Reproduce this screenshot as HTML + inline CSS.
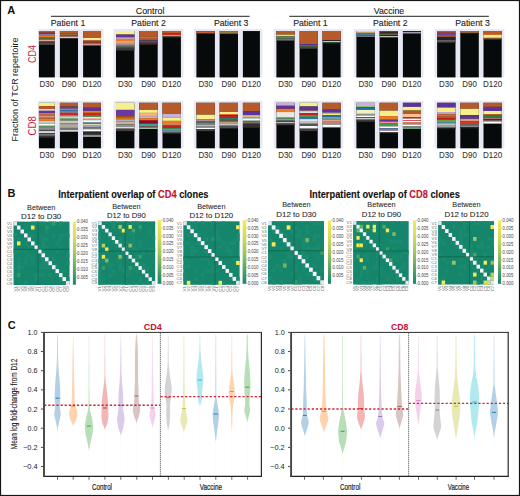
<!DOCTYPE html><html><head><meta charset="utf-8"><style>html,body{margin:0;padding:0;background:#fff;}svg{display:block;}</style></head><body><svg width="520" height="496" viewBox="0 0 520 496" font-family='"Liberation Sans", sans-serif'><text x="7.30" y="14.30" font-size="11" text-anchor="start" fill="#111" font-weight="bold" >A</text>
<text x="150.10" y="13.70" font-size="9" text-anchor="middle" fill="#1a1a1a" stroke="#1a1a1a" stroke-width="0.1" textLength="28.80" lengthAdjust="spacingAndGlyphs" >Control</text>
<line x1="51" y1="16.3" x2="249.5" y2="16.3" stroke="#222" stroke-width="1"/>
<text x="389.00" y="13.70" font-size="9" text-anchor="middle" fill="#1a1a1a" stroke="#1a1a1a" stroke-width="0.1" textLength="30.50" lengthAdjust="spacingAndGlyphs" >Vaccine</text>
<line x1="289.3" y1="16.3" x2="488.8" y2="16.3" stroke="#222" stroke-width="1"/>
<text x="68.00" y="26.00" font-size="8.8" text-anchor="middle" fill="#1a1a1a" stroke="#1a1a1a" stroke-width="0.1" textLength="34.50" lengthAdjust="spacingAndGlyphs" >Patient 1</text>
<text x="148.50" y="26.00" font-size="8.8" text-anchor="middle" fill="#1a1a1a" stroke="#1a1a1a" stroke-width="0.1" textLength="34.50" lengthAdjust="spacingAndGlyphs" >Patient 2</text>
<text x="231.20" y="26.00" font-size="8.8" text-anchor="middle" fill="#1a1a1a" stroke="#1a1a1a" stroke-width="0.1" textLength="34.50" lengthAdjust="spacingAndGlyphs" >Patient 3</text>
<text x="310.40" y="26.00" font-size="8.8" text-anchor="middle" fill="#1a1a1a" stroke="#1a1a1a" stroke-width="0.1" textLength="34.50" lengthAdjust="spacingAndGlyphs" >Patient 1</text>
<text x="390.30" y="26.00" font-size="8.8" text-anchor="middle" fill="#1a1a1a" stroke="#1a1a1a" stroke-width="0.1" textLength="34.50" lengthAdjust="spacingAndGlyphs" >Patient 2</text>
<text x="472.50" y="26.00" font-size="8.8" text-anchor="middle" fill="#1a1a1a" stroke="#1a1a1a" stroke-width="0.1" textLength="34.50" lengthAdjust="spacingAndGlyphs" >Patient 3</text>
<defs><linearGradient id="bgfade" x1="0" x2="1" y1="0" y2="0"><stop offset="0" stop-color="#e3e3f1"/><stop offset="1" stop-color="#e3e3f1"/></linearGradient></defs>
<rect x="38.60" y="29.00" width="64.90" height="48.40" fill="#e8e8f4"/>
<rect x="38.90" y="31.00" width="15.90" height="46.40" fill="#070a0b"/>
<rect x="38.90" y="31.00" width="15.90" height="1.80" fill="#b65a2a"/>
<rect x="38.90" y="32.80" width="15.90" height="1.60" fill="#5f329c"/>
<rect x="38.90" y="34.40" width="15.90" height="1.10" fill="#cbb6dc"/>
<rect x="38.90" y="35.50" width="15.90" height="2.10" fill="#ee7a22"/>
<rect x="38.90" y="37.60" width="15.90" height="1.00" fill="#a8703e"/>
<rect x="38.90" y="38.60" width="15.90" height="1.30" fill="#3f9a46"/>
<rect x="38.90" y="39.90" width="15.90" height="1.60" fill="#e3a394"/>
<rect x="38.90" y="41.50" width="15.90" height="1.70" fill="#4a3b33"/>
<rect x="38.90" y="43.20" width="15.90" height="1.60" fill="#555"/>
<text x="46.85" y="86.90" font-size="8.3" text-anchor="middle" fill="#333" stroke="#333" stroke-width="0.08" textLength="14.50" lengthAdjust="spacingAndGlyphs" >D30</text>
<rect x="59.90" y="31.00" width="18.10" height="46.40" fill="#070a0b"/>
<rect x="59.90" y="31.00" width="18.10" height="2.80" fill="#b65a2a"/>
<rect x="59.90" y="33.80" width="18.10" height="1.70" fill="#8d6a3f"/>
<rect x="59.90" y="35.50" width="18.10" height="1.10" fill="#b65a2a"/>
<rect x="59.90" y="36.60" width="18.10" height="1.70" fill="#e6c2b6"/>
<rect x="59.90" y="38.30" width="18.10" height="0.70" fill="#2a2a3a"/>
<text x="68.95" y="86.90" font-size="8.3" text-anchor="middle" fill="#333" stroke="#333" stroke-width="0.08" textLength="14.50" lengthAdjust="spacingAndGlyphs" >D90</text>
<rect x="83.10" y="31.00" width="17.80" height="46.40" fill="#070a0b"/>
<rect x="83.10" y="31.00" width="17.80" height="7.00" fill="#b65a2a"/>
<rect x="83.10" y="38.00" width="17.80" height="2.60" fill="#f7f08a"/>
<rect x="83.10" y="40.60" width="17.80" height="2.20" fill="#cf2424"/>
<rect x="83.10" y="42.80" width="17.80" height="1.30" fill="#4a80a0"/>
<rect x="83.10" y="44.10" width="17.80" height="1.30" fill="#e0a494"/>
<text x="92.00" y="86.90" font-size="8.3" text-anchor="middle" fill="#333" stroke="#333" stroke-width="0.08" textLength="19.20" lengthAdjust="spacingAndGlyphs" >D120</text>
<rect x="113.40" y="29.00" width="70.10" height="48.40" fill="#e8e8f4"/>
<rect x="116.00" y="31.00" width="18.40" height="46.40" fill="#070a0b"/>
<rect x="116.00" y="31.00" width="18.40" height="3.60" fill="#f7f08a"/>
<rect x="116.00" y="34.60" width="18.40" height="2.70" fill="#5f329c"/>
<rect x="116.00" y="37.30" width="18.40" height="1.60" fill="#cbb6dc"/>
<rect x="116.00" y="38.90" width="18.40" height="2.10" fill="#ee7a22"/>
<rect x="116.00" y="41.00" width="18.40" height="2.00" fill="#e8a070"/>
<rect x="116.00" y="43.00" width="18.40" height="1.00" fill="#90a890"/>
<rect x="116.00" y="44.00" width="18.40" height="1.80" fill="#939393"/>
<rect x="116.00" y="45.80" width="18.40" height="2.00" fill="#6a6060"/>
<rect x="116.00" y="47.80" width="18.40" height="2.70" fill="#3a3a3a"/>
<text x="125.20" y="86.90" font-size="8.3" text-anchor="middle" fill="#333" stroke="#333" stroke-width="0.08" textLength="14.50" lengthAdjust="spacingAndGlyphs" >D30</text>
<rect x="139.20" y="31.00" width="18.50" height="46.40" fill="#070a0b"/>
<rect x="139.20" y="31.00" width="18.50" height="5.90" fill="#b65a2a"/>
<rect x="139.20" y="36.90" width="18.50" height="1.10" fill="#a08050"/>
<rect x="139.20" y="38.00" width="18.50" height="1.00" fill="#b65a2a"/>
<rect x="139.20" y="39.00" width="18.50" height="0.60" fill="#e0b080"/>
<rect x="139.20" y="39.60" width="18.50" height="1.00" fill="#6a5060"/>
<rect x="139.20" y="40.60" width="18.50" height="2.20" fill="#5a4a7a"/>
<rect x="139.20" y="42.80" width="18.50" height="1.90" fill="#4a3020"/>
<text x="148.45" y="86.90" font-size="8.3" text-anchor="middle" fill="#333" stroke="#333" stroke-width="0.08" textLength="14.50" lengthAdjust="spacingAndGlyphs" >D90</text>
<rect x="162.50" y="31.00" width="18.40" height="46.40" fill="#070a0b"/>
<rect x="162.50" y="31.00" width="18.40" height="2.70" fill="#b65a2a"/>
<rect x="162.50" y="33.70" width="18.40" height="1.40" fill="#cf2424"/>
<rect x="162.50" y="35.10" width="18.40" height="1.40" fill="#a0d070"/>
<rect x="162.50" y="36.50" width="18.40" height="1.00" fill="#4a3020"/>
<text x="171.70" y="86.90" font-size="8.3" text-anchor="middle" fill="#333" stroke="#333" stroke-width="0.08" textLength="19.20" lengthAdjust="spacingAndGlyphs" >D120</text>
<rect x="193.80" y="29.00" width="68.70" height="48.40" fill="#e8e8f4"/>
<rect x="196.40" y="31.00" width="18.50" height="46.40" fill="#070a0b"/>
<rect x="196.40" y="31.00" width="18.50" height="0.80" fill="#7070a0"/>
<rect x="196.40" y="31.80" width="18.50" height="1.40" fill="#c06030"/>
<rect x="196.40" y="33.20" width="18.50" height="0.80" fill="#404040"/>
<text x="205.65" y="86.90" font-size="8.3" text-anchor="middle" fill="#333" stroke="#333" stroke-width="0.08" textLength="14.50" lengthAdjust="spacingAndGlyphs" >D30</text>
<rect x="219.60" y="31.00" width="18.40" height="46.40" fill="#070a0b"/>
<rect x="219.60" y="31.00" width="18.40" height="1.40" fill="#b65a2a"/>
<rect x="219.60" y="32.40" width="18.40" height="1.10" fill="#d0b060"/>
<text x="228.80" y="86.90" font-size="8.3" text-anchor="middle" fill="#333" stroke="#333" stroke-width="0.08" textLength="14.50" lengthAdjust="spacingAndGlyphs" >D90</text>
<rect x="242.90" y="31.00" width="17.00" height="46.40" fill="#070a0b"/>
<rect x="242.90" y="31.00" width="17.00" height="0.50" fill="#2a1a1a"/>
<text x="251.40" y="86.90" font-size="8.3" text-anchor="middle" fill="#333" stroke="#333" stroke-width="0.08" textLength="19.20" lengthAdjust="spacingAndGlyphs" >D120</text>
<rect x="273.80" y="29.00" width="69.40" height="48.40" fill="#e8e8f4"/>
<rect x="276.40" y="31.00" width="18.20" height="46.40" fill="#070a0b"/>
<rect x="276.40" y="31.00" width="18.20" height="3.60" fill="#b65a2a"/>
<rect x="276.40" y="34.60" width="18.20" height="1.90" fill="#e8e070"/>
<rect x="276.40" y="36.50" width="18.20" height="1.70" fill="#4a8a4a"/>
<rect x="276.40" y="38.20" width="18.20" height="2.40" fill="#707070"/>
<text x="285.50" y="86.90" font-size="8.3" text-anchor="middle" fill="#333" stroke="#333" stroke-width="0.08" textLength="14.50" lengthAdjust="spacingAndGlyphs" >D30</text>
<rect x="299.60" y="31.00" width="18.10" height="46.40" fill="#070a0b"/>
<rect x="299.60" y="31.00" width="18.10" height="13.10" fill="#b65a2a"/>
<rect x="299.60" y="44.10" width="18.10" height="1.20" fill="#5f329c"/>
<rect x="299.60" y="45.30" width="18.10" height="1.10" fill="#a08040"/>
<rect x="299.60" y="46.40" width="18.10" height="1.10" fill="#3a6a3a"/>
<rect x="299.60" y="47.50" width="18.10" height="1.00" fill="#606060"/>
<text x="308.65" y="86.90" font-size="8.3" text-anchor="middle" fill="#333" stroke="#333" stroke-width="0.08" textLength="14.50" lengthAdjust="spacingAndGlyphs" >D90</text>
<rect x="322.50" y="31.00" width="18.10" height="46.40" fill="#070a0b"/>
<rect x="322.50" y="31.00" width="18.10" height="9.00" fill="#b65a2a"/>
<rect x="322.50" y="40.00" width="18.10" height="1.00" fill="#3a2030"/>
<rect x="322.50" y="41.00" width="18.10" height="1.10" fill="#c0c0d0"/>
<rect x="322.50" y="42.10" width="18.10" height="1.20" fill="#2a5a3a"/>
<text x="331.55" y="86.90" font-size="8.3" text-anchor="middle" fill="#333" stroke="#333" stroke-width="0.08" textLength="19.20" lengthAdjust="spacingAndGlyphs" >D120</text>
<rect x="353.80" y="29.00" width="69.70" height="48.40" fill="#e8e8f4"/>
<rect x="356.40" y="31.00" width="18.50" height="46.40" fill="#070a0b"/>
<rect x="356.40" y="31.00" width="18.50" height="1.80" fill="#e0d890"/>
<rect x="356.40" y="32.80" width="18.50" height="1.00" fill="#e06030"/>
<rect x="356.40" y="33.80" width="18.50" height="1.70" fill="#4a7aa0"/>
<rect x="356.40" y="35.50" width="18.50" height="1.40" fill="#808080"/>
<text x="365.65" y="86.90" font-size="8.3" text-anchor="middle" fill="#333" stroke="#333" stroke-width="0.08" textLength="14.50" lengthAdjust="spacingAndGlyphs" >D30</text>
<rect x="379.60" y="31.00" width="18.40" height="46.40" fill="#070a0b"/>
<rect x="379.60" y="31.00" width="18.40" height="1.50" fill="#7a3a20"/>
<rect x="379.60" y="32.50" width="18.40" height="1.00" fill="#3a2a3a"/>
<rect x="379.60" y="33.50" width="18.40" height="1.50" fill="#5a6a3a"/>
<rect x="379.60" y="35.00" width="18.40" height="0.90" fill="#111"/>
<rect x="379.60" y="35.90" width="18.40" height="1.40" fill="#c0c0c0"/>
<text x="388.80" y="86.90" font-size="8.3" text-anchor="middle" fill="#333" stroke="#333" stroke-width="0.08" textLength="14.50" lengthAdjust="spacingAndGlyphs" >D90</text>
<rect x="402.90" y="31.00" width="18.00" height="46.40" fill="#070a0b"/>
<rect x="402.90" y="31.00" width="18.00" height="1.00" fill="#2a1a2a"/>
<rect x="402.90" y="32.00" width="18.00" height="1.50" fill="#a898b8"/>
<text x="411.90" y="86.90" font-size="8.3" text-anchor="middle" fill="#333" stroke="#333" stroke-width="0.08" textLength="19.20" lengthAdjust="spacingAndGlyphs" >D120</text>
<rect x="434.50" y="29.00" width="69.80" height="48.40" fill="#e8e8f4"/>
<rect x="437.10" y="31.00" width="18.40" height="46.40" fill="#070a0b"/>
<rect x="437.10" y="31.00" width="18.40" height="1.80" fill="#b65a2a"/>
<rect x="437.10" y="32.80" width="18.40" height="2.30" fill="#7040a0"/>
<rect x="437.10" y="35.10" width="18.40" height="1.80" fill="#c05a28"/>
<rect x="437.10" y="36.90" width="18.40" height="3.10" fill="#1a2a2a"/>
<rect x="437.10" y="40.00" width="18.40" height="1.90" fill="#606060"/>
<rect x="437.10" y="41.90" width="18.40" height="1.10" fill="#303030"/>
<text x="446.30" y="86.90" font-size="8.3" text-anchor="middle" fill="#333" stroke="#333" stroke-width="0.08" textLength="14.50" lengthAdjust="spacingAndGlyphs" >D30</text>
<rect x="460.30" y="31.00" width="18.50" height="46.40" fill="#070a0b"/>
<rect x="460.30" y="31.00" width="18.50" height="1.50" fill="#b65a2a"/>
<rect x="460.30" y="32.50" width="18.50" height="0.70" fill="#c09050"/>
<rect x="460.30" y="33.20" width="18.50" height="0.80" fill="#201830"/>
<text x="469.55" y="86.90" font-size="8.3" text-anchor="middle" fill="#333" stroke="#333" stroke-width="0.08" textLength="14.50" lengthAdjust="spacingAndGlyphs" >D90</text>
<rect x="483.50" y="31.00" width="18.20" height="46.40" fill="#070a0b"/>
<rect x="483.50" y="31.00" width="18.20" height="3.10" fill="#b65a2a"/>
<rect x="483.50" y="34.10" width="18.20" height="0.90" fill="#ee7a22"/>
<rect x="483.50" y="35.00" width="18.20" height="2.80" fill="#f7f08a"/>
<rect x="483.50" y="37.80" width="18.20" height="0.70" fill="#f0b080"/>
<rect x="483.50" y="38.50" width="18.20" height="1.00" fill="#6a5040"/>
<text x="492.60" y="86.90" font-size="8.3" text-anchor="middle" fill="#333" stroke="#333" stroke-width="0.08" textLength="19.20" lengthAdjust="spacingAndGlyphs" >D120</text>
<rect x="38.60" y="100.80" width="64.90" height="47.50" fill="#e8e8f4"/>
<rect x="38.90" y="102.80" width="15.90" height="45.50" fill="#070a0b"/>
<rect x="38.90" y="102.80" width="15.90" height="3.30" fill="#f7f08a"/>
<rect x="38.90" y="106.10" width="15.90" height="2.90" fill="#b65a2a"/>
<rect x="38.90" y="109.00" width="15.90" height="1.90" fill="#d8c8e8"/>
<rect x="38.90" y="110.90" width="15.90" height="2.50" fill="#5f329c"/>
<rect x="38.90" y="113.40" width="15.90" height="0.90" fill="#f0d0b0"/>
<rect x="38.90" y="114.30" width="15.90" height="1.20" fill="#ee7a22"/>
<rect x="38.90" y="115.50" width="15.90" height="1.50" fill="#e09090"/>
<rect x="38.90" y="117.00" width="15.90" height="1.30" fill="#60a060"/>
<rect x="38.90" y="118.30" width="15.90" height="2.60" fill="#ee7a22"/>
<rect x="38.90" y="120.90" width="15.90" height="2.80" fill="#c0c8d0"/>
<rect x="38.90" y="123.70" width="15.90" height="2.10" fill="#ffffff"/>
<rect x="38.90" y="125.80" width="15.90" height="1.00" fill="#50a050"/>
<rect x="38.90" y="126.80" width="15.90" height="0.70" fill="#d0d0d0"/>
<rect x="38.90" y="127.50" width="15.90" height="2.40" fill="#909090"/>
<rect x="38.90" y="129.90" width="15.90" height="1.10" fill="#505050"/>
<rect x="38.90" y="131.00" width="15.90" height="1.20" fill="#c8c8c8"/>
<rect x="38.90" y="132.20" width="15.90" height="1.00" fill="#ffffff"/>
<rect x="38.90" y="133.20" width="15.90" height="1.20" fill="#404040"/>
<rect x="38.90" y="134.40" width="15.90" height="1.10" fill="#b0b0b0"/>
<rect x="38.90" y="135.50" width="15.90" height="1.00" fill="#666"/>
<rect x="38.90" y="136.50" width="15.90" height="1.20" fill="#333"/>
<text x="46.85" y="157.50" font-size="8.3" text-anchor="middle" fill="#333" stroke="#333" stroke-width="0.08" textLength="14.50" lengthAdjust="spacingAndGlyphs" >D30</text>
<rect x="59.90" y="102.80" width="18.10" height="45.50" fill="#070a0b"/>
<rect x="59.90" y="102.80" width="18.10" height="3.90" fill="#b65a2a"/>
<rect x="59.90" y="106.70" width="18.10" height="2.00" fill="#6040a0"/>
<rect x="59.90" y="108.70" width="18.10" height="1.10" fill="#f0a0b0"/>
<rect x="59.90" y="109.80" width="18.10" height="1.70" fill="#3070a0"/>
<rect x="59.90" y="111.50" width="18.10" height="1.20" fill="#a0d0f0"/>
<rect x="59.90" y="112.70" width="18.10" height="2.40" fill="#d82020"/>
<rect x="59.90" y="115.10" width="18.10" height="1.10" fill="#ee7a22"/>
<rect x="59.90" y="116.20" width="18.10" height="2.10" fill="#c8d8c0"/>
<rect x="59.90" y="118.30" width="18.10" height="1.20" fill="#a0c8a0"/>
<rect x="59.90" y="119.50" width="18.10" height="1.00" fill="#70a870"/>
<rect x="59.90" y="120.50" width="18.10" height="3.00" fill="#d0c8b0"/>
<rect x="59.90" y="123.50" width="18.10" height="1.50" fill="#a0a0a0"/>
<rect x="59.90" y="125.00" width="18.10" height="2.00" fill="#b0a898"/>
<rect x="59.90" y="127.00" width="18.10" height="1.00" fill="#999"/>
<rect x="59.90" y="128.00" width="18.10" height="1.70" fill="#707070"/>
<rect x="59.90" y="129.70" width="18.10" height="1.30" fill="#d0d0d0"/>
<rect x="59.90" y="131.00" width="18.10" height="0.60" fill="#ffffff"/>
<text x="68.95" y="157.50" font-size="8.3" text-anchor="middle" fill="#333" stroke="#333" stroke-width="0.08" textLength="14.50" lengthAdjust="spacingAndGlyphs" >D90</text>
<rect x="83.10" y="102.80" width="17.80" height="45.50" fill="#070a0b"/>
<rect x="83.10" y="102.80" width="17.80" height="5.00" fill="#b65a2a"/>
<rect x="83.10" y="107.80" width="17.80" height="3.10" fill="#5f329c"/>
<rect x="83.10" y="110.90" width="17.80" height="2.00" fill="#ee7a22"/>
<rect x="83.10" y="112.90" width="17.80" height="2.20" fill="#cf2424"/>
<rect x="83.10" y="115.10" width="17.80" height="1.70" fill="#30a040"/>
<rect x="83.10" y="116.80" width="17.80" height="1.20" fill="#f0f0a0"/>
<rect x="83.10" y="118.00" width="17.80" height="1.60" fill="#f0b0b0"/>
<rect x="83.10" y="119.60" width="17.80" height="1.40" fill="#e0e0e0"/>
<rect x="83.10" y="121.00" width="17.80" height="1.60" fill="#ffffff"/>
<rect x="83.10" y="122.60" width="17.80" height="1.50" fill="#3a80b0"/>
<rect x="83.10" y="124.10" width="17.80" height="0.90" fill="#f0f0b0"/>
<rect x="83.10" y="125.00" width="17.80" height="2.60" fill="#a0a0c0"/>
<rect x="83.10" y="127.60" width="17.80" height="1.40" fill="#808080"/>
<rect x="83.10" y="129.00" width="17.80" height="1.00" fill="#d0d0d0"/>
<rect x="83.10" y="130.00" width="17.80" height="1.20" fill="#ffffff"/>
<rect x="83.10" y="131.20" width="17.80" height="1.00" fill="#777"/>
<rect x="83.10" y="132.20" width="17.80" height="2.60" fill="#303030"/>
<rect x="83.10" y="134.80" width="17.80" height="2.20" fill="#909090"/>
<text x="92.00" y="157.50" font-size="8.3" text-anchor="middle" fill="#333" stroke="#333" stroke-width="0.08" textLength="19.20" lengthAdjust="spacingAndGlyphs" >D120</text>
<rect x="113.40" y="100.80" width="70.10" height="47.50" fill="#e8e8f4"/>
<rect x="116.00" y="102.80" width="18.40" height="45.50" fill="#070a0b"/>
<rect x="116.00" y="102.80" width="18.40" height="7.10" fill="#f7f08a"/>
<rect x="116.00" y="109.90" width="18.40" height="6.20" fill="#6a38a0"/>
<rect x="116.00" y="116.10" width="18.40" height="2.00" fill="#b05a28"/>
<rect x="116.00" y="118.10" width="18.40" height="2.10" fill="#ee7a22"/>
<rect x="116.00" y="120.20" width="18.40" height="1.30" fill="#c0d8f0"/>
<rect x="116.00" y="121.50" width="18.40" height="2.80" fill="#d0b090"/>
<rect x="116.00" y="124.30" width="18.40" height="2.70" fill="#909090"/>
<rect x="116.00" y="127.00" width="18.40" height="1.50" fill="#f0d8d0"/>
<rect x="116.00" y="128.50" width="18.40" height="0.50" fill="#888"/>
<rect x="116.00" y="129.00" width="18.40" height="2.10" fill="#404040"/>
<text x="125.20" y="157.50" font-size="8.3" text-anchor="middle" fill="#333" stroke="#333" stroke-width="0.08" textLength="14.50" lengthAdjust="spacingAndGlyphs" >D30</text>
<rect x="139.20" y="102.80" width="18.50" height="45.50" fill="#070a0b"/>
<rect x="139.20" y="102.80" width="18.50" height="7.10" fill="#b65a2a"/>
<rect x="139.20" y="109.90" width="18.50" height="3.00" fill="#f7f08a"/>
<rect x="139.20" y="112.90" width="18.50" height="3.20" fill="#f8b070"/>
<rect x="139.20" y="116.10" width="18.50" height="2.00" fill="#c8b0d8"/>
<rect x="139.20" y="118.10" width="18.50" height="2.10" fill="#ee7a22"/>
<rect x="139.20" y="120.20" width="18.50" height="1.30" fill="#cf2424"/>
<rect x="139.20" y="121.50" width="18.50" height="2.10" fill="#801830"/>
<rect x="139.20" y="123.60" width="18.50" height="1.60" fill="#40a0a0"/>
<rect x="139.20" y="125.20" width="18.50" height="1.30" fill="#b09080"/>
<rect x="139.20" y="126.50" width="18.50" height="1.20" fill="#806060"/>
<rect x="139.20" y="127.70" width="18.50" height="1.10" fill="#c8e8c8"/>
<text x="148.45" y="157.50" font-size="8.3" text-anchor="middle" fill="#333" stroke="#333" stroke-width="0.08" textLength="14.50" lengthAdjust="spacingAndGlyphs" >D90</text>
<rect x="162.50" y="102.80" width="18.40" height="45.50" fill="#070a0b"/>
<rect x="162.50" y="102.80" width="18.40" height="11.00" fill="#b65a2a"/>
<rect x="162.50" y="113.80" width="18.40" height="3.60" fill="#c8b0d8"/>
<rect x="162.50" y="117.40" width="18.40" height="3.50" fill="#f7f08a"/>
<rect x="162.50" y="120.90" width="18.40" height="3.40" fill="#ee7a22"/>
<rect x="162.50" y="124.30" width="18.40" height="1.20" fill="#f8b080"/>
<rect x="162.50" y="125.50" width="18.40" height="1.90" fill="#c82020"/>
<rect x="162.50" y="127.40" width="18.40" height="1.60" fill="#3a8a4a"/>
<rect x="162.50" y="129.00" width="18.40" height="1.00" fill="#909070"/>
<rect x="162.50" y="130.00" width="18.40" height="1.50" fill="#6080a0"/>
<rect x="162.50" y="131.50" width="18.40" height="1.00" fill="#c0c0c0"/>
<rect x="162.50" y="132.50" width="18.40" height="1.00" fill="#444"/>
<text x="171.70" y="157.50" font-size="8.3" text-anchor="middle" fill="#333" stroke="#333" stroke-width="0.08" textLength="19.20" lengthAdjust="spacingAndGlyphs" >D120</text>
<rect x="193.80" y="100.80" width="68.70" height="47.50" fill="#e8e8f4"/>
<rect x="196.40" y="102.80" width="18.50" height="45.50" fill="#070a0b"/>
<rect x="196.40" y="102.80" width="18.50" height="11.90" fill="#b65a2a"/>
<rect x="196.40" y="114.70" width="18.50" height="4.80" fill="#f7f08a"/>
<rect x="196.40" y="119.50" width="18.50" height="2.00" fill="#b08aa0"/>
<rect x="196.40" y="121.50" width="18.50" height="1.00" fill="#4a8a4a"/>
<rect x="196.40" y="122.50" width="18.50" height="2.50" fill="#808080"/>
<rect x="196.40" y="125.00" width="18.50" height="1.00" fill="#b0c0b0"/>
<rect x="196.40" y="126.00" width="18.50" height="1.70" fill="#888"/>
<rect x="196.40" y="127.70" width="18.50" height="1.30" fill="#ffffff"/>
<rect x="196.40" y="129.00" width="18.50" height="2.10" fill="#404040"/>
<text x="205.65" y="157.50" font-size="8.3" text-anchor="middle" fill="#333" stroke="#333" stroke-width="0.08" textLength="14.50" lengthAdjust="spacingAndGlyphs" >D30</text>
<rect x="219.60" y="102.80" width="18.40" height="45.50" fill="#070a0b"/>
<rect x="219.60" y="102.80" width="18.40" height="9.20" fill="#b65a2a"/>
<rect x="219.60" y="112.00" width="18.40" height="2.00" fill="#f7f08a"/>
<rect x="219.60" y="114.00" width="18.40" height="1.50" fill="#e07030"/>
<rect x="219.60" y="115.50" width="18.40" height="0.50" fill="#333"/>
<rect x="219.60" y="116.00" width="18.40" height="1.50" fill="#d02030"/>
<rect x="219.60" y="117.50" width="18.40" height="1.70" fill="#308060"/>
<rect x="219.60" y="119.20" width="18.40" height="1.30" fill="#607060"/>
<rect x="219.60" y="120.50" width="18.40" height="1.30" fill="#807060"/>
<rect x="219.60" y="121.80" width="18.40" height="1.70" fill="#c0a080"/>
<rect x="219.60" y="123.50" width="18.40" height="0.80" fill="#ddd"/>
<rect x="219.60" y="124.30" width="18.40" height="1.30" fill="#ffffff"/>
<rect x="219.60" y="125.60" width="18.40" height="2.80" fill="#505050"/>
<text x="228.80" y="157.50" font-size="8.3" text-anchor="middle" fill="#333" stroke="#333" stroke-width="0.08" textLength="14.50" lengthAdjust="spacingAndGlyphs" >D90</text>
<rect x="242.90" y="102.80" width="17.00" height="45.50" fill="#070a0b"/>
<rect x="242.90" y="102.80" width="17.00" height="8.80" fill="#b65a2a"/>
<rect x="242.90" y="111.60" width="17.00" height="3.50" fill="#5f329c"/>
<rect x="242.90" y="115.10" width="17.00" height="2.30" fill="#e0c070"/>
<rect x="242.90" y="117.40" width="17.00" height="1.60" fill="#a0d0e0"/>
<rect x="242.90" y="119.00" width="17.00" height="1.50" fill="#ffffff"/>
<rect x="242.90" y="120.50" width="17.00" height="1.00" fill="#ddd"/>
<rect x="242.90" y="121.50" width="17.00" height="1.00" fill="#c02020"/>
<rect x="242.90" y="122.50" width="17.00" height="1.00" fill="#a0d0a0"/>
<rect x="242.90" y="123.50" width="17.00" height="4.20" fill="#303030"/>
<text x="251.40" y="157.50" font-size="8.3" text-anchor="middle" fill="#333" stroke="#333" stroke-width="0.08" textLength="19.20" lengthAdjust="spacingAndGlyphs" >D120</text>
<rect x="273.80" y="100.80" width="69.40" height="47.50" fill="#e8e8f4"/>
<rect x="276.40" y="102.80" width="18.20" height="45.50" fill="#070a0b"/>
<rect x="276.40" y="102.80" width="18.20" height="3.00" fill="#c8b0d8"/>
<rect x="276.40" y="105.80" width="18.20" height="3.00" fill="#5f329c"/>
<rect x="276.40" y="108.80" width="18.20" height="3.20" fill="#ee7a22"/>
<rect x="276.40" y="112.00" width="18.20" height="1.00" fill="#f0d8c8"/>
<rect x="276.40" y="113.00" width="18.20" height="4.40" fill="#e8e8e8"/>
<rect x="276.40" y="117.40" width="18.20" height="1.10" fill="#a0c8a0"/>
<rect x="276.40" y="118.50" width="18.20" height="1.10" fill="#50a050"/>
<rect x="276.40" y="119.60" width="18.20" height="0.90" fill="#ffffff"/>
<rect x="276.40" y="120.50" width="18.20" height="1.50" fill="#444"/>
<rect x="276.40" y="122.00" width="18.20" height="1.50" fill="#c0c0c0"/>
<rect x="276.40" y="123.50" width="18.20" height="1.70" fill="#404040"/>
<text x="285.50" y="157.50" font-size="8.3" text-anchor="middle" fill="#333" stroke="#333" stroke-width="0.08" textLength="14.50" lengthAdjust="spacingAndGlyphs" >D30</text>
<rect x="299.60" y="102.80" width="18.10" height="45.50" fill="#070a0b"/>
<rect x="299.60" y="102.80" width="18.10" height="3.70" fill="#f7f08a"/>
<rect x="299.60" y="106.50" width="18.10" height="4.10" fill="#5f329c"/>
<rect x="299.60" y="110.60" width="18.10" height="1.40" fill="#f0c080"/>
<rect x="299.60" y="112.00" width="18.10" height="1.00" fill="#ddd"/>
<rect x="299.60" y="113.00" width="18.10" height="2.00" fill="#c02020"/>
<rect x="299.60" y="115.00" width="18.10" height="1.80" fill="#40a040"/>
<rect x="299.60" y="116.80" width="18.10" height="0.70" fill="#a0d070"/>
<rect x="299.60" y="117.50" width="18.10" height="1.70" fill="#3070b0"/>
<rect x="299.60" y="119.20" width="18.10" height="1.70" fill="#ffffff"/>
<rect x="299.60" y="120.90" width="18.10" height="2.70" fill="#c0c0c0"/>
<rect x="299.60" y="123.60" width="18.10" height="0.90" fill="#c0a0a0"/>
<rect x="299.60" y="124.50" width="18.10" height="1.50" fill="#555"/>
<rect x="299.60" y="126.00" width="18.10" height="2.00" fill="#f4f4f4"/>
<rect x="299.60" y="128.00" width="18.10" height="1.30" fill="#888"/>
<rect x="299.60" y="129.30" width="18.10" height="1.80" fill="#404040"/>
<text x="308.65" y="157.50" font-size="8.3" text-anchor="middle" fill="#333" stroke="#333" stroke-width="0.08" textLength="14.50" lengthAdjust="spacingAndGlyphs" >D90</text>
<rect x="322.50" y="102.80" width="18.10" height="45.50" fill="#070a0b"/>
<rect x="322.50" y="102.80" width="18.10" height="6.90" fill="#b65a2a"/>
<rect x="322.50" y="109.70" width="18.10" height="3.00" fill="#5f329c"/>
<rect x="322.50" y="112.70" width="18.10" height="0.80" fill="#fafae0"/>
<rect x="322.50" y="113.50" width="18.10" height="1.60" fill="#f0f080"/>
<rect x="322.50" y="115.10" width="18.10" height="1.90" fill="#3070a0"/>
<rect x="322.50" y="117.00" width="18.10" height="2.50" fill="#70a0a0"/>
<rect x="322.50" y="119.50" width="18.10" height="1.40" fill="#f0b080"/>
<rect x="322.50" y="120.90" width="18.10" height="0.60" fill="#eee"/>
<rect x="322.50" y="121.50" width="18.10" height="1.40" fill="#f08090"/>
<rect x="322.50" y="122.90" width="18.10" height="1.80" fill="#80a080"/>
<rect x="322.50" y="124.70" width="18.10" height="1.30" fill="#ffffff"/>
<rect x="322.50" y="126.00" width="18.10" height="1.40" fill="#eeeeee"/>
<text x="331.55" y="157.50" font-size="8.3" text-anchor="middle" fill="#333" stroke="#333" stroke-width="0.08" textLength="19.20" lengthAdjust="spacingAndGlyphs" >D120</text>
<rect x="353.80" y="100.80" width="69.70" height="47.50" fill="#e8e8f4"/>
<rect x="356.40" y="102.80" width="18.50" height="45.50" fill="#070a0b"/>
<rect x="356.40" y="102.80" width="18.50" height="3.30" fill="#c8b0d8"/>
<rect x="356.40" y="106.10" width="18.50" height="1.10" fill="#a0d080"/>
<rect x="356.40" y="107.20" width="18.50" height="2.70" fill="#2070a8"/>
<rect x="356.40" y="109.90" width="18.50" height="3.40" fill="#f0f0c0"/>
<rect x="356.40" y="113.30" width="18.50" height="1.20" fill="#ffffff"/>
<rect x="356.40" y="114.50" width="18.50" height="1.00" fill="#a0a0a0"/>
<rect x="356.40" y="115.50" width="18.50" height="1.50" fill="#ffffff"/>
<rect x="356.40" y="117.00" width="18.50" height="1.00" fill="#555"/>
<rect x="356.40" y="118.00" width="18.50" height="1.50" fill="#ccc"/>
<rect x="356.40" y="119.50" width="18.50" height="1.00" fill="#808080"/>
<rect x="356.40" y="120.50" width="18.50" height="1.50" fill="#303030"/>
<text x="365.65" y="157.50" font-size="8.3" text-anchor="middle" fill="#333" stroke="#333" stroke-width="0.08" textLength="14.50" lengthAdjust="spacingAndGlyphs" >D30</text>
<rect x="379.60" y="102.80" width="18.40" height="45.50" fill="#070a0b"/>
<rect x="379.60" y="102.80" width="18.40" height="7.80" fill="#b65a2a"/>
<rect x="379.60" y="110.60" width="18.40" height="5.50" fill="#f7f08a"/>
<rect x="379.60" y="116.10" width="18.40" height="3.70" fill="#ee7a22"/>
<rect x="379.60" y="119.80" width="18.40" height="1.70" fill="#5f329c"/>
<rect x="379.60" y="121.50" width="18.40" height="2.10" fill="#f090a0"/>
<rect x="379.60" y="123.60" width="18.40" height="2.00" fill="#30a040"/>
<rect x="379.60" y="125.60" width="18.40" height="0.90" fill="#f0c0a0"/>
<rect x="379.60" y="126.50" width="18.40" height="1.50" fill="#ffffff"/>
<rect x="379.60" y="128.00" width="18.40" height="1.20" fill="#5070a0"/>
<rect x="379.60" y="129.20" width="18.40" height="1.60" fill="#b08890"/>
<rect x="379.60" y="130.80" width="18.40" height="1.20" fill="#ffffff"/>
<rect x="379.60" y="132.00" width="18.40" height="1.20" fill="#444"/>
<text x="388.80" y="157.50" font-size="8.3" text-anchor="middle" fill="#333" stroke="#333" stroke-width="0.08" textLength="14.50" lengthAdjust="spacingAndGlyphs" >D90</text>
<rect x="402.90" y="102.80" width="18.00" height="45.50" fill="#070a0b"/>
<rect x="402.90" y="102.80" width="18.00" height="4.10" fill="#5f329c"/>
<rect x="402.90" y="106.90" width="18.00" height="3.70" fill="#f7f08a"/>
<rect x="402.90" y="110.60" width="18.00" height="3.20" fill="#b05a28"/>
<rect x="402.90" y="113.80" width="18.00" height="3.20" fill="#f8c090"/>
<rect x="402.90" y="117.00" width="18.00" height="1.50" fill="#d02020"/>
<rect x="402.90" y="118.50" width="18.00" height="1.50" fill="#ffffff"/>
<rect x="402.90" y="120.00" width="18.00" height="1.00" fill="#e05060"/>
<rect x="402.90" y="121.00" width="18.00" height="1.00" fill="#ffffff"/>
<rect x="402.90" y="122.00" width="18.00" height="2.50" fill="#c08060"/>
<rect x="402.90" y="124.50" width="18.00" height="1.50" fill="#ffffff"/>
<rect x="402.90" y="126.00" width="18.00" height="2.00" fill="#808080"/>
<rect x="402.90" y="128.00" width="18.00" height="1.00" fill="#70a080"/>
<text x="411.90" y="157.50" font-size="8.3" text-anchor="middle" fill="#333" stroke="#333" stroke-width="0.08" textLength="19.20" lengthAdjust="spacingAndGlyphs" >D120</text>
<rect x="434.50" y="100.80" width="69.80" height="47.50" fill="#e8e8f4"/>
<rect x="437.10" y="102.80" width="18.40" height="45.50" fill="#070a0b"/>
<rect x="437.10" y="102.80" width="18.40" height="4.70" fill="#5f329c"/>
<rect x="437.10" y="107.50" width="18.40" height="4.50" fill="#f7f08a"/>
<rect x="437.10" y="112.00" width="18.40" height="2.30" fill="#c0a0d0"/>
<rect x="437.10" y="114.30" width="18.40" height="1.70" fill="#e07020"/>
<rect x="437.10" y="116.00" width="18.40" height="2.10" fill="#b05a28"/>
<rect x="437.10" y="118.10" width="18.40" height="1.70" fill="#d02020"/>
<rect x="437.10" y="119.80" width="18.40" height="1.00" fill="#a0c040"/>
<rect x="437.10" y="120.80" width="18.40" height="2.10" fill="#40a0b0"/>
<rect x="437.10" y="122.90" width="18.40" height="1.10" fill="#b09090"/>
<rect x="437.10" y="124.00" width="18.40" height="1.00" fill="#c0c0c0"/>
<rect x="437.10" y="125.00" width="18.40" height="2.00" fill="#a0a0a0"/>
<rect x="437.10" y="127.00" width="18.40" height="1.20" fill="#666"/>
<rect x="437.10" y="128.20" width="18.40" height="1.10" fill="#222"/>
<text x="446.30" y="157.50" font-size="8.3" text-anchor="middle" fill="#333" stroke="#333" stroke-width="0.08" textLength="14.50" lengthAdjust="spacingAndGlyphs" >D30</text>
<rect x="460.30" y="102.80" width="18.50" height="45.50" fill="#070a0b"/>
<rect x="460.30" y="102.80" width="18.50" height="6.00" fill="#b65a2a"/>
<rect x="460.30" y="108.80" width="18.50" height="6.30" fill="#f7f08a"/>
<rect x="460.30" y="115.10" width="18.50" height="3.70" fill="#5f329c"/>
<rect x="460.30" y="118.80" width="18.50" height="2.70" fill="#d8a070"/>
<rect x="460.30" y="121.50" width="18.50" height="2.10" fill="#e83020"/>
<rect x="460.30" y="123.60" width="18.50" height="0.90" fill="#f08030"/>
<rect x="460.30" y="124.50" width="18.50" height="1.40" fill="#5080b0"/>
<rect x="460.30" y="125.90" width="18.50" height="1.10" fill="#888"/>
<rect x="460.30" y="127.00" width="18.50" height="1.40" fill="#2a2a2a"/>
<text x="469.55" y="157.50" font-size="8.3" text-anchor="middle" fill="#333" stroke="#333" stroke-width="0.08" textLength="14.50" lengthAdjust="spacingAndGlyphs" >D90</text>
<rect x="483.50" y="102.80" width="18.20" height="45.50" fill="#070a0b"/>
<rect x="483.50" y="102.80" width="18.20" height="4.10" fill="#b65a2a"/>
<rect x="483.50" y="106.90" width="18.20" height="4.10" fill="#5f329c"/>
<rect x="483.50" y="111.00" width="18.20" height="3.30" fill="#f7f08a"/>
<rect x="483.50" y="114.30" width="18.20" height="1.20" fill="#e07030"/>
<rect x="483.50" y="115.50" width="18.20" height="2.40" fill="#308040"/>
<rect x="483.50" y="117.90" width="18.20" height="1.30" fill="#a07080"/>
<rect x="483.50" y="119.20" width="18.20" height="1.30" fill="#503030"/>
<rect x="483.50" y="120.50" width="18.20" height="1.00" fill="#c0a080"/>
<rect x="483.50" y="121.50" width="18.20" height="2.10" fill="#ffffff"/>
<text x="492.60" y="157.50" font-size="8.3" text-anchor="middle" fill="#333" stroke="#333" stroke-width="0.08" textLength="19.20" lengthAdjust="spacingAndGlyphs" >D120</text>
<text x="18.40" y="89.50" font-size="9" text-anchor="middle" fill="#1a1a1a" textLength="104.00" lengthAdjust="spacingAndGlyphs" transform="rotate(-90 18.40 89.50)" >Fraction of TCR repertoire</text>
<text x="36.30" y="54.00" font-size="10.3" text-anchor="middle" fill="#cc1a38" textLength="18.00" lengthAdjust="spacingAndGlyphs" transform="rotate(-90 36.30 54.00)" >CD4</text>
<text x="36.30" y="125.80" font-size="10.3" text-anchor="middle" fill="#cc1a38" textLength="19.20" lengthAdjust="spacingAndGlyphs" transform="rotate(-90 36.30 125.80)" >CD8</text>
<text x="7.60" y="197.20" font-size="11" text-anchor="start" fill="#111" font-weight="bold" >B</text>
<text x="58.20" y="197.6" font-size="10" font-weight="bold" fill="#111" stroke="#111" stroke-width="0.12" textLength="150.30" lengthAdjust="spacingAndGlyphs">Interpatient overlap of <tspan fill="#c8102e" stroke="#c8102e">CD4</tspan> clones</text>
<text x="309.40" y="197.6" font-size="10" font-weight="bold" fill="#111" stroke="#111" stroke-width="0.12" textLength="150.40" lengthAdjust="spacingAndGlyphs">Interpatient overlap of <tspan fill="#c8102e" stroke="#c8102e">CD8</tspan> clones</text>
<defs><linearGradient id="cbar" x1="0" y1="1" x2="0" y2="0"><stop offset="0.00" stop-color="#14866c"/><stop offset="0.25" stop-color="#5aa862"/><stop offset="0.50" stop-color="#a0c85e"/><stop offset="0.75" stop-color="#d6dc5c"/><stop offset="1.00" stop-color="#f6ea54"/></linearGradient></defs>
<rect x="13.50" y="221.60" width="56.00" height="63.40" fill="#15866c"/>
<rect x="31.00" y="221.60" width="3.50" height="3.96" fill="#1a8b6e"/>
<rect x="34.50" y="221.60" width="3.50" height="3.96" fill="#1a8b6e"/>
<rect x="38.00" y="221.60" width="3.50" height="3.96" fill="#1a8b6e"/>
<rect x="41.50" y="221.60" width="3.50" height="3.96" fill="#1a8b6e"/>
<rect x="48.50" y="221.60" width="3.50" height="3.96" fill="#1a8b6e"/>
<rect x="59.00" y="221.60" width="3.50" height="3.96" fill="#1a8b6e"/>
<rect x="24.00" y="225.56" width="3.50" height="3.96" fill="#1a8b6e"/>
<rect x="34.50" y="225.56" width="3.50" height="3.96" fill="#1a8b6e"/>
<rect x="45.00" y="229.53" width="3.50" height="3.96" fill="#1a8b6e"/>
<rect x="13.50" y="233.49" width="3.50" height="3.96" fill="#1a8b6e"/>
<rect x="27.50" y="233.49" width="3.50" height="3.96" fill="#1a8b6e"/>
<rect x="31.00" y="233.49" width="3.50" height="3.96" fill="#1a8b6e"/>
<rect x="52.00" y="233.49" width="3.50" height="3.96" fill="#1a8b6e"/>
<rect x="59.00" y="233.49" width="3.50" height="3.96" fill="#1a8b6e"/>
<rect x="62.50" y="233.49" width="3.50" height="3.96" fill="#1a8b6e"/>
<rect x="66.00" y="233.49" width="3.50" height="3.96" fill="#1a8b6e"/>
<rect x="17.00" y="237.45" width="3.50" height="3.96" fill="#1a8b6e"/>
<rect x="41.50" y="237.45" width="3.50" height="3.96" fill="#1a8b6e"/>
<rect x="45.00" y="237.45" width="3.50" height="3.96" fill="#1a8b6e"/>
<rect x="59.00" y="237.45" width="3.50" height="3.96" fill="#1a8b6e"/>
<rect x="24.00" y="241.41" width="3.50" height="3.96" fill="#1a8b6e"/>
<rect x="41.50" y="241.41" width="3.50" height="3.96" fill="#1a8b6e"/>
<rect x="55.50" y="241.41" width="3.50" height="3.96" fill="#1a8b6e"/>
<rect x="27.50" y="245.38" width="3.50" height="3.96" fill="#1a8b6e"/>
<rect x="38.00" y="245.38" width="3.50" height="3.96" fill="#1a8b6e"/>
<rect x="41.50" y="245.38" width="3.50" height="3.96" fill="#1a8b6e"/>
<rect x="45.00" y="245.38" width="3.50" height="3.96" fill="#1a8b6e"/>
<rect x="59.00" y="245.38" width="3.50" height="3.96" fill="#1a8b6e"/>
<rect x="13.50" y="249.34" width="3.50" height="3.96" fill="#1a8b6e"/>
<rect x="17.00" y="249.34" width="3.50" height="3.96" fill="#1a8b6e"/>
<rect x="24.00" y="249.34" width="3.50" height="3.96" fill="#1a8b6e"/>
<rect x="41.50" y="249.34" width="3.50" height="3.96" fill="#1a8b6e"/>
<rect x="55.50" y="249.34" width="3.50" height="3.96" fill="#1a8b6e"/>
<rect x="27.50" y="253.30" width="3.50" height="3.96" fill="#1a8b6e"/>
<rect x="66.00" y="253.30" width="3.50" height="3.96" fill="#1a8b6e"/>
<rect x="17.00" y="257.26" width="3.50" height="3.96" fill="#1a8b6e"/>
<rect x="24.00" y="257.26" width="3.50" height="3.96" fill="#1a8b6e"/>
<rect x="31.00" y="257.26" width="3.50" height="3.96" fill="#1a8b6e"/>
<rect x="41.50" y="257.26" width="3.50" height="3.96" fill="#1a8b6e"/>
<rect x="52.00" y="257.26" width="3.50" height="3.96" fill="#1a8b6e"/>
<rect x="17.00" y="261.23" width="3.50" height="3.96" fill="#1a8b6e"/>
<rect x="24.00" y="261.23" width="3.50" height="3.96" fill="#1a8b6e"/>
<rect x="31.00" y="261.23" width="3.50" height="3.96" fill="#1a8b6e"/>
<rect x="41.50" y="261.23" width="3.50" height="3.96" fill="#1a8b6e"/>
<rect x="45.00" y="261.23" width="3.50" height="3.96" fill="#1a8b6e"/>
<rect x="66.00" y="261.23" width="3.50" height="3.96" fill="#1a8b6e"/>
<rect x="20.50" y="265.19" width="3.50" height="3.96" fill="#1a8b6e"/>
<rect x="38.00" y="265.19" width="3.50" height="3.96" fill="#1a8b6e"/>
<rect x="41.50" y="265.19" width="3.50" height="3.96" fill="#1a8b6e"/>
<rect x="45.00" y="265.19" width="3.50" height="3.96" fill="#1a8b6e"/>
<rect x="55.50" y="265.19" width="3.50" height="3.96" fill="#1a8b6e"/>
<rect x="17.00" y="269.15" width="3.50" height="3.96" fill="#1a8b6e"/>
<rect x="59.00" y="269.15" width="3.50" height="3.96" fill="#1a8b6e"/>
<rect x="62.50" y="269.15" width="3.50" height="3.96" fill="#1a8b6e"/>
<rect x="34.50" y="273.11" width="3.50" height="3.96" fill="#1a8b6e"/>
<rect x="38.00" y="273.11" width="3.50" height="3.96" fill="#1a8b6e"/>
<rect x="41.50" y="273.11" width="3.50" height="3.96" fill="#1a8b6e"/>
<rect x="48.50" y="273.11" width="3.50" height="3.96" fill="#1a8b6e"/>
<rect x="34.50" y="277.07" width="3.50" height="3.96" fill="#1a8b6e"/>
<rect x="59.00" y="277.07" width="3.50" height="3.96" fill="#1a8b6e"/>
<rect x="66.00" y="277.07" width="3.50" height="3.96" fill="#1a8b6e"/>
<rect x="24.00" y="281.04" width="3.50" height="3.96" fill="#1a8b6e"/>
<rect x="62.50" y="281.04" width="3.50" height="3.96" fill="#1a8b6e"/>
<rect x="31.00" y="225.56" width="3.50" height="3.96" fill="#f6ea54"/>
<rect x="17.00" y="241.41" width="3.50" height="3.96" fill="#f6ea54"/>
<rect x="52.00" y="221.60" width="3.50" height="3.96" fill="#369667"/>
<rect x="45.00" y="225.56" width="3.50" height="3.96" fill="#2a9169"/>
<rect x="17.00" y="273.11" width="3.50" height="3.96" fill="#369667"/>
<rect x="17.00" y="265.19" width="3.50" height="3.96" fill="#258e6a"/>
<rect x="13.50" y="221.60" width="3.50" height="3.96" fill="#e8e4f0"/>
<rect x="17.00" y="225.56" width="3.50" height="3.96" fill="#f4f2f8"/>
<rect x="20.50" y="229.53" width="3.50" height="3.96" fill="#f4f2f8"/>
<rect x="24.00" y="233.49" width="3.50" height="3.96" fill="#f4f2f8"/>
<rect x="27.50" y="237.45" width="3.50" height="3.96" fill="#f4f2f8"/>
<rect x="31.00" y="241.41" width="3.50" height="3.96" fill="#f4f2f8"/>
<rect x="34.50" y="245.38" width="3.50" height="3.96" fill="#f4f2f8"/>
<rect x="38.00" y="249.34" width="3.50" height="3.96" fill="#f4f2f8"/>
<rect x="41.50" y="253.30" width="3.50" height="3.96" fill="#f4f2f8"/>
<rect x="45.00" y="257.26" width="3.50" height="3.96" fill="#f4f2f8"/>
<rect x="48.50" y="261.23" width="3.50" height="3.96" fill="#f4f2f8"/>
<rect x="52.00" y="265.19" width="3.50" height="3.96" fill="#f4f2f8"/>
<rect x="55.50" y="269.15" width="3.50" height="3.96" fill="#f4f2f8"/>
<rect x="59.00" y="273.11" width="3.50" height="3.96" fill="#f4f2f8"/>
<rect x="62.50" y="277.07" width="3.50" height="3.96" fill="#f4f2f8"/>
<rect x="66.00" y="281.04" width="3.50" height="3.96" fill="#e8e4f0"/>
<line x1="13.50" y1="249.34" x2="69.50" y2="249.34" stroke="#0e5a40" stroke-width="0.6"/>
<line x1="38.00" y1="221.60" x2="38.00" y2="285.00" stroke="#0e5a40" stroke-width="0.6"/>
<text x="12.30" y="225.08" font-size="4.4" text-anchor="end" fill="#666" >V1</text>
<text x="12.30" y="229.04" font-size="4.4" text-anchor="end" fill="#666" >V2</text>
<text x="12.30" y="233.01" font-size="4.4" text-anchor="end" fill="#666" >V3</text>
<text x="12.30" y="236.97" font-size="4.4" text-anchor="end" fill="#666" >V4</text>
<text x="12.30" y="240.93" font-size="4.4" text-anchor="end" fill="#666" >V5</text>
<text x="12.30" y="244.89" font-size="4.4" text-anchor="end" fill="#666" >V6</text>
<text x="12.30" y="248.86" font-size="4.4" text-anchor="end" fill="#666" >V7</text>
<text x="12.30" y="252.82" font-size="4.4" text-anchor="end" fill="#666" >C1</text>
<text x="12.30" y="256.78" font-size="4.4" text-anchor="end" fill="#666" >C2</text>
<text x="12.30" y="260.74" font-size="4.4" text-anchor="end" fill="#666" >C3</text>
<text x="12.30" y="264.71" font-size="4.4" text-anchor="end" fill="#666" >C4</text>
<text x="12.30" y="268.67" font-size="4.4" text-anchor="end" fill="#666" >C5</text>
<text x="12.30" y="272.63" font-size="4.4" text-anchor="end" fill="#666" >C6</text>
<text x="12.30" y="276.59" font-size="4.4" text-anchor="end" fill="#666" >C7</text>
<text x="12.30" y="280.56" font-size="4.4" text-anchor="end" fill="#666" >C8</text>
<text x="12.30" y="284.52" font-size="4.4" text-anchor="end" fill="#666" >C9</text>
<text x="16.65" y="286.20" font-size="4.4" text-anchor="end" fill="#6a6a6a" transform="rotate(-90 16.65 286.20)" >V1</text>
<text x="20.15" y="286.20" font-size="4.4" text-anchor="end" fill="#6a6a6a" transform="rotate(-90 20.15 286.20)" >V2</text>
<text x="23.65" y="286.20" font-size="4.4" text-anchor="end" fill="#6a6a6a" transform="rotate(-90 23.65 286.20)" >V3</text>
<text x="27.15" y="286.20" font-size="4.4" text-anchor="end" fill="#6a6a6a" transform="rotate(-90 27.15 286.20)" >V4</text>
<text x="30.65" y="286.20" font-size="4.4" text-anchor="end" fill="#6a6a6a" transform="rotate(-90 30.65 286.20)" >V5</text>
<text x="34.15" y="286.20" font-size="4.4" text-anchor="end" fill="#6a6a6a" transform="rotate(-90 34.15 286.20)" >V6</text>
<text x="37.65" y="286.20" font-size="4.4" text-anchor="end" fill="#6a6a6a" transform="rotate(-90 37.65 286.20)" >V7</text>
<text x="41.15" y="286.20" font-size="4.4" text-anchor="end" fill="#6a6a6a" transform="rotate(-90 41.15 286.20)" >C1</text>
<text x="44.65" y="286.20" font-size="4.4" text-anchor="end" fill="#6a6a6a" transform="rotate(-90 44.65 286.20)" >C2</text>
<text x="48.15" y="286.20" font-size="4.4" text-anchor="end" fill="#6a6a6a" transform="rotate(-90 48.15 286.20)" >C3</text>
<text x="51.65" y="286.20" font-size="4.4" text-anchor="end" fill="#6a6a6a" transform="rotate(-90 51.65 286.20)" >C4</text>
<text x="55.15" y="286.20" font-size="4.4" text-anchor="end" fill="#6a6a6a" transform="rotate(-90 55.15 286.20)" >C5</text>
<text x="58.65" y="286.20" font-size="4.4" text-anchor="end" fill="#6a6a6a" transform="rotate(-90 58.65 286.20)" >C6</text>
<text x="62.15" y="286.20" font-size="4.4" text-anchor="end" fill="#6a6a6a" transform="rotate(-90 62.15 286.20)" >C7</text>
<text x="65.65" y="286.20" font-size="4.4" text-anchor="end" fill="#6a6a6a" transform="rotate(-90 65.65 286.20)" >C8</text>
<text x="69.15" y="286.20" font-size="4.4" text-anchor="end" fill="#6a6a6a" transform="rotate(-90 69.15 286.20)" >C9</text>
<rect x="72.90" y="221.80" width="3.00" height="62.90" fill="url(#cbar)"/>
<line x1="75.90" y1="221.80" x2="77.10" y2="221.80" stroke="#777" stroke-width="0.4"/>
<text x="77.10" y="223.30" font-size="4.5" text-anchor="start" fill="#444" textLength="10.80" lengthAdjust="spacingAndGlyphs" >0.040</text>
<line x1="75.90" y1="229.70" x2="77.10" y2="229.70" stroke="#777" stroke-width="0.4"/>
<text x="77.10" y="231.20" font-size="4.5" text-anchor="start" fill="#444" textLength="10.80" lengthAdjust="spacingAndGlyphs" >0.035</text>
<line x1="75.90" y1="237.60" x2="77.10" y2="237.60" stroke="#777" stroke-width="0.4"/>
<text x="77.10" y="239.10" font-size="4.5" text-anchor="start" fill="#444" textLength="10.80" lengthAdjust="spacingAndGlyphs" >0.030</text>
<line x1="75.90" y1="245.50" x2="77.10" y2="245.50" stroke="#777" stroke-width="0.4"/>
<text x="77.10" y="247.00" font-size="4.5" text-anchor="start" fill="#444" textLength="10.80" lengthAdjust="spacingAndGlyphs" >0.025</text>
<line x1="75.90" y1="253.40" x2="77.10" y2="253.40" stroke="#777" stroke-width="0.4"/>
<text x="77.10" y="254.90" font-size="4.5" text-anchor="start" fill="#444" textLength="10.80" lengthAdjust="spacingAndGlyphs" >0.020</text>
<line x1="75.90" y1="261.30" x2="77.10" y2="261.30" stroke="#777" stroke-width="0.4"/>
<text x="77.10" y="262.80" font-size="4.5" text-anchor="start" fill="#444" textLength="10.80" lengthAdjust="spacingAndGlyphs" >0.015</text>
<line x1="75.90" y1="269.20" x2="77.10" y2="269.20" stroke="#777" stroke-width="0.4"/>
<text x="77.10" y="270.70" font-size="4.5" text-anchor="start" fill="#444" textLength="10.80" lengthAdjust="spacingAndGlyphs" >0.010</text>
<line x1="75.90" y1="277.10" x2="77.10" y2="277.10" stroke="#777" stroke-width="0.4"/>
<text x="77.10" y="278.60" font-size="4.5" text-anchor="start" fill="#444" textLength="10.80" lengthAdjust="spacingAndGlyphs" >0.005</text>
<text x="41.20" y="209.50" font-size="7.6" text-anchor="middle" fill="#222" stroke="#222" stroke-width="0.06" textLength="28.30" lengthAdjust="spacingAndGlyphs" >Between</text>
<text x="41.20" y="219.30" font-size="7.6" text-anchor="middle" fill="#222" stroke="#222" stroke-width="0.06" textLength="40.20" lengthAdjust="spacingAndGlyphs" >D12 to D30</text>
<rect x="98.40" y="221.30" width="56.80" height="63.50" fill="#15866c"/>
<rect x="111.76" y="221.30" width="3.34" height="3.74" fill="#1a8b6e"/>
<rect x="125.13" y="221.30" width="3.34" height="3.74" fill="#1a8b6e"/>
<rect x="131.81" y="221.30" width="3.34" height="3.74" fill="#1a8b6e"/>
<rect x="135.15" y="221.30" width="3.34" height="3.74" fill="#1a8b6e"/>
<rect x="98.40" y="225.04" width="3.34" height="3.74" fill="#1a8b6e"/>
<rect x="111.76" y="225.04" width="3.34" height="3.74" fill="#1a8b6e"/>
<rect x="101.74" y="228.77" width="3.34" height="3.74" fill="#1a8b6e"/>
<rect x="118.45" y="228.77" width="3.34" height="3.74" fill="#1a8b6e"/>
<rect x="138.49" y="228.77" width="3.34" height="3.74" fill="#1a8b6e"/>
<rect x="148.52" y="228.77" width="3.34" height="3.74" fill="#1a8b6e"/>
<rect x="98.40" y="232.51" width="3.34" height="3.74" fill="#1a8b6e"/>
<rect x="128.47" y="232.51" width="3.34" height="3.74" fill="#1a8b6e"/>
<rect x="131.81" y="232.51" width="3.34" height="3.74" fill="#1a8b6e"/>
<rect x="148.52" y="232.51" width="3.34" height="3.74" fill="#1a8b6e"/>
<rect x="98.40" y="236.24" width="3.34" height="3.74" fill="#1a8b6e"/>
<rect x="118.45" y="236.24" width="3.34" height="3.74" fill="#1a8b6e"/>
<rect x="131.81" y="236.24" width="3.34" height="3.74" fill="#1a8b6e"/>
<rect x="151.86" y="236.24" width="3.34" height="3.74" fill="#1a8b6e"/>
<rect x="111.76" y="239.98" width="3.34" height="3.74" fill="#1a8b6e"/>
<rect x="118.45" y="239.98" width="3.34" height="3.74" fill="#1a8b6e"/>
<rect x="125.13" y="239.98" width="3.34" height="3.74" fill="#1a8b6e"/>
<rect x="131.81" y="239.98" width="3.34" height="3.74" fill="#1a8b6e"/>
<rect x="138.49" y="239.98" width="3.34" height="3.74" fill="#1a8b6e"/>
<rect x="115.11" y="243.71" width="3.34" height="3.74" fill="#1a8b6e"/>
<rect x="131.81" y="243.71" width="3.34" height="3.74" fill="#1a8b6e"/>
<rect x="138.49" y="243.71" width="3.34" height="3.74" fill="#1a8b6e"/>
<rect x="131.81" y="247.45" width="3.34" height="3.74" fill="#1a8b6e"/>
<rect x="135.15" y="247.45" width="3.34" height="3.74" fill="#1a8b6e"/>
<rect x="148.52" y="247.45" width="3.34" height="3.74" fill="#1a8b6e"/>
<rect x="151.86" y="247.45" width="3.34" height="3.74" fill="#1a8b6e"/>
<rect x="101.74" y="251.18" width="3.34" height="3.74" fill="#1a8b6e"/>
<rect x="115.11" y="251.18" width="3.34" height="3.74" fill="#1a8b6e"/>
<rect x="141.84" y="251.18" width="3.34" height="3.74" fill="#1a8b6e"/>
<rect x="148.52" y="251.18" width="3.34" height="3.74" fill="#1a8b6e"/>
<rect x="125.13" y="254.92" width="3.34" height="3.74" fill="#1a8b6e"/>
<rect x="135.15" y="254.92" width="3.34" height="3.74" fill="#1a8b6e"/>
<rect x="98.40" y="258.65" width="3.34" height="3.74" fill="#1a8b6e"/>
<rect x="101.74" y="258.65" width="3.34" height="3.74" fill="#1a8b6e"/>
<rect x="115.11" y="258.65" width="3.34" height="3.74" fill="#1a8b6e"/>
<rect x="118.45" y="258.65" width="3.34" height="3.74" fill="#1a8b6e"/>
<rect x="105.08" y="262.39" width="3.34" height="3.74" fill="#1a8b6e"/>
<rect x="108.42" y="262.39" width="3.34" height="3.74" fill="#1a8b6e"/>
<rect x="111.76" y="262.39" width="3.34" height="3.74" fill="#1a8b6e"/>
<rect x="118.45" y="262.39" width="3.34" height="3.74" fill="#1a8b6e"/>
<rect x="138.49" y="262.39" width="3.34" height="3.74" fill="#1a8b6e"/>
<rect x="141.84" y="262.39" width="3.34" height="3.74" fill="#1a8b6e"/>
<rect x="108.42" y="266.12" width="3.34" height="3.74" fill="#1a8b6e"/>
<rect x="118.45" y="266.12" width="3.34" height="3.74" fill="#1a8b6e"/>
<rect x="121.79" y="266.12" width="3.34" height="3.74" fill="#1a8b6e"/>
<rect x="131.81" y="266.12" width="3.34" height="3.74" fill="#1a8b6e"/>
<rect x="141.84" y="266.12" width="3.34" height="3.74" fill="#1a8b6e"/>
<rect x="145.18" y="266.12" width="3.34" height="3.74" fill="#1a8b6e"/>
<rect x="98.40" y="269.86" width="3.34" height="3.74" fill="#1a8b6e"/>
<rect x="111.76" y="269.86" width="3.34" height="3.74" fill="#1a8b6e"/>
<rect x="121.79" y="269.86" width="3.34" height="3.74" fill="#1a8b6e"/>
<rect x="125.13" y="269.86" width="3.34" height="3.74" fill="#1a8b6e"/>
<rect x="128.47" y="269.86" width="3.34" height="3.74" fill="#1a8b6e"/>
<rect x="135.15" y="269.86" width="3.34" height="3.74" fill="#1a8b6e"/>
<rect x="98.40" y="273.59" width="3.34" height="3.74" fill="#1a8b6e"/>
<rect x="108.42" y="273.59" width="3.34" height="3.74" fill="#1a8b6e"/>
<rect x="125.13" y="273.59" width="3.34" height="3.74" fill="#1a8b6e"/>
<rect x="98.40" y="277.33" width="3.34" height="3.74" fill="#1a8b6e"/>
<rect x="101.74" y="277.33" width="3.34" height="3.74" fill="#1a8b6e"/>
<rect x="138.49" y="277.33" width="3.34" height="3.74" fill="#1a8b6e"/>
<rect x="98.40" y="281.06" width="3.34" height="3.74" fill="#1a8b6e"/>
<rect x="125.13" y="281.06" width="3.34" height="3.74" fill="#1a8b6e"/>
<rect x="131.81" y="281.06" width="3.34" height="3.74" fill="#1a8b6e"/>
<rect x="138.49" y="281.06" width="3.34" height="3.74" fill="#1a8b6e"/>
<rect x="145.18" y="281.06" width="3.34" height="3.74" fill="#1a8b6e"/>
<rect x="118.45" y="225.04" width="3.34" height="3.74" fill="#abcc5e"/>
<rect x="128.47" y="225.04" width="3.34" height="3.74" fill="#f6ea54"/>
<rect x="138.49" y="225.04" width="3.34" height="3.74" fill="#3e9a66"/>
<rect x="121.79" y="228.77" width="3.34" height="3.74" fill="#f6ea54"/>
<rect x="131.81" y="228.77" width="3.34" height="3.74" fill="#4ca164"/>
<rect x="101.74" y="243.71" width="3.34" height="3.74" fill="#b6d05d"/>
<rect x="128.47" y="243.71" width="3.34" height="3.74" fill="#92c25f"/>
<rect x="105.08" y="247.45" width="3.34" height="3.74" fill="#f6ea54"/>
<rect x="101.74" y="254.92" width="3.34" height="3.74" fill="#f6ea54"/>
<rect x="118.45" y="254.92" width="3.34" height="3.74" fill="#92c25f"/>
<rect x="138.49" y="254.92" width="3.34" height="3.74" fill="#3e9a66"/>
<rect x="105.08" y="258.65" width="3.34" height="3.74" fill="#84bb60"/>
<rect x="101.74" y="266.12" width="3.34" height="3.74" fill="#3e9a66"/>
<rect x="128.47" y="266.12" width="3.34" height="3.74" fill="#3e9a66"/>
<rect x="98.40" y="221.30" width="3.34" height="3.74" fill="#e8e4f0"/>
<rect x="101.74" y="225.04" width="3.34" height="3.74" fill="#f4f2f8"/>
<rect x="105.08" y="228.77" width="3.34" height="3.74" fill="#f4f2f8"/>
<rect x="108.42" y="232.51" width="3.34" height="3.74" fill="#f4f2f8"/>
<rect x="111.76" y="236.24" width="3.34" height="3.74" fill="#f4f2f8"/>
<rect x="115.11" y="239.98" width="3.34" height="3.74" fill="#f4f2f8"/>
<rect x="118.45" y="243.71" width="3.34" height="3.74" fill="#f4f2f8"/>
<rect x="121.79" y="247.45" width="3.34" height="3.74" fill="#f4f2f8"/>
<rect x="125.13" y="251.18" width="3.34" height="3.74" fill="#f4f2f8"/>
<rect x="128.47" y="254.92" width="3.34" height="3.74" fill="#f4f2f8"/>
<rect x="131.81" y="258.65" width="3.34" height="3.74" fill="#f4f2f8"/>
<rect x="135.15" y="262.39" width="3.34" height="3.74" fill="#f4f2f8"/>
<rect x="138.49" y="266.12" width="3.34" height="3.74" fill="#f4f2f8"/>
<rect x="141.84" y="269.86" width="3.34" height="3.74" fill="#f4f2f8"/>
<rect x="145.18" y="273.59" width="3.34" height="3.74" fill="#f4f2f8"/>
<rect x="148.52" y="277.33" width="3.34" height="3.74" fill="#f4f2f8"/>
<rect x="151.86" y="281.06" width="3.34" height="3.74" fill="#e8e4f0"/>
<line x1="98.40" y1="251.18" x2="155.20" y2="251.18" stroke="#0e5a40" stroke-width="0.6"/>
<line x1="125.13" y1="221.30" x2="125.13" y2="284.80" stroke="#0e5a40" stroke-width="0.6"/>
<text x="97.20" y="224.67" font-size="4.4" text-anchor="end" fill="#666" >V1</text>
<text x="97.20" y="228.40" font-size="4.4" text-anchor="end" fill="#666" >V2</text>
<text x="97.20" y="232.14" font-size="4.4" text-anchor="end" fill="#666" >V3</text>
<text x="97.20" y="235.87" font-size="4.4" text-anchor="end" fill="#666" >V4</text>
<text x="97.20" y="239.61" font-size="4.4" text-anchor="end" fill="#666" >V5</text>
<text x="97.20" y="243.34" font-size="4.4" text-anchor="end" fill="#666" >V6</text>
<text x="97.20" y="247.08" font-size="4.4" text-anchor="end" fill="#666" >V7</text>
<text x="97.20" y="250.81" font-size="4.4" text-anchor="end" fill="#666" >V8</text>
<text x="97.20" y="254.55" font-size="4.4" text-anchor="end" fill="#666" >C1</text>
<text x="97.20" y="258.29" font-size="4.4" text-anchor="end" fill="#666" >C2</text>
<text x="97.20" y="262.02" font-size="4.4" text-anchor="end" fill="#666" >C3</text>
<text x="97.20" y="265.76" font-size="4.4" text-anchor="end" fill="#666" >C4</text>
<text x="97.20" y="269.49" font-size="4.4" text-anchor="end" fill="#666" >C5</text>
<text x="97.20" y="273.23" font-size="4.4" text-anchor="end" fill="#666" >C6</text>
<text x="97.20" y="276.96" font-size="4.4" text-anchor="end" fill="#666" >C7</text>
<text x="97.20" y="280.70" font-size="4.4" text-anchor="end" fill="#666" >C8</text>
<text x="97.20" y="284.43" font-size="4.4" text-anchor="end" fill="#666" >C9</text>
<text x="101.47" y="286.00" font-size="4.4" text-anchor="end" fill="#6a6a6a" transform="rotate(-90 101.47 286.00)" >V1</text>
<text x="104.81" y="286.00" font-size="4.4" text-anchor="end" fill="#6a6a6a" transform="rotate(-90 104.81 286.00)" >V2</text>
<text x="108.15" y="286.00" font-size="4.4" text-anchor="end" fill="#6a6a6a" transform="rotate(-90 108.15 286.00)" >V3</text>
<text x="111.49" y="286.00" font-size="4.4" text-anchor="end" fill="#6a6a6a" transform="rotate(-90 111.49 286.00)" >V4</text>
<text x="114.84" y="286.00" font-size="4.4" text-anchor="end" fill="#6a6a6a" transform="rotate(-90 114.84 286.00)" >V5</text>
<text x="118.18" y="286.00" font-size="4.4" text-anchor="end" fill="#6a6a6a" transform="rotate(-90 118.18 286.00)" >V6</text>
<text x="121.52" y="286.00" font-size="4.4" text-anchor="end" fill="#6a6a6a" transform="rotate(-90 121.52 286.00)" >V7</text>
<text x="124.86" y="286.00" font-size="4.4" text-anchor="end" fill="#6a6a6a" transform="rotate(-90 124.86 286.00)" >V8</text>
<text x="128.20" y="286.00" font-size="4.4" text-anchor="end" fill="#6a6a6a" transform="rotate(-90 128.20 286.00)" >C1</text>
<text x="131.54" y="286.00" font-size="4.4" text-anchor="end" fill="#6a6a6a" transform="rotate(-90 131.54 286.00)" >C2</text>
<text x="134.88" y="286.00" font-size="4.4" text-anchor="end" fill="#6a6a6a" transform="rotate(-90 134.88 286.00)" >C3</text>
<text x="138.22" y="286.00" font-size="4.4" text-anchor="end" fill="#6a6a6a" transform="rotate(-90 138.22 286.00)" >C4</text>
<text x="141.56" y="286.00" font-size="4.4" text-anchor="end" fill="#6a6a6a" transform="rotate(-90 141.56 286.00)" >C5</text>
<text x="144.91" y="286.00" font-size="4.4" text-anchor="end" fill="#6a6a6a" transform="rotate(-90 144.91 286.00)" >C6</text>
<text x="148.25" y="286.00" font-size="4.4" text-anchor="end" fill="#6a6a6a" transform="rotate(-90 148.25 286.00)" >C7</text>
<text x="151.59" y="286.00" font-size="4.4" text-anchor="end" fill="#6a6a6a" transform="rotate(-90 151.59 286.00)" >C8</text>
<text x="154.93" y="286.00" font-size="4.4" text-anchor="end" fill="#6a6a6a" transform="rotate(-90 154.93 286.00)" >C9</text>
<rect x="157.60" y="220.20" width="3.70" height="63.60" fill="url(#cbar)"/>
<line x1="161.30" y1="220.20" x2="162.50" y2="220.20" stroke="#777" stroke-width="0.4"/>
<text x="162.70" y="221.70" font-size="4.5" text-anchor="start" fill="#444" textLength="10.80" lengthAdjust="spacingAndGlyphs" >0.040</text>
<line x1="161.30" y1="228.10" x2="162.50" y2="228.10" stroke="#777" stroke-width="0.4"/>
<text x="162.70" y="229.60" font-size="4.5" text-anchor="start" fill="#444" textLength="10.80" lengthAdjust="spacingAndGlyphs" >0.035</text>
<line x1="161.30" y1="236.00" x2="162.50" y2="236.00" stroke="#777" stroke-width="0.4"/>
<text x="162.70" y="237.50" font-size="4.5" text-anchor="start" fill="#444" textLength="10.80" lengthAdjust="spacingAndGlyphs" >0.030</text>
<line x1="161.30" y1="243.90" x2="162.50" y2="243.90" stroke="#777" stroke-width="0.4"/>
<text x="162.70" y="245.40" font-size="4.5" text-anchor="start" fill="#444" textLength="10.80" lengthAdjust="spacingAndGlyphs" >0.025</text>
<line x1="161.30" y1="251.80" x2="162.50" y2="251.80" stroke="#777" stroke-width="0.4"/>
<text x="162.70" y="253.30" font-size="4.5" text-anchor="start" fill="#444" textLength="10.80" lengthAdjust="spacingAndGlyphs" >0.020</text>
<line x1="161.30" y1="259.70" x2="162.50" y2="259.70" stroke="#777" stroke-width="0.4"/>
<text x="162.70" y="261.20" font-size="4.5" text-anchor="start" fill="#444" textLength="10.80" lengthAdjust="spacingAndGlyphs" >0.015</text>
<line x1="161.30" y1="267.60" x2="162.50" y2="267.60" stroke="#777" stroke-width="0.4"/>
<text x="162.70" y="269.10" font-size="4.5" text-anchor="start" fill="#444" textLength="10.80" lengthAdjust="spacingAndGlyphs" >0.010</text>
<line x1="161.30" y1="275.50" x2="162.50" y2="275.50" stroke="#777" stroke-width="0.4"/>
<text x="162.70" y="277.00" font-size="4.5" text-anchor="start" fill="#444" textLength="10.80" lengthAdjust="spacingAndGlyphs" >0.005</text>
<line x1="161.30" y1="283.40" x2="162.50" y2="283.40" stroke="#777" stroke-width="0.4"/>
<text x="162.70" y="284.90" font-size="4.5" text-anchor="start" fill="#444" textLength="10.80" lengthAdjust="spacingAndGlyphs" >0.000</text>
<text x="126.40" y="208.70" font-size="7.6" text-anchor="middle" fill="#222" stroke="#222" stroke-width="0.06" textLength="28.30" lengthAdjust="spacingAndGlyphs" >Between</text>
<text x="126.40" y="218.20" font-size="7.6" text-anchor="middle" fill="#222" stroke="#222" stroke-width="0.06" textLength="38.70" lengthAdjust="spacingAndGlyphs" >D12 to D90</text>
<rect x="183.30" y="221.30" width="56.30" height="63.50" fill="#15866c"/>
<rect x="186.82" y="221.30" width="3.52" height="3.97" fill="#1a8b6e"/>
<rect x="193.86" y="221.30" width="3.52" height="3.97" fill="#1a8b6e"/>
<rect x="200.89" y="221.30" width="3.52" height="3.97" fill="#1a8b6e"/>
<rect x="211.45" y="221.30" width="3.52" height="3.97" fill="#1a8b6e"/>
<rect x="222.01" y="221.30" width="3.52" height="3.97" fill="#1a8b6e"/>
<rect x="190.34" y="225.27" width="3.52" height="3.97" fill="#1a8b6e"/>
<rect x="193.86" y="225.27" width="3.52" height="3.97" fill="#1a8b6e"/>
<rect x="214.97" y="229.24" width="3.52" height="3.97" fill="#1a8b6e"/>
<rect x="186.82" y="233.21" width="3.52" height="3.97" fill="#1a8b6e"/>
<rect x="197.38" y="233.21" width="3.52" height="3.97" fill="#1a8b6e"/>
<rect x="214.97" y="233.21" width="3.52" height="3.97" fill="#1a8b6e"/>
<rect x="236.08" y="233.21" width="3.52" height="3.97" fill="#1a8b6e"/>
<rect x="204.41" y="237.18" width="3.52" height="3.97" fill="#1a8b6e"/>
<rect x="214.97" y="237.18" width="3.52" height="3.97" fill="#1a8b6e"/>
<rect x="218.49" y="237.18" width="3.52" height="3.97" fill="#1a8b6e"/>
<rect x="232.56" y="237.18" width="3.52" height="3.97" fill="#1a8b6e"/>
<rect x="236.08" y="237.18" width="3.52" height="3.97" fill="#1a8b6e"/>
<rect x="183.30" y="241.14" width="3.52" height="3.97" fill="#1a8b6e"/>
<rect x="186.82" y="241.14" width="3.52" height="3.97" fill="#1a8b6e"/>
<rect x="197.38" y="241.14" width="3.52" height="3.97" fill="#1a8b6e"/>
<rect x="222.01" y="241.14" width="3.52" height="3.97" fill="#1a8b6e"/>
<rect x="229.04" y="241.14" width="3.52" height="3.97" fill="#1a8b6e"/>
<rect x="232.56" y="241.14" width="3.52" height="3.97" fill="#1a8b6e"/>
<rect x="190.34" y="245.11" width="3.52" height="3.97" fill="#1a8b6e"/>
<rect x="218.49" y="245.11" width="3.52" height="3.97" fill="#1a8b6e"/>
<rect x="225.53" y="245.11" width="3.52" height="3.97" fill="#1a8b6e"/>
<rect x="190.34" y="249.08" width="3.52" height="3.97" fill="#1a8b6e"/>
<rect x="193.86" y="249.08" width="3.52" height="3.97" fill="#1a8b6e"/>
<rect x="204.41" y="249.08" width="3.52" height="3.97" fill="#1a8b6e"/>
<rect x="225.53" y="249.08" width="3.52" height="3.97" fill="#1a8b6e"/>
<rect x="229.04" y="249.08" width="3.52" height="3.97" fill="#1a8b6e"/>
<rect x="190.34" y="253.05" width="3.52" height="3.97" fill="#1a8b6e"/>
<rect x="229.04" y="253.05" width="3.52" height="3.97" fill="#1a8b6e"/>
<rect x="183.30" y="257.02" width="3.52" height="3.97" fill="#1a8b6e"/>
<rect x="200.89" y="257.02" width="3.52" height="3.97" fill="#1a8b6e"/>
<rect x="204.41" y="257.02" width="3.52" height="3.97" fill="#1a8b6e"/>
<rect x="232.56" y="257.02" width="3.52" height="3.97" fill="#1a8b6e"/>
<rect x="236.08" y="257.02" width="3.52" height="3.97" fill="#1a8b6e"/>
<rect x="186.82" y="260.99" width="3.52" height="3.97" fill="#1a8b6e"/>
<rect x="207.93" y="260.99" width="3.52" height="3.97" fill="#1a8b6e"/>
<rect x="183.30" y="264.96" width="3.52" height="3.97" fill="#1a8b6e"/>
<rect x="186.82" y="264.96" width="3.52" height="3.97" fill="#1a8b6e"/>
<rect x="211.45" y="264.96" width="3.52" height="3.97" fill="#1a8b6e"/>
<rect x="193.86" y="268.93" width="3.52" height="3.97" fill="#1a8b6e"/>
<rect x="204.41" y="268.93" width="3.52" height="3.97" fill="#1a8b6e"/>
<rect x="207.93" y="268.93" width="3.52" height="3.97" fill="#1a8b6e"/>
<rect x="211.45" y="268.93" width="3.52" height="3.97" fill="#1a8b6e"/>
<rect x="214.97" y="268.93" width="3.52" height="3.97" fill="#1a8b6e"/>
<rect x="183.30" y="272.89" width="3.52" height="3.97" fill="#1a8b6e"/>
<rect x="200.89" y="272.89" width="3.52" height="3.97" fill="#1a8b6e"/>
<rect x="183.30" y="276.86" width="3.52" height="3.97" fill="#1a8b6e"/>
<rect x="193.86" y="276.86" width="3.52" height="3.97" fill="#1a8b6e"/>
<rect x="229.04" y="276.86" width="3.52" height="3.97" fill="#1a8b6e"/>
<rect x="236.08" y="276.86" width="3.52" height="3.97" fill="#1a8b6e"/>
<rect x="211.45" y="280.83" width="3.52" height="3.97" fill="#1a8b6e"/>
<rect x="222.01" y="280.83" width="3.52" height="3.97" fill="#1a8b6e"/>
<rect x="236.08" y="225.27" width="3.52" height="3.97" fill="#f6ea54"/>
<rect x="236.08" y="260.99" width="3.52" height="3.97" fill="#f6ea54"/>
<rect x="186.82" y="280.83" width="3.52" height="3.97" fill="#f6ea54"/>
<rect x="218.49" y="280.83" width="3.52" height="3.97" fill="#f6ea54"/>
<rect x="211.45" y="237.18" width="3.52" height="3.97" fill="#2a9169"/>
<rect x="183.30" y="221.30" width="3.52" height="3.97" fill="#e8e4f0"/>
<rect x="186.82" y="225.27" width="3.52" height="3.97" fill="#f4f2f8"/>
<rect x="190.34" y="229.24" width="3.52" height="3.97" fill="#f4f2f8"/>
<rect x="193.86" y="233.21" width="3.52" height="3.97" fill="#f4f2f8"/>
<rect x="197.38" y="237.18" width="3.52" height="3.97" fill="#f4f2f8"/>
<rect x="200.89" y="241.14" width="3.52" height="3.97" fill="#f4f2f8"/>
<rect x="204.41" y="245.11" width="3.52" height="3.97" fill="#f4f2f8"/>
<rect x="207.93" y="249.08" width="3.52" height="3.97" fill="#f4f2f8"/>
<rect x="211.45" y="253.05" width="3.52" height="3.97" fill="#f4f2f8"/>
<rect x="214.97" y="257.02" width="3.52" height="3.97" fill="#f4f2f8"/>
<rect x="218.49" y="260.99" width="3.52" height="3.97" fill="#f4f2f8"/>
<rect x="222.01" y="264.96" width="3.52" height="3.97" fill="#f4f2f8"/>
<rect x="225.53" y="268.93" width="3.52" height="3.97" fill="#f4f2f8"/>
<rect x="229.04" y="272.89" width="3.52" height="3.97" fill="#f4f2f8"/>
<rect x="232.56" y="276.86" width="3.52" height="3.97" fill="#f4f2f8"/>
<rect x="236.08" y="280.83" width="3.52" height="3.97" fill="#e8e4f0"/>
<line x1="183.30" y1="257.02" x2="239.60" y2="257.02" stroke="#0e5a40" stroke-width="0.6"/>
<line x1="214.97" y1="221.30" x2="214.97" y2="284.80" stroke="#0e5a40" stroke-width="0.6"/>
<text x="182.10" y="224.78" font-size="4.4" text-anchor="end" fill="#666" >V1</text>
<text x="182.10" y="228.75" font-size="4.4" text-anchor="end" fill="#666" >V2</text>
<text x="182.10" y="232.72" font-size="4.4" text-anchor="end" fill="#666" >V3</text>
<text x="182.10" y="236.69" font-size="4.4" text-anchor="end" fill="#666" >V4</text>
<text x="182.10" y="240.66" font-size="4.4" text-anchor="end" fill="#666" >V5</text>
<text x="182.10" y="244.63" font-size="4.4" text-anchor="end" fill="#666" >V6</text>
<text x="182.10" y="248.60" font-size="4.4" text-anchor="end" fill="#666" >V7</text>
<text x="182.10" y="252.57" font-size="4.4" text-anchor="end" fill="#666" >V8</text>
<text x="182.10" y="256.53" font-size="4.4" text-anchor="end" fill="#666" >V9</text>
<text x="182.10" y="260.50" font-size="4.4" text-anchor="end" fill="#666" >C1</text>
<text x="182.10" y="264.47" font-size="4.4" text-anchor="end" fill="#666" >C2</text>
<text x="182.10" y="268.44" font-size="4.4" text-anchor="end" fill="#666" >C3</text>
<text x="182.10" y="272.41" font-size="4.4" text-anchor="end" fill="#666" >C4</text>
<text x="182.10" y="276.38" font-size="4.4" text-anchor="end" fill="#666" >C5</text>
<text x="182.10" y="280.35" font-size="4.4" text-anchor="end" fill="#666" >C6</text>
<text x="182.10" y="284.32" font-size="4.4" text-anchor="end" fill="#666" >C7</text>
<text x="186.46" y="286.00" font-size="4.4" text-anchor="end" fill="#6a6a6a" transform="rotate(-90 186.46 286.00)" >V1</text>
<text x="189.98" y="286.00" font-size="4.4" text-anchor="end" fill="#6a6a6a" transform="rotate(-90 189.98 286.00)" >V2</text>
<text x="193.50" y="286.00" font-size="4.4" text-anchor="end" fill="#6a6a6a" transform="rotate(-90 193.50 286.00)" >V3</text>
<text x="197.02" y="286.00" font-size="4.4" text-anchor="end" fill="#6a6a6a" transform="rotate(-90 197.02 286.00)" >V4</text>
<text x="200.53" y="286.00" font-size="4.4" text-anchor="end" fill="#6a6a6a" transform="rotate(-90 200.53 286.00)" >V5</text>
<text x="204.05" y="286.00" font-size="4.4" text-anchor="end" fill="#6a6a6a" transform="rotate(-90 204.05 286.00)" >V6</text>
<text x="207.57" y="286.00" font-size="4.4" text-anchor="end" fill="#6a6a6a" transform="rotate(-90 207.57 286.00)" >V7</text>
<text x="211.09" y="286.00" font-size="4.4" text-anchor="end" fill="#6a6a6a" transform="rotate(-90 211.09 286.00)" >V8</text>
<text x="214.61" y="286.00" font-size="4.4" text-anchor="end" fill="#6a6a6a" transform="rotate(-90 214.61 286.00)" >V9</text>
<text x="218.13" y="286.00" font-size="4.4" text-anchor="end" fill="#6a6a6a" transform="rotate(-90 218.13 286.00)" >C1</text>
<text x="221.65" y="286.00" font-size="4.4" text-anchor="end" fill="#6a6a6a" transform="rotate(-90 221.65 286.00)" >C2</text>
<text x="225.17" y="286.00" font-size="4.4" text-anchor="end" fill="#6a6a6a" transform="rotate(-90 225.17 286.00)" >C3</text>
<text x="228.68" y="286.00" font-size="4.4" text-anchor="end" fill="#6a6a6a" transform="rotate(-90 228.68 286.00)" >C4</text>
<text x="232.20" y="286.00" font-size="4.4" text-anchor="end" fill="#6a6a6a" transform="rotate(-90 232.20 286.00)" >C5</text>
<text x="235.72" y="286.00" font-size="4.4" text-anchor="end" fill="#6a6a6a" transform="rotate(-90 235.72 286.00)" >C6</text>
<text x="239.24" y="286.00" font-size="4.4" text-anchor="end" fill="#6a6a6a" transform="rotate(-90 239.24 286.00)" >C7</text>
<rect x="242.60" y="220.20" width="3.70" height="63.60" fill="url(#cbar)"/>
<line x1="246.30" y1="220.20" x2="247.50" y2="220.20" stroke="#777" stroke-width="0.4"/>
<text x="247.70" y="221.70" font-size="4.5" text-anchor="start" fill="#444" textLength="10.80" lengthAdjust="spacingAndGlyphs" >0.040</text>
<line x1="246.30" y1="228.10" x2="247.50" y2="228.10" stroke="#777" stroke-width="0.4"/>
<text x="247.70" y="229.60" font-size="4.5" text-anchor="start" fill="#444" textLength="10.80" lengthAdjust="spacingAndGlyphs" >0.035</text>
<line x1="246.30" y1="236.00" x2="247.50" y2="236.00" stroke="#777" stroke-width="0.4"/>
<text x="247.70" y="237.50" font-size="4.5" text-anchor="start" fill="#444" textLength="10.80" lengthAdjust="spacingAndGlyphs" >0.030</text>
<line x1="246.30" y1="243.90" x2="247.50" y2="243.90" stroke="#777" stroke-width="0.4"/>
<text x="247.70" y="245.40" font-size="4.5" text-anchor="start" fill="#444" textLength="10.80" lengthAdjust="spacingAndGlyphs" >0.025</text>
<line x1="246.30" y1="251.80" x2="247.50" y2="251.80" stroke="#777" stroke-width="0.4"/>
<text x="247.70" y="253.30" font-size="4.5" text-anchor="start" fill="#444" textLength="10.80" lengthAdjust="spacingAndGlyphs" >0.020</text>
<line x1="246.30" y1="259.70" x2="247.50" y2="259.70" stroke="#777" stroke-width="0.4"/>
<text x="247.70" y="261.20" font-size="4.5" text-anchor="start" fill="#444" textLength="10.80" lengthAdjust="spacingAndGlyphs" >0.015</text>
<line x1="246.30" y1="267.60" x2="247.50" y2="267.60" stroke="#777" stroke-width="0.4"/>
<text x="247.70" y="269.10" font-size="4.5" text-anchor="start" fill="#444" textLength="10.80" lengthAdjust="spacingAndGlyphs" >0.010</text>
<line x1="246.30" y1="275.50" x2="247.50" y2="275.50" stroke="#777" stroke-width="0.4"/>
<text x="247.70" y="277.00" font-size="4.5" text-anchor="start" fill="#444" textLength="10.80" lengthAdjust="spacingAndGlyphs" >0.005</text>
<line x1="246.30" y1="283.40" x2="247.50" y2="283.40" stroke="#777" stroke-width="0.4"/>
<text x="247.70" y="284.90" font-size="4.5" text-anchor="start" fill="#444" textLength="10.80" lengthAdjust="spacingAndGlyphs" >0.000</text>
<text x="211.30" y="208.70" font-size="7.6" text-anchor="middle" fill="#222" stroke="#222" stroke-width="0.06" textLength="28.30" lengthAdjust="spacingAndGlyphs" >Between</text>
<text x="211.30" y="218.20" font-size="7.6" text-anchor="middle" fill="#222" stroke="#222" stroke-width="0.06" textLength="43.80" lengthAdjust="spacingAndGlyphs" >D12 to D120</text>
<rect x="268.00" y="221.10" width="56.00" height="63.40" fill="#15866c"/>
<rect x="312.80" y="221.10" width="3.73" height="4.23" fill="#1a8b6e"/>
<rect x="316.53" y="221.10" width="3.73" height="4.23" fill="#1a8b6e"/>
<rect x="320.27" y="221.10" width="3.73" height="4.23" fill="#1a8b6e"/>
<rect x="275.47" y="225.33" width="3.73" height="4.23" fill="#1a8b6e"/>
<rect x="294.13" y="225.33" width="3.73" height="4.23" fill="#1a8b6e"/>
<rect x="305.33" y="225.33" width="3.73" height="4.23" fill="#1a8b6e"/>
<rect x="271.73" y="229.55" width="3.73" height="4.23" fill="#1a8b6e"/>
<rect x="279.20" y="229.55" width="3.73" height="4.23" fill="#1a8b6e"/>
<rect x="290.40" y="229.55" width="3.73" height="4.23" fill="#1a8b6e"/>
<rect x="297.87" y="229.55" width="3.73" height="4.23" fill="#1a8b6e"/>
<rect x="305.33" y="229.55" width="3.73" height="4.23" fill="#1a8b6e"/>
<rect x="294.13" y="233.78" width="3.73" height="4.23" fill="#1a8b6e"/>
<rect x="297.87" y="233.78" width="3.73" height="4.23" fill="#1a8b6e"/>
<rect x="312.80" y="233.78" width="3.73" height="4.23" fill="#1a8b6e"/>
<rect x="316.53" y="233.78" width="3.73" height="4.23" fill="#1a8b6e"/>
<rect x="268.00" y="238.01" width="3.73" height="4.23" fill="#1a8b6e"/>
<rect x="301.60" y="238.01" width="3.73" height="4.23" fill="#1a8b6e"/>
<rect x="312.80" y="238.01" width="3.73" height="4.23" fill="#1a8b6e"/>
<rect x="301.60" y="242.23" width="3.73" height="4.23" fill="#1a8b6e"/>
<rect x="305.33" y="242.23" width="3.73" height="4.23" fill="#1a8b6e"/>
<rect x="316.53" y="242.23" width="3.73" height="4.23" fill="#1a8b6e"/>
<rect x="279.20" y="246.46" width="3.73" height="4.23" fill="#1a8b6e"/>
<rect x="301.60" y="246.46" width="3.73" height="4.23" fill="#1a8b6e"/>
<rect x="305.33" y="246.46" width="3.73" height="4.23" fill="#1a8b6e"/>
<rect x="309.07" y="246.46" width="3.73" height="4.23" fill="#1a8b6e"/>
<rect x="312.80" y="246.46" width="3.73" height="4.23" fill="#1a8b6e"/>
<rect x="316.53" y="246.46" width="3.73" height="4.23" fill="#1a8b6e"/>
<rect x="286.67" y="250.69" width="3.73" height="4.23" fill="#1a8b6e"/>
<rect x="301.60" y="250.69" width="3.73" height="4.23" fill="#1a8b6e"/>
<rect x="268.00" y="254.91" width="3.73" height="4.23" fill="#1a8b6e"/>
<rect x="286.67" y="254.91" width="3.73" height="4.23" fill="#1a8b6e"/>
<rect x="290.40" y="254.91" width="3.73" height="4.23" fill="#1a8b6e"/>
<rect x="294.13" y="254.91" width="3.73" height="4.23" fill="#1a8b6e"/>
<rect x="301.60" y="254.91" width="3.73" height="4.23" fill="#1a8b6e"/>
<rect x="305.33" y="254.91" width="3.73" height="4.23" fill="#1a8b6e"/>
<rect x="316.53" y="254.91" width="3.73" height="4.23" fill="#1a8b6e"/>
<rect x="282.93" y="259.14" width="3.73" height="4.23" fill="#1a8b6e"/>
<rect x="275.47" y="263.37" width="3.73" height="4.23" fill="#1a8b6e"/>
<rect x="294.13" y="263.37" width="3.73" height="4.23" fill="#1a8b6e"/>
<rect x="301.60" y="263.37" width="3.73" height="4.23" fill="#1a8b6e"/>
<rect x="312.80" y="263.37" width="3.73" height="4.23" fill="#1a8b6e"/>
<rect x="271.73" y="267.59" width="3.73" height="4.23" fill="#1a8b6e"/>
<rect x="279.20" y="267.59" width="3.73" height="4.23" fill="#1a8b6e"/>
<rect x="294.13" y="267.59" width="3.73" height="4.23" fill="#1a8b6e"/>
<rect x="301.60" y="267.59" width="3.73" height="4.23" fill="#1a8b6e"/>
<rect x="320.27" y="267.59" width="3.73" height="4.23" fill="#1a8b6e"/>
<rect x="290.40" y="271.82" width="3.73" height="4.23" fill="#1a8b6e"/>
<rect x="305.33" y="271.82" width="3.73" height="4.23" fill="#1a8b6e"/>
<rect x="309.07" y="271.82" width="3.73" height="4.23" fill="#1a8b6e"/>
<rect x="268.00" y="276.05" width="3.73" height="4.23" fill="#1a8b6e"/>
<rect x="297.87" y="276.05" width="3.73" height="4.23" fill="#1a8b6e"/>
<rect x="312.80" y="276.05" width="3.73" height="4.23" fill="#1a8b6e"/>
<rect x="271.73" y="280.27" width="3.73" height="4.23" fill="#1a8b6e"/>
<rect x="279.20" y="280.27" width="3.73" height="4.23" fill="#1a8b6e"/>
<rect x="297.87" y="280.27" width="3.73" height="4.23" fill="#1a8b6e"/>
<rect x="286.67" y="225.33" width="3.73" height="4.23" fill="#f6ea54"/>
<rect x="271.73" y="242.23" width="3.73" height="4.23" fill="#f6ea54"/>
<rect x="305.33" y="238.01" width="3.73" height="4.23" fill="#76b560"/>
<rect x="282.93" y="263.37" width="3.73" height="4.23" fill="#76b560"/>
<rect x="320.27" y="250.69" width="3.73" height="4.23" fill="#3e9a66"/>
<rect x="294.13" y="280.27" width="3.73" height="4.23" fill="#369667"/>
<rect x="268.00" y="221.10" width="3.73" height="4.23" fill="#e8e4f0"/>
<rect x="271.73" y="225.33" width="3.73" height="4.23" fill="#f4f2f8"/>
<rect x="275.47" y="229.55" width="3.73" height="4.23" fill="#f4f2f8"/>
<rect x="279.20" y="233.78" width="3.73" height="4.23" fill="#f4f2f8"/>
<rect x="282.93" y="238.01" width="3.73" height="4.23" fill="#f4f2f8"/>
<rect x="286.67" y="242.23" width="3.73" height="4.23" fill="#f4f2f8"/>
<rect x="290.40" y="246.46" width="3.73" height="4.23" fill="#f4f2f8"/>
<rect x="294.13" y="250.69" width="3.73" height="4.23" fill="#f4f2f8"/>
<rect x="297.87" y="254.91" width="3.73" height="4.23" fill="#f4f2f8"/>
<rect x="301.60" y="259.14" width="3.73" height="4.23" fill="#f4f2f8"/>
<rect x="305.33" y="263.37" width="3.73" height="4.23" fill="#f4f2f8"/>
<rect x="309.07" y="267.59" width="3.73" height="4.23" fill="#f4f2f8"/>
<rect x="312.80" y="271.82" width="3.73" height="4.23" fill="#f4f2f8"/>
<rect x="316.53" y="276.05" width="3.73" height="4.23" fill="#f4f2f8"/>
<rect x="320.27" y="280.27" width="3.73" height="4.23" fill="#e8e4f0"/>
<line x1="268.00" y1="250.69" x2="324.00" y2="250.69" stroke="#0e5a40" stroke-width="0.6"/>
<line x1="294.13" y1="221.10" x2="294.13" y2="284.50" stroke="#0e5a40" stroke-width="0.6"/>
<text x="266.80" y="224.71" font-size="4.4" text-anchor="end" fill="#666" >V1</text>
<text x="266.80" y="228.94" font-size="4.4" text-anchor="end" fill="#666" >V2</text>
<text x="266.80" y="233.17" font-size="4.4" text-anchor="end" fill="#666" >V3</text>
<text x="266.80" y="237.39" font-size="4.4" text-anchor="end" fill="#666" >V4</text>
<text x="266.80" y="241.62" font-size="4.4" text-anchor="end" fill="#666" >V5</text>
<text x="266.80" y="245.85" font-size="4.4" text-anchor="end" fill="#666" >V6</text>
<text x="266.80" y="250.07" font-size="4.4" text-anchor="end" fill="#666" >V7</text>
<text x="266.80" y="254.30" font-size="4.4" text-anchor="end" fill="#666" >C1</text>
<text x="266.80" y="258.53" font-size="4.4" text-anchor="end" fill="#666" >C2</text>
<text x="266.80" y="262.75" font-size="4.4" text-anchor="end" fill="#666" >C3</text>
<text x="266.80" y="266.98" font-size="4.4" text-anchor="end" fill="#666" >C4</text>
<text x="266.80" y="271.21" font-size="4.4" text-anchor="end" fill="#666" >C5</text>
<text x="266.80" y="275.43" font-size="4.4" text-anchor="end" fill="#666" >C6</text>
<text x="266.80" y="279.66" font-size="4.4" text-anchor="end" fill="#666" >C7</text>
<text x="266.80" y="283.89" font-size="4.4" text-anchor="end" fill="#666" >C8</text>
<text x="271.27" y="285.70" font-size="4.4" text-anchor="end" fill="#6a6a6a" transform="rotate(-90 271.27 285.70)" >V1</text>
<text x="275.00" y="285.70" font-size="4.4" text-anchor="end" fill="#6a6a6a" transform="rotate(-90 275.00 285.70)" >V2</text>
<text x="278.73" y="285.70" font-size="4.4" text-anchor="end" fill="#6a6a6a" transform="rotate(-90 278.73 285.70)" >V3</text>
<text x="282.47" y="285.70" font-size="4.4" text-anchor="end" fill="#6a6a6a" transform="rotate(-90 282.47 285.70)" >V4</text>
<text x="286.20" y="285.70" font-size="4.4" text-anchor="end" fill="#6a6a6a" transform="rotate(-90 286.20 285.70)" >V5</text>
<text x="289.93" y="285.70" font-size="4.4" text-anchor="end" fill="#6a6a6a" transform="rotate(-90 289.93 285.70)" >V6</text>
<text x="293.67" y="285.70" font-size="4.4" text-anchor="end" fill="#6a6a6a" transform="rotate(-90 293.67 285.70)" >V7</text>
<text x="297.40" y="285.70" font-size="4.4" text-anchor="end" fill="#6a6a6a" transform="rotate(-90 297.40 285.70)" >C1</text>
<text x="301.13" y="285.70" font-size="4.4" text-anchor="end" fill="#6a6a6a" transform="rotate(-90 301.13 285.70)" >C2</text>
<text x="304.87" y="285.70" font-size="4.4" text-anchor="end" fill="#6a6a6a" transform="rotate(-90 304.87 285.70)" >C3</text>
<text x="308.60" y="285.70" font-size="4.4" text-anchor="end" fill="#6a6a6a" transform="rotate(-90 308.60 285.70)" >C4</text>
<text x="312.33" y="285.70" font-size="4.4" text-anchor="end" fill="#6a6a6a" transform="rotate(-90 312.33 285.70)" >C5</text>
<text x="316.07" y="285.70" font-size="4.4" text-anchor="end" fill="#6a6a6a" transform="rotate(-90 316.07 285.70)" >C6</text>
<text x="319.80" y="285.70" font-size="4.4" text-anchor="end" fill="#6a6a6a" transform="rotate(-90 319.80 285.70)" >C7</text>
<text x="323.53" y="285.70" font-size="4.4" text-anchor="end" fill="#6a6a6a" transform="rotate(-90 323.53 285.70)" >C8</text>
<rect x="328.00" y="220.50" width="3.00" height="63.30" fill="url(#cbar)"/>
<line x1="331.00" y1="220.50" x2="332.20" y2="220.50" stroke="#777" stroke-width="0.4"/>
<text x="332.60" y="222.00" font-size="4.5" text-anchor="start" fill="#444" textLength="10.80" lengthAdjust="spacingAndGlyphs" >0.040</text>
<line x1="331.00" y1="228.40" x2="332.20" y2="228.40" stroke="#777" stroke-width="0.4"/>
<text x="332.60" y="229.90" font-size="4.5" text-anchor="start" fill="#444" textLength="10.80" lengthAdjust="spacingAndGlyphs" >0.035</text>
<line x1="331.00" y1="236.30" x2="332.20" y2="236.30" stroke="#777" stroke-width="0.4"/>
<text x="332.60" y="237.80" font-size="4.5" text-anchor="start" fill="#444" textLength="10.80" lengthAdjust="spacingAndGlyphs" >0.030</text>
<line x1="331.00" y1="244.20" x2="332.20" y2="244.20" stroke="#777" stroke-width="0.4"/>
<text x="332.60" y="245.70" font-size="4.5" text-anchor="start" fill="#444" textLength="10.80" lengthAdjust="spacingAndGlyphs" >0.025</text>
<line x1="331.00" y1="252.10" x2="332.20" y2="252.10" stroke="#777" stroke-width="0.4"/>
<text x="332.60" y="253.60" font-size="4.5" text-anchor="start" fill="#444" textLength="10.80" lengthAdjust="spacingAndGlyphs" >0.020</text>
<line x1="331.00" y1="260.00" x2="332.20" y2="260.00" stroke="#777" stroke-width="0.4"/>
<text x="332.60" y="261.50" font-size="4.5" text-anchor="start" fill="#444" textLength="10.80" lengthAdjust="spacingAndGlyphs" >0.015</text>
<line x1="331.00" y1="267.90" x2="332.20" y2="267.90" stroke="#777" stroke-width="0.4"/>
<text x="332.60" y="269.40" font-size="4.5" text-anchor="start" fill="#444" textLength="10.80" lengthAdjust="spacingAndGlyphs" >0.010</text>
<line x1="331.00" y1="275.80" x2="332.20" y2="275.80" stroke="#777" stroke-width="0.4"/>
<text x="332.60" y="277.30" font-size="4.5" text-anchor="start" fill="#444" textLength="10.80" lengthAdjust="spacingAndGlyphs" >0.005</text>
<text x="296.40" y="207.40" font-size="7.6" text-anchor="middle" fill="#222" stroke="#222" stroke-width="0.06" textLength="28.30" lengthAdjust="spacingAndGlyphs" >Between</text>
<text x="296.40" y="217.00" font-size="7.6" text-anchor="middle" fill="#222" stroke="#222" stroke-width="0.06" textLength="40.10" lengthAdjust="spacingAndGlyphs" >D12 to D30</text>
<rect x="353.10" y="221.10" width="55.60" height="63.40" fill="#15866c"/>
<rect x="356.37" y="221.10" width="3.27" height="3.73" fill="#1a8b6e"/>
<rect x="372.72" y="221.10" width="3.27" height="3.73" fill="#1a8b6e"/>
<rect x="392.35" y="221.10" width="3.27" height="3.73" fill="#1a8b6e"/>
<rect x="369.45" y="228.56" width="3.27" height="3.73" fill="#1a8b6e"/>
<rect x="389.08" y="228.56" width="3.27" height="3.73" fill="#1a8b6e"/>
<rect x="353.10" y="232.29" width="3.27" height="3.73" fill="#1a8b6e"/>
<rect x="375.99" y="232.29" width="3.27" height="3.73" fill="#1a8b6e"/>
<rect x="362.91" y="236.02" width="3.27" height="3.73" fill="#1a8b6e"/>
<rect x="362.91" y="239.75" width="3.27" height="3.73" fill="#1a8b6e"/>
<rect x="389.08" y="239.75" width="3.27" height="3.73" fill="#1a8b6e"/>
<rect x="392.35" y="239.75" width="3.27" height="3.73" fill="#1a8b6e"/>
<rect x="395.62" y="239.75" width="3.27" height="3.73" fill="#1a8b6e"/>
<rect x="398.89" y="239.75" width="3.27" height="3.73" fill="#1a8b6e"/>
<rect x="375.99" y="243.48" width="3.27" height="3.73" fill="#1a8b6e"/>
<rect x="379.26" y="243.48" width="3.27" height="3.73" fill="#1a8b6e"/>
<rect x="353.10" y="247.21" width="3.27" height="3.73" fill="#1a8b6e"/>
<rect x="372.72" y="247.21" width="3.27" height="3.73" fill="#1a8b6e"/>
<rect x="392.35" y="247.21" width="3.27" height="3.73" fill="#1a8b6e"/>
<rect x="356.37" y="250.94" width="3.27" height="3.73" fill="#1a8b6e"/>
<rect x="366.18" y="250.94" width="3.27" height="3.73" fill="#1a8b6e"/>
<rect x="375.99" y="250.94" width="3.27" height="3.73" fill="#1a8b6e"/>
<rect x="402.16" y="250.94" width="3.27" height="3.73" fill="#1a8b6e"/>
<rect x="405.43" y="250.94" width="3.27" height="3.73" fill="#1a8b6e"/>
<rect x="362.91" y="254.66" width="3.27" height="3.73" fill="#1a8b6e"/>
<rect x="366.18" y="254.66" width="3.27" height="3.73" fill="#1a8b6e"/>
<rect x="375.99" y="254.66" width="3.27" height="3.73" fill="#1a8b6e"/>
<rect x="379.26" y="254.66" width="3.27" height="3.73" fill="#1a8b6e"/>
<rect x="392.35" y="254.66" width="3.27" height="3.73" fill="#1a8b6e"/>
<rect x="398.89" y="254.66" width="3.27" height="3.73" fill="#1a8b6e"/>
<rect x="366.18" y="258.39" width="3.27" height="3.73" fill="#1a8b6e"/>
<rect x="375.99" y="258.39" width="3.27" height="3.73" fill="#1a8b6e"/>
<rect x="395.62" y="258.39" width="3.27" height="3.73" fill="#1a8b6e"/>
<rect x="375.99" y="262.12" width="3.27" height="3.73" fill="#1a8b6e"/>
<rect x="402.16" y="262.12" width="3.27" height="3.73" fill="#1a8b6e"/>
<rect x="359.64" y="265.85" width="3.27" height="3.73" fill="#1a8b6e"/>
<rect x="372.72" y="265.85" width="3.27" height="3.73" fill="#1a8b6e"/>
<rect x="375.99" y="265.85" width="3.27" height="3.73" fill="#1a8b6e"/>
<rect x="379.26" y="265.85" width="3.27" height="3.73" fill="#1a8b6e"/>
<rect x="389.08" y="265.85" width="3.27" height="3.73" fill="#1a8b6e"/>
<rect x="398.89" y="265.85" width="3.27" height="3.73" fill="#1a8b6e"/>
<rect x="402.16" y="265.85" width="3.27" height="3.73" fill="#1a8b6e"/>
<rect x="353.10" y="269.58" width="3.27" height="3.73" fill="#1a8b6e"/>
<rect x="359.64" y="269.58" width="3.27" height="3.73" fill="#1a8b6e"/>
<rect x="366.18" y="269.58" width="3.27" height="3.73" fill="#1a8b6e"/>
<rect x="379.26" y="269.58" width="3.27" height="3.73" fill="#1a8b6e"/>
<rect x="359.64" y="273.31" width="3.27" height="3.73" fill="#1a8b6e"/>
<rect x="379.26" y="273.31" width="3.27" height="3.73" fill="#1a8b6e"/>
<rect x="395.62" y="273.31" width="3.27" height="3.73" fill="#1a8b6e"/>
<rect x="356.37" y="277.04" width="3.27" height="3.73" fill="#1a8b6e"/>
<rect x="366.18" y="277.04" width="3.27" height="3.73" fill="#1a8b6e"/>
<rect x="375.99" y="277.04" width="3.27" height="3.73" fill="#1a8b6e"/>
<rect x="385.81" y="277.04" width="3.27" height="3.73" fill="#1a8b6e"/>
<rect x="395.62" y="277.04" width="3.27" height="3.73" fill="#1a8b6e"/>
<rect x="356.37" y="280.77" width="3.27" height="3.73" fill="#1a8b6e"/>
<rect x="359.64" y="280.77" width="3.27" height="3.73" fill="#1a8b6e"/>
<rect x="362.91" y="280.77" width="3.27" height="3.73" fill="#1a8b6e"/>
<rect x="366.18" y="280.77" width="3.27" height="3.73" fill="#1a8b6e"/>
<rect x="369.45" y="280.77" width="3.27" height="3.73" fill="#1a8b6e"/>
<rect x="375.99" y="280.77" width="3.27" height="3.73" fill="#1a8b6e"/>
<rect x="379.26" y="280.77" width="3.27" height="3.73" fill="#1a8b6e"/>
<rect x="359.64" y="224.83" width="3.27" height="3.73" fill="#68ae61"/>
<rect x="366.18" y="224.83" width="3.27" height="3.73" fill="#f6ea54"/>
<rect x="372.72" y="224.83" width="3.27" height="3.73" fill="#f6ea54"/>
<rect x="372.72" y="228.56" width="3.27" height="3.73" fill="#f6ea54"/>
<rect x="356.37" y="228.56" width="3.27" height="3.73" fill="#68ae61"/>
<rect x="356.37" y="236.02" width="3.27" height="3.73" fill="#f6ea54"/>
<rect x="356.37" y="243.48" width="3.27" height="3.73" fill="#f6ea54"/>
<rect x="359.64" y="243.48" width="3.27" height="3.73" fill="#f6ea54"/>
<rect x="382.54" y="224.83" width="3.27" height="3.73" fill="#5aa862"/>
<rect x="385.81" y="228.56" width="3.27" height="3.73" fill="#f6ea54"/>
<rect x="392.35" y="232.29" width="3.27" height="3.73" fill="#84bb60"/>
<rect x="385.81" y="247.21" width="3.27" height="3.73" fill="#3e9a66"/>
<rect x="359.64" y="258.39" width="3.27" height="3.73" fill="#f6ea54"/>
<rect x="356.37" y="254.66" width="3.27" height="3.73" fill="#4ca164"/>
<rect x="362.91" y="265.85" width="3.27" height="3.73" fill="#68ae61"/>
<rect x="389.08" y="258.39" width="3.27" height="3.73" fill="#4ca164"/>
<rect x="353.10" y="221.10" width="3.27" height="3.73" fill="#e8e4f0"/>
<rect x="356.37" y="224.83" width="3.27" height="3.73" fill="#f4f2f8"/>
<rect x="359.64" y="228.56" width="3.27" height="3.73" fill="#f4f2f8"/>
<rect x="362.91" y="232.29" width="3.27" height="3.73" fill="#f4f2f8"/>
<rect x="366.18" y="236.02" width="3.27" height="3.73" fill="#f4f2f8"/>
<rect x="369.45" y="239.75" width="3.27" height="3.73" fill="#f4f2f8"/>
<rect x="372.72" y="243.48" width="3.27" height="3.73" fill="#f4f2f8"/>
<rect x="375.99" y="247.21" width="3.27" height="3.73" fill="#f4f2f8"/>
<rect x="379.26" y="250.94" width="3.27" height="3.73" fill="#f4f2f8"/>
<rect x="382.54" y="254.66" width="3.27" height="3.73" fill="#f4f2f8"/>
<rect x="385.81" y="258.39" width="3.27" height="3.73" fill="#f4f2f8"/>
<rect x="389.08" y="262.12" width="3.27" height="3.73" fill="#f4f2f8"/>
<rect x="392.35" y="265.85" width="3.27" height="3.73" fill="#f4f2f8"/>
<rect x="395.62" y="269.58" width="3.27" height="3.73" fill="#f4f2f8"/>
<rect x="398.89" y="273.31" width="3.27" height="3.73" fill="#f4f2f8"/>
<rect x="402.16" y="277.04" width="3.27" height="3.73" fill="#f4f2f8"/>
<rect x="405.43" y="280.77" width="3.27" height="3.73" fill="#e8e4f0"/>
<line x1="353.10" y1="250.94" x2="408.70" y2="250.94" stroke="#0e5a40" stroke-width="0.6"/>
<line x1="379.26" y1="221.10" x2="379.26" y2="284.50" stroke="#0e5a40" stroke-width="0.6"/>
<text x="351.90" y="224.46" font-size="4.4" text-anchor="end" fill="#666" >V1</text>
<text x="351.90" y="228.19" font-size="4.4" text-anchor="end" fill="#666" >V2</text>
<text x="351.90" y="231.92" font-size="4.4" text-anchor="end" fill="#666" >V3</text>
<text x="351.90" y="235.65" font-size="4.4" text-anchor="end" fill="#666" >V4</text>
<text x="351.90" y="239.38" font-size="4.4" text-anchor="end" fill="#666" >V5</text>
<text x="351.90" y="243.11" font-size="4.4" text-anchor="end" fill="#666" >V6</text>
<text x="351.90" y="246.84" font-size="4.4" text-anchor="end" fill="#666" >V7</text>
<text x="351.90" y="250.57" font-size="4.4" text-anchor="end" fill="#666" >V8</text>
<text x="351.90" y="254.30" font-size="4.4" text-anchor="end" fill="#666" >C1</text>
<text x="351.90" y="258.03" font-size="4.4" text-anchor="end" fill="#666" >C2</text>
<text x="351.90" y="261.76" font-size="4.4" text-anchor="end" fill="#666" >C3</text>
<text x="351.90" y="265.49" font-size="4.4" text-anchor="end" fill="#666" >C4</text>
<text x="351.90" y="269.22" font-size="4.4" text-anchor="end" fill="#666" >C5</text>
<text x="351.90" y="272.95" font-size="4.4" text-anchor="end" fill="#666" >C6</text>
<text x="351.90" y="276.68" font-size="4.4" text-anchor="end" fill="#666" >C7</text>
<text x="351.90" y="280.41" font-size="4.4" text-anchor="end" fill="#666" >C8</text>
<text x="351.90" y="284.14" font-size="4.4" text-anchor="end" fill="#666" >C9</text>
<text x="356.14" y="285.70" font-size="4.4" text-anchor="end" fill="#6a6a6a" transform="rotate(-90 356.14 285.70)" >V1</text>
<text x="359.41" y="285.70" font-size="4.4" text-anchor="end" fill="#6a6a6a" transform="rotate(-90 359.41 285.70)" >V2</text>
<text x="362.68" y="285.70" font-size="4.4" text-anchor="end" fill="#6a6a6a" transform="rotate(-90 362.68 285.70)" >V3</text>
<text x="365.95" y="285.70" font-size="4.4" text-anchor="end" fill="#6a6a6a" transform="rotate(-90 365.95 285.70)" >V4</text>
<text x="369.22" y="285.70" font-size="4.4" text-anchor="end" fill="#6a6a6a" transform="rotate(-90 369.22 285.70)" >V5</text>
<text x="372.49" y="285.70" font-size="4.4" text-anchor="end" fill="#6a6a6a" transform="rotate(-90 372.49 285.70)" >V6</text>
<text x="375.76" y="285.70" font-size="4.4" text-anchor="end" fill="#6a6a6a" transform="rotate(-90 375.76 285.70)" >V7</text>
<text x="379.03" y="285.70" font-size="4.4" text-anchor="end" fill="#6a6a6a" transform="rotate(-90 379.03 285.70)" >V8</text>
<text x="382.30" y="285.70" font-size="4.4" text-anchor="end" fill="#6a6a6a" transform="rotate(-90 382.30 285.70)" >C1</text>
<text x="385.57" y="285.70" font-size="4.4" text-anchor="end" fill="#6a6a6a" transform="rotate(-90 385.57 285.70)" >C2</text>
<text x="388.84" y="285.70" font-size="4.4" text-anchor="end" fill="#6a6a6a" transform="rotate(-90 388.84 285.70)" >C3</text>
<text x="392.11" y="285.70" font-size="4.4" text-anchor="end" fill="#6a6a6a" transform="rotate(-90 392.11 285.70)" >C4</text>
<text x="395.38" y="285.70" font-size="4.4" text-anchor="end" fill="#6a6a6a" transform="rotate(-90 395.38 285.70)" >C5</text>
<text x="398.65" y="285.70" font-size="4.4" text-anchor="end" fill="#6a6a6a" transform="rotate(-90 398.65 285.70)" >C6</text>
<text x="401.92" y="285.70" font-size="4.4" text-anchor="end" fill="#6a6a6a" transform="rotate(-90 401.92 285.70)" >C7</text>
<text x="405.19" y="285.70" font-size="4.4" text-anchor="end" fill="#6a6a6a" transform="rotate(-90 405.19 285.70)" >C8</text>
<text x="408.46" y="285.70" font-size="4.4" text-anchor="end" fill="#6a6a6a" transform="rotate(-90 408.46 285.70)" >C9</text>
<rect x="413.00" y="220.50" width="3.00" height="63.30" fill="url(#cbar)"/>
<line x1="416.00" y1="220.50" x2="417.20" y2="220.50" stroke="#777" stroke-width="0.4"/>
<text x="417.60" y="222.00" font-size="4.5" text-anchor="start" fill="#444" textLength="10.80" lengthAdjust="spacingAndGlyphs" >0.040</text>
<line x1="416.00" y1="228.40" x2="417.20" y2="228.40" stroke="#777" stroke-width="0.4"/>
<text x="417.60" y="229.90" font-size="4.5" text-anchor="start" fill="#444" textLength="10.80" lengthAdjust="spacingAndGlyphs" >0.035</text>
<line x1="416.00" y1="236.30" x2="417.20" y2="236.30" stroke="#777" stroke-width="0.4"/>
<text x="417.60" y="237.80" font-size="4.5" text-anchor="start" fill="#444" textLength="10.80" lengthAdjust="spacingAndGlyphs" >0.030</text>
<line x1="416.00" y1="244.20" x2="417.20" y2="244.20" stroke="#777" stroke-width="0.4"/>
<text x="417.60" y="245.70" font-size="4.5" text-anchor="start" fill="#444" textLength="10.80" lengthAdjust="spacingAndGlyphs" >0.025</text>
<line x1="416.00" y1="252.10" x2="417.20" y2="252.10" stroke="#777" stroke-width="0.4"/>
<text x="417.60" y="253.60" font-size="4.5" text-anchor="start" fill="#444" textLength="10.80" lengthAdjust="spacingAndGlyphs" >0.020</text>
<line x1="416.00" y1="260.00" x2="417.20" y2="260.00" stroke="#777" stroke-width="0.4"/>
<text x="417.60" y="261.50" font-size="4.5" text-anchor="start" fill="#444" textLength="10.80" lengthAdjust="spacingAndGlyphs" >0.015</text>
<line x1="416.00" y1="267.90" x2="417.20" y2="267.90" stroke="#777" stroke-width="0.4"/>
<text x="417.60" y="269.40" font-size="4.5" text-anchor="start" fill="#444" textLength="10.80" lengthAdjust="spacingAndGlyphs" >0.010</text>
<line x1="416.00" y1="275.80" x2="417.20" y2="275.80" stroke="#777" stroke-width="0.4"/>
<text x="417.60" y="277.30" font-size="4.5" text-anchor="start" fill="#444" textLength="10.80" lengthAdjust="spacingAndGlyphs" >0.005</text>
<line x1="416.00" y1="283.70" x2="417.20" y2="283.70" stroke="#777" stroke-width="0.4"/>
<text x="417.60" y="285.20" font-size="4.5" text-anchor="start" fill="#444" textLength="10.80" lengthAdjust="spacingAndGlyphs" >0.000</text>
<text x="381.50" y="207.40" font-size="7.6" text-anchor="middle" fill="#222" stroke="#222" stroke-width="0.06" textLength="28.30" lengthAdjust="spacingAndGlyphs" >Between</text>
<text x="381.50" y="217.00" font-size="7.6" text-anchor="middle" fill="#222" stroke="#222" stroke-width="0.06" textLength="39.40" lengthAdjust="spacingAndGlyphs" >D12 to D90</text>
<rect x="438.10" y="221.10" width="55.90" height="63.40" fill="#15866c"/>
<rect x="441.59" y="221.10" width="3.49" height="3.96" fill="#1a8b6e"/>
<rect x="462.56" y="221.10" width="3.49" height="3.96" fill="#1a8b6e"/>
<rect x="466.05" y="221.10" width="3.49" height="3.96" fill="#1a8b6e"/>
<rect x="473.04" y="221.10" width="3.49" height="3.96" fill="#1a8b6e"/>
<rect x="476.53" y="221.10" width="3.49" height="3.96" fill="#1a8b6e"/>
<rect x="483.52" y="221.10" width="3.49" height="3.96" fill="#1a8b6e"/>
<rect x="452.08" y="225.06" width="3.49" height="3.96" fill="#1a8b6e"/>
<rect x="462.56" y="225.06" width="3.49" height="3.96" fill="#1a8b6e"/>
<rect x="469.54" y="225.06" width="3.49" height="3.96" fill="#1a8b6e"/>
<rect x="459.06" y="229.03" width="3.49" height="3.96" fill="#1a8b6e"/>
<rect x="459.06" y="232.99" width="3.49" height="3.96" fill="#1a8b6e"/>
<rect x="462.56" y="232.99" width="3.49" height="3.96" fill="#1a8b6e"/>
<rect x="466.05" y="232.99" width="3.49" height="3.96" fill="#1a8b6e"/>
<rect x="438.10" y="236.95" width="3.49" height="3.96" fill="#1a8b6e"/>
<rect x="459.06" y="236.95" width="3.49" height="3.96" fill="#1a8b6e"/>
<rect x="487.01" y="236.95" width="3.49" height="3.96" fill="#1a8b6e"/>
<rect x="490.51" y="236.95" width="3.49" height="3.96" fill="#1a8b6e"/>
<rect x="441.59" y="240.91" width="3.49" height="3.96" fill="#1a8b6e"/>
<rect x="459.06" y="240.91" width="3.49" height="3.96" fill="#1a8b6e"/>
<rect x="480.02" y="240.91" width="3.49" height="3.96" fill="#1a8b6e"/>
<rect x="490.51" y="240.91" width="3.49" height="3.96" fill="#1a8b6e"/>
<rect x="455.57" y="244.88" width="3.49" height="3.96" fill="#1a8b6e"/>
<rect x="469.54" y="244.88" width="3.49" height="3.96" fill="#1a8b6e"/>
<rect x="476.53" y="244.88" width="3.49" height="3.96" fill="#1a8b6e"/>
<rect x="480.02" y="244.88" width="3.49" height="3.96" fill="#1a8b6e"/>
<rect x="487.01" y="244.88" width="3.49" height="3.96" fill="#1a8b6e"/>
<rect x="459.06" y="248.84" width="3.49" height="3.96" fill="#1a8b6e"/>
<rect x="469.54" y="248.84" width="3.49" height="3.96" fill="#1a8b6e"/>
<rect x="438.10" y="252.80" width="3.49" height="3.96" fill="#1a8b6e"/>
<rect x="469.54" y="252.80" width="3.49" height="3.96" fill="#1a8b6e"/>
<rect x="483.52" y="252.80" width="3.49" height="3.96" fill="#1a8b6e"/>
<rect x="441.59" y="256.76" width="3.49" height="3.96" fill="#1a8b6e"/>
<rect x="459.06" y="256.76" width="3.49" height="3.96" fill="#1a8b6e"/>
<rect x="445.09" y="260.73" width="3.49" height="3.96" fill="#1a8b6e"/>
<rect x="448.58" y="260.73" width="3.49" height="3.96" fill="#1a8b6e"/>
<rect x="469.54" y="260.73" width="3.49" height="3.96" fill="#1a8b6e"/>
<rect x="459.06" y="264.69" width="3.49" height="3.96" fill="#1a8b6e"/>
<rect x="462.56" y="264.69" width="3.49" height="3.96" fill="#1a8b6e"/>
<rect x="480.02" y="264.69" width="3.49" height="3.96" fill="#1a8b6e"/>
<rect x="487.01" y="264.69" width="3.49" height="3.96" fill="#1a8b6e"/>
<rect x="490.51" y="264.69" width="3.49" height="3.96" fill="#1a8b6e"/>
<rect x="445.09" y="268.65" width="3.49" height="3.96" fill="#1a8b6e"/>
<rect x="483.52" y="268.65" width="3.49" height="3.96" fill="#1a8b6e"/>
<rect x="459.06" y="272.61" width="3.49" height="3.96" fill="#1a8b6e"/>
<rect x="441.59" y="276.57" width="3.49" height="3.96" fill="#1a8b6e"/>
<rect x="480.02" y="276.57" width="3.49" height="3.96" fill="#1a8b6e"/>
<rect x="438.10" y="280.54" width="3.49" height="3.96" fill="#1a8b6e"/>
<rect x="476.53" y="280.54" width="3.49" height="3.96" fill="#1a8b6e"/>
<rect x="490.51" y="225.06" width="3.49" height="3.96" fill="#f6ea54"/>
<rect x="441.59" y="280.54" width="3.49" height="3.96" fill="#f6ea54"/>
<rect x="473.04" y="236.95" width="3.49" height="3.96" fill="#a0c85e"/>
<rect x="452.08" y="260.73" width="3.49" height="3.96" fill="#a0c85e"/>
<rect x="483.52" y="260.73" width="3.49" height="3.96" fill="#f6ea54"/>
<rect x="490.51" y="260.73" width="3.49" height="3.96" fill="#92c25f"/>
<rect x="473.04" y="272.61" width="3.49" height="3.96" fill="#f6ea54"/>
<rect x="490.51" y="272.61" width="3.49" height="3.96" fill="#b6d05d"/>
<rect x="490.51" y="276.57" width="3.49" height="3.96" fill="#cbd85c"/>
<rect x="473.04" y="280.54" width="3.49" height="3.96" fill="#a0c85e"/>
<rect x="483.52" y="280.54" width="3.49" height="3.96" fill="#d6dc5c"/>
<rect x="487.01" y="280.54" width="3.49" height="3.96" fill="#d6dc5c"/>
<rect x="473.04" y="252.80" width="3.49" height="3.96" fill="#4ca164"/>
<rect x="438.10" y="221.10" width="3.49" height="3.96" fill="#e8e4f0"/>
<rect x="441.59" y="225.06" width="3.49" height="3.96" fill="#f4f2f8"/>
<rect x="445.09" y="229.03" width="3.49" height="3.96" fill="#f4f2f8"/>
<rect x="448.58" y="232.99" width="3.49" height="3.96" fill="#f4f2f8"/>
<rect x="452.08" y="236.95" width="3.49" height="3.96" fill="#f4f2f8"/>
<rect x="455.57" y="240.91" width="3.49" height="3.96" fill="#f4f2f8"/>
<rect x="459.06" y="244.88" width="3.49" height="3.96" fill="#f4f2f8"/>
<rect x="462.56" y="248.84" width="3.49" height="3.96" fill="#f4f2f8"/>
<rect x="466.05" y="252.80" width="3.49" height="3.96" fill="#f4f2f8"/>
<rect x="469.54" y="256.76" width="3.49" height="3.96" fill="#f4f2f8"/>
<rect x="473.04" y="260.73" width="3.49" height="3.96" fill="#f4f2f8"/>
<rect x="476.53" y="264.69" width="3.49" height="3.96" fill="#f4f2f8"/>
<rect x="480.02" y="268.65" width="3.49" height="3.96" fill="#f4f2f8"/>
<rect x="483.52" y="272.61" width="3.49" height="3.96" fill="#f4f2f8"/>
<rect x="487.01" y="276.57" width="3.49" height="3.96" fill="#f4f2f8"/>
<rect x="490.51" y="280.54" width="3.49" height="3.96" fill="#e8e4f0"/>
<line x1="438.10" y1="256.76" x2="494.00" y2="256.76" stroke="#0e5a40" stroke-width="0.6"/>
<line x1="469.54" y1="221.10" x2="469.54" y2="284.50" stroke="#0e5a40" stroke-width="0.6"/>
<text x="436.90" y="224.58" font-size="4.4" text-anchor="end" fill="#666" >V1</text>
<text x="436.90" y="228.54" font-size="4.4" text-anchor="end" fill="#666" >V2</text>
<text x="436.90" y="232.51" font-size="4.4" text-anchor="end" fill="#666" >V3</text>
<text x="436.90" y="236.47" font-size="4.4" text-anchor="end" fill="#666" >V4</text>
<text x="436.90" y="240.43" font-size="4.4" text-anchor="end" fill="#666" >V5</text>
<text x="436.90" y="244.39" font-size="4.4" text-anchor="end" fill="#666" >V6</text>
<text x="436.90" y="248.36" font-size="4.4" text-anchor="end" fill="#666" >V7</text>
<text x="436.90" y="252.32" font-size="4.4" text-anchor="end" fill="#666" >V8</text>
<text x="436.90" y="256.28" font-size="4.4" text-anchor="end" fill="#666" >V9</text>
<text x="436.90" y="260.24" font-size="4.4" text-anchor="end" fill="#666" >C1</text>
<text x="436.90" y="264.21" font-size="4.4" text-anchor="end" fill="#666" >C2</text>
<text x="436.90" y="268.17" font-size="4.4" text-anchor="end" fill="#666" >C3</text>
<text x="436.90" y="272.13" font-size="4.4" text-anchor="end" fill="#666" >C4</text>
<text x="436.90" y="276.09" font-size="4.4" text-anchor="end" fill="#666" >C5</text>
<text x="436.90" y="280.06" font-size="4.4" text-anchor="end" fill="#666" >C6</text>
<text x="436.90" y="284.02" font-size="4.4" text-anchor="end" fill="#666" >C7</text>
<text x="441.25" y="285.70" font-size="4.4" text-anchor="end" fill="#6a6a6a" transform="rotate(-90 441.25 285.70)" >V1</text>
<text x="444.74" y="285.70" font-size="4.4" text-anchor="end" fill="#6a6a6a" transform="rotate(-90 444.74 285.70)" >V2</text>
<text x="448.23" y="285.70" font-size="4.4" text-anchor="end" fill="#6a6a6a" transform="rotate(-90 448.23 285.70)" >V3</text>
<text x="451.73" y="285.70" font-size="4.4" text-anchor="end" fill="#6a6a6a" transform="rotate(-90 451.73 285.70)" >V4</text>
<text x="455.22" y="285.70" font-size="4.4" text-anchor="end" fill="#6a6a6a" transform="rotate(-90 455.22 285.70)" >V5</text>
<text x="458.72" y="285.70" font-size="4.4" text-anchor="end" fill="#6a6a6a" transform="rotate(-90 458.72 285.70)" >V6</text>
<text x="462.21" y="285.70" font-size="4.4" text-anchor="end" fill="#6a6a6a" transform="rotate(-90 462.21 285.70)" >V7</text>
<text x="465.70" y="285.70" font-size="4.4" text-anchor="end" fill="#6a6a6a" transform="rotate(-90 465.70 285.70)" >V8</text>
<text x="469.20" y="285.70" font-size="4.4" text-anchor="end" fill="#6a6a6a" transform="rotate(-90 469.20 285.70)" >V9</text>
<text x="472.69" y="285.70" font-size="4.4" text-anchor="end" fill="#6a6a6a" transform="rotate(-90 472.69 285.70)" >C1</text>
<text x="476.18" y="285.70" font-size="4.4" text-anchor="end" fill="#6a6a6a" transform="rotate(-90 476.18 285.70)" >C2</text>
<text x="479.68" y="285.70" font-size="4.4" text-anchor="end" fill="#6a6a6a" transform="rotate(-90 479.68 285.70)" >C3</text>
<text x="483.17" y="285.70" font-size="4.4" text-anchor="end" fill="#6a6a6a" transform="rotate(-90 483.17 285.70)" >C4</text>
<text x="486.67" y="285.70" font-size="4.4" text-anchor="end" fill="#6a6a6a" transform="rotate(-90 486.67 285.70)" >C5</text>
<text x="490.16" y="285.70" font-size="4.4" text-anchor="end" fill="#6a6a6a" transform="rotate(-90 490.16 285.70)" >C6</text>
<text x="493.65" y="285.70" font-size="4.4" text-anchor="end" fill="#6a6a6a" transform="rotate(-90 493.65 285.70)" >C7</text>
<rect x="498.00" y="220.50" width="3.00" height="63.30" fill="url(#cbar)"/>
<line x1="501.00" y1="220.50" x2="502.20" y2="220.50" stroke="#777" stroke-width="0.4"/>
<text x="502.60" y="222.00" font-size="4.5" text-anchor="start" fill="#444" textLength="10.80" lengthAdjust="spacingAndGlyphs" >0.040</text>
<line x1="501.00" y1="228.40" x2="502.20" y2="228.40" stroke="#777" stroke-width="0.4"/>
<text x="502.60" y="229.90" font-size="4.5" text-anchor="start" fill="#444" textLength="10.80" lengthAdjust="spacingAndGlyphs" >0.035</text>
<line x1="501.00" y1="236.30" x2="502.20" y2="236.30" stroke="#777" stroke-width="0.4"/>
<text x="502.60" y="237.80" font-size="4.5" text-anchor="start" fill="#444" textLength="10.80" lengthAdjust="spacingAndGlyphs" >0.030</text>
<line x1="501.00" y1="244.20" x2="502.20" y2="244.20" stroke="#777" stroke-width="0.4"/>
<text x="502.60" y="245.70" font-size="4.5" text-anchor="start" fill="#444" textLength="10.80" lengthAdjust="spacingAndGlyphs" >0.025</text>
<line x1="501.00" y1="252.10" x2="502.20" y2="252.10" stroke="#777" stroke-width="0.4"/>
<text x="502.60" y="253.60" font-size="4.5" text-anchor="start" fill="#444" textLength="10.80" lengthAdjust="spacingAndGlyphs" >0.020</text>
<line x1="501.00" y1="260.00" x2="502.20" y2="260.00" stroke="#777" stroke-width="0.4"/>
<text x="502.60" y="261.50" font-size="4.5" text-anchor="start" fill="#444" textLength="10.80" lengthAdjust="spacingAndGlyphs" >0.015</text>
<line x1="501.00" y1="267.90" x2="502.20" y2="267.90" stroke="#777" stroke-width="0.4"/>
<text x="502.60" y="269.40" font-size="4.5" text-anchor="start" fill="#444" textLength="10.80" lengthAdjust="spacingAndGlyphs" >0.010</text>
<line x1="501.00" y1="275.80" x2="502.20" y2="275.80" stroke="#777" stroke-width="0.4"/>
<text x="502.60" y="277.30" font-size="4.5" text-anchor="start" fill="#444" textLength="10.80" lengthAdjust="spacingAndGlyphs" >0.005</text>
<line x1="501.00" y1="283.70" x2="502.20" y2="283.70" stroke="#777" stroke-width="0.4"/>
<text x="502.60" y="285.20" font-size="4.5" text-anchor="start" fill="#444" textLength="10.80" lengthAdjust="spacingAndGlyphs" >0.000</text>
<text x="466.50" y="207.40" font-size="7.6" text-anchor="middle" fill="#222" stroke="#222" stroke-width="0.06" textLength="28.30" lengthAdjust="spacingAndGlyphs" >Between</text>
<text x="466.50" y="217.00" font-size="7.6" text-anchor="middle" fill="#222" stroke="#222" stroke-width="0.06" textLength="44.00" lengthAdjust="spacingAndGlyphs" >D12 to D120</text>
<text x="7.70" y="329.30" font-size="11" text-anchor="start" fill="#111" font-weight="bold" >C</text>
<text x="152.85" y="329.60" font-size="9.4" text-anchor="middle" fill="#c8102e" font-weight="bold" textLength="18.10" lengthAdjust="spacingAndGlyphs" >CD4</text>
<line x1="40.90" y1="332.40" x2="43.10" y2="332.40" stroke="#333" stroke-width="0.9"/>
<text x="37.60" y="334.90" font-size="7.2" text-anchor="end" fill="#222" textLength="10.00" lengthAdjust="spacingAndGlyphs" >1.0</text>
<line x1="40.90" y1="351.56" x2="43.10" y2="351.56" stroke="#333" stroke-width="0.9"/>
<text x="37.60" y="354.06" font-size="7.2" text-anchor="end" fill="#222" textLength="10.00" lengthAdjust="spacingAndGlyphs" >0.8</text>
<line x1="40.90" y1="370.72" x2="43.10" y2="370.72" stroke="#333" stroke-width="0.9"/>
<text x="37.60" y="373.22" font-size="7.2" text-anchor="end" fill="#222" textLength="10.00" lengthAdjust="spacingAndGlyphs" >0.6</text>
<line x1="40.90" y1="389.88" x2="43.10" y2="389.88" stroke="#333" stroke-width="0.9"/>
<text x="37.60" y="392.38" font-size="7.2" text-anchor="end" fill="#222" textLength="10.00" lengthAdjust="spacingAndGlyphs" >0.4</text>
<line x1="40.90" y1="409.04" x2="43.10" y2="409.04" stroke="#333" stroke-width="0.9"/>
<text x="37.60" y="411.54" font-size="7.2" text-anchor="end" fill="#222" textLength="10.00" lengthAdjust="spacingAndGlyphs" >0.2</text>
<line x1="40.90" y1="428.20" x2="43.10" y2="428.20" stroke="#333" stroke-width="0.9"/>
<text x="37.60" y="430.70" font-size="7.2" text-anchor="end" fill="#222" textLength="10.00" lengthAdjust="spacingAndGlyphs" >0.0</text>
<line x1="40.90" y1="447.36" x2="43.10" y2="447.36" stroke="#333" stroke-width="0.9"/>
<text x="37.60" y="449.86" font-size="7.2" text-anchor="end" fill="#222" textLength="14.60" lengthAdjust="spacingAndGlyphs" >&#8722;0.2</text>
<line x1="40.90" y1="466.52" x2="43.10" y2="466.52" stroke="#333" stroke-width="0.9"/>
<text x="37.60" y="469.02" font-size="7.2" text-anchor="end" fill="#222" textLength="14.60" lengthAdjust="spacingAndGlyphs" >&#8722;0.4</text>
<linearGradient id="vgCD40" gradientUnits="userSpaceOnUse" x1="0" y1="333.4" x2="0" y2="474.5"><stop offset="0" stop-color="#1f77b4" stop-opacity="0.2"/><stop offset="0.047" stop-color="#1f77b4" stop-opacity="0.26"/><stop offset="0.259" stop-color="#1f77b4" stop-opacity="0.34"/><stop offset="0.685" stop-color="#1f77b4" stop-opacity="0.34"/><stop offset="0.705" stop-color="#1f77b4" stop-opacity="0.12"/><stop offset="1" stop-color="#1f77b4" stop-opacity="0.08"/></linearGradient>
<path d="M57.5,333.4L57.6,333.9L57.6,334.4L57.7,334.9L57.8,335.4L57.9,335.9L57.9,336.4L57.9,336.9L57.9,337.4L57.9,337.9L57.9,338.4L57.9,338.9L57.9,339.4L57.9,339.9L57.9,340.4L58.0,340.9L58.0,341.4L58.0,341.9L58.0,342.4L58.0,342.9L58.0,343.4L58.0,343.9L58.0,344.4L58.0,344.9L58.0,345.4L58.0,345.9L58.0,346.4L58.0,346.9L58.0,347.4L58.0,347.9L58.0,348.4L58.0,348.9L58.0,349.4L58.0,349.9L58.0,350.4L58.0,350.9L58.0,351.4L58.0,351.9L58.0,352.4L58.0,352.9L58.0,353.4L58.1,353.9L58.1,354.4L58.1,354.9L58.1,355.4L58.1,355.9L58.1,356.4L58.1,356.9L58.1,357.4L58.1,357.9L58.1,358.4L58.1,358.9L58.1,359.4L58.1,359.9L58.1,360.4L58.2,360.9L58.2,361.4L58.2,361.9L58.2,362.4L58.3,362.9L58.3,363.4L58.3,363.9L58.3,364.4L58.4,364.9L58.4,365.4L58.4,365.9L58.5,366.4L58.5,366.9L58.5,367.4L58.5,367.9L58.6,368.4L58.6,368.9L58.6,369.4L58.7,369.9L58.7,370.4L58.7,370.9L58.8,371.4L58.8,371.9L58.9,372.4L58.9,372.9L58.9,373.4L59.0,373.9L59.0,374.4L59.1,374.9L59.1,375.4L59.1,375.9L59.2,376.4L59.2,376.9L59.3,377.4L59.3,377.9L59.4,378.4L59.4,378.9L59.4,379.4L59.5,379.9L59.5,380.4L59.6,380.9L59.6,381.4L59.6,381.9L59.7,382.4L59.7,382.9L59.8,383.4L59.8,383.9L59.8,384.4L59.9,384.9L59.9,385.4L60.0,385.9L60.0,386.4L60.0,386.9L60.1,387.4L60.1,387.9L60.1,388.4L60.2,388.9L60.2,389.4L60.2,389.9L60.2,390.4L60.2,390.9L60.2,391.4L60.2,391.9L60.3,392.4L60.3,392.9L60.3,393.4L60.3,393.9L60.3,394.4L60.3,394.9L60.3,395.4L60.3,395.9L60.3,396.4L60.3,396.9L60.3,397.4L60.3,397.9L60.3,398.4L60.3,398.9L60.2,399.4L60.2,399.9L60.2,400.4L60.1,400.9L60.1,401.4L60.1,401.9L60.0,402.4L60.0,402.9L59.9,403.4L59.9,403.9L59.9,404.5L59.8,405.0L59.8,405.5L59.8,406.0L59.9,406.5L59.9,407.0L59.9,407.5L60.0,408.0L60.1,408.5L60.1,409.0L60.2,409.5L60.3,410.0L60.3,410.5L60.4,411.0L60.4,411.5L60.5,412.0L60.6,412.5L60.6,413.0L60.7,413.5L60.7,414.0L60.7,414.5L60.7,415.0L60.6,415.5L60.5,416.0L60.4,416.5L60.3,417.0L60.2,417.5L60.1,418.0L60.0,418.5L59.9,419.0L59.7,419.5L59.6,420.0L59.5,420.5L59.4,421.0L59.3,421.5L59.2,422.0L59.1,422.5L58.9,423.0L58.8,423.5L58.7,424.0L58.6,424.5L58.5,425.0L58.4,425.5L58.3,426.0L58.1,426.5L58.1,427.0L58.0,427.5L57.9,428.0L57.9,428.5L57.8,429.0L57.8,429.5L57.7,430.0L57.7,430.5L57.6,431.0L57.6,431.5L57.6,432.0L57.6,432.5L57.6,433.0L57.6,433.5L57.6,434.0L57.6,434.5L57.6,435.0L57.6,435.5L57.6,436.0L57.6,436.5L57.6,437.0L57.6,437.5L57.6,438.0L57.6,438.5L57.6,439.0L57.6,439.5L57.6,440.0L57.6,440.5L57.6,441.0L57.6,441.5L57.6,442.0L57.6,442.5L57.6,443.0L57.6,443.5L57.6,444.0L57.6,444.5L57.6,445.0L57.6,445.5L57.6,446.0L57.6,446.5L57.6,447.0L57.6,447.5L57.6,448.0L57.6,448.5L57.6,449.0L57.6,449.5L57.6,450.0L57.6,450.5L57.6,451.0L57.6,451.5L57.6,452.0L57.6,452.5L57.6,453.0L57.6,453.5L57.6,454.0L57.6,454.5L57.6,455.0L57.6,455.5L57.6,456.0L57.6,456.5L57.6,457.0L57.6,457.5L57.6,458.0L57.6,458.5L57.6,459.0L57.6,459.5L57.6,460.0L57.6,460.5L57.6,461.0L57.6,461.5L57.6,462.0L57.6,462.5L57.6,463.0L57.6,463.5L57.6,464.0L57.6,464.5L57.6,465.0L57.6,465.5L57.6,466.0L57.6,466.5L57.6,467.0L57.6,467.5L57.6,468.0L57.6,468.5L57.6,469.0L57.6,469.5L57.6,470.0L57.6,470.5L57.6,471.0L57.6,471.5L57.6,472.0L57.5,472.5L57.5,473.0L57.5,473.5L57.5,474.0L57.5,474.5L57.5,474.5L57.5,474.0L57.5,473.5L57.5,473.0L57.5,472.5L57.4,472.0L57.4,471.5L57.4,471.0L57.4,470.5L57.4,470.0L57.4,469.5L57.4,469.0L57.4,468.5L57.4,468.0L57.4,467.5L57.4,467.0L57.4,466.5L57.4,466.0L57.4,465.5L57.4,465.0L57.4,464.5L57.4,464.0L57.4,463.5L57.4,463.0L57.4,462.5L57.4,462.0L57.4,461.5L57.4,461.0L57.4,460.5L57.4,460.0L57.4,459.5L57.4,459.0L57.4,458.5L57.4,458.0L57.4,457.5L57.4,457.0L57.4,456.5L57.4,456.0L57.4,455.5L57.4,455.0L57.4,454.5L57.4,454.0L57.4,453.5L57.4,453.0L57.4,452.5L57.4,452.0L57.4,451.5L57.4,451.0L57.4,450.5L57.4,450.0L57.4,449.5L57.4,449.0L57.4,448.5L57.4,448.0L57.4,447.5L57.4,447.0L57.4,446.5L57.4,446.0L57.4,445.5L57.4,445.0L57.4,444.5L57.4,444.0L57.4,443.5L57.4,443.0L57.4,442.5L57.4,442.0L57.4,441.5L57.4,441.0L57.4,440.5L57.4,440.0L57.4,439.5L57.4,439.0L57.4,438.5L57.4,438.0L57.4,437.5L57.4,437.0L57.4,436.5L57.4,436.0L57.4,435.5L57.4,435.0L57.4,434.5L57.4,434.0L57.4,433.5L57.4,433.0L57.4,432.5L57.4,432.0L57.4,431.5L57.4,431.0L57.3,430.5L57.3,430.0L57.2,429.5L57.2,429.0L57.1,428.5L57.1,428.0L57.0,427.5L56.9,427.0L56.9,426.5L56.7,426.0L56.6,425.5L56.5,425.0L56.4,424.5L56.3,424.0L56.2,423.5L56.1,423.0L55.9,422.5L55.8,422.0L55.7,421.5L55.6,421.0L55.5,420.5L55.4,420.0L55.3,419.5L55.1,419.0L55.0,418.5L54.9,418.0L54.8,417.5L54.7,417.0L54.6,416.5L54.5,416.0L54.4,415.5L54.3,415.0L54.3,414.5L54.3,414.0L54.3,413.5L54.4,413.0L54.4,412.5L54.5,412.0L54.6,411.5L54.6,411.0L54.7,410.5L54.7,410.0L54.8,409.5L54.9,409.0L54.9,408.5L55.0,408.0L55.1,407.5L55.1,407.0L55.1,406.5L55.2,406.0L55.2,405.5L55.2,405.0L55.1,404.5L55.1,403.9L55.1,403.4L55.0,402.9L55.0,402.4L54.9,401.9L54.9,401.4L54.9,400.9L54.8,400.4L54.8,399.9L54.8,399.4L54.7,398.9L54.7,398.4L54.7,397.9L54.7,397.4L54.7,396.9L54.7,396.4L54.7,395.9L54.7,395.4L54.7,394.9L54.7,394.4L54.7,393.9L54.7,393.4L54.7,392.9L54.7,392.4L54.8,391.9L54.8,391.4L54.8,390.9L54.8,390.4L54.8,389.9L54.8,389.4L54.8,388.9L54.9,388.4L54.9,387.9L54.9,387.4L55.0,386.9L55.0,386.4L55.0,385.9L55.1,385.4L55.1,384.9L55.2,384.4L55.2,383.9L55.2,383.4L55.3,382.9L55.3,382.4L55.4,381.9L55.4,381.4L55.4,380.9L55.5,380.4L55.5,379.9L55.6,379.4L55.6,378.9L55.6,378.4L55.7,377.9L55.7,377.4L55.8,376.9L55.8,376.4L55.9,375.9L55.9,375.4L55.9,374.9L56.0,374.4L56.0,373.9L56.1,373.4L56.1,372.9L56.1,372.4L56.2,371.9L56.2,371.4L56.3,370.9L56.3,370.4L56.3,369.9L56.4,369.4L56.4,368.9L56.4,368.4L56.5,367.9L56.5,367.4L56.5,366.9L56.5,366.4L56.6,365.9L56.6,365.4L56.6,364.9L56.7,364.4L56.7,363.9L56.7,363.4L56.7,362.9L56.8,362.4L56.8,361.9L56.8,361.4L56.8,360.9L56.9,360.4L56.9,359.9L56.9,359.4L56.9,358.9L56.9,358.4L56.9,357.9L56.9,357.4L56.9,356.9L56.9,356.4L56.9,355.9L56.9,355.4L56.9,354.9L56.9,354.4L56.9,353.9L57.0,353.4L57.0,352.9L57.0,352.4L57.0,351.9L57.0,351.4L57.0,350.9L57.0,350.4L57.0,349.9L57.0,349.4L57.0,348.9L57.0,348.4L57.0,347.9L57.0,347.4L57.0,346.9L57.0,346.4L57.0,345.9L57.0,345.4L57.0,344.9L57.0,344.4L57.0,343.9L57.0,343.4L57.0,342.9L57.0,342.4L57.0,341.9L57.0,341.4L57.0,340.9L57.1,340.4L57.1,339.9L57.1,339.4L57.1,338.9L57.1,338.4L57.1,337.9L57.1,337.4L57.1,336.9L57.1,336.4L57.1,335.9L57.2,335.4L57.3,334.9L57.4,334.4L57.4,333.9L57.5,333.4Z" fill="url(#vgCD40)" stroke="none"/>
<line x1="55.50" y1="398.20" x2="59.50" y2="398.20" stroke="#1f77b4" stroke-width="1.0" stroke-opacity="0.9"/>
<linearGradient id="vgCD41" gradientUnits="userSpaceOnUse" x1="0" y1="333.4" x2="0" y2="474.5"><stop offset="0" stop-color="#ff7f0e" stop-opacity="0.2"/><stop offset="0.111" stop-color="#ff7f0e" stop-opacity="0.26"/><stop offset="0.323" stop-color="#ff7f0e" stop-opacity="0.34"/><stop offset="0.649" stop-color="#ff7f0e" stop-opacity="0.34"/><stop offset="0.669" stop-color="#ff7f0e" stop-opacity="0.12"/><stop offset="1" stop-color="#ff7f0e" stop-opacity="0.08"/></linearGradient>
<path d="M73.2,333.4L73.3,333.9L73.3,334.4L73.4,334.9L73.4,335.4L73.5,335.9L73.5,336.4L73.5,336.9L73.5,337.4L73.5,337.9L73.5,338.4L73.6,338.9L73.6,339.4L73.6,339.9L73.6,340.4L73.6,340.9L73.6,341.4L73.6,341.9L73.6,342.4L73.6,342.9L73.6,343.4L73.6,343.9L73.7,344.4L73.7,344.9L73.7,345.4L73.7,345.9L73.7,346.4L73.7,346.9L73.7,347.4L73.7,347.9L73.7,348.4L73.7,348.9L73.8,349.4L73.8,349.9L73.8,350.4L73.8,350.9L73.8,351.4L73.8,351.9L73.8,352.4L73.8,352.9L73.8,353.4L73.8,353.9L73.8,354.4L73.9,354.9L73.9,355.4L73.9,355.9L73.9,356.4L73.9,356.9L73.9,357.4L73.9,357.9L73.9,358.4L73.9,358.9L73.9,359.4L73.9,359.9L74.0,360.4L74.0,360.9L74.0,361.4L74.0,361.9L74.0,362.4L74.0,362.9L74.0,363.4L74.0,363.9L74.0,364.4L74.0,364.9L74.0,365.4L74.0,365.9L74.0,366.4L74.0,366.9L74.0,367.4L74.0,367.9L74.0,368.4L74.0,368.9L74.0,369.4L74.1,369.9L74.1,370.4L74.1,370.9L74.1,371.4L74.1,371.9L74.1,372.4L74.1,372.9L74.1,373.4L74.1,373.9L74.1,374.4L74.1,374.9L74.1,375.4L74.1,375.9L74.1,376.4L74.1,376.9L74.1,377.4L74.1,377.9L74.1,378.4L74.2,378.9L74.2,379.4L74.2,379.9L74.2,380.4L74.2,380.9L74.2,381.4L74.2,381.9L74.2,382.4L74.2,382.9L74.2,383.4L74.3,383.9L74.3,384.4L74.3,384.9L74.3,385.4L74.3,385.9L74.3,386.4L74.3,386.9L74.3,387.4L74.3,387.9L74.3,388.4L74.4,388.9L74.4,389.4L74.4,389.9L74.4,390.4L74.4,390.9L74.4,391.4L74.4,391.9L74.4,392.4L74.4,392.9L74.5,393.4L74.5,393.9L74.5,394.4L74.5,394.9L74.5,395.4L74.5,395.9L74.5,396.4L74.5,396.9L74.5,397.4L74.6,397.9L74.6,398.4L74.6,398.9L74.7,399.4L74.7,399.9L74.7,400.4L74.8,400.9L74.8,401.4L74.9,401.9L74.9,402.4L74.9,402.9L75.0,403.4L75.0,403.9L75.1,404.5L75.2,405.0L75.3,405.5L75.4,406.0L75.6,406.5L75.8,407.0L75.9,407.5L76.1,408.0L76.2,408.5L76.4,409.0L76.5,409.5L76.7,410.0L76.8,410.5L76.9,411.0L77.0,411.5L77.1,412.0L77.2,412.5L77.3,413.0L77.3,413.5L77.3,414.0L77.3,414.5L77.2,415.0L77.2,415.5L77.1,416.0L77.0,416.5L76.9,417.0L76.8,417.5L76.6,418.0L76.5,418.5L76.3,419.0L76.2,419.5L76.0,420.0L75.8,420.5L75.6,421.0L75.3,421.5L75.1,422.0L74.8,422.5L74.6,423.0L74.3,423.5L74.1,424.0L73.9,424.5L73.7,425.0L73.5,425.5L73.4,426.0L73.4,426.5L73.3,427.0L73.3,427.5L73.3,428.0L73.3,428.5L73.3,429.0L73.3,429.5L73.3,430.0L73.3,430.5L73.3,431.0L73.3,431.5L73.3,432.0L73.3,432.5L73.3,433.0L73.3,433.5L73.3,434.0L73.3,434.5L73.3,435.0L73.3,435.5L73.3,436.0L73.3,436.5L73.3,437.0L73.3,437.5L73.3,438.0L73.3,438.5L73.3,439.0L73.3,439.5L73.3,440.0L73.3,440.5L73.3,441.0L73.3,441.5L73.3,442.0L73.3,442.5L73.3,443.0L73.3,443.5L73.3,444.0L73.3,444.5L73.3,445.0L73.3,445.5L73.3,446.0L73.3,446.5L73.3,447.0L73.3,447.5L73.3,448.0L73.3,448.5L73.3,449.0L73.3,449.5L73.3,450.0L73.3,450.5L73.3,451.0L73.3,451.5L73.3,452.0L73.3,452.5L73.3,453.0L73.3,453.5L73.3,454.0L73.3,454.5L73.3,455.0L73.3,455.5L73.3,456.0L73.3,456.5L73.3,457.0L73.3,457.5L73.3,458.0L73.3,458.5L73.3,459.0L73.3,459.5L73.3,460.0L73.3,460.5L73.3,461.0L73.3,461.5L73.3,462.0L73.3,462.5L73.3,463.0L73.3,463.5L73.3,464.0L73.3,464.5L73.3,465.0L73.3,465.5L73.3,466.0L73.3,466.5L73.3,467.0L73.3,467.5L73.3,468.0L73.3,468.5L73.3,469.0L73.3,469.5L73.3,470.0L73.3,470.5L73.3,471.0L73.3,471.5L73.3,472.0L73.2,472.5L73.2,473.0L73.2,473.5L73.2,474.0L73.2,474.5L73.2,474.5L73.2,474.0L73.2,473.5L73.2,473.0L73.2,472.5L73.1,472.0L73.1,471.5L73.1,471.0L73.1,470.5L73.1,470.0L73.1,469.5L73.1,469.0L73.1,468.5L73.1,468.0L73.1,467.5L73.1,467.0L73.1,466.5L73.1,466.0L73.1,465.5L73.1,465.0L73.1,464.5L73.1,464.0L73.1,463.5L73.1,463.0L73.1,462.5L73.1,462.0L73.1,461.5L73.1,461.0L73.1,460.5L73.1,460.0L73.1,459.5L73.1,459.0L73.1,458.5L73.1,458.0L73.1,457.5L73.1,457.0L73.1,456.5L73.1,456.0L73.1,455.5L73.1,455.0L73.1,454.5L73.1,454.0L73.1,453.5L73.1,453.0L73.1,452.5L73.1,452.0L73.1,451.5L73.1,451.0L73.1,450.5L73.1,450.0L73.1,449.5L73.1,449.0L73.1,448.5L73.1,448.0L73.1,447.5L73.1,447.0L73.1,446.5L73.1,446.0L73.1,445.5L73.1,445.0L73.1,444.5L73.1,444.0L73.1,443.5L73.1,443.0L73.1,442.5L73.1,442.0L73.1,441.5L73.1,441.0L73.1,440.5L73.1,440.0L73.1,439.5L73.1,439.0L73.1,438.5L73.1,438.0L73.1,437.5L73.1,437.0L73.1,436.5L73.1,436.0L73.1,435.5L73.1,435.0L73.1,434.5L73.1,434.0L73.1,433.5L73.1,433.0L73.1,432.5L73.1,432.0L73.1,431.5L73.1,431.0L73.1,430.5L73.1,430.0L73.1,429.5L73.1,429.0L73.1,428.5L73.1,428.0L73.1,427.5L73.1,427.0L73.0,426.5L73.0,426.0L72.9,425.5L72.7,425.0L72.5,424.5L72.3,424.0L72.1,423.5L71.8,423.0L71.6,422.5L71.3,422.0L71.1,421.5L70.8,421.0L70.6,420.5L70.4,420.0L70.2,419.5L70.1,419.0L69.9,418.5L69.8,418.0L69.6,417.5L69.5,417.0L69.4,416.5L69.3,416.0L69.2,415.5L69.2,415.0L69.1,414.5L69.1,414.0L69.1,413.5L69.1,413.0L69.2,412.5L69.3,412.0L69.4,411.5L69.5,411.0L69.6,410.5L69.7,410.0L69.9,409.5L70.0,409.0L70.2,408.5L70.3,408.0L70.5,407.5L70.6,407.0L70.8,406.5L71.0,406.0L71.1,405.5L71.2,405.0L71.3,404.5L71.4,403.9L71.4,403.4L71.5,402.9L71.5,402.4L71.5,401.9L71.6,401.4L71.6,400.9L71.7,400.4L71.7,399.9L71.7,399.4L71.8,398.9L71.8,398.4L71.8,397.9L71.9,397.4L71.9,396.9L71.9,396.4L71.9,395.9L71.9,395.4L71.9,394.9L71.9,394.4L71.9,393.9L71.9,393.4L72.0,392.9L72.0,392.4L72.0,391.9L72.0,391.4L72.0,390.9L72.0,390.4L72.0,389.9L72.0,389.4L72.0,388.9L72.1,388.4L72.1,387.9L72.1,387.4L72.1,386.9L72.1,386.4L72.1,385.9L72.1,385.4L72.1,384.9L72.1,384.4L72.1,383.9L72.2,383.4L72.2,382.9L72.2,382.4L72.2,381.9L72.2,381.4L72.2,380.9L72.2,380.4L72.2,379.9L72.2,379.4L72.2,378.9L72.3,378.4L72.3,377.9L72.3,377.4L72.3,376.9L72.3,376.4L72.3,375.9L72.3,375.4L72.3,374.9L72.3,374.4L72.3,373.9L72.3,373.4L72.3,372.9L72.3,372.4L72.3,371.9L72.3,371.4L72.3,370.9L72.3,370.4L72.3,369.9L72.4,369.4L72.4,368.9L72.4,368.4L72.4,367.9L72.4,367.4L72.4,366.9L72.4,366.4L72.4,365.9L72.4,365.4L72.4,364.9L72.4,364.4L72.4,363.9L72.4,363.4L72.4,362.9L72.4,362.4L72.4,361.9L72.4,361.4L72.4,360.9L72.4,360.4L72.5,359.9L72.5,359.4L72.5,358.9L72.5,358.4L72.5,357.9L72.5,357.4L72.5,356.9L72.5,356.4L72.5,355.9L72.5,355.4L72.5,354.9L72.6,354.4L72.6,353.9L72.6,353.4L72.6,352.9L72.6,352.4L72.6,351.9L72.6,351.4L72.6,350.9L72.6,350.4L72.6,349.9L72.6,349.4L72.7,348.9L72.7,348.4L72.7,347.9L72.7,347.4L72.7,346.9L72.7,346.4L72.7,345.9L72.7,345.4L72.7,344.9L72.7,344.4L72.8,343.9L72.8,343.4L72.8,342.9L72.8,342.4L72.8,341.9L72.8,341.4L72.8,340.9L72.8,340.4L72.8,339.9L72.8,339.4L72.8,338.9L72.9,338.4L72.9,337.9L72.9,337.4L72.9,336.9L72.9,336.4L72.9,335.9L73.0,335.4L73.0,334.9L73.1,334.4L73.1,333.9L73.2,333.4Z" fill="url(#vgCD41)" stroke="none"/>
<line x1="71.20" y1="406.00" x2="75.20" y2="406.00" stroke="#ff7f0e" stroke-width="1.0" stroke-opacity="0.9"/>
<linearGradient id="vgCD42" gradientUnits="userSpaceOnUse" x1="0" y1="333.4" x2="0" y2="474.5"><stop offset="0" stop-color="#2ca02c" stop-opacity="0.2"/><stop offset="0.330" stop-color="#2ca02c" stop-opacity="0.26"/><stop offset="0.543" stop-color="#2ca02c" stop-opacity="0.34"/><stop offset="0.819" stop-color="#2ca02c" stop-opacity="0.34"/><stop offset="0.839" stop-color="#2ca02c" stop-opacity="0.12"/><stop offset="1" stop-color="#2ca02c" stop-opacity="0.08"/></linearGradient>
<path d="M89.0,333.4L89.0,333.9L89.1,334.4L89.1,334.9L89.2,335.4L89.2,335.9L89.3,336.4L89.3,336.9L89.3,337.4L89.3,337.9L89.3,338.4L89.3,338.9L89.3,339.4L89.3,339.9L89.3,340.4L89.3,340.9L89.3,341.4L89.3,341.9L89.3,342.4L89.3,342.9L89.3,343.4L89.3,343.9L89.3,344.4L89.3,344.9L89.3,345.4L89.3,345.9L89.3,346.4L89.3,346.9L89.3,347.4L89.3,347.9L89.3,348.4L89.3,348.9L89.3,349.4L89.3,349.9L89.3,350.4L89.3,350.9L89.3,351.4L89.3,351.9L89.3,352.4L89.3,352.9L89.3,353.4L89.3,353.9L89.3,354.4L89.3,354.9L89.3,355.4L89.3,355.9L89.3,356.4L89.3,356.9L89.3,357.4L89.3,357.9L89.3,358.4L89.3,358.9L89.3,359.4L89.3,359.9L89.3,360.4L89.3,360.9L89.3,361.4L89.3,361.9L89.3,362.4L89.3,362.9L89.4,363.4L89.4,363.9L89.4,364.4L89.4,364.9L89.4,365.4L89.4,365.9L89.4,366.4L89.4,366.9L89.4,367.4L89.4,367.9L89.4,368.4L89.4,368.9L89.4,369.4L89.4,369.9L89.4,370.4L89.4,370.9L89.4,371.4L89.4,371.9L89.4,372.4L89.4,372.9L89.4,373.4L89.4,373.9L89.4,374.4L89.4,374.9L89.4,375.4L89.4,375.9L89.4,376.4L89.4,376.9L89.4,377.4L89.4,377.9L89.4,378.4L89.4,378.9L89.4,379.4L89.4,379.9L89.4,380.4L89.4,380.9L89.4,381.4L89.4,381.9L89.4,382.4L89.4,382.9L89.4,383.4L89.4,383.9L89.4,384.4L89.4,384.9L89.4,385.4L89.4,385.9L89.4,386.4L89.4,386.9L89.4,387.4L89.4,387.9L89.4,388.4L89.4,388.9L89.4,389.4L89.4,389.9L89.5,390.4L89.5,390.9L89.5,391.4L89.5,391.9L89.5,392.4L89.5,392.9L89.5,393.4L89.5,393.9L89.5,394.4L89.5,394.9L89.5,395.4L89.5,395.9L89.5,396.4L89.5,396.9L89.5,397.4L89.5,397.9L89.5,398.4L89.5,398.9L89.5,399.4L89.5,399.9L89.5,400.4L89.5,400.9L89.5,401.4L89.5,401.9L89.5,402.4L89.5,402.9L89.5,403.4L89.5,403.9L89.5,404.5L89.6,405.0L89.6,405.5L89.6,406.0L89.7,406.5L89.7,407.0L89.8,407.5L89.8,408.0L89.8,408.5L89.9,409.0L89.9,409.5L90.0,410.0L90.1,410.5L90.2,411.0L90.3,411.5L90.4,412.0L90.6,412.5L90.7,413.0L90.8,413.5L91.0,414.0L91.1,414.5L91.2,415.0L91.3,415.5L91.5,416.0L91.6,416.5L91.7,417.0L91.8,417.5L91.9,418.0L92.0,418.5L92.1,419.0L92.2,419.5L92.3,420.0L92.4,420.5L92.4,421.0L92.5,421.5L92.6,422.0L92.7,422.5L92.8,423.0L92.9,423.5L93.0,424.0L93.0,424.5L93.1,425.0L93.2,425.5L93.2,426.0L93.2,426.5L93.2,427.0L93.1,427.5L93.1,428.0L93.0,428.5L93.0,429.0L92.9,429.5L92.9,430.0L92.8,430.5L92.8,431.0L92.7,431.5L92.6,432.0L92.6,432.5L92.5,433.0L92.5,433.5L92.4,434.0L92.3,434.5L92.2,435.0L92.1,435.5L92.0,436.0L91.9,436.5L91.8,437.0L91.7,437.5L91.5,438.0L91.4,438.5L91.3,439.0L91.2,439.5L91.0,440.0L90.9,440.5L90.8,441.0L90.7,441.5L90.6,442.0L90.5,442.5L90.4,443.0L90.3,443.5L90.2,444.0L90.1,444.5L90.0,445.0L89.9,445.5L89.8,446.0L89.7,446.5L89.7,447.0L89.6,447.5L89.5,448.0L89.4,448.5L89.3,449.0L89.3,449.5L89.2,450.0L89.2,450.5L89.1,451.0L89.1,451.5L89.1,452.0L89.1,452.5L89.1,453.0L89.1,453.5L89.1,454.0L89.1,454.5L89.1,455.0L89.1,455.5L89.1,456.0L89.1,456.5L89.1,457.0L89.1,457.5L89.1,458.0L89.1,458.5L89.1,459.0L89.1,459.5L89.1,460.0L89.1,460.5L89.1,461.0L89.1,461.5L89.1,462.0L89.1,462.5L89.1,463.0L89.1,463.5L89.1,464.0L89.1,464.5L89.1,465.0L89.1,465.5L89.1,466.0L89.1,466.5L89.1,467.0L89.1,467.5L89.1,468.0L89.1,468.5L89.1,469.0L89.1,469.5L89.1,470.0L89.1,470.5L89.1,471.0L89.1,471.5L89.1,472.0L89.0,472.5L89.0,473.0L89.0,473.5L89.0,474.0L89.0,474.5L89.0,474.5L89.0,474.0L89.0,473.5L89.0,473.0L89.0,472.5L88.9,472.0L88.9,471.5L88.9,471.0L88.9,470.5L88.9,470.0L88.9,469.5L88.9,469.0L88.9,468.5L88.9,468.0L88.9,467.5L88.9,467.0L88.9,466.5L88.9,466.0L88.9,465.5L88.9,465.0L88.9,464.5L88.9,464.0L88.9,463.5L88.9,463.0L88.9,462.5L88.9,462.0L88.9,461.5L88.9,461.0L88.9,460.5L88.9,460.0L88.9,459.5L88.9,459.0L88.9,458.5L88.9,458.0L88.9,457.5L88.9,457.0L88.9,456.5L88.9,456.0L88.9,455.5L88.9,455.0L88.9,454.5L88.9,454.0L88.9,453.5L88.9,453.0L88.9,452.5L88.9,452.0L88.9,451.5L88.9,451.0L88.8,450.5L88.8,450.0L88.7,449.5L88.7,449.0L88.6,448.5L88.5,448.0L88.4,447.5L88.3,447.0L88.3,446.5L88.2,446.0L88.1,445.5L88.0,445.0L87.9,444.5L87.8,444.0L87.7,443.5L87.6,443.0L87.5,442.5L87.4,442.0L87.3,441.5L87.2,441.0L87.1,440.5L87.0,440.0L86.8,439.5L86.7,439.0L86.6,438.5L86.5,438.0L86.3,437.5L86.2,437.0L86.1,436.5L86.0,436.0L85.9,435.5L85.8,435.0L85.7,434.5L85.6,434.0L85.5,433.5L85.5,433.0L85.4,432.5L85.4,432.0L85.3,431.5L85.2,431.0L85.2,430.5L85.1,430.0L85.1,429.5L85.0,429.0L85.0,428.5L84.9,428.0L84.9,427.5L84.8,427.0L84.8,426.5L84.8,426.0L84.8,425.5L84.9,425.0L85.0,424.5L85.0,424.0L85.1,423.5L85.2,423.0L85.3,422.5L85.4,422.0L85.5,421.5L85.6,421.0L85.6,420.5L85.7,420.0L85.8,419.5L85.9,419.0L86.0,418.5L86.1,418.0L86.2,417.5L86.3,417.0L86.4,416.5L86.5,416.0L86.7,415.5L86.8,415.0L86.9,414.5L87.0,414.0L87.2,413.5L87.3,413.0L87.4,412.5L87.6,412.0L87.7,411.5L87.8,411.0L87.9,410.5L88.0,410.0L88.1,409.5L88.1,409.0L88.2,408.5L88.2,408.0L88.2,407.5L88.3,407.0L88.3,406.5L88.4,406.0L88.4,405.5L88.4,405.0L88.5,404.5L88.5,403.9L88.5,403.4L88.5,402.9L88.5,402.4L88.5,401.9L88.5,401.4L88.5,400.9L88.5,400.4L88.5,399.9L88.5,399.4L88.5,398.9L88.5,398.4L88.5,397.9L88.5,397.4L88.5,396.9L88.5,396.4L88.5,395.9L88.5,395.4L88.5,394.9L88.5,394.4L88.5,393.9L88.5,393.4L88.5,392.9L88.5,392.4L88.5,391.9L88.5,391.4L88.5,390.9L88.5,390.4L88.6,389.9L88.6,389.4L88.6,388.9L88.6,388.4L88.6,387.9L88.6,387.4L88.6,386.9L88.6,386.4L88.6,385.9L88.6,385.4L88.6,384.9L88.6,384.4L88.6,383.9L88.6,383.4L88.6,382.9L88.6,382.4L88.6,381.9L88.6,381.4L88.6,380.9L88.6,380.4L88.6,379.9L88.6,379.4L88.6,378.9L88.6,378.4L88.6,377.9L88.6,377.4L88.6,376.9L88.6,376.4L88.6,375.9L88.6,375.4L88.6,374.9L88.6,374.4L88.6,373.9L88.6,373.4L88.6,372.9L88.6,372.4L88.6,371.9L88.6,371.4L88.6,370.9L88.6,370.4L88.6,369.9L88.6,369.4L88.6,368.9L88.6,368.4L88.6,367.9L88.6,367.4L88.6,366.9L88.6,366.4L88.6,365.9L88.6,365.4L88.6,364.9L88.6,364.4L88.6,363.9L88.6,363.4L88.7,362.9L88.7,362.4L88.7,361.9L88.7,361.4L88.7,360.9L88.7,360.4L88.7,359.9L88.7,359.4L88.7,358.9L88.7,358.4L88.7,357.9L88.7,357.4L88.7,356.9L88.7,356.4L88.7,355.9L88.7,355.4L88.7,354.9L88.7,354.4L88.7,353.9L88.7,353.4L88.7,352.9L88.7,352.4L88.7,351.9L88.7,351.4L88.7,350.9L88.7,350.4L88.7,349.9L88.7,349.4L88.7,348.9L88.7,348.4L88.7,347.9L88.7,347.4L88.7,346.9L88.7,346.4L88.7,345.9L88.7,345.4L88.7,344.9L88.7,344.4L88.7,343.9L88.7,343.4L88.7,342.9L88.7,342.4L88.7,341.9L88.7,341.4L88.7,340.9L88.7,340.4L88.7,339.9L88.7,339.4L88.7,338.9L88.7,338.4L88.7,337.9L88.7,337.4L88.7,336.9L88.7,336.4L88.8,335.9L88.8,335.4L88.9,334.9L88.9,334.4L89.0,333.9L89.0,333.4Z" fill="url(#vgCD42)" stroke="none"/>
<line x1="87.00" y1="426.00" x2="91.00" y2="426.00" stroke="#2ca02c" stroke-width="1.0" stroke-opacity="0.9"/>
<linearGradient id="vgCD43" gradientUnits="userSpaceOnUse" x1="0" y1="333.4" x2="0" y2="474.5"><stop offset="0" stop-color="#d62728" stop-opacity="0.2"/><stop offset="0.144" stop-color="#d62728" stop-opacity="0.26"/><stop offset="0.356" stop-color="#d62728" stop-opacity="0.34"/><stop offset="0.670" stop-color="#d62728" stop-opacity="0.34"/><stop offset="0.690" stop-color="#d62728" stop-opacity="0.12"/><stop offset="1" stop-color="#d62728" stop-opacity="0.08"/></linearGradient>
<path d="M104.9,333.4L105.0,333.9L105.0,334.4L105.1,334.9L105.1,335.4L105.2,335.9L105.2,336.4L105.2,336.9L105.2,337.4L105.2,337.9L105.2,338.4L105.2,338.9L105.2,339.4L105.2,339.9L105.2,340.4L105.2,340.9L105.2,341.4L105.2,341.9L105.2,342.4L105.2,342.9L105.2,343.4L105.2,343.9L105.2,344.4L105.2,344.9L105.2,345.4L105.2,345.9L105.2,346.4L105.2,346.9L105.2,347.4L105.2,347.9L105.2,348.4L105.2,348.9L105.2,349.4L105.2,349.9L105.2,350.4L105.2,350.9L105.2,351.4L105.2,351.9L105.2,352.4L105.2,352.9L105.2,353.4L105.2,353.9L105.2,354.4L105.2,354.9L105.2,355.4L105.3,355.9L105.3,356.4L105.3,356.9L105.3,357.4L105.3,357.9L105.3,358.4L105.3,358.9L105.3,359.4L105.3,359.9L105.3,360.4L105.3,360.9L105.3,361.4L105.3,361.9L105.3,362.4L105.3,362.9L105.3,363.4L105.3,363.9L105.3,364.4L105.3,364.9L105.3,365.4L105.3,365.9L105.3,366.4L105.3,366.9L105.3,367.4L105.3,367.9L105.3,368.4L105.3,368.9L105.3,369.4L105.3,369.9L105.3,370.4L105.3,370.9L105.3,371.4L105.3,371.9L105.3,372.4L105.3,372.9L105.3,373.4L105.3,373.9L105.3,374.4L105.3,374.9L105.3,375.4L105.4,375.9L105.4,376.4L105.4,376.9L105.4,377.4L105.5,377.9L105.5,378.4L105.5,378.9L105.6,379.4L105.6,379.9L105.6,380.4L105.6,380.9L105.7,381.4L105.7,381.9L105.7,382.4L105.8,382.9L105.8,383.4L105.9,383.9L105.9,384.4L106.0,384.9L106.1,385.4L106.1,385.9L106.2,386.4L106.3,386.9L106.3,387.4L106.4,387.9L106.5,388.4L106.6,388.9L106.6,389.4L106.7,389.9L106.8,390.4L106.9,390.9L106.9,391.4L107.0,391.9L107.1,392.4L107.1,392.9L107.2,393.4L107.2,393.9L107.3,394.4L107.3,394.9L107.4,395.4L107.4,395.9L107.5,396.4L107.5,396.9L107.6,397.4L107.6,397.9L107.7,398.4L107.7,398.9L107.8,399.4L107.8,399.9L107.9,400.4L107.9,400.9L108.0,401.4L108.0,401.9L108.0,402.4L108.0,402.9L108.1,403.4L108.1,403.9L108.1,404.5L108.1,405.0L108.1,405.5L108.1,406.0L108.2,406.5L108.2,407.0L108.2,407.5L108.2,408.0L108.2,408.5L108.2,409.0L108.2,409.5L108.3,410.0L108.3,410.5L108.3,411.0L108.3,411.5L108.3,412.0L108.3,412.5L108.3,413.0L108.4,413.5L108.4,414.0L108.4,414.5L108.4,415.0L108.4,415.5L108.4,416.0L108.4,416.5L108.4,417.0L108.3,417.5L108.3,418.0L108.2,418.5L108.1,419.0L108.0,419.5L108.0,420.0L107.9,420.5L107.8,421.0L107.7,421.5L107.6,422.0L107.5,422.5L107.4,423.0L107.3,423.5L107.1,424.0L106.9,424.5L106.8,425.0L106.5,425.5L106.3,426.0L106.1,426.5L105.9,427.0L105.7,427.5L105.5,428.0L105.4,428.5L105.3,429.0L105.2,429.5L105.1,430.0L105.1,430.5L105.0,431.0L105.0,431.5L105.0,432.0L105.0,432.5L105.0,433.0L105.0,433.5L105.0,434.0L105.0,434.5L105.0,435.0L105.0,435.5L105.0,436.0L105.0,436.5L105.0,437.0L105.0,437.5L105.0,438.0L105.0,438.5L105.0,439.0L105.0,439.5L105.0,440.0L105.0,440.5L105.0,441.0L105.0,441.5L105.0,442.0L105.0,442.5L105.0,443.0L105.0,443.5L105.0,444.0L105.0,444.5L105.0,445.0L105.0,445.5L105.0,446.0L105.0,446.5L105.0,447.0L105.0,447.5L105.0,448.0L105.0,448.5L105.0,449.0L105.0,449.5L105.0,450.0L105.0,450.5L105.0,451.0L105.0,451.5L105.0,452.0L105.0,452.5L105.0,453.0L105.0,453.5L105.0,454.0L105.0,454.5L105.0,455.0L105.0,455.5L105.0,456.0L105.0,456.5L105.0,457.0L105.0,457.5L105.0,458.0L105.0,458.5L105.0,459.0L105.0,459.5L105.0,460.0L105.0,460.5L105.0,461.0L105.0,461.5L105.0,462.0L105.0,462.5L105.0,463.0L105.0,463.5L105.0,464.0L105.0,464.5L105.0,465.0L105.0,465.5L105.0,466.0L105.0,466.5L105.0,467.0L105.0,467.5L105.0,468.0L105.0,468.5L105.0,469.0L105.0,469.5L105.0,470.0L105.0,470.5L105.0,471.0L105.0,471.5L105.0,472.0L104.9,472.5L104.9,473.0L104.9,473.5L104.9,474.0L104.9,474.5L104.9,474.5L104.9,474.0L104.9,473.5L104.9,473.0L104.9,472.5L104.8,472.0L104.8,471.5L104.8,471.0L104.8,470.5L104.8,470.0L104.8,469.5L104.8,469.0L104.8,468.5L104.8,468.0L104.8,467.5L104.8,467.0L104.8,466.5L104.8,466.0L104.8,465.5L104.8,465.0L104.8,464.5L104.8,464.0L104.8,463.5L104.8,463.0L104.8,462.5L104.8,462.0L104.8,461.5L104.8,461.0L104.8,460.5L104.8,460.0L104.8,459.5L104.8,459.0L104.8,458.5L104.8,458.0L104.8,457.5L104.8,457.0L104.8,456.5L104.8,456.0L104.8,455.5L104.8,455.0L104.8,454.5L104.8,454.0L104.8,453.5L104.8,453.0L104.8,452.5L104.8,452.0L104.8,451.5L104.8,451.0L104.8,450.5L104.8,450.0L104.8,449.5L104.8,449.0L104.8,448.5L104.8,448.0L104.8,447.5L104.8,447.0L104.8,446.5L104.8,446.0L104.8,445.5L104.8,445.0L104.8,444.5L104.8,444.0L104.8,443.5L104.8,443.0L104.8,442.5L104.8,442.0L104.8,441.5L104.8,441.0L104.8,440.5L104.8,440.0L104.8,439.5L104.8,439.0L104.8,438.5L104.8,438.0L104.8,437.5L104.8,437.0L104.8,436.5L104.8,436.0L104.8,435.5L104.8,435.0L104.8,434.5L104.8,434.0L104.8,433.5L104.8,433.0L104.8,432.5L104.8,432.0L104.8,431.5L104.8,431.0L104.7,430.5L104.7,430.0L104.6,429.5L104.5,429.0L104.4,428.5L104.3,428.0L104.1,427.5L103.9,427.0L103.7,426.5L103.5,426.0L103.3,425.5L103.0,425.0L102.9,424.5L102.7,424.0L102.5,423.5L102.4,423.0L102.3,422.5L102.2,422.0L102.1,421.5L102.0,421.0L101.9,420.5L101.8,420.0L101.8,419.5L101.7,419.0L101.6,418.5L101.5,418.0L101.5,417.5L101.4,417.0L101.4,416.5L101.4,416.0L101.4,415.5L101.4,415.0L101.4,414.5L101.4,414.0L101.4,413.5L101.5,413.0L101.5,412.5L101.5,412.0L101.5,411.5L101.5,411.0L101.5,410.5L101.5,410.0L101.6,409.5L101.6,409.0L101.6,408.5L101.6,408.0L101.6,407.5L101.6,407.0L101.6,406.5L101.7,406.0L101.7,405.5L101.7,405.0L101.7,404.5L101.7,403.9L101.7,403.4L101.8,402.9L101.8,402.4L101.8,401.9L101.8,401.4L101.9,400.9L101.9,400.4L102.0,399.9L102.0,399.4L102.1,398.9L102.1,398.4L102.2,397.9L102.2,397.4L102.3,396.9L102.3,396.4L102.4,395.9L102.4,395.4L102.5,394.9L102.5,394.4L102.6,393.9L102.6,393.4L102.7,392.9L102.7,392.4L102.8,391.9L102.9,391.4L102.9,390.9L103.0,390.4L103.1,389.9L103.2,389.4L103.2,388.9L103.3,388.4L103.4,387.9L103.5,387.4L103.5,386.9L103.6,386.4L103.7,385.9L103.7,385.4L103.8,384.9L103.9,384.4L103.9,383.9L104.0,383.4L104.0,382.9L104.1,382.4L104.1,381.9L104.1,381.4L104.2,380.9L104.2,380.4L104.2,379.9L104.2,379.4L104.3,378.9L104.3,378.4L104.3,377.9L104.4,377.4L104.4,376.9L104.4,376.4L104.4,375.9L104.5,375.4L104.5,374.9L104.5,374.4L104.5,373.9L104.5,373.4L104.5,372.9L104.5,372.4L104.5,371.9L104.5,371.4L104.5,370.9L104.5,370.4L104.5,369.9L104.5,369.4L104.5,368.9L104.5,368.4L104.5,367.9L104.5,367.4L104.5,366.9L104.5,366.4L104.5,365.9L104.5,365.4L104.5,364.9L104.5,364.4L104.5,363.9L104.5,363.4L104.5,362.9L104.5,362.4L104.5,361.9L104.5,361.4L104.5,360.9L104.5,360.4L104.5,359.9L104.5,359.4L104.5,358.9L104.5,358.4L104.5,357.9L104.5,357.4L104.5,356.9L104.5,356.4L104.5,355.9L104.6,355.4L104.6,354.9L104.6,354.4L104.6,353.9L104.6,353.4L104.6,352.9L104.6,352.4L104.6,351.9L104.6,351.4L104.6,350.9L104.6,350.4L104.6,349.9L104.6,349.4L104.6,348.9L104.6,348.4L104.6,347.9L104.6,347.4L104.6,346.9L104.6,346.4L104.6,345.9L104.6,345.4L104.6,344.9L104.6,344.4L104.6,343.9L104.6,343.4L104.6,342.9L104.6,342.4L104.6,341.9L104.6,341.4L104.6,340.9L104.6,340.4L104.6,339.9L104.6,339.4L104.6,338.9L104.6,338.4L104.6,337.9L104.6,337.4L104.6,336.9L104.6,336.4L104.6,335.9L104.7,335.4L104.7,334.9L104.8,334.4L104.8,333.9L104.9,333.4Z" fill="url(#vgCD43)" stroke="none"/>
<line x1="102.90" y1="408.00" x2="106.90" y2="408.00" stroke="#d62728" stroke-width="1.0" stroke-opacity="0.9"/>
<linearGradient id="vgCD44" gradientUnits="userSpaceOnUse" x1="0" y1="333.4" x2="0" y2="474.5"><stop offset="0" stop-color="#9467bd" stop-opacity="0.2"/><stop offset="0.144" stop-color="#9467bd" stop-opacity="0.26"/><stop offset="0.356" stop-color="#9467bd" stop-opacity="0.34"/><stop offset="0.709" stop-color="#9467bd" stop-opacity="0.34"/><stop offset="0.729" stop-color="#9467bd" stop-opacity="0.12"/><stop offset="1" stop-color="#9467bd" stop-opacity="0.08"/></linearGradient>
<path d="M120.8,333.4L120.9,333.9L120.9,334.4L121.0,334.9L121.0,335.4L121.1,335.9L121.1,336.4L121.1,336.9L121.1,337.4L121.1,337.9L121.1,338.4L121.1,338.9L121.1,339.4L121.1,339.9L121.2,340.4L121.2,340.9L121.2,341.4L121.2,341.9L121.2,342.4L121.2,342.9L121.2,343.4L121.2,343.9L121.2,344.4L121.2,344.9L121.2,345.4L121.2,345.9L121.2,346.4L121.2,346.9L121.2,347.4L121.2,347.9L121.3,348.4L121.3,348.9L121.3,349.4L121.3,349.9L121.3,350.4L121.3,350.9L121.3,351.4L121.3,351.9L121.3,352.4L121.3,352.9L121.3,353.4L121.3,353.9L121.3,354.4L121.3,354.9L121.3,355.4L121.3,355.9L121.4,356.4L121.4,356.9L121.4,357.4L121.4,357.9L121.4,358.4L121.4,358.9L121.4,359.4L121.4,359.9L121.4,360.4L121.4,360.9L121.4,361.4L121.4,361.9L121.4,362.4L121.4,362.9L121.4,363.4L121.4,363.9L121.5,364.4L121.5,364.9L121.5,365.4L121.5,365.9L121.5,366.4L121.5,366.9L121.5,367.4L121.5,367.9L121.5,368.4L121.5,368.9L121.5,369.4L121.5,369.9L121.5,370.4L121.5,370.9L121.5,371.4L121.5,371.9L121.6,372.4L121.6,372.9L121.6,373.4L121.6,373.9L121.6,374.4L121.7,374.9L121.7,375.4L121.7,375.9L121.8,376.4L121.8,376.9L121.8,377.4L121.8,377.9L121.9,378.4L121.9,378.9L121.9,379.4L121.9,379.9L122.0,380.4L122.0,380.9L122.0,381.4L122.1,381.9L122.1,382.4L122.1,382.9L122.1,383.4L122.2,383.9L122.2,384.4L122.3,384.9L122.3,385.4L122.4,385.9L122.4,386.4L122.5,386.9L122.5,387.4L122.6,387.9L122.6,388.4L122.7,388.9L122.7,389.4L122.7,389.9L122.8,390.4L122.8,390.9L122.9,391.4L122.9,391.9L123.0,392.4L123.0,392.9L123.0,393.4L123.0,393.9L123.1,394.4L123.1,394.9L123.1,395.4L123.1,395.9L123.1,396.4L123.1,396.9L123.1,397.4L123.2,397.9L123.2,398.4L123.2,398.9L123.2,399.4L123.2,399.9L123.2,400.4L123.2,400.9L123.2,401.4L123.2,401.9L123.2,402.4L123.2,402.9L123.2,403.4L123.2,403.9L123.1,404.5L123.1,405.0L123.1,405.5L123.1,406.0L123.1,406.5L123.1,407.0L123.1,407.5L123.1,408.0L123.1,408.5L123.2,409.0L123.2,409.5L123.3,410.0L123.4,410.5L123.5,411.0L123.5,411.5L123.6,412.0L123.7,412.5L123.8,413.0L123.8,413.5L123.9,414.0L124.0,414.5L124.1,415.0L124.2,415.5L124.2,416.0L124.3,416.5L124.4,417.0L124.5,417.5L124.5,418.0L124.6,418.5L124.6,419.0L124.6,419.5L124.5,420.0L124.5,420.5L124.4,421.0L124.3,421.5L124.2,422.0L124.1,422.5L124.1,423.0L124.0,423.5L123.9,424.0L123.8,424.5L123.7,425.0L123.7,425.5L123.6,426.0L123.5,426.5L123.4,427.0L123.3,427.5L123.2,428.0L123.1,428.5L122.9,429.0L122.7,429.5L122.6,430.0L122.4,430.5L122.2,431.0L122.1,431.5L121.9,432.0L121.7,432.5L121.6,433.0L121.4,433.5L121.3,434.0L121.2,434.5L121.1,435.0L121.0,435.5L121.0,436.0L120.9,436.5L120.9,437.0L120.9,437.5L120.9,438.0L120.9,438.5L120.9,439.0L120.9,439.5L120.9,440.0L120.9,440.5L120.9,441.0L120.9,441.5L120.9,442.0L120.9,442.5L120.9,443.0L120.9,443.5L120.9,444.0L120.9,444.5L120.9,445.0L120.9,445.5L120.9,446.0L120.9,446.5L120.9,447.0L120.9,447.5L120.9,448.0L120.9,448.5L120.9,449.0L120.9,449.5L120.9,450.0L120.9,450.5L120.9,451.0L120.9,451.5L120.9,452.0L120.9,452.5L120.9,453.0L120.9,453.5L120.9,454.0L120.9,454.5L120.9,455.0L120.9,455.5L120.9,456.0L120.9,456.5L120.9,457.0L120.9,457.5L120.9,458.0L120.9,458.5L120.9,459.0L120.9,459.5L120.9,460.0L120.9,460.5L120.9,461.0L120.9,461.5L120.9,462.0L120.9,462.5L120.9,463.0L120.9,463.5L120.9,464.0L120.9,464.5L120.9,465.0L120.9,465.5L120.9,466.0L120.9,466.5L120.9,467.0L120.9,467.5L120.9,468.0L120.9,468.5L120.9,469.0L120.9,469.5L120.9,470.0L120.9,470.5L120.9,471.0L120.9,471.5L120.9,472.0L120.8,472.5L120.8,473.0L120.8,473.5L120.8,474.0L120.8,474.5L120.8,474.5L120.8,474.0L120.8,473.5L120.8,473.0L120.8,472.5L120.7,472.0L120.7,471.5L120.7,471.0L120.7,470.5L120.7,470.0L120.7,469.5L120.7,469.0L120.7,468.5L120.7,468.0L120.7,467.5L120.7,467.0L120.7,466.5L120.7,466.0L120.7,465.5L120.7,465.0L120.7,464.5L120.7,464.0L120.7,463.5L120.7,463.0L120.7,462.5L120.7,462.0L120.7,461.5L120.7,461.0L120.7,460.5L120.7,460.0L120.7,459.5L120.7,459.0L120.7,458.5L120.7,458.0L120.7,457.5L120.7,457.0L120.7,456.5L120.7,456.0L120.7,455.5L120.7,455.0L120.7,454.5L120.7,454.0L120.7,453.5L120.7,453.0L120.7,452.5L120.7,452.0L120.7,451.5L120.7,451.0L120.7,450.5L120.7,450.0L120.7,449.5L120.7,449.0L120.7,448.5L120.7,448.0L120.7,447.5L120.7,447.0L120.7,446.5L120.7,446.0L120.7,445.5L120.7,445.0L120.7,444.5L120.7,444.0L120.7,443.5L120.7,443.0L120.7,442.5L120.7,442.0L120.7,441.5L120.7,441.0L120.7,440.5L120.7,440.0L120.7,439.5L120.7,439.0L120.7,438.5L120.7,438.0L120.7,437.5L120.7,437.0L120.7,436.5L120.6,436.0L120.6,435.5L120.5,435.0L120.4,434.5L120.3,434.0L120.2,433.5L120.0,433.0L119.9,432.5L119.7,432.0L119.5,431.5L119.4,431.0L119.2,430.5L119.0,430.0L118.9,429.5L118.7,429.0L118.5,428.5L118.4,428.0L118.3,427.5L118.2,427.0L118.1,426.5L118.0,426.0L117.9,425.5L117.9,425.0L117.8,424.5L117.7,424.0L117.6,423.5L117.5,423.0L117.5,422.5L117.4,422.0L117.3,421.5L117.2,421.0L117.1,420.5L117.1,420.0L117.0,419.5L117.0,419.0L117.0,418.5L117.1,418.0L117.1,417.5L117.2,417.0L117.3,416.5L117.4,416.0L117.4,415.5L117.5,415.0L117.6,414.5L117.7,414.0L117.8,413.5L117.8,413.0L117.9,412.5L118.0,412.0L118.1,411.5L118.1,411.0L118.2,410.5L118.3,410.0L118.4,409.5L118.4,409.0L118.5,408.5L118.5,408.0L118.5,407.5L118.5,407.0L118.5,406.5L118.5,406.0L118.5,405.5L118.5,405.0L118.5,404.5L118.4,403.9L118.4,403.4L118.4,402.9L118.4,402.4L118.4,401.9L118.4,401.4L118.4,400.9L118.4,400.4L118.4,399.9L118.4,399.4L118.4,398.9L118.4,398.4L118.4,397.9L118.5,397.4L118.5,396.9L118.5,396.4L118.5,395.9L118.5,395.4L118.5,394.9L118.5,394.4L118.6,393.9L118.6,393.4L118.6,392.9L118.6,392.4L118.7,391.9L118.7,391.4L118.8,390.9L118.8,390.4L118.9,389.9L118.9,389.4L118.9,388.9L119.0,388.4L119.0,387.9L119.1,387.4L119.1,386.9L119.2,386.4L119.2,385.9L119.3,385.4L119.3,384.9L119.4,384.4L119.4,383.9L119.5,383.4L119.5,382.9L119.5,382.4L119.5,381.9L119.6,381.4L119.6,380.9L119.6,380.4L119.7,379.9L119.7,379.4L119.7,378.9L119.7,378.4L119.8,377.9L119.8,377.4L119.8,376.9L119.8,376.4L119.9,375.9L119.9,375.4L119.9,374.9L120.0,374.4L120.0,373.9L120.0,373.4L120.0,372.9L120.0,372.4L120.1,371.9L120.1,371.4L120.1,370.9L120.1,370.4L120.1,369.9L120.1,369.4L120.1,368.9L120.1,368.4L120.1,367.9L120.1,367.4L120.1,366.9L120.1,366.4L120.1,365.9L120.1,365.4L120.1,364.9L120.1,364.4L120.2,363.9L120.2,363.4L120.2,362.9L120.2,362.4L120.2,361.9L120.2,361.4L120.2,360.9L120.2,360.4L120.2,359.9L120.2,359.4L120.2,358.9L120.2,358.4L120.2,357.9L120.2,357.4L120.2,356.9L120.2,356.4L120.3,355.9L120.3,355.4L120.3,354.9L120.3,354.4L120.3,353.9L120.3,353.4L120.3,352.9L120.3,352.4L120.3,351.9L120.3,351.4L120.3,350.9L120.3,350.4L120.3,349.9L120.3,349.4L120.3,348.9L120.3,348.4L120.4,347.9L120.4,347.4L120.4,346.9L120.4,346.4L120.4,345.9L120.4,345.4L120.4,344.9L120.4,344.4L120.4,343.9L120.4,343.4L120.4,342.9L120.4,342.4L120.4,341.9L120.4,341.4L120.4,340.9L120.4,340.4L120.5,339.9L120.5,339.4L120.5,338.9L120.5,338.4L120.5,337.9L120.5,337.4L120.5,336.9L120.5,336.4L120.5,335.9L120.6,335.4L120.6,334.9L120.7,334.4L120.7,333.9L120.8,333.4Z" fill="url(#vgCD44)" stroke="none"/>
<line x1="118.80" y1="405.40" x2="122.80" y2="405.40" stroke="#9467bd" stroke-width="1.0" stroke-opacity="0.9"/>
<linearGradient id="vgCD45" gradientUnits="userSpaceOnUse" x1="0" y1="333.4" x2="0" y2="474.5"><stop offset="0" stop-color="#8c564b" stop-opacity="0.2"/><stop offset="0.000" stop-color="#8c564b" stop-opacity="0.26"/><stop offset="0.074" stop-color="#8c564b" stop-opacity="0.34"/><stop offset="0.624" stop-color="#8c564b" stop-opacity="0.34"/><stop offset="0.644" stop-color="#8c564b" stop-opacity="0.12"/><stop offset="1" stop-color="#8c564b" stop-opacity="0.08"/></linearGradient>
<path d="M136.5,333.4L136.6,333.9L136.7,334.4L136.8,334.9L136.9,335.4L137.0,335.9L137.1,336.4L137.2,336.9L137.2,337.4L137.2,337.9L137.3,338.4L137.3,338.9L137.3,339.4L137.4,339.9L137.4,340.4L137.4,340.9L137.4,341.4L137.5,341.9L137.5,342.4L137.5,342.9L137.6,343.4L137.6,343.9L137.6,344.4L137.6,344.9L137.7,345.4L137.7,345.9L137.7,346.4L137.7,346.9L137.7,347.4L137.7,347.9L137.8,348.4L137.8,348.9L137.8,349.4L137.8,349.9L137.8,350.4L137.8,350.9L137.9,351.4L137.9,351.9L137.9,352.4L137.9,352.9L137.9,353.4L137.9,353.9L138.0,354.4L138.0,354.9L138.0,355.4L138.0,355.9L138.0,356.4L138.0,356.9L138.0,357.4L138.0,357.9L138.0,358.4L138.0,358.9L138.0,359.4L138.0,359.9L138.1,360.4L138.1,360.9L138.1,361.4L138.1,361.9L138.1,362.4L138.1,362.9L138.1,363.4L138.1,363.9L138.1,364.4L138.1,364.9L138.1,365.4L138.1,365.9L138.1,366.4L138.1,366.9L138.1,367.4L138.1,367.9L138.1,368.4L138.1,368.9L138.1,369.4L138.1,369.9L138.1,370.4L138.1,370.9L138.1,371.4L138.1,371.9L138.1,372.4L138.1,372.9L138.1,373.4L138.1,373.9L138.1,374.4L138.1,374.9L138.1,375.4L138.1,375.9L138.1,376.4L138.1,376.9L138.1,377.4L138.1,377.9L138.1,378.4L138.1,378.9L138.1,379.4L138.1,379.9L138.1,380.4L138.1,380.9L138.1,381.4L138.2,381.9L138.2,382.4L138.2,382.9L138.2,383.4L138.2,383.9L138.3,384.4L138.3,384.9L138.3,385.4L138.3,385.9L138.3,386.4L138.4,386.9L138.4,387.4L138.4,387.9L138.4,388.4L138.4,388.9L138.5,389.4L138.5,389.9L138.5,390.4L138.5,390.9L138.5,391.4L138.5,391.9L138.5,392.4L138.5,392.9L138.5,393.4L138.5,393.9L138.5,394.4L138.5,394.9L138.5,395.4L138.5,395.9L138.6,396.4L138.6,396.9L138.6,397.4L138.7,397.9L138.7,398.4L138.7,398.9L138.8,399.4L138.8,399.9L138.9,400.4L138.9,400.9L139.0,401.4L139.1,401.9L139.1,402.4L139.2,402.9L139.3,403.4L139.4,403.9L139.4,404.5L139.5,405.0L139.6,405.5L139.7,406.0L139.8,406.5L139.9,407.0L139.9,407.5L140.0,408.0L140.1,408.5L140.2,409.0L140.2,409.5L140.2,410.0L140.2,410.5L140.2,411.0L140.1,411.5L140.0,412.0L139.9,412.5L139.7,413.0L139.6,413.5L139.5,414.0L139.3,414.5L139.2,415.0L139.1,415.5L139.0,416.0L138.8,416.5L138.7,417.0L138.5,417.5L138.3,418.0L138.1,418.5L137.9,419.0L137.7,419.5L137.5,420.0L137.3,420.5L137.2,421.0L137.0,421.5L136.9,422.0L136.8,422.5L136.7,423.0L136.7,423.5L136.6,424.0L136.6,424.5L136.6,425.0L136.6,425.5L136.6,426.0L136.6,426.5L136.6,427.0L136.6,427.5L136.6,428.0L136.6,428.5L136.6,429.0L136.6,429.5L136.6,430.0L136.6,430.5L136.6,431.0L136.6,431.5L136.6,432.0L136.6,432.5L136.6,433.0L136.6,433.5L136.6,434.0L136.6,434.5L136.6,435.0L136.6,435.5L136.6,436.0L136.6,436.5L136.6,437.0L136.6,437.5L136.6,438.0L136.6,438.5L136.6,439.0L136.6,439.5L136.6,440.0L136.6,440.5L136.6,441.0L136.6,441.5L136.6,442.0L136.6,442.5L136.6,443.0L136.6,443.5L136.6,444.0L136.6,444.5L136.6,445.0L136.6,445.5L136.6,446.0L136.6,446.5L136.6,447.0L136.6,447.5L136.6,448.0L136.6,448.5L136.6,449.0L136.6,449.5L136.6,450.0L136.6,450.5L136.6,451.0L136.6,451.5L136.6,452.0L136.6,452.5L136.6,453.0L136.6,453.5L136.6,454.0L136.6,454.5L136.6,455.0L136.6,455.5L136.6,456.0L136.6,456.5L136.6,457.0L136.6,457.5L136.6,458.0L136.6,458.5L136.6,459.0L136.6,459.5L136.6,460.0L136.6,460.5L136.6,461.0L136.6,461.5L136.6,462.0L136.6,462.5L136.6,463.0L136.6,463.5L136.6,464.0L136.6,464.5L136.6,465.0L136.6,465.5L136.6,466.0L136.6,466.5L136.6,467.0L136.6,467.5L136.6,468.0L136.6,468.5L136.6,469.0L136.6,469.5L136.6,470.0L136.6,470.5L136.6,471.0L136.6,471.5L136.6,472.0L136.5,472.5L136.5,473.0L136.5,473.5L136.5,474.0L136.5,474.5L136.5,474.5L136.5,474.0L136.5,473.5L136.5,473.0L136.5,472.5L136.4,472.0L136.4,471.5L136.4,471.0L136.4,470.5L136.4,470.0L136.4,469.5L136.4,469.0L136.4,468.5L136.4,468.0L136.4,467.5L136.4,467.0L136.4,466.5L136.4,466.0L136.4,465.5L136.4,465.0L136.4,464.5L136.4,464.0L136.4,463.5L136.4,463.0L136.4,462.5L136.4,462.0L136.4,461.5L136.4,461.0L136.4,460.5L136.4,460.0L136.4,459.5L136.4,459.0L136.4,458.5L136.4,458.0L136.4,457.5L136.4,457.0L136.4,456.5L136.4,456.0L136.4,455.5L136.4,455.0L136.4,454.5L136.4,454.0L136.4,453.5L136.4,453.0L136.4,452.5L136.4,452.0L136.4,451.5L136.4,451.0L136.4,450.5L136.4,450.0L136.4,449.5L136.4,449.0L136.4,448.5L136.4,448.0L136.4,447.5L136.4,447.0L136.4,446.5L136.4,446.0L136.4,445.5L136.4,445.0L136.4,444.5L136.4,444.0L136.4,443.5L136.4,443.0L136.4,442.5L136.4,442.0L136.4,441.5L136.4,441.0L136.4,440.5L136.4,440.0L136.4,439.5L136.4,439.0L136.4,438.5L136.4,438.0L136.4,437.5L136.4,437.0L136.4,436.5L136.4,436.0L136.4,435.5L136.4,435.0L136.4,434.5L136.4,434.0L136.4,433.5L136.4,433.0L136.4,432.5L136.4,432.0L136.4,431.5L136.4,431.0L136.4,430.5L136.4,430.0L136.4,429.5L136.4,429.0L136.4,428.5L136.4,428.0L136.4,427.5L136.4,427.0L136.4,426.5L136.4,426.0L136.4,425.5L136.4,425.0L136.4,424.5L136.4,424.0L136.3,423.5L136.3,423.0L136.2,422.5L136.1,422.0L136.0,421.5L135.8,421.0L135.7,420.5L135.5,420.0L135.3,419.5L135.1,419.0L134.9,418.5L134.7,418.0L134.5,417.5L134.3,417.0L134.2,416.5L134.0,416.0L133.9,415.5L133.8,415.0L133.7,414.5L133.5,414.0L133.4,413.5L133.3,413.0L133.1,412.5L133.0,412.0L132.9,411.5L132.8,411.0L132.8,410.5L132.8,410.0L132.8,409.5L132.8,409.0L132.9,408.5L133.0,408.0L133.1,407.5L133.1,407.0L133.2,406.5L133.3,406.0L133.4,405.5L133.5,405.0L133.6,404.5L133.6,403.9L133.7,403.4L133.8,402.9L133.9,402.4L133.9,401.9L134.0,401.4L134.1,400.9L134.1,400.4L134.2,399.9L134.2,399.4L134.3,398.9L134.3,398.4L134.3,397.9L134.4,397.4L134.4,396.9L134.4,396.4L134.5,395.9L134.5,395.4L134.5,394.9L134.5,394.4L134.5,393.9L134.5,393.4L134.5,392.9L134.5,392.4L134.5,391.9L134.5,391.4L134.5,390.9L134.5,390.4L134.5,389.9L134.5,389.4L134.6,388.9L134.6,388.4L134.6,387.9L134.6,387.4L134.6,386.9L134.7,386.4L134.7,385.9L134.7,385.4L134.7,384.9L134.7,384.4L134.8,383.9L134.8,383.4L134.8,382.9L134.8,382.4L134.8,381.9L134.9,381.4L134.9,380.9L134.9,380.4L134.9,379.9L134.9,379.4L134.9,378.9L134.9,378.4L134.9,377.9L134.9,377.4L134.9,376.9L134.9,376.4L134.9,375.9L134.9,375.4L134.9,374.9L134.9,374.4L134.9,373.9L134.9,373.4L134.9,372.9L134.9,372.4L134.9,371.9L134.9,371.4L134.9,370.9L134.9,370.4L134.9,369.9L134.9,369.4L134.9,368.9L134.9,368.4L134.9,367.9L134.9,367.4L134.9,366.9L134.9,366.4L134.9,365.9L134.9,365.4L134.9,364.9L134.9,364.4L134.9,363.9L134.9,363.4L134.9,362.9L134.9,362.4L134.9,361.9L134.9,361.4L134.9,360.9L134.9,360.4L135.0,359.9L135.0,359.4L135.0,358.9L135.0,358.4L135.0,357.9L135.0,357.4L135.0,356.9L135.0,356.4L135.0,355.9L135.0,355.4L135.0,354.9L135.0,354.4L135.1,353.9L135.1,353.4L135.1,352.9L135.1,352.4L135.1,351.9L135.1,351.4L135.2,350.9L135.2,350.4L135.2,349.9L135.2,349.4L135.2,348.9L135.2,348.4L135.3,347.9L135.3,347.4L135.3,346.9L135.3,346.4L135.3,345.9L135.3,345.4L135.4,344.9L135.4,344.4L135.4,343.9L135.4,343.4L135.5,342.9L135.5,342.4L135.5,341.9L135.6,341.4L135.6,340.9L135.6,340.4L135.6,339.9L135.7,339.4L135.7,338.9L135.7,338.4L135.8,337.9L135.8,337.4L135.8,336.9L135.9,336.4L136.0,335.9L136.1,335.4L136.2,334.9L136.3,334.4L136.4,333.9L136.5,333.4Z" fill="url(#vgCD45)" stroke="none"/>
<line x1="134.50" y1="396.00" x2="138.50" y2="396.00" stroke="#8c564b" stroke-width="1.0" stroke-opacity="0.9"/>
<linearGradient id="vgCD46" gradientUnits="userSpaceOnUse" x1="0" y1="333.4" x2="0" y2="474.5"><stop offset="0" stop-color="#e377c2" stop-opacity="0.2"/><stop offset="0.223" stop-color="#e377c2" stop-opacity="0.26"/><stop offset="0.435" stop-color="#e377c2" stop-opacity="0.34"/><stop offset="0.655" stop-color="#e377c2" stop-opacity="0.34"/><stop offset="0.675" stop-color="#e377c2" stop-opacity="0.12"/><stop offset="1" stop-color="#e377c2" stop-opacity="0.08"/></linearGradient>
<path d="M152.5,333.4L152.6,333.9L152.6,334.4L152.7,334.9L152.7,335.4L152.8,335.9L152.8,336.4L152.8,336.9L152.8,337.4L152.8,337.9L152.8,338.4L152.8,338.9L152.8,339.4L152.8,339.9L152.8,340.4L152.8,340.9L152.9,341.4L152.9,341.9L152.9,342.4L152.9,342.9L152.9,343.4L152.9,343.9L152.9,344.4L152.9,344.9L152.9,345.4L152.9,345.9L152.9,346.4L152.9,346.9L152.9,347.4L152.9,347.9L152.9,348.4L152.9,348.9L152.9,349.4L152.9,349.9L152.9,350.4L152.9,350.9L152.9,351.4L153.0,351.9L153.0,352.4L153.0,352.9L153.0,353.4L153.0,353.9L153.0,354.4L153.0,354.9L153.0,355.4L153.0,355.9L153.0,356.4L153.0,356.9L153.0,357.4L153.0,357.9L153.0,358.4L153.0,358.9L153.0,359.4L153.0,359.9L153.0,360.4L153.0,360.9L153.0,361.4L153.1,361.9L153.1,362.4L153.1,362.9L153.1,363.4L153.1,363.9L153.1,364.4L153.1,364.9L153.1,365.4L153.1,365.9L153.1,366.4L153.1,366.9L153.1,367.4L153.1,367.9L153.1,368.4L153.1,368.9L153.1,369.4L153.1,369.9L153.1,370.4L153.1,370.9L153.2,371.4L153.2,371.9L153.2,372.4L153.2,372.9L153.2,373.4L153.2,373.9L153.2,374.4L153.2,374.9L153.2,375.4L153.2,375.9L153.2,376.4L153.2,376.9L153.2,377.4L153.2,377.9L153.2,378.4L153.2,378.9L153.2,379.4L153.2,379.9L153.2,380.4L153.3,380.9L153.3,381.4L153.3,381.9L153.3,382.4L153.3,382.9L153.3,383.4L153.3,383.9L153.3,384.4L153.3,384.9L153.3,385.4L153.3,385.9L153.3,386.4L153.3,386.9L153.3,387.4L153.3,387.9L153.3,388.4L153.3,388.9L153.3,389.4L153.3,389.9L153.4,390.4L153.4,390.9L153.4,391.4L153.4,391.9L153.4,392.4L153.4,392.9L153.4,393.4L153.4,393.9L153.4,394.4L153.4,394.9L153.4,395.4L153.4,395.9L153.5,396.4L153.5,396.9L153.5,397.4L153.5,397.9L153.5,398.4L153.6,398.9L153.6,399.4L153.6,399.9L153.6,400.4L153.6,400.9L153.7,401.4L153.7,401.9L153.7,402.4L153.7,402.9L153.8,403.4L153.8,403.9L153.8,404.5L153.8,405.0L153.9,405.5L153.9,406.0L154.0,406.5L154.1,407.0L154.2,407.5L154.3,408.0L154.4,408.5L154.5,409.0L154.6,409.5L154.7,410.0L154.9,410.5L155.0,411.0L155.1,411.5L155.2,412.0L155.3,412.5L155.4,413.0L155.5,413.5L155.6,414.0L155.6,414.5L155.6,415.0L155.6,415.5L155.5,416.0L155.4,416.5L155.2,417.0L155.1,417.5L155.0,418.0L154.9,418.5L154.8,419.0L154.6,419.5L154.5,420.0L154.4,420.5L154.2,421.0L154.1,421.5L154.0,422.0L153.8,422.5L153.7,423.0L153.5,423.5L153.4,424.0L153.3,424.5L153.1,425.0L153.0,425.5L152.9,426.0L152.8,426.5L152.7,427.0L152.7,427.5L152.6,428.0L152.6,428.5L152.6,429.0L152.6,429.5L152.6,430.0L152.6,430.5L152.6,431.0L152.6,431.5L152.6,432.0L152.6,432.5L152.6,433.0L152.6,433.5L152.6,434.0L152.6,434.5L152.6,435.0L152.6,435.5L152.6,436.0L152.6,436.5L152.6,437.0L152.6,437.5L152.6,438.0L152.6,438.5L152.6,439.0L152.6,439.5L152.6,440.0L152.6,440.5L152.6,441.0L152.6,441.5L152.6,442.0L152.6,442.5L152.6,443.0L152.6,443.5L152.6,444.0L152.6,444.5L152.6,445.0L152.6,445.5L152.6,446.0L152.6,446.5L152.6,447.0L152.6,447.5L152.6,448.0L152.6,448.5L152.6,449.0L152.6,449.5L152.6,450.0L152.6,450.5L152.6,451.0L152.6,451.5L152.6,452.0L152.6,452.5L152.6,453.0L152.6,453.5L152.6,454.0L152.6,454.5L152.6,455.0L152.6,455.5L152.6,456.0L152.6,456.5L152.6,457.0L152.6,457.5L152.6,458.0L152.6,458.5L152.6,459.0L152.6,459.5L152.6,460.0L152.6,460.5L152.6,461.0L152.6,461.5L152.6,462.0L152.6,462.5L152.6,463.0L152.6,463.5L152.6,464.0L152.6,464.5L152.6,465.0L152.6,465.5L152.6,466.0L152.6,466.5L152.6,467.0L152.6,467.5L152.6,468.0L152.6,468.5L152.6,469.0L152.6,469.5L152.6,470.0L152.6,470.5L152.6,471.0L152.6,471.5L152.6,472.0L152.5,472.5L152.5,473.0L152.5,473.5L152.5,474.0L152.5,474.5L152.5,474.5L152.5,474.0L152.5,473.5L152.5,473.0L152.5,472.5L152.4,472.0L152.4,471.5L152.4,471.0L152.4,470.5L152.4,470.0L152.4,469.5L152.4,469.0L152.4,468.5L152.4,468.0L152.4,467.5L152.4,467.0L152.4,466.5L152.4,466.0L152.4,465.5L152.4,465.0L152.4,464.5L152.4,464.0L152.4,463.5L152.4,463.0L152.4,462.5L152.4,462.0L152.4,461.5L152.4,461.0L152.4,460.5L152.4,460.0L152.4,459.5L152.4,459.0L152.4,458.5L152.4,458.0L152.4,457.5L152.4,457.0L152.4,456.5L152.4,456.0L152.4,455.5L152.4,455.0L152.4,454.5L152.4,454.0L152.4,453.5L152.4,453.0L152.4,452.5L152.4,452.0L152.4,451.5L152.4,451.0L152.4,450.5L152.4,450.0L152.4,449.5L152.4,449.0L152.4,448.5L152.4,448.0L152.4,447.5L152.4,447.0L152.4,446.5L152.4,446.0L152.4,445.5L152.4,445.0L152.4,444.5L152.4,444.0L152.4,443.5L152.4,443.0L152.4,442.5L152.4,442.0L152.4,441.5L152.4,441.0L152.4,440.5L152.4,440.0L152.4,439.5L152.4,439.0L152.4,438.5L152.4,438.0L152.4,437.5L152.4,437.0L152.4,436.5L152.4,436.0L152.4,435.5L152.4,435.0L152.4,434.5L152.4,434.0L152.4,433.5L152.4,433.0L152.4,432.5L152.4,432.0L152.4,431.5L152.4,431.0L152.4,430.5L152.4,430.0L152.4,429.5L152.4,429.0L152.4,428.5L152.4,428.0L152.3,427.5L152.3,427.0L152.2,426.5L152.1,426.0L152.0,425.5L151.9,425.0L151.7,424.5L151.6,424.0L151.5,423.5L151.3,423.0L151.2,422.5L151.0,422.0L150.9,421.5L150.8,421.0L150.6,420.5L150.5,420.0L150.4,419.5L150.2,419.0L150.1,418.5L150.0,418.0L149.9,417.5L149.8,417.0L149.6,416.5L149.5,416.0L149.4,415.5L149.4,415.0L149.4,414.5L149.4,414.0L149.5,413.5L149.6,413.0L149.7,412.5L149.8,412.0L149.9,411.5L150.0,411.0L150.1,410.5L150.3,410.0L150.4,409.5L150.5,409.0L150.6,408.5L150.7,408.0L150.8,407.5L150.9,407.0L151.0,406.5L151.1,406.0L151.1,405.5L151.2,405.0L151.2,404.5L151.2,403.9L151.2,403.4L151.3,402.9L151.3,402.4L151.3,401.9L151.3,401.4L151.4,400.9L151.4,400.4L151.4,399.9L151.4,399.4L151.4,398.9L151.5,398.4L151.5,397.9L151.5,397.4L151.5,396.9L151.5,396.4L151.6,395.9L151.6,395.4L151.6,394.9L151.6,394.4L151.6,393.9L151.6,393.4L151.6,392.9L151.6,392.4L151.6,391.9L151.6,391.4L151.6,390.9L151.6,390.4L151.7,389.9L151.7,389.4L151.7,388.9L151.7,388.4L151.7,387.9L151.7,387.4L151.7,386.9L151.7,386.4L151.7,385.9L151.7,385.4L151.7,384.9L151.7,384.4L151.7,383.9L151.7,383.4L151.7,382.9L151.7,382.4L151.7,381.9L151.7,381.4L151.7,380.9L151.8,380.4L151.8,379.9L151.8,379.4L151.8,378.9L151.8,378.4L151.8,377.9L151.8,377.4L151.8,376.9L151.8,376.4L151.8,375.9L151.8,375.4L151.8,374.9L151.8,374.4L151.8,373.9L151.8,373.4L151.8,372.9L151.8,372.4L151.8,371.9L151.8,371.4L151.9,370.9L151.9,370.4L151.9,369.9L151.9,369.4L151.9,368.9L151.9,368.4L151.9,367.9L151.9,367.4L151.9,366.9L151.9,366.4L151.9,365.9L151.9,365.4L151.9,364.9L151.9,364.4L151.9,363.9L151.9,363.4L151.9,362.9L151.9,362.4L151.9,361.9L152.0,361.4L152.0,360.9L152.0,360.4L152.0,359.9L152.0,359.4L152.0,358.9L152.0,358.4L152.0,357.9L152.0,357.4L152.0,356.9L152.0,356.4L152.0,355.9L152.0,355.4L152.0,354.9L152.0,354.4L152.0,353.9L152.0,353.4L152.0,352.9L152.0,352.4L152.0,351.9L152.1,351.4L152.1,350.9L152.1,350.4L152.1,349.9L152.1,349.4L152.1,348.9L152.1,348.4L152.1,347.9L152.1,347.4L152.1,346.9L152.1,346.4L152.1,345.9L152.1,345.4L152.1,344.9L152.1,344.4L152.1,343.9L152.1,343.4L152.1,342.9L152.1,342.4L152.1,341.9L152.1,341.4L152.2,340.9L152.2,340.4L152.2,339.9L152.2,339.4L152.2,338.9L152.2,338.4L152.2,337.9L152.2,337.4L152.2,336.9L152.2,336.4L152.2,335.9L152.3,335.4L152.3,334.9L152.4,334.4L152.4,333.9L152.5,333.4Z" fill="url(#vgCD46)" stroke="none"/>
<line x1="150.50" y1="408.00" x2="154.50" y2="408.00" stroke="#e377c2" stroke-width="1.0" stroke-opacity="0.9"/>
<linearGradient id="vgCD47" gradientUnits="userSpaceOnUse" x1="0" y1="333.4" x2="0" y2="474.5"><stop offset="0" stop-color="#7f7f7f" stop-opacity="0.2"/><stop offset="0.069" stop-color="#7f7f7f" stop-opacity="0.26"/><stop offset="0.282" stop-color="#7f7f7f" stop-opacity="0.34"/><stop offset="0.675" stop-color="#7f7f7f" stop-opacity="0.34"/><stop offset="0.695" stop-color="#7f7f7f" stop-opacity="0.12"/><stop offset="1" stop-color="#7f7f7f" stop-opacity="0.08"/></linearGradient>
<path d="M168.2,333.4L168.3,333.9L168.3,334.4L168.4,334.9L168.5,335.4L168.6,335.9L168.6,336.4L168.6,336.9L168.6,337.4L168.6,337.9L168.6,338.4L168.6,338.9L168.6,339.4L168.6,339.9L168.6,340.4L168.6,340.9L168.6,341.4L168.6,341.9L168.6,342.4L168.6,342.9L168.6,343.4L168.6,343.9L168.6,344.4L168.6,344.9L168.6,345.4L168.6,345.9L168.6,346.4L168.6,346.9L168.6,347.4L168.6,347.9L168.6,348.4L168.6,348.9L168.7,349.4L168.7,349.9L168.7,350.4L168.7,350.9L168.7,351.4L168.7,351.9L168.7,352.4L168.7,352.9L168.7,353.4L168.7,353.9L168.7,354.4L168.7,354.9L168.7,355.4L168.7,355.9L168.7,356.4L168.7,356.9L168.7,357.4L168.7,357.9L168.7,358.4L168.7,358.9L168.7,359.4L168.7,359.9L168.7,360.4L168.7,360.9L168.7,361.4L168.7,361.9L168.7,362.4L168.8,362.9L168.8,363.4L168.8,363.9L168.9,364.4L168.9,364.9L169.0,365.4L169.0,365.9L169.0,366.4L169.1,366.9L169.1,367.4L169.1,367.9L169.2,368.4L169.2,368.9L169.3,369.4L169.3,369.9L169.3,370.4L169.4,370.9L169.4,371.4L169.5,371.9L169.5,372.4L169.6,372.9L169.6,373.4L169.7,373.9L169.8,374.4L169.8,374.9L169.9,375.4L170.0,375.9L170.1,376.4L170.2,376.9L170.2,377.4L170.3,377.9L170.4,378.4L170.5,378.9L170.6,379.4L170.6,379.9L170.7,380.4L170.8,380.9L170.8,381.4L170.9,381.9L171.0,382.4L171.0,382.9L171.1,383.4L171.2,383.9L171.2,384.4L171.3,384.9L171.3,385.4L171.4,385.9L171.5,386.4L171.5,386.9L171.6,387.4L171.6,387.9L171.7,388.4L171.7,388.9L171.7,389.4L171.7,389.9L171.6,390.4L171.6,390.9L171.6,391.4L171.6,391.9L171.5,392.4L171.5,392.9L171.5,393.4L171.4,393.9L171.4,394.4L171.4,394.9L171.4,395.4L171.3,395.9L171.3,396.4L171.2,396.9L171.1,397.4L171.0,397.9L171.0,398.4L170.9,398.9L170.8,399.4L170.7,399.9L170.6,400.4L170.5,400.9L170.4,401.4L170.3,401.9L170.3,402.4L170.2,402.9L170.1,403.4L170.1,403.9L170.0,404.5L170.0,405.0L170.0,405.5L170.0,406.0L170.0,406.5L170.0,407.0L170.0,407.5L170.1,408.0L170.1,408.5L170.1,409.0L170.1,409.5L170.1,410.0L170.1,410.5L170.1,411.0L170.2,411.5L170.2,412.0L170.2,412.5L170.2,413.0L170.2,413.5L170.1,414.0L170.1,414.5L170.1,415.0L170.1,415.5L170.1,416.0L170.0,416.5L170.0,417.0L170.0,417.5L170.0,418.0L169.9,418.5L169.9,419.0L169.9,419.5L169.9,420.0L169.8,420.5L169.8,421.0L169.8,421.5L169.7,422.0L169.6,422.5L169.6,423.0L169.5,423.5L169.4,424.0L169.3,424.5L169.3,425.0L169.2,425.5L169.1,426.0L169.0,426.5L168.9,427.0L168.8,427.5L168.8,428.0L168.7,428.5L168.6,429.0L168.5,429.5L168.5,430.0L168.4,430.5L168.4,431.0L168.3,431.5L168.3,432.0L168.3,432.5L168.3,433.0L168.3,433.5L168.3,434.0L168.3,434.5L168.3,435.0L168.3,435.5L168.3,436.0L168.3,436.5L168.3,437.0L168.3,437.5L168.3,438.0L168.3,438.5L168.3,439.0L168.3,439.5L168.3,440.0L168.3,440.5L168.3,441.0L168.3,441.5L168.3,442.0L168.3,442.5L168.3,443.0L168.3,443.5L168.3,444.0L168.3,444.5L168.3,445.0L168.3,445.5L168.3,446.0L168.3,446.5L168.3,447.0L168.3,447.5L168.3,448.0L168.3,448.5L168.3,449.0L168.3,449.5L168.3,450.0L168.3,450.5L168.3,451.0L168.3,451.5L168.3,452.0L168.3,452.5L168.3,453.0L168.3,453.5L168.3,454.0L168.3,454.5L168.3,455.0L168.3,455.5L168.3,456.0L168.3,456.5L168.3,457.0L168.3,457.5L168.3,458.0L168.3,458.5L168.3,459.0L168.3,459.5L168.3,460.0L168.3,460.5L168.3,461.0L168.3,461.5L168.3,462.0L168.3,462.5L168.3,463.0L168.3,463.5L168.3,464.0L168.3,464.5L168.3,465.0L168.3,465.5L168.3,466.0L168.3,466.5L168.3,467.0L168.3,467.5L168.3,468.0L168.3,468.5L168.3,469.0L168.3,469.5L168.3,470.0L168.3,470.5L168.3,471.0L168.3,471.5L168.3,472.0L168.2,472.5L168.2,473.0L168.2,473.5L168.2,474.0L168.2,474.5L168.2,474.5L168.2,474.0L168.2,473.5L168.2,473.0L168.2,472.5L168.1,472.0L168.1,471.5L168.1,471.0L168.1,470.5L168.1,470.0L168.1,469.5L168.1,469.0L168.1,468.5L168.1,468.0L168.1,467.5L168.1,467.0L168.1,466.5L168.1,466.0L168.1,465.5L168.1,465.0L168.1,464.5L168.1,464.0L168.1,463.5L168.1,463.0L168.1,462.5L168.1,462.0L168.1,461.5L168.1,461.0L168.1,460.5L168.1,460.0L168.1,459.5L168.1,459.0L168.1,458.5L168.1,458.0L168.1,457.5L168.1,457.0L168.1,456.5L168.1,456.0L168.1,455.5L168.1,455.0L168.1,454.5L168.1,454.0L168.1,453.5L168.1,453.0L168.1,452.5L168.1,452.0L168.1,451.5L168.1,451.0L168.1,450.5L168.1,450.0L168.1,449.5L168.1,449.0L168.1,448.5L168.1,448.0L168.1,447.5L168.1,447.0L168.1,446.5L168.1,446.0L168.1,445.5L168.1,445.0L168.1,444.5L168.1,444.0L168.1,443.5L168.1,443.0L168.1,442.5L168.1,442.0L168.1,441.5L168.1,441.0L168.1,440.5L168.1,440.0L168.1,439.5L168.1,439.0L168.1,438.5L168.1,438.0L168.1,437.5L168.1,437.0L168.1,436.5L168.1,436.0L168.1,435.5L168.1,435.0L168.1,434.5L168.1,434.0L168.1,433.5L168.1,433.0L168.1,432.5L168.1,432.0L168.1,431.5L168.0,431.0L168.0,430.5L167.9,430.0L167.9,429.5L167.8,429.0L167.7,428.5L167.6,428.0L167.6,427.5L167.5,427.0L167.4,426.5L167.3,426.0L167.2,425.5L167.1,425.0L167.1,424.5L167.0,424.0L166.9,423.5L166.8,423.0L166.8,422.5L166.7,422.0L166.6,421.5L166.6,421.0L166.6,420.5L166.5,420.0L166.5,419.5L166.5,419.0L166.5,418.5L166.4,418.0L166.4,417.5L166.4,417.0L166.4,416.5L166.3,416.0L166.3,415.5L166.3,415.0L166.3,414.5L166.3,414.0L166.2,413.5L166.2,413.0L166.2,412.5L166.2,412.0L166.2,411.5L166.3,411.0L166.3,410.5L166.3,410.0L166.3,409.5L166.3,409.0L166.3,408.5L166.3,408.0L166.4,407.5L166.4,407.0L166.4,406.5L166.4,406.0L166.4,405.5L166.4,405.0L166.4,404.5L166.3,403.9L166.3,403.4L166.2,402.9L166.1,402.4L166.1,401.9L166.0,401.4L165.9,400.9L165.8,400.4L165.7,399.9L165.6,399.4L165.5,398.9L165.4,398.4L165.4,397.9L165.3,397.4L165.2,396.9L165.1,396.4L165.1,395.9L165.0,395.4L165.0,394.9L165.0,394.4L165.0,393.9L164.9,393.4L164.9,392.9L164.9,392.4L164.8,391.9L164.8,391.4L164.8,390.9L164.8,390.4L164.7,389.9L164.7,389.4L164.7,388.9L164.7,388.4L164.8,387.9L164.8,387.4L164.9,386.9L164.9,386.4L165.0,385.9L165.1,385.4L165.1,384.9L165.2,384.4L165.2,383.9L165.3,383.4L165.4,382.9L165.4,382.4L165.5,381.9L165.6,381.4L165.6,380.9L165.7,380.4L165.8,379.9L165.8,379.4L165.9,378.9L166.0,378.4L166.1,377.9L166.2,377.4L166.2,376.9L166.3,376.4L166.4,375.9L166.5,375.4L166.6,374.9L166.6,374.4L166.7,373.9L166.8,373.4L166.8,372.9L166.9,372.4L166.9,371.9L167.0,371.4L167.0,370.9L167.1,370.4L167.1,369.9L167.1,369.4L167.2,368.9L167.2,368.4L167.3,367.9L167.3,367.4L167.3,366.9L167.4,366.4L167.4,365.9L167.4,365.4L167.5,364.9L167.5,364.4L167.6,363.9L167.6,363.4L167.6,362.9L167.7,362.4L167.7,361.9L167.7,361.4L167.7,360.9L167.7,360.4L167.7,359.9L167.7,359.4L167.7,358.9L167.7,358.4L167.7,357.9L167.7,357.4L167.7,356.9L167.7,356.4L167.7,355.9L167.7,355.4L167.7,354.9L167.7,354.4L167.7,353.9L167.7,353.4L167.7,352.9L167.7,352.4L167.7,351.9L167.7,351.4L167.7,350.9L167.7,350.4L167.7,349.9L167.7,349.4L167.8,348.9L167.8,348.4L167.8,347.9L167.8,347.4L167.8,346.9L167.8,346.4L167.8,345.9L167.8,345.4L167.8,344.9L167.8,344.4L167.8,343.9L167.8,343.4L167.8,342.9L167.8,342.4L167.8,341.9L167.8,341.4L167.8,340.9L167.8,340.4L167.8,339.9L167.8,339.4L167.8,338.9L167.8,338.4L167.8,337.9L167.8,337.4L167.8,336.9L167.8,336.4L167.8,335.9L167.9,335.4L168.0,334.9L168.1,334.4L168.1,333.9L168.2,333.4Z" fill="url(#vgCD47)" stroke="none"/>
<line x1="166.20" y1="397.60" x2="170.20" y2="397.60" stroke="#7f7f7f" stroke-width="1.0" stroke-opacity="0.9"/>
<linearGradient id="vgCD48" gradientUnits="userSpaceOnUse" x1="0" y1="333.4" x2="0" y2="474.5"><stop offset="0" stop-color="#bcbd22" stop-opacity="0.2"/><stop offset="0.227" stop-color="#bcbd22" stop-opacity="0.26"/><stop offset="0.439" stop-color="#bcbd22" stop-opacity="0.34"/><stop offset="0.690" stop-color="#bcbd22" stop-opacity="0.34"/><stop offset="0.710" stop-color="#bcbd22" stop-opacity="0.12"/><stop offset="1" stop-color="#bcbd22" stop-opacity="0.08"/></linearGradient>
<path d="M183.9,333.4L184.0,333.9L184.1,334.4L184.2,334.9L184.3,335.4L184.4,335.9L184.5,336.4L184.5,336.9L184.5,337.4L184.5,337.9L184.5,338.4L184.5,338.9L184.5,339.4L184.5,339.9L184.5,340.4L184.5,340.9L184.5,341.4L184.5,341.9L184.5,342.4L184.5,342.9L184.5,343.4L184.5,343.9L184.5,344.4L184.5,344.9L184.5,345.4L184.5,345.9L184.5,346.4L184.5,346.9L184.5,347.4L184.5,347.9L184.5,348.4L184.5,348.9L184.5,349.4L184.5,349.9L184.5,350.4L184.5,350.9L184.5,351.4L184.5,351.9L184.6,352.4L184.6,352.9L184.6,353.4L184.6,353.9L184.6,354.4L184.6,354.9L184.6,355.4L184.6,355.9L184.6,356.4L184.6,356.9L184.6,357.4L184.6,357.9L184.6,358.4L184.6,358.9L184.6,359.4L184.6,359.9L184.6,360.4L184.6,360.9L184.6,361.4L184.6,361.9L184.6,362.4L184.6,362.9L184.6,363.4L184.6,363.9L184.6,364.4L184.6,364.9L184.6,365.4L184.6,365.9L184.6,366.4L184.6,366.9L184.6,367.4L184.6,367.9L184.6,368.4L184.6,368.9L184.6,369.4L184.6,369.9L184.6,370.4L184.6,370.9L184.6,371.4L184.6,371.9L184.6,372.4L184.6,372.9L184.6,373.4L184.6,373.9L184.6,374.4L184.6,374.9L184.6,375.4L184.6,375.9L184.6,376.4L184.6,376.9L184.6,377.4L184.6,377.9L184.6,378.4L184.6,378.9L184.6,379.4L184.6,379.9L184.6,380.4L184.6,380.9L184.6,381.4L184.6,381.9L184.6,382.4L184.6,382.9L184.7,383.4L184.7,383.9L184.7,384.4L184.7,384.9L184.7,385.4L184.7,385.9L184.7,386.4L184.7,386.9L184.7,387.4L184.7,387.9L184.7,388.4L184.7,388.9L184.7,389.4L184.7,389.9L184.7,390.4L184.7,390.9L184.7,391.4L184.8,391.9L184.8,392.4L184.8,392.9L184.8,393.4L184.8,393.9L184.8,394.4L184.8,394.9L184.8,395.4L184.8,395.9L184.8,396.4L184.9,396.9L184.9,397.4L184.9,397.9L184.9,398.4L184.9,398.9L184.9,399.4L185.0,399.9L185.0,400.4L185.0,400.9L185.0,401.4L185.0,401.9L185.0,402.4L185.1,402.9L185.1,403.4L185.1,403.9L185.1,404.5L185.1,405.0L185.1,405.5L185.2,406.0L185.2,406.5L185.2,407.0L185.2,407.5L185.3,408.0L185.3,408.5L185.4,409.0L185.5,409.5L185.6,410.0L185.7,410.5L185.8,411.0L186.0,411.5L186.1,412.0L186.2,412.5L186.3,413.0L186.5,413.5L186.6,414.0L186.7,414.5L186.8,415.0L186.9,415.5L187.0,416.0L187.1,416.5L187.2,417.0L187.2,417.5L187.3,418.0L187.3,418.5L187.3,419.0L187.3,419.5L187.4,420.0L187.4,420.5L187.4,421.0L187.3,421.5L187.3,422.0L187.2,422.5L187.0,423.0L186.9,423.5L186.7,424.0L186.5,424.5L186.3,425.0L186.1,425.5L185.9,426.0L185.7,426.5L185.5,427.0L185.3,427.5L185.2,428.0L185.0,428.5L184.9,429.0L184.7,429.5L184.6,430.0L184.5,430.5L184.4,431.0L184.3,431.5L184.2,432.0L184.1,432.5L184.1,433.0L184.0,433.5L184.0,434.0L184.0,434.5L184.0,435.0L184.0,435.5L184.0,436.0L184.0,436.5L184.0,437.0L184.0,437.5L184.0,438.0L184.0,438.5L184.0,439.0L184.0,439.5L184.0,440.0L184.0,440.5L184.0,441.0L184.0,441.5L184.0,442.0L184.0,442.5L184.0,443.0L184.0,443.5L184.0,444.0L184.0,444.5L184.0,445.0L184.0,445.5L184.0,446.0L184.0,446.5L184.0,447.0L184.0,447.5L184.0,448.0L184.0,448.5L184.0,449.0L184.0,449.5L184.0,450.0L184.0,450.5L184.0,451.0L184.0,451.5L184.0,452.0L184.0,452.5L184.0,453.0L184.0,453.5L184.0,454.0L184.0,454.5L184.0,455.0L184.0,455.5L184.0,456.0L184.0,456.5L184.0,457.0L184.0,457.5L184.0,458.0L184.0,458.5L184.0,459.0L184.0,459.5L184.0,460.0L184.0,460.5L184.0,461.0L184.0,461.5L184.0,462.0L184.0,462.5L184.0,463.0L184.0,463.5L184.0,464.0L184.0,464.5L184.0,465.0L184.0,465.5L184.0,466.0L184.0,466.5L184.0,467.0L184.0,467.5L184.0,468.0L184.0,468.5L184.0,469.0L184.0,469.5L184.0,470.0L184.0,470.5L184.0,471.0L184.0,471.5L184.0,472.0L183.9,472.5L183.9,473.0L183.9,473.5L183.9,474.0L183.9,474.5L183.9,474.5L183.9,474.0L183.9,473.5L183.9,473.0L183.9,472.5L183.8,472.0L183.8,471.5L183.8,471.0L183.8,470.5L183.8,470.0L183.8,469.5L183.8,469.0L183.8,468.5L183.8,468.0L183.8,467.5L183.8,467.0L183.8,466.5L183.8,466.0L183.8,465.5L183.8,465.0L183.8,464.5L183.8,464.0L183.8,463.5L183.8,463.0L183.8,462.5L183.8,462.0L183.8,461.5L183.8,461.0L183.8,460.5L183.8,460.0L183.8,459.5L183.8,459.0L183.8,458.5L183.8,458.0L183.8,457.5L183.8,457.0L183.8,456.5L183.8,456.0L183.8,455.5L183.8,455.0L183.8,454.5L183.8,454.0L183.8,453.5L183.8,453.0L183.8,452.5L183.8,452.0L183.8,451.5L183.8,451.0L183.8,450.5L183.8,450.0L183.8,449.5L183.8,449.0L183.8,448.5L183.8,448.0L183.8,447.5L183.8,447.0L183.8,446.5L183.8,446.0L183.8,445.5L183.8,445.0L183.8,444.5L183.8,444.0L183.8,443.5L183.8,443.0L183.8,442.5L183.8,442.0L183.8,441.5L183.8,441.0L183.8,440.5L183.8,440.0L183.8,439.5L183.8,439.0L183.8,438.5L183.8,438.0L183.8,437.5L183.8,437.0L183.8,436.5L183.8,436.0L183.8,435.5L183.8,435.0L183.8,434.5L183.8,434.0L183.8,433.5L183.7,433.0L183.7,432.5L183.6,432.0L183.5,431.5L183.4,431.0L183.3,430.5L183.2,430.0L183.1,429.5L182.9,429.0L182.8,428.5L182.6,428.0L182.5,427.5L182.3,427.0L182.1,426.5L181.9,426.0L181.7,425.5L181.5,425.0L181.3,424.5L181.1,424.0L180.9,423.5L180.8,423.0L180.6,422.5L180.5,422.0L180.5,421.5L180.4,421.0L180.4,420.5L180.4,420.0L180.5,419.5L180.5,419.0L180.5,418.5L180.5,418.0L180.6,417.5L180.6,417.0L180.7,416.5L180.8,416.0L180.9,415.5L181.0,415.0L181.1,414.5L181.2,414.0L181.3,413.5L181.5,413.0L181.6,412.5L181.7,412.0L181.8,411.5L182.0,411.0L182.1,410.5L182.2,410.0L182.3,409.5L182.4,409.0L182.5,408.5L182.5,408.0L182.6,407.5L182.6,407.0L182.6,406.5L182.6,406.0L182.7,405.5L182.7,405.0L182.7,404.5L182.7,403.9L182.7,403.4L182.7,402.9L182.8,402.4L182.8,401.9L182.8,401.4L182.8,400.9L182.8,400.4L182.8,399.9L182.9,399.4L182.9,398.9L182.9,398.4L182.9,397.9L182.9,397.4L182.9,396.9L183.0,396.4L183.0,395.9L183.0,395.4L183.0,394.9L183.0,394.4L183.0,393.9L183.0,393.4L183.0,392.9L183.0,392.4L183.0,391.9L183.1,391.4L183.1,390.9L183.1,390.4L183.1,389.9L183.1,389.4L183.1,388.9L183.1,388.4L183.1,387.9L183.1,387.4L183.1,386.9L183.1,386.4L183.1,385.9L183.1,385.4L183.1,384.9L183.1,384.4L183.1,383.9L183.1,383.4L183.2,382.9L183.2,382.4L183.2,381.9L183.2,381.4L183.2,380.9L183.2,380.4L183.2,379.9L183.2,379.4L183.2,378.9L183.2,378.4L183.2,377.9L183.2,377.4L183.2,376.9L183.2,376.4L183.2,375.9L183.2,375.4L183.2,374.9L183.2,374.4L183.2,373.9L183.2,373.4L183.2,372.9L183.2,372.4L183.2,371.9L183.2,371.4L183.2,370.9L183.2,370.4L183.2,369.9L183.2,369.4L183.2,368.9L183.2,368.4L183.2,367.9L183.2,367.4L183.2,366.9L183.2,366.4L183.2,365.9L183.2,365.4L183.2,364.9L183.2,364.4L183.2,363.9L183.2,363.4L183.2,362.9L183.2,362.4L183.2,361.9L183.2,361.4L183.2,360.9L183.2,360.4L183.2,359.9L183.2,359.4L183.2,358.9L183.2,358.4L183.2,357.9L183.2,357.4L183.2,356.9L183.2,356.4L183.2,355.9L183.2,355.4L183.2,354.9L183.2,354.4L183.2,353.9L183.2,353.4L183.2,352.9L183.2,352.4L183.3,351.9L183.3,351.4L183.3,350.9L183.3,350.4L183.3,349.9L183.3,349.4L183.3,348.9L183.3,348.4L183.3,347.9L183.3,347.4L183.3,346.9L183.3,346.4L183.3,345.9L183.3,345.4L183.3,344.9L183.3,344.4L183.3,343.9L183.3,343.4L183.3,342.9L183.3,342.4L183.3,341.9L183.3,341.4L183.3,340.9L183.3,340.4L183.3,339.9L183.3,339.4L183.3,338.9L183.3,338.4L183.3,337.9L183.3,337.4L183.3,336.9L183.3,336.4L183.4,335.9L183.5,335.4L183.6,334.9L183.7,334.4L183.8,333.9L183.9,333.4Z" fill="url(#vgCD48)" stroke="none"/>
<line x1="181.90" y1="408.60" x2="185.90" y2="408.60" stroke="#bcbd22" stroke-width="1.0" stroke-opacity="0.9"/>
<linearGradient id="vgCD49" gradientUnits="userSpaceOnUse" x1="0" y1="333.4" x2="0" y2="474.5"><stop offset="0" stop-color="#17becf" stop-opacity="0.2"/><stop offset="0.000" stop-color="#17becf" stop-opacity="0.26"/><stop offset="0.203" stop-color="#17becf" stop-opacity="0.34"/><stop offset="0.502" stop-color="#17becf" stop-opacity="0.34"/><stop offset="0.522" stop-color="#17becf" stop-opacity="0.12"/><stop offset="1" stop-color="#17becf" stop-opacity="0.08"/></linearGradient>
<path d="M199.9,333.4L200.0,333.9L200.0,334.4L200.1,334.9L200.2,335.4L200.3,335.9L200.3,336.4L200.3,336.9L200.3,337.4L200.3,337.9L200.3,338.4L200.3,338.9L200.3,339.4L200.3,339.9L200.3,340.4L200.3,340.9L200.3,341.4L200.3,341.9L200.3,342.4L200.4,342.9L200.4,343.4L200.4,343.9L200.4,344.4L200.4,344.9L200.4,345.4L200.4,345.9L200.4,346.4L200.4,346.9L200.4,347.4L200.4,347.9L200.4,348.4L200.4,348.9L200.4,349.4L200.5,349.9L200.5,350.4L200.6,350.9L200.6,351.4L200.6,351.9L200.7,352.4L200.7,352.9L200.8,353.4L200.8,353.9L200.8,354.4L200.9,354.9L200.9,355.4L201.0,355.9L201.0,356.4L201.0,356.9L201.1,357.4L201.1,357.9L201.2,358.4L201.2,358.9L201.2,359.4L201.3,359.9L201.3,360.4L201.4,360.9L201.4,361.4L201.5,361.9L201.5,362.4L201.6,362.9L201.6,363.4L201.7,363.9L201.8,364.4L201.9,364.9L201.9,365.4L202.0,365.9L202.1,366.4L202.1,366.9L202.2,367.4L202.3,367.9L202.3,368.4L202.4,368.9L202.5,369.4L202.5,369.9L202.6,370.4L202.7,370.9L202.8,371.4L202.8,371.9L202.9,372.4L202.9,372.9L203.0,373.4L203.0,373.9L203.1,374.4L203.1,374.9L203.1,375.4L203.2,375.9L203.2,376.4L203.3,376.9L203.3,377.4L203.3,377.9L203.3,378.4L203.4,378.9L203.4,379.4L203.4,379.9L203.4,380.4L203.3,380.9L203.3,381.4L203.2,381.9L203.1,382.4L203.1,382.9L203.0,383.4L203.0,383.9L202.9,384.4L202.8,384.9L202.8,385.4L202.7,385.9L202.7,386.4L202.6,386.9L202.5,387.4L202.5,387.9L202.4,388.4L202.4,388.9L202.3,389.4L202.2,389.9L202.2,390.4L202.1,390.9L202.1,391.4L202.1,391.9L202.1,392.4L202.1,392.9L202.0,393.4L202.0,393.9L202.0,394.4L202.0,394.9L202.0,395.4L202.0,395.9L202.0,396.4L202.0,396.9L202.0,397.4L201.9,397.9L201.9,398.4L201.9,398.9L201.8,399.4L201.8,399.9L201.7,400.4L201.5,400.9L201.4,401.4L201.2,401.9L201.1,402.4L200.9,402.9L200.8,403.4L200.6,403.9L200.5,404.5L200.4,405.0L200.3,405.5L200.2,406.0L200.1,406.5L200.1,407.0L200.0,407.5L200.0,408.0L200.0,408.5L200.0,409.0L200.0,409.5L200.0,410.0L200.0,410.5L200.0,411.0L200.0,411.5L200.0,412.0L200.0,412.5L200.0,413.0L200.0,413.5L200.0,414.0L200.0,414.5L200.0,415.0L200.0,415.5L200.0,416.0L200.0,416.5L200.0,417.0L200.0,417.5L200.0,418.0L200.0,418.5L200.0,419.0L200.0,419.5L200.0,420.0L200.0,420.5L200.0,421.0L200.0,421.5L200.0,422.0L200.0,422.5L200.0,423.0L200.0,423.5L200.0,424.0L200.0,424.5L200.0,425.0L200.0,425.5L200.0,426.0L200.0,426.5L200.0,427.0L200.0,427.5L200.0,428.0L200.0,428.5L200.0,429.0L200.0,429.5L200.0,430.0L200.0,430.5L200.0,431.0L200.0,431.5L200.0,432.0L200.0,432.5L200.0,433.0L200.0,433.5L200.0,434.0L200.0,434.5L200.0,435.0L200.0,435.5L200.0,436.0L200.0,436.5L200.0,437.0L200.0,437.5L200.0,438.0L200.0,438.5L200.0,439.0L200.0,439.5L200.0,440.0L200.0,440.5L200.0,441.0L200.0,441.5L200.0,442.0L200.0,442.5L200.0,443.0L200.0,443.5L200.0,444.0L200.0,444.5L200.0,445.0L200.0,445.5L200.0,446.0L200.0,446.5L200.0,447.0L200.0,447.5L200.0,448.0L200.0,448.5L200.0,449.0L200.0,449.5L200.0,450.0L200.0,450.5L200.0,451.0L200.0,451.5L200.0,452.0L200.0,452.5L200.0,453.0L200.0,453.5L200.0,454.0L200.0,454.5L200.0,455.0L200.0,455.5L200.0,456.0L200.0,456.5L200.0,457.0L200.0,457.5L200.0,458.0L200.0,458.5L200.0,459.0L200.0,459.5L200.0,460.0L200.0,460.5L200.0,461.0L200.0,461.5L200.0,462.0L200.0,462.5L200.0,463.0L200.0,463.5L200.0,464.0L200.0,464.5L200.0,465.0L200.0,465.5L200.0,466.0L200.0,466.5L200.0,467.0L200.0,467.5L200.0,468.0L200.0,468.5L200.0,469.0L200.0,469.5L200.0,470.0L200.0,470.5L200.0,471.0L200.0,471.5L200.0,472.0L199.9,472.5L199.9,473.0L199.9,473.5L199.9,474.0L199.9,474.5L199.9,474.5L199.9,474.0L199.9,473.5L199.9,473.0L199.9,472.5L199.8,472.0L199.8,471.5L199.8,471.0L199.8,470.5L199.8,470.0L199.8,469.5L199.8,469.0L199.8,468.5L199.8,468.0L199.8,467.5L199.8,467.0L199.8,466.5L199.8,466.0L199.8,465.5L199.8,465.0L199.8,464.5L199.8,464.0L199.8,463.5L199.8,463.0L199.8,462.5L199.8,462.0L199.8,461.5L199.8,461.0L199.8,460.5L199.8,460.0L199.8,459.5L199.8,459.0L199.8,458.5L199.8,458.0L199.8,457.5L199.8,457.0L199.8,456.5L199.8,456.0L199.8,455.5L199.8,455.0L199.8,454.5L199.8,454.0L199.8,453.5L199.8,453.0L199.8,452.5L199.8,452.0L199.8,451.5L199.8,451.0L199.8,450.5L199.8,450.0L199.8,449.5L199.8,449.0L199.8,448.5L199.8,448.0L199.8,447.5L199.8,447.0L199.8,446.5L199.8,446.0L199.8,445.5L199.8,445.0L199.8,444.5L199.8,444.0L199.8,443.5L199.8,443.0L199.8,442.5L199.8,442.0L199.8,441.5L199.8,441.0L199.8,440.5L199.8,440.0L199.8,439.5L199.8,439.0L199.8,438.5L199.8,438.0L199.8,437.5L199.8,437.0L199.8,436.5L199.8,436.0L199.8,435.5L199.8,435.0L199.8,434.5L199.8,434.0L199.8,433.5L199.8,433.0L199.8,432.5L199.8,432.0L199.8,431.5L199.8,431.0L199.8,430.5L199.8,430.0L199.8,429.5L199.8,429.0L199.8,428.5L199.8,428.0L199.8,427.5L199.8,427.0L199.8,426.5L199.8,426.0L199.8,425.5L199.8,425.0L199.8,424.5L199.8,424.0L199.8,423.5L199.8,423.0L199.8,422.5L199.8,422.0L199.8,421.5L199.8,421.0L199.8,420.5L199.8,420.0L199.8,419.5L199.8,419.0L199.8,418.5L199.8,418.0L199.8,417.5L199.8,417.0L199.8,416.5L199.8,416.0L199.8,415.5L199.8,415.0L199.8,414.5L199.8,414.0L199.8,413.5L199.8,413.0L199.8,412.5L199.8,412.0L199.8,411.5L199.8,411.0L199.8,410.5L199.8,410.0L199.8,409.5L199.8,409.0L199.8,408.5L199.8,408.0L199.8,407.5L199.7,407.0L199.7,406.5L199.6,406.0L199.5,405.5L199.4,405.0L199.3,404.5L199.2,403.9L199.0,403.4L198.9,402.9L198.7,402.4L198.6,401.9L198.4,401.4L198.3,400.9L198.1,400.4L198.0,399.9L198.0,399.4L197.9,398.9L197.9,398.4L197.9,397.9L197.8,397.4L197.8,396.9L197.8,396.4L197.8,395.9L197.8,395.4L197.8,394.9L197.8,394.4L197.8,393.9L197.8,393.4L197.7,392.9L197.7,392.4L197.7,391.9L197.7,391.4L197.7,390.9L197.6,390.4L197.6,389.9L197.5,389.4L197.4,388.9L197.4,388.4L197.3,387.9L197.3,387.4L197.2,386.9L197.1,386.4L197.1,385.9L197.0,385.4L197.0,384.9L196.9,384.4L196.8,383.9L196.8,383.4L196.7,382.9L196.7,382.4L196.6,381.9L196.5,381.4L196.5,380.9L196.4,380.4L196.4,379.9L196.4,379.4L196.4,378.9L196.5,378.4L196.5,377.9L196.5,377.4L196.5,376.9L196.6,376.4L196.6,375.9L196.7,375.4L196.7,374.9L196.7,374.4L196.8,373.9L196.8,373.4L196.9,372.9L196.9,372.4L197.0,371.9L197.0,371.4L197.1,370.9L197.2,370.4L197.3,369.9L197.3,369.4L197.4,368.9L197.5,368.4L197.5,367.9L197.6,367.4L197.7,366.9L197.7,366.4L197.8,365.9L197.9,365.4L197.9,364.9L198.0,364.4L198.1,363.9L198.2,363.4L198.2,362.9L198.3,362.4L198.3,361.9L198.4,361.4L198.4,360.9L198.5,360.4L198.5,359.9L198.6,359.4L198.6,358.9L198.6,358.4L198.7,357.9L198.7,357.4L198.8,356.9L198.8,356.4L198.8,355.9L198.9,355.4L198.9,354.9L199.0,354.4L199.0,353.9L199.0,353.4L199.1,352.9L199.1,352.4L199.2,351.9L199.2,351.4L199.2,350.9L199.3,350.4L199.3,349.9L199.4,349.4L199.4,348.9L199.4,348.4L199.4,347.9L199.4,347.4L199.4,346.9L199.4,346.4L199.4,345.9L199.4,345.4L199.4,344.9L199.4,344.4L199.4,343.9L199.4,343.4L199.4,342.9L199.5,342.4L199.5,341.9L199.5,341.4L199.5,340.9L199.5,340.4L199.5,339.9L199.5,339.4L199.5,338.9L199.5,338.4L199.5,337.9L199.5,337.4L199.5,336.9L199.5,336.4L199.5,335.9L199.6,335.4L199.7,334.9L199.8,334.4L199.8,333.9L199.9,333.4Z" fill="url(#vgCD49)" stroke="none"/>
<line x1="197.90" y1="380.00" x2="201.90" y2="380.00" stroke="#17becf" stroke-width="1.0" stroke-opacity="0.9"/>
<linearGradient id="vgCD410" gradientUnits="userSpaceOnUse" x1="0" y1="333.4" x2="0" y2="474.5"><stop offset="0" stop-color="#1f77b4" stop-opacity="0.2"/><stop offset="0.258" stop-color="#1f77b4" stop-opacity="0.26"/><stop offset="0.471" stop-color="#1f77b4" stop-opacity="0.34"/><stop offset="0.753" stop-color="#1f77b4" stop-opacity="0.34"/><stop offset="0.773" stop-color="#1f77b4" stop-opacity="0.12"/><stop offset="1" stop-color="#1f77b4" stop-opacity="0.08"/></linearGradient>
<path d="M215.8,333.4L215.9,333.9L215.9,334.4L216.0,334.9L216.1,335.4L216.2,335.9L216.2,336.4L216.2,336.9L216.2,337.4L216.2,337.9L216.2,338.4L216.2,338.9L216.2,339.4L216.2,339.9L216.2,340.4L216.2,340.9L216.2,341.4L216.2,341.9L216.2,342.4L216.2,342.9L216.2,343.4L216.2,343.9L216.2,344.4L216.2,344.9L216.2,345.4L216.2,345.9L216.2,346.4L216.2,346.9L216.2,347.4L216.2,347.9L216.2,348.4L216.2,348.9L216.2,349.4L216.2,349.9L216.2,350.4L216.2,350.9L216.2,351.4L216.2,351.9L216.2,352.4L216.2,352.9L216.2,353.4L216.2,353.9L216.2,354.4L216.2,354.9L216.2,355.4L216.2,355.9L216.2,356.4L216.2,356.9L216.2,357.4L216.2,357.9L216.2,358.4L216.2,358.9L216.2,359.4L216.2,359.9L216.2,360.4L216.2,360.9L216.2,361.4L216.2,361.9L216.2,362.4L216.2,362.9L216.2,363.4L216.2,363.9L216.2,364.4L216.3,364.9L216.3,365.4L216.3,365.9L216.3,366.4L216.3,366.9L216.3,367.4L216.3,367.9L216.3,368.4L216.3,368.9L216.3,369.4L216.3,369.9L216.3,370.4L216.3,370.9L216.3,371.4L216.3,371.9L216.3,372.4L216.3,372.9L216.3,373.4L216.3,373.9L216.3,374.4L216.3,374.9L216.3,375.4L216.3,375.9L216.3,376.4L216.3,376.9L216.3,377.4L216.3,377.9L216.3,378.4L216.3,378.9L216.3,379.4L216.3,379.9L216.3,380.4L216.3,380.9L216.3,381.4L216.3,381.9L216.3,382.4L216.3,382.9L216.3,383.4L216.3,383.9L216.3,384.4L216.3,384.9L216.3,385.4L216.3,385.9L216.3,386.4L216.3,386.9L216.3,387.4L216.3,387.9L216.3,388.4L216.3,388.9L216.3,389.4L216.3,389.9L216.3,390.4L216.3,390.9L216.3,391.4L216.3,391.9L216.3,392.4L216.3,392.9L216.3,393.4L216.4,393.9L216.4,394.4L216.4,394.9L216.4,395.4L216.5,395.9L216.5,396.4L216.5,396.9L216.6,397.4L216.6,397.9L216.6,398.4L216.7,398.9L216.7,399.4L216.8,399.9L216.8,400.4L216.9,400.9L217.0,401.4L217.1,401.9L217.2,402.4L217.3,402.9L217.3,403.4L217.4,403.9L217.5,404.5L217.6,405.0L217.7,405.5L217.8,406.0L217.9,406.5L218.0,407.0L218.0,407.5L218.1,408.0L218.2,408.5L218.3,409.0L218.4,409.5L218.5,410.0L218.5,410.5L218.6,411.0L218.7,411.5L218.8,412.0L218.8,412.5L218.9,413.0L219.0,413.5L219.0,414.0L219.0,414.5L219.0,415.0L219.0,415.5L219.0,416.0L218.9,416.5L218.9,417.0L218.8,417.5L218.8,418.0L218.7,418.5L218.7,419.0L218.7,419.5L218.6,420.0L218.6,420.5L218.5,421.0L218.5,421.5L218.4,422.0L218.4,422.5L218.3,423.0L218.2,423.5L218.2,424.0L218.1,424.5L218.0,425.0L217.9,425.5L217.9,426.0L217.8,426.5L217.7,427.0L217.6,427.5L217.6,428.0L217.5,428.5L217.4,429.0L217.3,429.5L217.3,430.0L217.2,430.5L217.1,431.0L217.1,431.5L217.0,432.0L217.0,432.5L216.9,433.0L216.8,433.5L216.8,434.0L216.7,434.5L216.7,435.0L216.6,435.5L216.6,436.0L216.5,436.5L216.4,437.0L216.4,437.5L216.3,438.0L216.3,438.5L216.2,439.0L216.2,439.5L216.1,440.0L216.0,440.5L216.0,441.0L216.0,441.5L215.9,442.0L215.9,442.5L215.9,443.0L215.9,443.5L215.9,444.0L215.9,444.5L215.9,445.0L215.9,445.5L215.9,446.0L215.9,446.5L215.9,447.0L215.9,447.5L215.9,448.0L215.9,448.5L215.9,449.0L215.9,449.5L215.9,450.0L215.9,450.5L215.9,451.0L215.9,451.5L215.9,452.0L215.9,452.5L215.9,453.0L215.9,453.5L215.9,454.0L215.9,454.5L215.9,455.0L215.9,455.5L215.9,456.0L215.9,456.5L215.9,457.0L215.9,457.5L215.9,458.0L215.9,458.5L215.9,459.0L215.9,459.5L215.9,460.0L215.9,460.5L215.9,461.0L215.9,461.5L215.9,462.0L215.9,462.5L215.9,463.0L215.9,463.5L215.9,464.0L215.9,464.5L215.9,465.0L215.9,465.5L215.9,466.0L215.9,466.5L215.9,467.0L215.9,467.5L215.9,468.0L215.9,468.5L215.9,469.0L215.9,469.5L215.9,470.0L215.9,470.5L215.9,471.0L215.9,471.5L215.9,472.0L215.8,472.5L215.8,473.0L215.8,473.5L215.8,474.0L215.8,474.5L215.8,474.5L215.8,474.0L215.8,473.5L215.8,473.0L215.8,472.5L215.7,472.0L215.7,471.5L215.7,471.0L215.7,470.5L215.7,470.0L215.7,469.5L215.7,469.0L215.7,468.5L215.7,468.0L215.7,467.5L215.7,467.0L215.7,466.5L215.7,466.0L215.7,465.5L215.7,465.0L215.7,464.5L215.7,464.0L215.7,463.5L215.7,463.0L215.7,462.5L215.7,462.0L215.7,461.5L215.7,461.0L215.7,460.5L215.7,460.0L215.7,459.5L215.7,459.0L215.7,458.5L215.7,458.0L215.7,457.5L215.7,457.0L215.7,456.5L215.7,456.0L215.7,455.5L215.7,455.0L215.7,454.5L215.7,454.0L215.7,453.5L215.7,453.0L215.7,452.5L215.7,452.0L215.7,451.5L215.7,451.0L215.7,450.5L215.7,450.0L215.7,449.5L215.7,449.0L215.7,448.5L215.7,448.0L215.7,447.5L215.7,447.0L215.7,446.5L215.7,446.0L215.7,445.5L215.7,445.0L215.7,444.5L215.7,444.0L215.7,443.5L215.7,443.0L215.7,442.5L215.7,442.0L215.6,441.5L215.6,441.0L215.6,440.5L215.5,440.0L215.4,439.5L215.4,439.0L215.3,438.5L215.3,438.0L215.2,437.5L215.2,437.0L215.1,436.5L215.0,436.0L215.0,435.5L214.9,435.0L214.9,434.5L214.8,434.0L214.8,433.5L214.7,433.0L214.6,432.5L214.6,432.0L214.5,431.5L214.5,431.0L214.4,430.5L214.3,430.0L214.3,429.5L214.2,429.0L214.1,428.5L214.0,428.0L214.0,427.5L213.9,427.0L213.8,426.5L213.7,426.0L213.7,425.5L213.6,425.0L213.5,424.5L213.4,424.0L213.4,423.5L213.3,423.0L213.2,422.5L213.2,422.0L213.1,421.5L213.1,421.0L213.0,420.5L213.0,420.0L212.9,419.5L212.9,419.0L212.9,418.5L212.8,418.0L212.8,417.5L212.7,417.0L212.7,416.5L212.6,416.0L212.6,415.5L212.6,415.0L212.6,414.5L212.6,414.0L212.6,413.5L212.7,413.0L212.8,412.5L212.8,412.0L212.9,411.5L213.0,411.0L213.1,410.5L213.1,410.0L213.2,409.5L213.3,409.0L213.4,408.5L213.5,408.0L213.6,407.5L213.6,407.0L213.7,406.5L213.8,406.0L213.9,405.5L214.0,405.0L214.1,404.5L214.2,403.9L214.3,403.4L214.3,402.9L214.4,402.4L214.5,401.9L214.6,401.4L214.7,400.9L214.8,400.4L214.8,399.9L214.9,399.4L214.9,398.9L215.0,398.4L215.0,397.9L215.0,397.4L215.1,396.9L215.1,396.4L215.1,395.9L215.2,395.4L215.2,394.9L215.2,394.4L215.2,393.9L215.3,393.4L215.3,392.9L215.3,392.4L215.3,391.9L215.3,391.4L215.3,390.9L215.3,390.4L215.3,389.9L215.3,389.4L215.3,388.9L215.3,388.4L215.3,387.9L215.3,387.4L215.3,386.9L215.3,386.4L215.3,385.9L215.3,385.4L215.3,384.9L215.3,384.4L215.3,383.9L215.3,383.4L215.3,382.9L215.3,382.4L215.3,381.9L215.3,381.4L215.3,380.9L215.3,380.4L215.3,379.9L215.3,379.4L215.3,378.9L215.3,378.4L215.3,377.9L215.3,377.4L215.3,376.9L215.3,376.4L215.3,375.9L215.3,375.4L215.3,374.9L215.3,374.4L215.3,373.9L215.3,373.4L215.3,372.9L215.3,372.4L215.3,371.9L215.3,371.4L215.3,370.9L215.3,370.4L215.3,369.9L215.3,369.4L215.3,368.9L215.3,368.4L215.3,367.9L215.3,367.4L215.3,366.9L215.3,366.4L215.3,365.9L215.3,365.4L215.3,364.9L215.4,364.4L215.4,363.9L215.4,363.4L215.4,362.9L215.4,362.4L215.4,361.9L215.4,361.4L215.4,360.9L215.4,360.4L215.4,359.9L215.4,359.4L215.4,358.9L215.4,358.4L215.4,357.9L215.4,357.4L215.4,356.9L215.4,356.4L215.4,355.9L215.4,355.4L215.4,354.9L215.4,354.4L215.4,353.9L215.4,353.4L215.4,352.9L215.4,352.4L215.4,351.9L215.4,351.4L215.4,350.9L215.4,350.4L215.4,349.9L215.4,349.4L215.4,348.9L215.4,348.4L215.4,347.9L215.4,347.4L215.4,346.9L215.4,346.4L215.4,345.9L215.4,345.4L215.4,344.9L215.4,344.4L215.4,343.9L215.4,343.4L215.4,342.9L215.4,342.4L215.4,341.9L215.4,341.4L215.4,340.9L215.4,340.4L215.4,339.9L215.4,339.4L215.4,338.9L215.4,338.4L215.4,337.9L215.4,337.4L215.4,336.9L215.4,336.4L215.4,335.9L215.5,335.4L215.6,334.9L215.7,334.4L215.7,333.9L215.8,333.4Z" fill="url(#vgCD410)" stroke="none"/>
<line x1="213.80" y1="414.00" x2="217.80" y2="414.00" stroke="#1f77b4" stroke-width="1.0" stroke-opacity="0.9"/>
<linearGradient id="vgCD411" gradientUnits="userSpaceOnUse" x1="0" y1="333.4" x2="0" y2="474.5"><stop offset="0" stop-color="#ff7f0e" stop-opacity="0.2"/><stop offset="0.082" stop-color="#ff7f0e" stop-opacity="0.26"/><stop offset="0.295" stop-color="#ff7f0e" stop-opacity="0.34"/><stop offset="0.678" stop-color="#ff7f0e" stop-opacity="0.34"/><stop offset="0.698" stop-color="#ff7f0e" stop-opacity="0.12"/><stop offset="1" stop-color="#ff7f0e" stop-opacity="0.08"/></linearGradient>
<path d="M231.8,333.4L231.9,333.9L231.9,334.4L232.0,334.9L232.1,335.4L232.2,335.9L232.2,336.4L232.2,336.9L232.2,337.4L232.2,337.9L232.2,338.4L232.2,338.9L232.2,339.4L232.2,339.9L232.2,340.4L232.2,340.9L232.2,341.4L232.2,341.9L232.2,342.4L232.2,342.9L232.2,343.4L232.2,343.9L232.2,344.4L232.2,344.9L232.2,345.4L232.2,345.9L232.2,346.4L232.2,346.9L232.2,347.4L232.2,347.9L232.2,348.4L232.2,348.9L232.2,349.4L232.2,349.9L232.2,350.4L232.2,350.9L232.2,351.4L232.2,351.9L232.3,352.4L232.3,352.9L232.3,353.4L232.3,353.9L232.3,354.4L232.3,354.9L232.3,355.4L232.3,355.9L232.3,356.4L232.3,356.9L232.3,357.4L232.3,357.9L232.3,358.4L232.3,358.9L232.3,359.4L232.3,359.9L232.3,360.4L232.3,360.9L232.3,361.4L232.3,361.9L232.3,362.4L232.3,362.9L232.3,363.4L232.3,363.9L232.3,364.4L232.3,364.9L232.3,365.4L232.3,365.9L232.3,366.4L232.3,366.9L232.3,367.4L232.3,367.9L232.3,368.4L232.4,368.9L232.4,369.4L232.4,369.9L232.4,370.4L232.5,370.9L232.5,371.4L232.5,371.9L232.6,372.4L232.6,372.9L232.6,373.4L232.6,373.9L232.7,374.4L232.7,374.9L232.8,375.4L232.8,375.9L232.9,376.4L233.0,376.9L233.1,377.4L233.1,377.9L233.2,378.4L233.3,378.9L233.3,379.4L233.4,379.9L233.5,380.4L233.6,380.9L233.6,381.4L233.7,381.9L233.8,382.4L233.9,382.9L233.9,383.4L234.0,383.9L234.1,384.4L234.1,384.9L234.2,385.4L234.2,385.9L234.3,386.4L234.4,386.9L234.4,387.4L234.5,387.9L234.5,388.4L234.6,388.9L234.6,389.4L234.7,389.9L234.7,390.4L234.8,390.9L234.8,391.4L234.8,391.9L234.8,392.4L234.8,392.9L234.7,393.4L234.7,393.9L234.7,394.4L234.6,394.9L234.6,395.4L234.5,395.9L234.5,396.4L234.5,396.9L234.4,397.4L234.4,397.9L234.3,398.4L234.3,398.9L234.2,399.4L234.1,399.9L234.0,400.4L233.9,400.9L233.8,401.4L233.7,401.9L233.6,402.4L233.5,402.9L233.4,403.4L233.3,403.9L233.2,404.5L233.1,405.0L233.0,405.5L233.0,406.0L232.9,406.5L232.9,407.0L232.8,407.5L232.8,408.0L232.8,408.5L232.8,409.0L232.7,409.5L232.7,410.0L232.7,410.5L232.7,411.0L232.6,411.5L232.6,412.0L232.6,412.5L232.6,413.0L232.5,413.5L232.5,414.0L232.5,414.5L232.5,415.0L232.4,415.5L232.4,416.0L232.4,416.5L232.4,417.0L232.4,417.5L232.4,418.0L232.4,418.5L232.4,419.0L232.4,419.5L232.4,420.0L232.3,420.5L232.3,421.0L232.3,421.5L232.3,422.0L232.3,422.5L232.3,423.0L232.3,423.5L232.3,424.0L232.3,424.5L232.2,425.0L232.2,425.5L232.2,426.0L232.2,426.5L232.1,427.0L232.1,427.5L232.1,428.0L232.0,428.5L232.0,429.0L232.0,429.5L231.9,430.0L231.9,430.5L231.9,431.0L231.9,431.5L231.9,432.0L231.9,432.5L231.9,433.0L231.9,433.5L231.9,434.0L231.9,434.5L231.9,435.0L231.9,435.5L231.9,436.0L231.9,436.5L231.9,437.0L231.9,437.5L231.9,438.0L231.9,438.5L231.9,439.0L231.9,439.5L231.9,440.0L231.9,440.5L231.9,441.0L231.9,441.5L231.9,442.0L231.9,442.5L231.9,443.0L231.9,443.5L231.9,444.0L231.9,444.5L231.9,445.0L231.9,445.5L231.9,446.0L231.9,446.5L231.9,447.0L231.9,447.5L231.9,448.0L231.9,448.5L231.9,449.0L231.9,449.5L231.9,450.0L231.9,450.5L231.9,451.0L231.9,451.5L231.9,452.0L231.9,452.5L231.9,453.0L231.9,453.5L231.9,454.0L231.9,454.5L231.9,455.0L231.9,455.5L231.9,456.0L231.9,456.5L231.9,457.0L231.9,457.5L231.9,458.0L231.9,458.5L231.9,459.0L231.9,459.5L231.9,460.0L231.9,460.5L231.9,461.0L231.9,461.5L231.9,462.0L231.9,462.5L231.9,463.0L231.9,463.5L231.9,464.0L231.9,464.5L231.9,465.0L231.9,465.5L231.9,466.0L231.9,466.5L231.9,467.0L231.9,467.5L231.9,468.0L231.9,468.5L231.9,469.0L231.9,469.5L231.9,470.0L231.9,470.5L231.9,471.0L231.9,471.5L231.9,472.0L231.8,472.5L231.8,473.0L231.8,473.5L231.8,474.0L231.8,474.5L231.8,474.5L231.8,474.0L231.8,473.5L231.8,473.0L231.8,472.5L231.7,472.0L231.7,471.5L231.7,471.0L231.7,470.5L231.7,470.0L231.7,469.5L231.7,469.0L231.7,468.5L231.7,468.0L231.7,467.5L231.7,467.0L231.7,466.5L231.7,466.0L231.7,465.5L231.7,465.0L231.7,464.5L231.7,464.0L231.7,463.5L231.7,463.0L231.7,462.5L231.7,462.0L231.7,461.5L231.7,461.0L231.7,460.5L231.7,460.0L231.7,459.5L231.7,459.0L231.7,458.5L231.7,458.0L231.7,457.5L231.7,457.0L231.7,456.5L231.7,456.0L231.7,455.5L231.7,455.0L231.7,454.5L231.7,454.0L231.7,453.5L231.7,453.0L231.7,452.5L231.7,452.0L231.7,451.5L231.7,451.0L231.7,450.5L231.7,450.0L231.7,449.5L231.7,449.0L231.7,448.5L231.7,448.0L231.7,447.5L231.7,447.0L231.7,446.5L231.7,446.0L231.7,445.5L231.7,445.0L231.7,444.5L231.7,444.0L231.7,443.5L231.7,443.0L231.7,442.5L231.7,442.0L231.7,441.5L231.7,441.0L231.7,440.5L231.7,440.0L231.7,439.5L231.7,439.0L231.7,438.5L231.7,438.0L231.7,437.5L231.7,437.0L231.7,436.5L231.7,436.0L231.7,435.5L231.7,435.0L231.7,434.5L231.7,434.0L231.7,433.5L231.7,433.0L231.7,432.5L231.7,432.0L231.7,431.5L231.7,431.0L231.7,430.5L231.7,430.0L231.6,429.5L231.6,429.0L231.6,428.5L231.5,428.0L231.5,427.5L231.5,427.0L231.4,426.5L231.4,426.0L231.4,425.5L231.4,425.0L231.3,424.5L231.3,424.0L231.3,423.5L231.3,423.0L231.3,422.5L231.3,422.0L231.3,421.5L231.3,421.0L231.3,420.5L231.2,420.0L231.2,419.5L231.2,419.0L231.2,418.5L231.2,418.0L231.2,417.5L231.2,417.0L231.2,416.5L231.2,416.0L231.2,415.5L231.1,415.0L231.1,414.5L231.1,414.0L231.1,413.5L231.0,413.0L231.0,412.5L231.0,412.0L231.0,411.5L230.9,411.0L230.9,410.5L230.9,410.0L230.9,409.5L230.8,409.0L230.8,408.5L230.8,408.0L230.8,407.5L230.7,407.0L230.7,406.5L230.6,406.0L230.6,405.5L230.5,405.0L230.4,404.5L230.3,403.9L230.2,403.4L230.1,402.9L230.0,402.4L229.9,401.9L229.8,401.4L229.7,400.9L229.6,400.4L229.5,399.9L229.4,399.4L229.3,398.9L229.3,398.4L229.2,397.9L229.2,397.4L229.1,396.9L229.1,396.4L229.1,395.9L229.0,395.4L229.0,394.9L228.9,394.4L228.9,393.9L228.9,393.4L228.8,392.9L228.8,392.4L228.8,391.9L228.8,391.4L228.8,390.9L228.9,390.4L228.9,389.9L229.0,389.4L229.0,388.9L229.1,388.4L229.1,387.9L229.2,387.4L229.2,386.9L229.3,386.4L229.4,385.9L229.4,385.4L229.5,384.9L229.5,384.4L229.6,383.9L229.7,383.4L229.7,382.9L229.8,382.4L229.9,381.9L230.0,381.4L230.0,380.9L230.1,380.4L230.2,379.9L230.3,379.4L230.3,378.9L230.4,378.4L230.5,377.9L230.5,377.4L230.6,376.9L230.7,376.4L230.8,375.9L230.8,375.4L230.9,374.9L230.9,374.4L231.0,373.9L231.0,373.4L231.0,372.9L231.0,372.4L231.1,371.9L231.1,371.4L231.1,370.9L231.2,370.4L231.2,369.9L231.2,369.4L231.2,368.9L231.3,368.4L231.3,367.9L231.3,367.4L231.3,366.9L231.3,366.4L231.3,365.9L231.3,365.4L231.3,364.9L231.3,364.4L231.3,363.9L231.3,363.4L231.3,362.9L231.3,362.4L231.3,361.9L231.3,361.4L231.3,360.9L231.3,360.4L231.3,359.9L231.3,359.4L231.3,358.9L231.3,358.4L231.3,357.9L231.3,357.4L231.3,356.9L231.3,356.4L231.3,355.9L231.3,355.4L231.3,354.9L231.3,354.4L231.3,353.9L231.3,353.4L231.3,352.9L231.3,352.4L231.4,351.9L231.4,351.4L231.4,350.9L231.4,350.4L231.4,349.9L231.4,349.4L231.4,348.9L231.4,348.4L231.4,347.9L231.4,347.4L231.4,346.9L231.4,346.4L231.4,345.9L231.4,345.4L231.4,344.9L231.4,344.4L231.4,343.9L231.4,343.4L231.4,342.9L231.4,342.4L231.4,341.9L231.4,341.4L231.4,340.9L231.4,340.4L231.4,339.9L231.4,339.4L231.4,338.9L231.4,338.4L231.4,337.9L231.4,337.4L231.4,336.9L231.4,336.4L231.4,335.9L231.5,335.4L231.6,334.9L231.7,334.4L231.7,333.9L231.8,333.4Z" fill="url(#vgCD411)" stroke="none"/>
<line x1="229.80" y1="391.50" x2="233.80" y2="391.50" stroke="#ff7f0e" stroke-width="1.0" stroke-opacity="0.9"/>
<linearGradient id="vgCD412" gradientUnits="userSpaceOnUse" x1="0" y1="333.4" x2="0" y2="474.5"><stop offset="0" stop-color="#2ca02c" stop-opacity="0.2"/><stop offset="0.000" stop-color="#2ca02c" stop-opacity="0.26"/><stop offset="0.167" stop-color="#2ca02c" stop-opacity="0.34"/><stop offset="0.618" stop-color="#2ca02c" stop-opacity="0.34"/><stop offset="0.638" stop-color="#2ca02c" stop-opacity="0.12"/><stop offset="1" stop-color="#2ca02c" stop-opacity="0.08"/></linearGradient>
<path d="M247.3,333.4L247.4,333.9L247.6,334.4L247.7,334.9L247.8,335.4L248.0,335.9L248.1,336.4L248.1,336.9L248.1,337.4L248.1,337.9L248.1,338.4L248.1,338.9L248.1,339.4L248.1,339.9L248.1,340.4L248.1,340.9L248.1,341.4L248.1,341.9L248.1,342.4L248.1,342.9L248.1,343.4L248.1,343.9L248.1,344.4L248.1,344.9L248.1,345.4L248.1,345.9L248.1,346.4L248.1,346.9L248.1,347.4L248.1,347.9L248.1,348.4L248.1,348.9L248.1,349.4L248.1,349.9L248.1,350.4L248.2,350.9L248.2,351.4L248.2,351.9L248.2,352.4L248.2,352.9L248.3,353.4L248.3,353.9L248.3,354.4L248.3,354.9L248.3,355.4L248.4,355.9L248.4,356.4L248.4,356.9L248.5,357.4L248.5,357.9L248.5,358.4L248.6,358.9L248.6,359.4L248.7,359.9L248.7,360.4L248.8,360.9L248.8,361.4L248.9,361.9L248.9,362.4L249.0,362.9L249.0,363.4L249.1,363.9L249.1,364.4L249.2,364.9L249.2,365.4L249.3,365.9L249.3,366.4L249.4,366.9L249.4,367.4L249.5,367.9L249.5,368.4L249.6,368.9L249.6,369.4L249.7,369.9L249.7,370.4L249.8,370.9L249.8,371.4L249.8,371.9L249.9,372.4L249.9,372.9L250.0,373.4L250.0,373.9L250.0,374.4L250.1,374.9L250.1,375.4L250.1,375.9L250.2,376.4L250.2,376.9L250.3,377.4L250.3,377.9L250.3,378.4L250.4,378.9L250.4,379.4L250.4,379.9L250.4,380.4L250.4,380.9L250.4,381.4L250.4,381.9L250.4,382.4L250.4,382.9L250.4,383.4L250.4,383.9L250.4,384.4L250.4,384.9L250.4,385.4L250.4,385.9L250.4,386.4L250.4,386.9L250.4,387.4L250.3,387.9L250.3,388.4L250.3,388.9L250.3,389.4L250.2,389.9L250.2,390.4L250.2,390.9L250.1,391.4L250.1,391.9L250.1,392.4L250.0,392.9L250.0,393.4L250.0,393.9L249.9,394.4L249.9,394.9L249.9,395.4L249.8,395.9L249.8,396.4L249.8,396.9L249.7,397.4L249.7,397.9L249.7,398.4L249.6,398.9L249.6,399.4L249.6,399.9L249.5,400.4L249.5,400.9L249.5,401.4L249.4,401.9L249.4,402.4L249.4,402.9L249.4,403.4L249.4,403.9L249.4,404.5L249.5,405.0L249.6,405.5L249.6,406.0L249.7,406.5L249.8,407.0L249.9,407.5L250.0,408.0L250.0,408.5L250.1,409.0L250.2,409.5L250.2,410.0L250.2,410.5L250.2,411.0L250.1,411.5L250.0,412.0L249.9,412.5L249.7,413.0L249.6,413.5L249.5,414.0L249.3,414.5L249.2,415.0L249.0,415.5L248.9,416.0L248.8,416.5L248.6,417.0L248.5,417.5L248.4,418.0L248.2,418.5L248.1,419.0L248.0,419.5L247.8,420.0L247.7,420.5L247.6,421.0L247.6,421.5L247.5,422.0L247.5,422.5L247.4,423.0L247.4,423.5L247.4,424.0L247.4,424.5L247.4,425.0L247.4,425.5L247.4,426.0L247.4,426.5L247.4,427.0L247.4,427.5L247.4,428.0L247.4,428.5L247.4,429.0L247.4,429.5L247.4,430.0L247.4,430.5L247.4,431.0L247.4,431.5L247.4,432.0L247.4,432.5L247.4,433.0L247.4,433.5L247.4,434.0L247.4,434.5L247.4,435.0L247.4,435.5L247.4,436.0L247.4,436.5L247.4,437.0L247.4,437.5L247.4,438.0L247.4,438.5L247.4,439.0L247.4,439.5L247.4,440.0L247.4,440.5L247.4,441.0L247.4,441.5L247.4,442.0L247.4,442.5L247.4,443.0L247.4,443.5L247.4,444.0L247.4,444.5L247.4,445.0L247.4,445.5L247.4,446.0L247.4,446.5L247.4,447.0L247.4,447.5L247.4,448.0L247.4,448.5L247.4,449.0L247.4,449.5L247.4,450.0L247.4,450.5L247.4,451.0L247.4,451.5L247.4,452.0L247.4,452.5L247.4,453.0L247.4,453.5L247.4,454.0L247.4,454.5L247.4,455.0L247.4,455.5L247.4,456.0L247.4,456.5L247.4,457.0L247.4,457.5L247.4,458.0L247.4,458.5L247.4,459.0L247.4,459.5L247.4,460.0L247.4,460.5L247.4,461.0L247.4,461.5L247.4,462.0L247.4,462.5L247.4,463.0L247.4,463.5L247.4,464.0L247.4,464.5L247.4,465.0L247.4,465.5L247.4,466.0L247.4,466.5L247.4,467.0L247.4,467.5L247.4,468.0L247.4,468.5L247.4,469.0L247.4,469.5L247.4,470.0L247.4,470.5L247.4,471.0L247.4,471.5L247.4,472.0L247.3,472.5L247.3,473.0L247.3,473.5L247.3,474.0L247.3,474.5L247.3,474.5L247.3,474.0L247.3,473.5L247.3,473.0L247.3,472.5L247.2,472.0L247.2,471.5L247.2,471.0L247.2,470.5L247.2,470.0L247.2,469.5L247.2,469.0L247.2,468.5L247.2,468.0L247.2,467.5L247.2,467.0L247.2,466.5L247.2,466.0L247.2,465.5L247.2,465.0L247.2,464.5L247.2,464.0L247.2,463.5L247.2,463.0L247.2,462.5L247.2,462.0L247.2,461.5L247.2,461.0L247.2,460.5L247.2,460.0L247.2,459.5L247.2,459.0L247.2,458.5L247.2,458.0L247.2,457.5L247.2,457.0L247.2,456.5L247.2,456.0L247.2,455.5L247.2,455.0L247.2,454.5L247.2,454.0L247.2,453.5L247.2,453.0L247.2,452.5L247.2,452.0L247.2,451.5L247.2,451.0L247.2,450.5L247.2,450.0L247.2,449.5L247.2,449.0L247.2,448.5L247.2,448.0L247.2,447.5L247.2,447.0L247.2,446.5L247.2,446.0L247.2,445.5L247.2,445.0L247.2,444.5L247.2,444.0L247.2,443.5L247.2,443.0L247.2,442.5L247.2,442.0L247.2,441.5L247.2,441.0L247.2,440.5L247.2,440.0L247.2,439.5L247.2,439.0L247.2,438.5L247.2,438.0L247.2,437.5L247.2,437.0L247.2,436.5L247.2,436.0L247.2,435.5L247.2,435.0L247.2,434.5L247.2,434.0L247.2,433.5L247.2,433.0L247.2,432.5L247.2,432.0L247.2,431.5L247.2,431.0L247.2,430.5L247.2,430.0L247.2,429.5L247.2,429.0L247.2,428.5L247.2,428.0L247.2,427.5L247.2,427.0L247.2,426.5L247.2,426.0L247.2,425.5L247.2,425.0L247.2,424.5L247.2,424.0L247.2,423.5L247.2,423.0L247.1,422.5L247.1,422.0L247.0,421.5L247.0,421.0L246.9,420.5L246.8,420.0L246.6,419.5L246.5,419.0L246.4,418.5L246.2,418.0L246.1,417.5L246.0,417.0L245.8,416.5L245.7,416.0L245.6,415.5L245.4,415.0L245.3,414.5L245.1,414.0L245.0,413.5L244.9,413.0L244.7,412.5L244.6,412.0L244.5,411.5L244.4,411.0L244.4,410.5L244.4,410.0L244.4,409.5L244.5,409.0L244.6,408.5L244.6,408.0L244.7,407.5L244.8,407.0L244.9,406.5L245.0,406.0L245.0,405.5L245.1,405.0L245.2,404.5L245.2,403.9L245.2,403.4L245.2,402.9L245.2,402.4L245.2,401.9L245.1,401.4L245.1,400.9L245.1,400.4L245.0,399.9L245.0,399.4L245.0,398.9L244.9,398.4L244.9,397.9L244.9,397.4L244.8,396.9L244.8,396.4L244.8,395.9L244.7,395.4L244.7,394.9L244.7,394.4L244.6,393.9L244.6,393.4L244.6,392.9L244.5,392.4L244.5,391.9L244.5,391.4L244.4,390.9L244.4,390.4L244.4,389.9L244.3,389.4L244.3,388.9L244.3,388.4L244.3,387.9L244.2,387.4L244.2,386.9L244.2,386.4L244.2,385.9L244.2,385.4L244.2,384.9L244.2,384.4L244.2,383.9L244.2,383.4L244.2,382.9L244.2,382.4L244.2,381.9L244.2,381.4L244.2,380.9L244.2,380.4L244.2,379.9L244.2,379.4L244.2,378.9L244.3,378.4L244.3,377.9L244.3,377.4L244.4,376.9L244.4,376.4L244.5,375.9L244.5,375.4L244.5,374.9L244.6,374.4L244.6,373.9L244.6,373.4L244.7,372.9L244.7,372.4L244.8,371.9L244.8,371.4L244.8,370.9L244.9,370.4L244.9,369.9L245.0,369.4L245.0,368.9L245.1,368.4L245.1,367.9L245.2,367.4L245.2,366.9L245.3,366.4L245.3,365.9L245.4,365.4L245.4,364.9L245.5,364.4L245.5,363.9L245.6,363.4L245.6,362.9L245.7,362.4L245.7,361.9L245.8,361.4L245.8,360.9L245.9,360.4L245.9,359.9L246.0,359.4L246.0,358.9L246.1,358.4L246.1,357.9L246.1,357.4L246.2,356.9L246.2,356.4L246.2,355.9L246.3,355.4L246.3,354.9L246.3,354.4L246.3,353.9L246.3,353.4L246.4,352.9L246.4,352.4L246.4,351.9L246.4,351.4L246.4,350.9L246.5,350.4L246.5,349.9L246.5,349.4L246.5,348.9L246.5,348.4L246.5,347.9L246.5,347.4L246.5,346.9L246.5,346.4L246.5,345.9L246.5,345.4L246.6,344.9L246.6,344.4L246.6,343.9L246.6,343.4L246.6,342.9L246.6,342.4L246.6,341.9L246.6,341.4L246.6,340.9L246.6,340.4L246.6,339.9L246.6,339.4L246.6,338.9L246.6,338.4L246.6,337.9L246.6,337.4L246.6,336.9L246.6,336.4L246.6,335.9L246.8,335.4L246.9,334.9L247.0,334.4L247.2,333.9L247.3,333.4Z" fill="url(#vgCD412)" stroke="none"/>
<line x1="245.30" y1="387.20" x2="249.30" y2="387.20" stroke="#2ca02c" stroke-width="1.0" stroke-opacity="0.9"/>
<line x1="57.50" y1="476.8" x2="57.50" y2="479.8" stroke="#444" stroke-width="0.8"/>
<line x1="73.20" y1="476.8" x2="73.20" y2="479.8" stroke="#444" stroke-width="0.8"/>
<line x1="89.00" y1="476.8" x2="89.00" y2="479.8" stroke="#444" stroke-width="0.8"/>
<line x1="104.90" y1="476.8" x2="104.90" y2="479.8" stroke="#444" stroke-width="0.8"/>
<line x1="120.80" y1="476.8" x2="120.80" y2="479.8" stroke="#444" stroke-width="0.8"/>
<line x1="136.80" y1="476.8" x2="136.80" y2="479.8" stroke="#444" stroke-width="0.8"/>
<line x1="152.50" y1="476.8" x2="152.50" y2="479.8" stroke="#444" stroke-width="0.8"/>
<line x1="168.40" y1="476.8" x2="168.40" y2="479.8" stroke="#444" stroke-width="0.8"/>
<line x1="184.20" y1="476.8" x2="184.20" y2="479.8" stroke="#444" stroke-width="0.8"/>
<line x1="200.00" y1="476.8" x2="200.00" y2="479.8" stroke="#444" stroke-width="0.8"/>
<line x1="215.80" y1="476.8" x2="215.80" y2="479.8" stroke="#444" stroke-width="0.8"/>
<line x1="231.80" y1="476.8" x2="231.80" y2="479.8" stroke="#444" stroke-width="0.8"/>
<line x1="247.60" y1="476.8" x2="247.60" y2="479.8" stroke="#444" stroke-width="0.8"/>
<line x1="160.40" y1="333" x2="160.40" y2="476" stroke="#c4c4c4" stroke-width="0.9"/>
<line x1="160.40" y1="333" x2="160.40" y2="476" stroke="#707070" stroke-width="0.9" stroke-dasharray="0.9 1.1"/>
<line x1="44.10" y1="405.21" x2="160.40" y2="405.21" stroke="#d4283a" stroke-width="1.4" stroke-dasharray="2.3 1.8"/>
<line x1="160.40" y1="396.59" x2="261.40" y2="396.59" stroke="#d4283a" stroke-width="1.4" stroke-dasharray="2.3 1.8"/>
<line x1="43.10" y1="332.4" x2="262.00" y2="332.4" stroke="#2a2a2a" stroke-width="1"/>
<line x1="261.40" y1="332.4" x2="261.40" y2="476.4" stroke="#2a2a2a" stroke-width="1.2"/>
<line x1="43.10" y1="476.4" x2="262.00" y2="476.4" stroke="#222" stroke-width="1.1"/>
<line x1="44.00" y1="332" x2="44.00" y2="477" stroke="#444" stroke-width="1.9"/>
<text x="102.00" y="489.60" font-size="9.0" text-anchor="middle" fill="#1a1a1a" stroke="#1a1a1a" stroke-width="0.2" textLength="20.00" lengthAdjust="spacingAndGlyphs" >Control</text>
<text x="210.90" y="489.60" font-size="9.0" text-anchor="middle" fill="#1a1a1a" stroke="#1a1a1a" stroke-width="0.2" textLength="22.30" lengthAdjust="spacingAndGlyphs" >Vaccine</text>
<text x="399.60" y="329.60" font-size="9.4" text-anchor="middle" fill="#c8102e" font-weight="bold" textLength="17.40" lengthAdjust="spacingAndGlyphs" >CD8</text>
<line x1="288.00" y1="332.40" x2="290.20" y2="332.40" stroke="#333" stroke-width="0.9"/>
<text x="284.70" y="334.90" font-size="7.2" text-anchor="end" fill="#222" textLength="10.00" lengthAdjust="spacingAndGlyphs" >1.0</text>
<line x1="288.00" y1="351.56" x2="290.20" y2="351.56" stroke="#333" stroke-width="0.9"/>
<text x="284.70" y="354.06" font-size="7.2" text-anchor="end" fill="#222" textLength="10.00" lengthAdjust="spacingAndGlyphs" >0.8</text>
<line x1="288.00" y1="370.72" x2="290.20" y2="370.72" stroke="#333" stroke-width="0.9"/>
<text x="284.70" y="373.22" font-size="7.2" text-anchor="end" fill="#222" textLength="10.00" lengthAdjust="spacingAndGlyphs" >0.6</text>
<line x1="288.00" y1="389.88" x2="290.20" y2="389.88" stroke="#333" stroke-width="0.9"/>
<text x="284.70" y="392.38" font-size="7.2" text-anchor="end" fill="#222" textLength="10.00" lengthAdjust="spacingAndGlyphs" >0.4</text>
<line x1="288.00" y1="409.04" x2="290.20" y2="409.04" stroke="#333" stroke-width="0.9"/>
<text x="284.70" y="411.54" font-size="7.2" text-anchor="end" fill="#222" textLength="10.00" lengthAdjust="spacingAndGlyphs" >0.2</text>
<line x1="288.00" y1="428.20" x2="290.20" y2="428.20" stroke="#333" stroke-width="0.9"/>
<text x="284.70" y="430.70" font-size="7.2" text-anchor="end" fill="#222" textLength="10.00" lengthAdjust="spacingAndGlyphs" >0.0</text>
<line x1="288.00" y1="447.36" x2="290.20" y2="447.36" stroke="#333" stroke-width="0.9"/>
<text x="284.70" y="449.86" font-size="7.2" text-anchor="end" fill="#222" textLength="14.60" lengthAdjust="spacingAndGlyphs" >&#8722;0.2</text>
<line x1="288.00" y1="466.52" x2="290.20" y2="466.52" stroke="#333" stroke-width="0.9"/>
<text x="284.70" y="469.02" font-size="7.2" text-anchor="end" fill="#222" textLength="14.60" lengthAdjust="spacingAndGlyphs" >&#8722;0.4</text>
<linearGradient id="vgCD80" gradientUnits="userSpaceOnUse" x1="0" y1="333.4" x2="0" y2="474.5"><stop offset="0" stop-color="#1f77b4" stop-opacity="0.2"/><stop offset="0.089" stop-color="#1f77b4" stop-opacity="0.26"/><stop offset="0.302" stop-color="#1f77b4" stop-opacity="0.34"/><stop offset="0.714" stop-color="#1f77b4" stop-opacity="0.34"/><stop offset="0.734" stop-color="#1f77b4" stop-opacity="0.12"/><stop offset="1" stop-color="#1f77b4" stop-opacity="0.08"/></linearGradient>
<path d="M304.9,333.4L305.0,333.9L305.0,334.4L305.1,334.9L305.2,335.4L305.3,335.9L305.3,336.4L305.3,336.9L305.3,337.4L305.3,337.9L305.3,338.4L305.3,338.9L305.3,339.4L305.3,339.9L305.4,340.4L305.4,340.9L305.4,341.4L305.4,341.9L305.4,342.4L305.4,342.9L305.4,343.4L305.4,343.9L305.4,344.4L305.4,344.9L305.4,345.4L305.4,345.9L305.4,346.4L305.4,346.9L305.4,347.4L305.4,347.9L305.5,348.4L305.5,348.9L305.5,349.4L305.5,349.9L305.5,350.4L305.5,350.9L305.5,351.4L305.5,351.9L305.5,352.4L305.5,352.9L305.5,353.4L305.5,353.9L305.5,354.4L305.5,354.9L305.5,355.4L305.5,355.9L305.6,356.4L305.6,356.9L305.6,357.4L305.6,357.9L305.6,358.4L305.6,358.9L305.6,359.4L305.6,359.9L305.6,360.4L305.6,360.9L305.6,361.4L305.6,361.9L305.6,362.4L305.6,362.9L305.6,363.4L305.7,363.9L305.7,364.4L305.7,364.9L305.7,365.4L305.7,365.9L305.7,366.4L305.7,366.9L305.7,367.4L305.7,367.9L305.7,368.4L305.7,368.9L305.7,369.4L305.7,369.9L305.8,370.4L305.8,370.9L305.8,371.4L305.8,371.9L305.8,372.4L305.8,372.9L305.8,373.4L305.8,373.9L305.8,374.4L305.8,374.9L305.8,375.4L305.9,375.9L305.9,376.4L305.9,376.9L305.9,377.4L305.9,377.9L305.9,378.4L305.9,378.9L305.9,379.4L305.9,379.9L305.9,380.4L306.0,380.9L306.0,381.4L306.0,381.9L306.0,382.4L306.0,382.9L306.0,383.4L306.0,383.9L306.0,384.4L306.0,384.9L306.0,385.4L306.1,385.9L306.1,386.4L306.1,386.9L306.1,387.4L306.1,387.9L306.1,388.4L306.1,388.9L306.2,389.4L306.2,389.9L306.2,390.4L306.2,390.9L306.2,391.4L306.3,391.9L306.3,392.4L306.3,392.9L306.3,393.4L306.3,393.9L306.4,394.4L306.4,394.9L306.4,395.4L306.4,395.9L306.4,396.4L306.5,396.9L306.5,397.4L306.5,397.9L306.5,398.4L306.5,398.9L306.6,399.4L306.6,399.9L306.6,400.4L306.6,400.9L306.6,401.4L306.6,401.9L306.7,402.4L306.7,402.9L306.7,403.4L306.7,403.9L306.7,404.5L306.7,405.0L306.7,405.5L306.7,406.0L306.8,406.5L306.8,407.0L306.8,407.5L306.8,408.0L306.8,408.5L306.8,409.0L306.8,409.5L306.9,410.0L306.9,410.5L306.9,411.0L306.9,411.5L306.9,412.0L306.9,412.5L307.0,413.0L307.0,413.5L307.0,414.0L307.0,414.5L307.1,415.0L307.2,415.5L307.3,416.0L307.4,416.5L307.5,417.0L307.6,417.5L307.8,418.0L307.9,418.5L308.1,419.0L308.2,419.5L308.4,420.0L308.5,420.5L308.6,421.0L308.7,421.5L308.8,422.0L308.8,422.5L308.7,423.0L308.6,423.5L308.5,424.0L308.4,424.5L308.3,425.0L308.1,425.5L308.0,426.0L307.8,426.5L307.7,427.0L307.6,427.5L307.4,428.0L307.3,428.5L307.2,429.0L307.0,429.5L306.8,430.0L306.7,430.5L306.5,431.0L306.3,431.5L306.2,432.0L306.0,432.5L305.8,433.0L305.7,433.5L305.5,434.0L305.4,434.5L305.3,435.0L305.2,435.5L305.1,436.0L305.1,436.5L305.0,437.0L305.0,437.5L305.0,438.0L305.0,438.5L305.0,439.0L305.0,439.5L305.0,440.0L305.0,440.5L305.0,441.0L305.0,441.5L305.0,442.0L305.0,442.5L305.0,443.0L305.0,443.5L305.0,444.0L305.0,444.5L305.0,445.0L305.0,445.5L305.0,446.0L305.0,446.5L305.0,447.0L305.0,447.5L305.0,448.0L305.0,448.5L305.0,449.0L305.0,449.5L305.0,450.0L305.0,450.5L305.0,451.0L305.0,451.5L305.0,452.0L305.0,452.5L305.0,453.0L305.0,453.5L305.0,454.0L305.0,454.5L305.0,455.0L305.0,455.5L305.0,456.0L305.0,456.5L305.0,457.0L305.0,457.5L305.0,458.0L305.0,458.5L305.0,459.0L305.0,459.5L305.0,460.0L305.0,460.5L305.0,461.0L305.0,461.5L305.0,462.0L305.0,462.5L305.0,463.0L305.0,463.5L305.0,464.0L305.0,464.5L305.0,465.0L305.0,465.5L305.0,466.0L305.0,466.5L305.0,467.0L305.0,467.5L305.0,468.0L305.0,468.5L305.0,469.0L305.0,469.5L305.0,470.0L305.0,470.5L305.0,471.0L305.0,471.5L305.0,472.0L304.9,472.5L304.9,473.0L304.9,473.5L304.9,474.0L304.9,474.5L304.9,474.5L304.9,474.0L304.9,473.5L304.9,473.0L304.9,472.5L304.8,472.0L304.8,471.5L304.8,471.0L304.8,470.5L304.8,470.0L304.8,469.5L304.8,469.0L304.8,468.5L304.8,468.0L304.8,467.5L304.8,467.0L304.8,466.5L304.8,466.0L304.8,465.5L304.8,465.0L304.8,464.5L304.8,464.0L304.8,463.5L304.8,463.0L304.8,462.5L304.8,462.0L304.8,461.5L304.8,461.0L304.8,460.5L304.8,460.0L304.8,459.5L304.8,459.0L304.8,458.5L304.8,458.0L304.8,457.5L304.8,457.0L304.8,456.5L304.8,456.0L304.8,455.5L304.8,455.0L304.8,454.5L304.8,454.0L304.8,453.5L304.8,453.0L304.8,452.5L304.8,452.0L304.8,451.5L304.8,451.0L304.8,450.5L304.8,450.0L304.8,449.5L304.8,449.0L304.8,448.5L304.8,448.0L304.8,447.5L304.8,447.0L304.8,446.5L304.8,446.0L304.8,445.5L304.8,445.0L304.8,444.5L304.8,444.0L304.8,443.5L304.8,443.0L304.8,442.5L304.8,442.0L304.8,441.5L304.8,441.0L304.8,440.5L304.8,440.0L304.8,439.5L304.8,439.0L304.8,438.5L304.8,438.0L304.8,437.5L304.8,437.0L304.7,436.5L304.7,436.0L304.6,435.5L304.5,435.0L304.4,434.5L304.3,434.0L304.1,433.5L304.0,433.0L303.8,432.5L303.6,432.0L303.5,431.5L303.3,431.0L303.1,430.5L303.0,430.0L302.8,429.5L302.6,429.0L302.5,428.5L302.4,428.0L302.2,427.5L302.1,427.0L302.0,426.5L301.8,426.0L301.7,425.5L301.5,425.0L301.4,424.5L301.3,424.0L301.2,423.5L301.1,423.0L301.0,422.5L301.0,422.0L301.1,421.5L301.2,421.0L301.3,420.5L301.4,420.0L301.6,419.5L301.7,419.0L301.9,418.5L302.0,418.0L302.2,417.5L302.3,417.0L302.4,416.5L302.5,416.0L302.6,415.5L302.7,415.0L302.8,414.5L302.8,414.0L302.8,413.5L302.8,413.0L302.9,412.5L302.9,412.0L302.9,411.5L302.9,411.0L302.9,410.5L302.9,410.0L303.0,409.5L303.0,409.0L303.0,408.5L303.0,408.0L303.0,407.5L303.0,407.0L303.0,406.5L303.1,406.0L303.1,405.5L303.1,405.0L303.1,404.5L303.1,403.9L303.1,403.4L303.1,402.9L303.1,402.4L303.2,401.9L303.2,401.4L303.2,400.9L303.2,400.4L303.2,399.9L303.2,399.4L303.3,398.9L303.3,398.4L303.3,397.9L303.3,397.4L303.3,396.9L303.4,396.4L303.4,395.9L303.4,395.4L303.4,394.9L303.4,394.4L303.5,393.9L303.5,393.4L303.5,392.9L303.5,392.4L303.5,391.9L303.6,391.4L303.6,390.9L303.6,390.4L303.6,389.9L303.6,389.4L303.7,388.9L303.7,388.4L303.7,387.9L303.7,387.4L303.7,386.9L303.7,386.4L303.7,385.9L303.8,385.4L303.8,384.9L303.8,384.4L303.8,383.9L303.8,383.4L303.8,382.9L303.8,382.4L303.8,381.9L303.8,381.4L303.8,380.9L303.9,380.4L303.9,379.9L303.9,379.4L303.9,378.9L303.9,378.4L303.9,377.9L303.9,377.4L303.9,376.9L303.9,376.4L303.9,375.9L304.0,375.4L304.0,374.9L304.0,374.4L304.0,373.9L304.0,373.4L304.0,372.9L304.0,372.4L304.0,371.9L304.0,371.4L304.0,370.9L304.0,370.4L304.1,369.9L304.1,369.4L304.1,368.9L304.1,368.4L304.1,367.9L304.1,367.4L304.1,366.9L304.1,366.4L304.1,365.9L304.1,365.4L304.1,364.9L304.1,364.4L304.1,363.9L304.2,363.4L304.2,362.9L304.2,362.4L304.2,361.9L304.2,361.4L304.2,360.9L304.2,360.4L304.2,359.9L304.2,359.4L304.2,358.9L304.2,358.4L304.2,357.9L304.2,357.4L304.2,356.9L304.2,356.4L304.3,355.9L304.3,355.4L304.3,354.9L304.3,354.4L304.3,353.9L304.3,353.4L304.3,352.9L304.3,352.4L304.3,351.9L304.3,351.4L304.3,350.9L304.3,350.4L304.3,349.9L304.3,349.4L304.3,348.9L304.3,348.4L304.4,347.9L304.4,347.4L304.4,346.9L304.4,346.4L304.4,345.9L304.4,345.4L304.4,344.9L304.4,344.4L304.4,343.9L304.4,343.4L304.4,342.9L304.4,342.4L304.4,341.9L304.4,341.4L304.4,340.9L304.4,340.4L304.5,339.9L304.5,339.4L304.5,338.9L304.5,338.4L304.5,337.9L304.5,337.4L304.5,336.9L304.5,336.4L304.5,335.9L304.6,335.4L304.7,334.9L304.8,334.4L304.8,333.9L304.9,333.4Z" fill="url(#vgCD80)" stroke="none"/>
<line x1="302.90" y1="415.40" x2="306.90" y2="415.40" stroke="#1f77b4" stroke-width="1.0" stroke-opacity="0.9"/>
<linearGradient id="vgCD81" gradientUnits="userSpaceOnUse" x1="0" y1="333.4" x2="0" y2="474.5"><stop offset="0" stop-color="#ff7f0e" stop-opacity="0.2"/><stop offset="0.004" stop-color="#ff7f0e" stop-opacity="0.26"/><stop offset="0.217" stop-color="#ff7f0e" stop-opacity="0.34"/><stop offset="0.689" stop-color="#ff7f0e" stop-opacity="0.34"/><stop offset="0.709" stop-color="#ff7f0e" stop-opacity="0.12"/><stop offset="1" stop-color="#ff7f0e" stop-opacity="0.08"/></linearGradient>
<path d="M324.0,333.4L324.1,333.9L324.2,334.4L324.3,334.9L324.4,335.4L324.5,335.9L324.6,336.4L324.6,336.9L324.6,337.4L324.6,337.9L324.6,338.4L324.6,338.9L324.6,339.4L324.6,339.9L324.7,340.4L324.7,340.9L324.7,341.4L324.7,341.9L324.7,342.4L324.7,342.9L324.7,343.4L324.7,343.9L324.7,344.4L324.7,344.9L324.7,345.4L324.7,345.9L324.7,346.4L324.7,346.9L324.7,347.4L324.7,347.9L324.8,348.4L324.8,348.9L324.8,349.4L324.8,349.9L324.8,350.4L324.8,350.9L324.8,351.4L324.8,351.9L324.8,352.4L324.8,352.9L324.8,353.4L324.8,353.9L324.8,354.4L324.8,354.9L324.8,355.4L324.8,355.9L324.9,356.4L324.9,356.9L324.9,357.4L324.9,357.9L324.9,358.4L324.9,358.9L324.9,359.4L324.9,359.9L324.9,360.4L324.9,360.9L324.9,361.4L324.9,361.9L324.9,362.4L324.9,362.9L324.9,363.4L324.9,363.9L325.0,364.4L325.0,364.9L325.0,365.4L325.0,365.9L325.0,366.4L325.0,366.9L325.0,367.4L325.0,367.9L325.0,368.4L325.0,368.9L325.0,369.4L325.0,369.9L325.0,370.4L325.0,370.9L325.0,371.4L325.0,371.9L325.0,372.4L325.0,372.9L325.0,373.4L325.1,373.9L325.1,374.4L325.1,374.9L325.1,375.4L325.1,375.9L325.1,376.4L325.1,376.9L325.1,377.4L325.1,377.9L325.1,378.4L325.1,378.9L325.1,379.4L325.1,379.9L325.1,380.4L325.1,380.9L325.1,381.4L325.1,381.9L325.1,382.4L325.1,382.9L325.2,383.4L325.2,383.9L325.2,384.4L325.2,384.9L325.2,385.4L325.2,385.9L325.2,386.4L325.2,386.9L325.2,387.4L325.2,387.9L325.2,388.4L325.2,388.9L325.3,389.4L325.3,389.9L325.3,390.4L325.3,390.9L325.4,391.4L325.4,391.9L325.4,392.4L325.4,392.9L325.4,393.4L325.5,393.9L325.5,394.4L325.5,394.9L325.5,395.4L325.5,395.9L325.6,396.4L325.6,396.9L325.6,397.4L325.6,397.9L325.7,398.4L325.7,398.9L325.7,399.4L325.7,399.9L325.7,400.4L325.8,400.9L325.8,401.4L325.8,401.9L325.8,402.4L325.9,402.9L325.9,403.4L325.9,403.9L325.9,404.5L326.0,405.0L326.0,405.5L326.1,406.0L326.2,406.5L326.3,407.0L326.3,407.5L326.4,408.0L326.5,408.5L326.6,409.0L326.7,409.5L326.8,410.0L326.9,410.5L327.0,411.0L327.1,411.5L327.2,412.0L327.3,412.5L327.4,413.0L327.5,413.5L327.6,414.0L327.7,414.5L327.8,415.0L327.9,415.5L328.0,416.0L328.1,416.5L328.2,417.0L328.3,417.5L328.4,418.0L328.4,418.5L328.4,419.0L328.3,419.5L328.1,420.0L328.0,420.5L327.9,421.0L327.7,421.5L327.6,422.0L327.4,422.5L327.3,423.0L327.1,423.5L327.0,424.0L326.8,424.5L326.6,425.0L326.5,425.5L326.3,426.0L326.1,426.5L325.9,427.0L325.7,427.5L325.5,428.0L325.3,428.5L325.1,429.0L325.0,429.5L324.8,430.0L324.6,430.5L324.5,431.0L324.4,431.5L324.3,432.0L324.2,432.5L324.2,433.0L324.1,433.5L324.1,434.0L324.1,434.5L324.1,435.0L324.1,435.5L324.1,436.0L324.1,436.5L324.1,437.0L324.1,437.5L324.1,438.0L324.1,438.5L324.1,439.0L324.1,439.5L324.1,440.0L324.1,440.5L324.1,441.0L324.1,441.5L324.1,442.0L324.1,442.5L324.1,443.0L324.1,443.5L324.1,444.0L324.1,444.5L324.1,445.0L324.1,445.5L324.1,446.0L324.1,446.5L324.1,447.0L324.1,447.5L324.1,448.0L324.1,448.5L324.1,449.0L324.1,449.5L324.1,450.0L324.1,450.5L324.1,451.0L324.1,451.5L324.1,452.0L324.1,452.5L324.1,453.0L324.1,453.5L324.1,454.0L324.1,454.5L324.1,455.0L324.1,455.5L324.1,456.0L324.1,456.5L324.1,457.0L324.1,457.5L324.1,458.0L324.1,458.5L324.1,459.0L324.1,459.5L324.1,460.0L324.1,460.5L324.1,461.0L324.1,461.5L324.1,462.0L324.1,462.5L324.1,463.0L324.1,463.5L324.1,464.0L324.1,464.5L324.1,465.0L324.1,465.5L324.1,466.0L324.1,466.5L324.1,467.0L324.1,467.5L324.1,468.0L324.1,468.5L324.1,469.0L324.1,469.5L324.1,470.0L324.1,470.5L324.1,471.0L324.1,471.5L324.1,472.0L324.0,472.5L324.0,473.0L324.0,473.5L324.0,474.0L324.0,474.5L324.0,474.5L324.0,474.0L324.0,473.5L324.0,473.0L324.0,472.5L323.9,472.0L323.9,471.5L323.9,471.0L323.9,470.5L323.9,470.0L323.9,469.5L323.9,469.0L323.9,468.5L323.9,468.0L323.9,467.5L323.9,467.0L323.9,466.5L323.9,466.0L323.9,465.5L323.9,465.0L323.9,464.5L323.9,464.0L323.9,463.5L323.9,463.0L323.9,462.5L323.9,462.0L323.9,461.5L323.9,461.0L323.9,460.5L323.9,460.0L323.9,459.5L323.9,459.0L323.9,458.5L323.9,458.0L323.9,457.5L323.9,457.0L323.9,456.5L323.9,456.0L323.9,455.5L323.9,455.0L323.9,454.5L323.9,454.0L323.9,453.5L323.9,453.0L323.9,452.5L323.9,452.0L323.9,451.5L323.9,451.0L323.9,450.5L323.9,450.0L323.9,449.5L323.9,449.0L323.9,448.5L323.9,448.0L323.9,447.5L323.9,447.0L323.9,446.5L323.9,446.0L323.9,445.5L323.9,445.0L323.9,444.5L323.9,444.0L323.9,443.5L323.9,443.0L323.9,442.5L323.9,442.0L323.9,441.5L323.9,441.0L323.9,440.5L323.9,440.0L323.9,439.5L323.9,439.0L323.9,438.5L323.9,438.0L323.9,437.5L323.9,437.0L323.9,436.5L323.9,436.0L323.9,435.5L323.9,435.0L323.9,434.5L323.9,434.0L323.9,433.5L323.8,433.0L323.8,432.5L323.7,432.0L323.6,431.5L323.5,431.0L323.4,430.5L323.2,430.0L323.0,429.5L322.9,429.0L322.7,428.5L322.5,428.0L322.3,427.5L322.1,427.0L321.9,426.5L321.7,426.0L321.5,425.5L321.4,425.0L321.2,424.5L321.0,424.0L320.9,423.5L320.7,423.0L320.6,422.5L320.4,422.0L320.3,421.5L320.1,421.0L320.0,420.5L319.9,420.0L319.7,419.5L319.6,419.0L319.6,418.5L319.6,418.0L319.7,417.5L319.8,417.0L319.9,416.5L320.0,416.0L320.1,415.5L320.2,415.0L320.3,414.5L320.4,414.0L320.5,413.5L320.6,413.0L320.7,412.5L320.8,412.0L320.9,411.5L321.0,411.0L321.1,410.5L321.2,410.0L321.3,409.5L321.4,409.0L321.5,408.5L321.6,408.0L321.7,407.5L321.7,407.0L321.8,406.5L321.9,406.0L322.0,405.5L322.0,405.0L322.1,404.5L322.1,403.9L322.1,403.4L322.1,402.9L322.2,402.4L322.2,401.9L322.2,401.4L322.2,400.9L322.3,400.4L322.3,399.9L322.3,399.4L322.3,398.9L322.3,398.4L322.4,397.9L322.4,397.4L322.4,396.9L322.4,396.4L322.5,395.9L322.5,395.4L322.5,394.9L322.5,394.4L322.5,393.9L322.6,393.4L322.6,392.9L322.6,392.4L322.6,391.9L322.6,391.4L322.7,390.9L322.7,390.4L322.7,389.9L322.7,389.4L322.8,388.9L322.8,388.4L322.8,387.9L322.8,387.4L322.8,386.9L322.8,386.4L322.8,385.9L322.8,385.4L322.8,384.9L322.8,384.4L322.8,383.9L322.8,383.4L322.9,382.9L322.9,382.4L322.9,381.9L322.9,381.4L322.9,380.9L322.9,380.4L322.9,379.9L322.9,379.4L322.9,378.9L322.9,378.4L322.9,377.9L322.9,377.4L322.9,376.9L322.9,376.4L322.9,375.9L322.9,375.4L322.9,374.9L322.9,374.4L322.9,373.9L323.0,373.4L323.0,372.9L323.0,372.4L323.0,371.9L323.0,371.4L323.0,370.9L323.0,370.4L323.0,369.9L323.0,369.4L323.0,368.9L323.0,368.4L323.0,367.9L323.0,367.4L323.0,366.9L323.0,366.4L323.0,365.9L323.0,365.4L323.0,364.9L323.0,364.4L323.1,363.9L323.1,363.4L323.1,362.9L323.1,362.4L323.1,361.9L323.1,361.4L323.1,360.9L323.1,360.4L323.1,359.9L323.1,359.4L323.1,358.9L323.1,358.4L323.1,357.9L323.1,357.4L323.1,356.9L323.1,356.4L323.2,355.9L323.2,355.4L323.2,354.9L323.2,354.4L323.2,353.9L323.2,353.4L323.2,352.9L323.2,352.4L323.2,351.9L323.2,351.4L323.2,350.9L323.2,350.4L323.2,349.9L323.2,349.4L323.2,348.9L323.2,348.4L323.3,347.9L323.3,347.4L323.3,346.9L323.3,346.4L323.3,345.9L323.3,345.4L323.3,344.9L323.3,344.4L323.3,343.9L323.3,343.4L323.3,342.9L323.3,342.4L323.3,341.9L323.3,341.4L323.3,340.9L323.3,340.4L323.4,339.9L323.4,339.4L323.4,338.9L323.4,338.4L323.4,337.9L323.4,337.4L323.4,336.9L323.4,336.4L323.5,335.9L323.6,335.4L323.7,334.9L323.8,334.4L323.9,333.9L324.0,333.4Z" fill="url(#vgCD81)" stroke="none"/>
<line x1="322.00" y1="411.30" x2="326.00" y2="411.30" stroke="#ff7f0e" stroke-width="1.0" stroke-opacity="0.9"/>
<linearGradient id="vgCD82" gradientUnits="userSpaceOnUse" x1="0" y1="333.4" x2="0" y2="474.5"><stop offset="0" stop-color="#2ca02c" stop-opacity="0.2"/><stop offset="0.348" stop-color="#2ca02c" stop-opacity="0.26"/><stop offset="0.561" stop-color="#2ca02c" stop-opacity="0.34"/><stop offset="0.843" stop-color="#2ca02c" stop-opacity="0.34"/><stop offset="0.863" stop-color="#2ca02c" stop-opacity="0.12"/><stop offset="1" stop-color="#2ca02c" stop-opacity="0.08"/></linearGradient>
<path d="M342.6,333.4L342.7,333.9L342.7,334.4L342.8,334.9L342.8,335.4L342.9,335.9L343.0,336.4L343.0,336.9L343.0,337.4L343.0,337.9L343.0,338.4L343.0,338.9L343.0,339.4L343.0,339.9L343.0,340.4L343.0,340.9L343.0,341.4L343.0,341.9L343.0,342.4L343.0,342.9L343.0,343.4L343.0,343.9L343.0,344.4L343.0,344.9L343.0,345.4L343.0,345.9L343.0,346.4L343.0,346.9L343.0,347.4L343.0,347.9L343.0,348.4L343.0,348.9L343.0,349.4L343.0,349.9L343.0,350.4L343.0,350.9L343.0,351.4L343.0,351.9L343.0,352.4L343.0,352.9L343.0,353.4L343.0,353.9L343.0,354.4L343.0,354.9L343.0,355.4L343.0,355.9L343.0,356.4L343.0,356.9L343.0,357.4L343.0,357.9L343.0,358.4L343.0,358.9L343.0,359.4L343.0,359.9L343.0,360.4L343.0,360.9L343.0,361.4L343.0,361.9L343.0,362.4L343.0,362.9L343.0,363.4L343.0,363.9L343.0,364.4L343.0,364.9L343.0,365.4L343.0,365.9L343.0,366.4L343.0,366.9L343.0,367.4L343.0,367.9L343.0,368.4L343.0,368.9L343.0,369.4L343.0,369.9L343.0,370.4L343.0,370.9L343.0,371.4L343.0,371.9L343.0,372.4L343.0,372.9L343.0,373.4L343.0,373.9L343.0,374.4L343.0,374.9L343.0,375.4L343.0,375.9L343.0,376.4L343.0,376.9L343.0,377.4L343.0,377.9L343.0,378.4L343.0,378.9L343.0,379.4L343.0,379.9L343.0,380.4L343.0,380.9L343.0,381.4L343.0,381.9L343.0,382.4L343.0,382.9L343.0,383.4L343.0,383.9L343.0,384.4L343.0,384.9L343.0,385.4L343.0,385.9L343.0,386.4L343.0,386.9L343.0,387.4L343.0,387.9L343.0,388.4L343.0,388.9L343.0,389.4L343.0,389.9L343.0,390.4L343.0,390.9L343.0,391.4L343.0,391.9L343.0,392.4L343.0,392.9L343.0,393.4L343.0,393.9L343.0,394.4L343.0,394.9L343.0,395.4L343.0,395.9L343.0,396.4L343.0,396.9L343.0,397.4L343.0,397.9L343.0,398.4L343.0,398.9L343.0,399.4L343.0,399.9L343.0,400.4L343.0,400.9L343.0,401.4L343.0,401.9L343.0,402.4L343.0,402.9L343.0,403.4L343.0,403.9L343.0,404.5L343.0,405.0L343.0,405.5L343.1,406.0L343.1,406.5L343.1,407.0L343.1,407.5L343.2,408.0L343.2,408.5L343.3,409.0L343.4,409.5L343.5,410.0L343.6,410.5L343.7,411.0L343.8,411.5L343.9,412.0L344.0,412.5L344.1,413.0L344.2,413.5L344.3,414.0L344.4,414.5L344.5,415.0L344.6,415.5L344.7,416.0L344.8,416.5L344.9,417.0L345.0,417.5L345.1,418.0L345.2,418.5L345.3,419.0L345.4,419.5L345.5,420.0L345.6,420.5L345.7,421.0L345.8,421.5L345.9,422.0L346.0,422.5L346.1,423.0L346.2,423.5L346.2,424.0L346.3,424.5L346.4,425.0L346.4,425.5L346.5,426.0L346.6,426.5L346.6,427.0L346.7,427.5L346.8,428.0L346.8,428.5L346.9,429.0L347.0,429.5L347.0,430.0L347.1,430.5L347.1,431.0L347.1,431.5L347.1,432.0L347.1,432.5L347.0,433.0L347.0,433.5L346.9,434.0L346.9,434.5L346.8,435.0L346.8,435.5L346.7,436.0L346.7,436.5L346.6,437.0L346.6,437.5L346.5,438.0L346.5,438.5L346.4,439.0L346.4,439.5L346.3,440.0L346.3,440.5L346.2,441.0L346.1,441.5L346.0,442.0L345.9,442.5L345.8,443.0L345.6,443.5L345.5,444.0L345.3,444.5L345.2,445.0L345.0,445.5L344.9,446.0L344.7,446.5L344.6,447.0L344.4,447.5L344.3,448.0L344.1,448.5L344.0,449.0L343.8,449.5L343.7,450.0L343.5,450.5L343.4,451.0L343.2,451.5L343.1,452.0L343.0,452.5L342.9,453.0L342.8,453.5L342.8,454.0L342.7,454.5L342.7,455.0L342.7,455.5L342.7,456.0L342.7,456.5L342.7,457.0L342.7,457.5L342.7,458.0L342.7,458.5L342.7,459.0L342.7,459.5L342.7,460.0L342.7,460.5L342.7,461.0L342.7,461.5L342.7,462.0L342.7,462.5L342.7,463.0L342.7,463.5L342.7,464.0L342.7,464.5L342.7,465.0L342.7,465.5L342.7,466.0L342.7,466.5L342.7,467.0L342.7,467.5L342.7,468.0L342.7,468.5L342.7,469.0L342.7,469.5L342.7,470.0L342.7,470.5L342.7,471.0L342.7,471.5L342.7,472.0L342.6,472.5L342.6,473.0L342.6,473.5L342.6,474.0L342.6,474.5L342.6,474.5L342.6,474.0L342.6,473.5L342.6,473.0L342.6,472.5L342.5,472.0L342.5,471.5L342.5,471.0L342.5,470.5L342.5,470.0L342.5,469.5L342.5,469.0L342.5,468.5L342.5,468.0L342.5,467.5L342.5,467.0L342.5,466.5L342.5,466.0L342.5,465.5L342.5,465.0L342.5,464.5L342.5,464.0L342.5,463.5L342.5,463.0L342.5,462.5L342.5,462.0L342.5,461.5L342.5,461.0L342.5,460.5L342.5,460.0L342.5,459.5L342.5,459.0L342.5,458.5L342.5,458.0L342.5,457.5L342.5,457.0L342.5,456.5L342.5,456.0L342.5,455.5L342.5,455.0L342.5,454.5L342.4,454.0L342.4,453.5L342.3,453.0L342.2,452.5L342.1,452.0L342.0,451.5L341.8,451.0L341.7,450.5L341.5,450.0L341.4,449.5L341.2,449.0L341.1,448.5L340.9,448.0L340.8,447.5L340.6,447.0L340.5,446.5L340.3,446.0L340.2,445.5L340.0,445.0L339.9,444.5L339.7,444.0L339.6,443.5L339.4,443.0L339.3,442.5L339.2,442.0L339.1,441.5L339.0,441.0L338.9,440.5L338.9,440.0L338.8,439.5L338.8,439.0L338.7,438.5L338.7,438.0L338.6,437.5L338.6,437.0L338.5,436.5L338.5,436.0L338.4,435.5L338.4,435.0L338.3,434.5L338.3,434.0L338.2,433.5L338.2,433.0L338.1,432.5L338.1,432.0L338.1,431.5L338.1,431.0L338.1,430.5L338.2,430.0L338.2,429.5L338.3,429.0L338.4,428.5L338.4,428.0L338.5,427.5L338.6,427.0L338.6,426.5L338.7,426.0L338.8,425.5L338.8,425.0L338.9,424.5L339.0,424.0L339.0,423.5L339.1,423.0L339.2,422.5L339.3,422.0L339.4,421.5L339.5,421.0L339.6,420.5L339.7,420.0L339.8,419.5L339.9,419.0L340.0,418.5L340.1,418.0L340.2,417.5L340.3,417.0L340.4,416.5L340.5,416.0L340.6,415.5L340.7,415.0L340.8,414.5L340.9,414.0L341.0,413.5L341.1,413.0L341.2,412.5L341.3,412.0L341.4,411.5L341.5,411.0L341.6,410.5L341.7,410.0L341.8,409.5L341.9,409.0L342.0,408.5L342.0,408.0L342.1,407.5L342.1,407.0L342.1,406.5L342.1,406.0L342.2,405.5L342.2,405.0L342.2,404.5L342.2,403.9L342.2,403.4L342.2,402.9L342.2,402.4L342.2,401.9L342.2,401.4L342.2,400.9L342.2,400.4L342.2,399.9L342.2,399.4L342.2,398.9L342.2,398.4L342.2,397.9L342.2,397.4L342.2,396.9L342.2,396.4L342.2,395.9L342.2,395.4L342.2,394.9L342.2,394.4L342.2,393.9L342.2,393.4L342.2,392.9L342.2,392.4L342.2,391.9L342.2,391.4L342.2,390.9L342.2,390.4L342.2,389.9L342.2,389.4L342.2,388.9L342.2,388.4L342.2,387.9L342.2,387.4L342.2,386.9L342.2,386.4L342.2,385.9L342.2,385.4L342.2,384.9L342.2,384.4L342.2,383.9L342.2,383.4L342.2,382.9L342.2,382.4L342.2,381.9L342.2,381.4L342.2,380.9L342.2,380.4L342.2,379.9L342.2,379.4L342.2,378.9L342.2,378.4L342.2,377.9L342.2,377.4L342.2,376.9L342.2,376.4L342.2,375.9L342.2,375.4L342.2,374.9L342.2,374.4L342.2,373.9L342.2,373.4L342.2,372.9L342.2,372.4L342.2,371.9L342.2,371.4L342.2,370.9L342.2,370.4L342.2,369.9L342.2,369.4L342.2,368.9L342.2,368.4L342.2,367.9L342.2,367.4L342.2,366.9L342.2,366.4L342.2,365.9L342.2,365.4L342.2,364.9L342.2,364.4L342.2,363.9L342.2,363.4L342.2,362.9L342.2,362.4L342.2,361.9L342.2,361.4L342.2,360.9L342.2,360.4L342.2,359.9L342.2,359.4L342.2,358.9L342.2,358.4L342.2,357.9L342.2,357.4L342.2,356.9L342.2,356.4L342.2,355.9L342.2,355.4L342.2,354.9L342.2,354.4L342.2,353.9L342.2,353.4L342.2,352.9L342.2,352.4L342.2,351.9L342.2,351.4L342.2,350.9L342.2,350.4L342.2,349.9L342.2,349.4L342.2,348.9L342.2,348.4L342.2,347.9L342.2,347.4L342.2,346.9L342.2,346.4L342.2,345.9L342.2,345.4L342.2,344.9L342.2,344.4L342.2,343.9L342.2,343.4L342.2,342.9L342.2,342.4L342.2,341.9L342.2,341.4L342.2,340.9L342.2,340.4L342.2,339.9L342.2,339.4L342.2,338.9L342.2,338.4L342.2,337.9L342.2,337.4L342.2,336.9L342.2,336.4L342.3,335.9L342.4,335.4L342.4,334.9L342.5,334.4L342.5,333.9L342.6,333.4Z" fill="url(#vgCD82)" stroke="none"/>
<line x1="340.60" y1="431.30" x2="344.60" y2="431.30" stroke="#2ca02c" stroke-width="1.0" stroke-opacity="0.9"/>
<linearGradient id="vgCD83" gradientUnits="userSpaceOnUse" x1="0" y1="333.4" x2="0" y2="474.5"><stop offset="0" stop-color="#d62728" stop-opacity="0.2"/><stop offset="0.142" stop-color="#d62728" stop-opacity="0.26"/><stop offset="0.354" stop-color="#d62728" stop-opacity="0.34"/><stop offset="0.672" stop-color="#d62728" stop-opacity="0.34"/><stop offset="0.692" stop-color="#d62728" stop-opacity="0.12"/><stop offset="1" stop-color="#d62728" stop-opacity="0.08"/></linearGradient>
<path d="M361.0,333.4L361.1,333.9L361.1,334.4L361.2,334.9L361.3,335.4L361.4,335.9L361.4,336.4L361.4,336.9L361.4,337.4L361.4,337.9L361.4,338.4L361.4,338.9L361.4,339.4L361.4,339.9L361.4,340.4L361.4,340.9L361.4,341.4L361.4,341.9L361.4,342.4L361.4,342.9L361.4,343.4L361.4,343.9L361.4,344.4L361.4,344.9L361.4,345.4L361.4,345.9L361.4,346.4L361.4,346.9L361.4,347.4L361.4,347.9L361.4,348.4L361.4,348.9L361.4,349.4L361.4,349.9L361.4,350.4L361.4,350.9L361.4,351.4L361.4,351.9L361.4,352.4L361.4,352.9L361.4,353.4L361.5,353.9L361.5,354.4L361.5,354.9L361.5,355.4L361.5,355.9L361.5,356.4L361.5,356.9L361.5,357.4L361.5,357.9L361.5,358.4L361.5,358.9L361.5,359.4L361.5,359.9L361.5,360.4L361.5,360.9L361.5,361.4L361.5,361.9L361.5,362.4L361.5,362.9L361.5,363.4L361.5,363.9L361.5,364.4L361.5,364.9L361.5,365.4L361.5,365.9L361.5,366.4L361.5,366.9L361.5,367.4L361.5,367.9L361.5,368.4L361.5,368.9L361.5,369.4L361.5,369.9L361.5,370.4L361.5,370.9L361.5,371.4L361.6,371.9L361.6,372.4L361.6,372.9L361.7,373.4L361.7,373.9L361.8,374.4L361.8,374.9L361.8,375.4L361.9,375.9L361.9,376.4L362.0,376.9L362.0,377.4L362.0,377.9L362.1,378.4L362.1,378.9L362.1,379.4L362.2,379.9L362.2,380.4L362.3,380.9L362.3,381.4L362.3,381.9L362.4,382.4L362.4,382.9L362.5,383.4L362.5,383.9L362.6,384.4L362.6,384.9L362.7,385.4L362.8,385.9L362.8,386.4L362.9,386.9L363.0,387.4L363.0,387.9L363.1,388.4L363.1,388.9L363.2,389.4L363.3,389.9L363.3,390.4L363.4,390.9L363.5,391.4L363.5,391.9L363.6,392.4L363.6,392.9L363.7,393.4L363.7,393.9L363.7,394.4L363.7,394.9L363.8,395.4L363.8,395.9L363.8,396.4L363.9,396.9L363.9,397.4L363.9,397.9L363.9,398.4L364.0,398.9L364.0,399.4L364.0,399.9L364.0,400.4L364.1,400.9L364.1,401.4L364.1,401.9L364.1,402.4L364.1,402.9L364.1,403.4L364.1,403.9L364.1,404.5L364.1,405.0L364.1,405.5L364.2,406.0L364.2,406.5L364.2,407.0L364.2,407.5L364.2,408.0L364.2,408.5L364.2,409.0L364.2,409.5L364.3,410.0L364.3,410.5L364.4,411.0L364.4,411.5L364.5,412.0L364.6,412.5L364.6,413.0L364.7,413.5L364.7,414.0L364.8,414.5L364.8,415.0L364.9,415.5L364.9,416.0L365.0,416.5L365.0,417.0L364.9,417.5L364.8,418.0L364.7,418.5L364.6,419.0L364.5,419.5L364.3,420.0L364.2,420.5L364.0,421.0L363.9,421.5L363.7,422.0L363.6,422.5L363.4,423.0L363.2,423.5L363.1,424.0L362.9,424.5L362.7,425.0L362.5,425.5L362.3,426.0L362.1,426.5L361.9,427.0L361.7,427.5L361.5,428.0L361.4,428.5L361.3,429.0L361.2,429.5L361.2,430.0L361.1,430.5L361.1,431.0L361.1,431.5L361.1,432.0L361.1,432.5L361.1,433.0L361.1,433.5L361.1,434.0L361.1,434.5L361.1,435.0L361.1,435.5L361.1,436.0L361.1,436.5L361.1,437.0L361.1,437.5L361.1,438.0L361.1,438.5L361.1,439.0L361.1,439.5L361.1,440.0L361.1,440.5L361.1,441.0L361.1,441.5L361.1,442.0L361.1,442.5L361.1,443.0L361.1,443.5L361.1,444.0L361.1,444.5L361.1,445.0L361.1,445.5L361.1,446.0L361.1,446.5L361.1,447.0L361.1,447.5L361.1,448.0L361.1,448.5L361.1,449.0L361.1,449.5L361.1,450.0L361.1,450.5L361.1,451.0L361.1,451.5L361.1,452.0L361.1,452.5L361.1,453.0L361.1,453.5L361.1,454.0L361.1,454.5L361.1,455.0L361.1,455.5L361.1,456.0L361.1,456.5L361.1,457.0L361.1,457.5L361.1,458.0L361.1,458.5L361.1,459.0L361.1,459.5L361.1,460.0L361.1,460.5L361.1,461.0L361.1,461.5L361.1,462.0L361.1,462.5L361.1,463.0L361.1,463.5L361.1,464.0L361.1,464.5L361.1,465.0L361.1,465.5L361.1,466.0L361.1,466.5L361.1,467.0L361.1,467.5L361.1,468.0L361.1,468.5L361.1,469.0L361.1,469.5L361.1,470.0L361.1,470.5L361.1,471.0L361.1,471.5L361.1,472.0L361.0,472.5L361.0,473.0L361.0,473.5L361.0,474.0L361.0,474.5L361.0,474.5L361.0,474.0L361.0,473.5L361.0,473.0L361.0,472.5L360.9,472.0L360.9,471.5L360.9,471.0L360.9,470.5L360.9,470.0L360.9,469.5L360.9,469.0L360.9,468.5L360.9,468.0L360.9,467.5L360.9,467.0L360.9,466.5L360.9,466.0L360.9,465.5L360.9,465.0L360.9,464.5L360.9,464.0L360.9,463.5L360.9,463.0L360.9,462.5L360.9,462.0L360.9,461.5L360.9,461.0L360.9,460.5L360.9,460.0L360.9,459.5L360.9,459.0L360.9,458.5L360.9,458.0L360.9,457.5L360.9,457.0L360.9,456.5L360.9,456.0L360.9,455.5L360.9,455.0L360.9,454.5L360.9,454.0L360.9,453.5L360.9,453.0L360.9,452.5L360.9,452.0L360.9,451.5L360.9,451.0L360.9,450.5L360.9,450.0L360.9,449.5L360.9,449.0L360.9,448.5L360.9,448.0L360.9,447.5L360.9,447.0L360.9,446.5L360.9,446.0L360.9,445.5L360.9,445.0L360.9,444.5L360.9,444.0L360.9,443.5L360.9,443.0L360.9,442.5L360.9,442.0L360.9,441.5L360.9,441.0L360.9,440.5L360.9,440.0L360.9,439.5L360.9,439.0L360.9,438.5L360.9,438.0L360.9,437.5L360.9,437.0L360.9,436.5L360.9,436.0L360.9,435.5L360.9,435.0L360.9,434.5L360.9,434.0L360.9,433.5L360.9,433.0L360.9,432.5L360.9,432.0L360.9,431.5L360.9,431.0L360.9,430.5L360.8,430.0L360.8,429.5L360.7,429.0L360.6,428.5L360.5,428.0L360.3,427.5L360.1,427.0L359.9,426.5L359.7,426.0L359.5,425.5L359.3,425.0L359.1,424.5L358.9,424.0L358.8,423.5L358.6,423.0L358.4,422.5L358.3,422.0L358.1,421.5L358.0,421.0L357.8,420.5L357.7,420.0L357.5,419.5L357.4,419.0L357.3,418.5L357.2,418.0L357.1,417.5L357.0,417.0L357.0,416.5L357.1,416.0L357.1,415.5L357.2,415.0L357.2,414.5L357.3,414.0L357.3,413.5L357.4,413.0L357.4,412.5L357.5,412.0L357.6,411.5L357.6,411.0L357.7,410.5L357.7,410.0L357.8,409.5L357.8,409.0L357.8,408.5L357.8,408.0L357.8,407.5L357.8,407.0L357.8,406.5L357.8,406.0L357.9,405.5L357.9,405.0L357.9,404.5L357.9,403.9L357.9,403.4L357.9,402.9L357.9,402.4L357.9,401.9L357.9,401.4L357.9,400.9L358.0,400.4L358.0,399.9L358.0,399.4L358.0,398.9L358.1,398.4L358.1,397.9L358.1,397.4L358.1,396.9L358.2,396.4L358.2,395.9L358.2,395.4L358.3,394.9L358.3,394.4L358.3,393.9L358.3,393.4L358.4,392.9L358.4,392.4L358.5,391.9L358.5,391.4L358.6,390.9L358.7,390.4L358.7,389.9L358.8,389.4L358.9,388.9L358.9,388.4L359.0,387.9L359.0,387.4L359.1,386.9L359.2,386.4L359.2,385.9L359.3,385.4L359.4,384.9L359.4,384.4L359.5,383.9L359.5,383.4L359.6,382.9L359.6,382.4L359.7,381.9L359.7,381.4L359.7,380.9L359.8,380.4L359.8,379.9L359.9,379.4L359.9,378.9L359.9,378.4L360.0,377.9L360.0,377.4L360.0,376.9L360.1,376.4L360.1,375.9L360.2,375.4L360.2,374.9L360.2,374.4L360.3,373.9L360.3,373.4L360.4,372.9L360.4,372.4L360.4,371.9L360.5,371.4L360.5,370.9L360.5,370.4L360.5,369.9L360.5,369.4L360.5,368.9L360.5,368.4L360.5,367.9L360.5,367.4L360.5,366.9L360.5,366.4L360.5,365.9L360.5,365.4L360.5,364.9L360.5,364.4L360.5,363.9L360.5,363.4L360.5,362.9L360.5,362.4L360.5,361.9L360.5,361.4L360.5,360.9L360.5,360.4L360.5,359.9L360.5,359.4L360.5,358.9L360.5,358.4L360.5,357.9L360.5,357.4L360.5,356.9L360.5,356.4L360.5,355.9L360.5,355.4L360.5,354.9L360.5,354.4L360.5,353.9L360.6,353.4L360.6,352.9L360.6,352.4L360.6,351.9L360.6,351.4L360.6,350.9L360.6,350.4L360.6,349.9L360.6,349.4L360.6,348.9L360.6,348.4L360.6,347.9L360.6,347.4L360.6,346.9L360.6,346.4L360.6,345.9L360.6,345.4L360.6,344.9L360.6,344.4L360.6,343.9L360.6,343.4L360.6,342.9L360.6,342.4L360.6,341.9L360.6,341.4L360.6,340.9L360.6,340.4L360.6,339.9L360.6,339.4L360.6,338.9L360.6,338.4L360.6,337.9L360.6,337.4L360.6,336.9L360.6,336.4L360.6,335.9L360.7,335.4L360.8,334.9L360.9,334.4L360.9,333.9L361.0,333.4Z" fill="url(#vgCD83)" stroke="none"/>
<line x1="359.00" y1="408.50" x2="363.00" y2="408.50" stroke="#d62728" stroke-width="1.0" stroke-opacity="0.9"/>
<linearGradient id="vgCD84" gradientUnits="userSpaceOnUse" x1="0" y1="333.4" x2="0" y2="474.5"><stop offset="0" stop-color="#9467bd" stop-opacity="0.2"/><stop offset="0.227" stop-color="#9467bd" stop-opacity="0.26"/><stop offset="0.440" stop-color="#9467bd" stop-opacity="0.34"/><stop offset="0.731" stop-color="#9467bd" stop-opacity="0.34"/><stop offset="0.751" stop-color="#9467bd" stop-opacity="0.12"/><stop offset="1" stop-color="#9467bd" stop-opacity="0.08"/></linearGradient>
<path d="M380.2,333.4L380.3,333.9L380.3,334.4L380.4,334.9L380.5,335.4L380.6,335.9L380.6,336.4L380.6,336.9L380.6,337.4L380.6,337.9L380.6,338.4L380.6,338.9L380.6,339.4L380.6,339.9L380.6,340.4L380.6,340.9L380.6,341.4L380.6,341.9L380.7,342.4L380.7,342.9L380.7,343.4L380.7,343.9L380.7,344.4L380.7,344.9L380.7,345.4L380.7,345.9L380.7,346.4L380.7,346.9L380.7,347.4L380.7,347.9L380.7,348.4L380.7,348.9L380.7,349.4L380.7,349.9L380.7,350.4L380.7,350.9L380.7,351.4L380.7,351.9L380.7,352.4L380.7,352.9L380.7,353.4L380.7,353.9L380.8,354.4L380.8,354.9L380.8,355.4L380.8,355.9L380.8,356.4L380.8,356.9L380.8,357.4L380.8,357.9L380.8,358.4L380.8,358.9L380.8,359.4L380.8,359.9L380.8,360.4L380.8,360.9L380.8,361.4L380.8,361.9L380.8,362.4L380.8,362.9L380.8,363.4L380.8,363.9L380.8,364.4L380.8,364.9L380.8,365.4L380.8,365.9L380.9,366.4L380.9,366.9L380.9,367.4L380.9,367.9L380.9,368.4L380.9,368.9L380.9,369.4L380.9,369.9L380.9,370.4L380.9,370.9L380.9,371.4L380.9,371.9L380.9,372.4L380.9,372.9L380.9,373.4L380.9,373.9L380.9,374.4L380.9,374.9L380.9,375.4L380.9,375.9L380.9,376.4L380.9,376.9L380.9,377.4L380.9,377.9L381.0,378.4L381.0,378.9L381.0,379.4L381.0,379.9L381.0,380.4L381.0,380.9L381.0,381.4L381.0,381.9L381.0,382.4L381.0,382.9L381.0,383.4L381.0,383.9L381.0,384.4L381.0,384.9L381.0,385.4L381.0,385.9L381.0,386.4L381.0,386.9L381.1,387.4L381.1,387.9L381.1,388.4L381.1,388.9L381.1,389.4L381.1,389.9L381.1,390.4L381.1,390.9L381.1,391.4L381.1,391.9L381.1,392.4L381.1,392.9L381.1,393.4L381.1,393.9L381.1,394.4L381.1,394.9L381.2,395.4L381.2,395.9L381.2,396.4L381.2,396.9L381.2,397.4L381.3,397.9L381.3,398.4L381.3,398.9L381.3,399.4L381.3,399.9L381.4,400.4L381.4,400.9L381.4,401.4L381.4,401.9L381.4,402.4L381.5,402.9L381.5,403.4L381.5,403.9L381.5,404.5L381.5,405.0L381.6,405.5L381.6,406.0L381.6,406.5L381.6,407.0L381.7,407.5L381.7,408.0L381.7,408.5L381.8,409.0L381.8,409.5L381.8,410.0L381.9,410.5L381.9,411.0L381.9,411.5L382.0,412.0L382.0,412.5L382.1,413.0L382.1,413.5L382.1,414.0L382.2,414.5L382.2,415.0L382.3,415.5L382.3,416.0L382.4,416.5L382.4,417.0L382.5,417.5L382.7,418.0L382.8,418.5L383.0,419.0L383.2,419.5L383.4,420.0L383.5,420.5L383.7,421.0L383.9,421.5L384.0,422.0L384.2,422.5L384.3,423.0L384.3,423.5L384.3,424.0L384.2,424.5L384.1,425.0L384.0,425.5L383.8,426.0L383.7,426.5L383.6,427.0L383.4,427.5L383.3,428.0L383.2,428.5L383.0,429.0L382.9,429.5L382.8,430.0L382.6,430.5L382.5,431.0L382.3,431.5L382.1,432.0L382.0,432.5L381.8,433.0L381.6,433.5L381.4,434.0L381.3,434.5L381.1,435.0L380.9,435.5L380.8,436.0L380.7,436.5L380.6,437.0L380.5,437.5L380.4,438.0L380.4,438.5L380.3,439.0L380.3,439.5L380.3,440.0L380.3,440.5L380.3,441.0L380.3,441.5L380.3,442.0L380.3,442.5L380.3,443.0L380.3,443.5L380.3,444.0L380.3,444.5L380.3,445.0L380.3,445.5L380.3,446.0L380.3,446.5L380.3,447.0L380.3,447.5L380.3,448.0L380.3,448.5L380.3,449.0L380.3,449.5L380.3,450.0L380.3,450.5L380.3,451.0L380.3,451.5L380.3,452.0L380.3,452.5L380.3,453.0L380.3,453.5L380.3,454.0L380.3,454.5L380.3,455.0L380.3,455.5L380.3,456.0L380.3,456.5L380.3,457.0L380.3,457.5L380.3,458.0L380.3,458.5L380.3,459.0L380.3,459.5L380.3,460.0L380.3,460.5L380.3,461.0L380.3,461.5L380.3,462.0L380.3,462.5L380.3,463.0L380.3,463.5L380.3,464.0L380.3,464.5L380.3,465.0L380.3,465.5L380.3,466.0L380.3,466.5L380.3,467.0L380.3,467.5L380.3,468.0L380.3,468.5L380.3,469.0L380.3,469.5L380.3,470.0L380.3,470.5L380.3,471.0L380.3,471.5L380.3,472.0L380.2,472.5L380.2,473.0L380.2,473.5L380.2,474.0L380.2,474.5L380.2,474.5L380.2,474.0L380.2,473.5L380.2,473.0L380.2,472.5L380.1,472.0L380.1,471.5L380.1,471.0L380.1,470.5L380.1,470.0L380.1,469.5L380.1,469.0L380.1,468.5L380.1,468.0L380.1,467.5L380.1,467.0L380.1,466.5L380.1,466.0L380.1,465.5L380.1,465.0L380.1,464.5L380.1,464.0L380.1,463.5L380.1,463.0L380.1,462.5L380.1,462.0L380.1,461.5L380.1,461.0L380.1,460.5L380.1,460.0L380.1,459.5L380.1,459.0L380.1,458.5L380.1,458.0L380.1,457.5L380.1,457.0L380.1,456.5L380.1,456.0L380.1,455.5L380.1,455.0L380.1,454.5L380.1,454.0L380.1,453.5L380.1,453.0L380.1,452.5L380.1,452.0L380.1,451.5L380.1,451.0L380.1,450.5L380.1,450.0L380.1,449.5L380.1,449.0L380.1,448.5L380.1,448.0L380.1,447.5L380.1,447.0L380.1,446.5L380.1,446.0L380.1,445.5L380.1,445.0L380.1,444.5L380.1,444.0L380.1,443.5L380.1,443.0L380.1,442.5L380.1,442.0L380.1,441.5L380.1,441.0L380.1,440.5L380.1,440.0L380.1,439.5L380.1,439.0L380.0,438.5L380.0,438.0L379.9,437.5L379.8,437.0L379.7,436.5L379.6,436.0L379.5,435.5L379.3,435.0L379.1,434.5L379.0,434.0L378.8,433.5L378.6,433.0L378.4,432.5L378.3,432.0L378.1,431.5L377.9,431.0L377.8,430.5L377.6,430.0L377.5,429.5L377.4,429.0L377.2,428.5L377.1,428.0L377.0,427.5L376.8,427.0L376.7,426.5L376.6,426.0L376.4,425.5L376.3,425.0L376.2,424.5L376.1,424.0L376.1,423.5L376.1,423.0L376.2,422.5L376.4,422.0L376.5,421.5L376.7,421.0L376.9,420.5L377.0,420.0L377.2,419.5L377.4,419.0L377.6,418.5L377.7,418.0L377.9,417.5L378.0,417.0L378.0,416.5L378.1,416.0L378.1,415.5L378.2,415.0L378.2,414.5L378.3,414.0L378.3,413.5L378.3,413.0L378.4,412.5L378.4,412.0L378.5,411.5L378.5,411.0L378.5,410.5L378.6,410.0L378.6,409.5L378.6,409.0L378.7,408.5L378.7,408.0L378.7,407.5L378.8,407.0L378.8,406.5L378.8,406.0L378.8,405.5L378.9,405.0L378.9,404.5L378.9,403.9L378.9,403.4L378.9,402.9L379.0,402.4L379.0,401.9L379.0,401.4L379.0,400.9L379.0,400.4L379.1,399.9L379.1,399.4L379.1,398.9L379.1,398.4L379.1,397.9L379.2,397.4L379.2,396.9L379.2,396.4L379.2,395.9L379.2,395.4L379.3,394.9L379.3,394.4L379.3,393.9L379.3,393.4L379.3,392.9L379.3,392.4L379.3,391.9L379.3,391.4L379.3,390.9L379.3,390.4L379.3,389.9L379.3,389.4L379.3,388.9L379.3,388.4L379.3,387.9L379.3,387.4L379.4,386.9L379.4,386.4L379.4,385.9L379.4,385.4L379.4,384.9L379.4,384.4L379.4,383.9L379.4,383.4L379.4,382.9L379.4,382.4L379.4,381.9L379.4,381.4L379.4,380.9L379.4,380.4L379.4,379.9L379.4,379.4L379.4,378.9L379.4,378.4L379.5,377.9L379.5,377.4L379.5,376.9L379.5,376.4L379.5,375.9L379.5,375.4L379.5,374.9L379.5,374.4L379.5,373.9L379.5,373.4L379.5,372.9L379.5,372.4L379.5,371.9L379.5,371.4L379.5,370.9L379.5,370.4L379.5,369.9L379.5,369.4L379.5,368.9L379.5,368.4L379.5,367.9L379.5,367.4L379.5,366.9L379.5,366.4L379.6,365.9L379.6,365.4L379.6,364.9L379.6,364.4L379.6,363.9L379.6,363.4L379.6,362.9L379.6,362.4L379.6,361.9L379.6,361.4L379.6,360.9L379.6,360.4L379.6,359.9L379.6,359.4L379.6,358.9L379.6,358.4L379.6,357.9L379.6,357.4L379.6,356.9L379.6,356.4L379.6,355.9L379.6,355.4L379.6,354.9L379.6,354.4L379.7,353.9L379.7,353.4L379.7,352.9L379.7,352.4L379.7,351.9L379.7,351.4L379.7,350.9L379.7,350.4L379.7,349.9L379.7,349.4L379.7,348.9L379.7,348.4L379.7,347.9L379.7,347.4L379.7,346.9L379.7,346.4L379.7,345.9L379.7,345.4L379.7,344.9L379.7,344.4L379.7,343.9L379.7,343.4L379.7,342.9L379.7,342.4L379.8,341.9L379.8,341.4L379.8,340.9L379.8,340.4L379.8,339.9L379.8,339.4L379.8,338.9L379.8,338.4L379.8,337.9L379.8,337.4L379.8,336.9L379.8,336.4L379.8,335.9L379.9,335.4L380.0,334.9L380.1,334.4L380.1,333.9L380.2,333.4Z" fill="url(#vgCD84)" stroke="none"/>
<line x1="378.20" y1="416.50" x2="382.20" y2="416.50" stroke="#9467bd" stroke-width="1.0" stroke-opacity="0.9"/>
<linearGradient id="vgCD85" gradientUnits="userSpaceOnUse" x1="0" y1="333.4" x2="0" y2="474.5"><stop offset="0" stop-color="#8c564b" stop-opacity="0.2"/><stop offset="0.056" stop-color="#8c564b" stop-opacity="0.26"/><stop offset="0.269" stop-color="#8c564b" stop-opacity="0.34"/><stop offset="0.663" stop-color="#8c564b" stop-opacity="0.34"/><stop offset="0.683" stop-color="#8c564b" stop-opacity="0.12"/><stop offset="1" stop-color="#8c564b" stop-opacity="0.08"/></linearGradient>
<path d="M399.5,333.4L399.6,333.9L399.7,334.4L399.8,334.9L399.9,335.4L400.0,335.9L400.1,336.4L400.1,336.9L400.1,337.4L400.1,337.9L400.1,338.4L400.1,338.9L400.1,339.4L400.2,339.9L400.2,340.4L400.2,340.9L400.2,341.4L400.2,341.9L400.2,342.4L400.2,342.9L400.2,343.4L400.2,343.9L400.2,344.4L400.2,344.9L400.2,345.4L400.2,345.9L400.2,346.4L400.2,346.9L400.3,347.4L400.3,347.9L400.3,348.4L400.3,348.9L400.3,349.4L400.3,349.9L400.3,350.4L400.3,350.9L400.3,351.4L400.3,351.9L400.3,352.4L400.3,352.9L400.3,353.4L400.3,353.9L400.3,354.4L400.3,354.9L400.3,355.4L400.3,355.9L400.3,356.4L400.3,356.9L400.3,357.4L400.3,357.9L400.3,358.4L400.3,358.9L400.4,359.4L400.4,359.9L400.4,360.4L400.4,360.9L400.4,361.4L400.4,361.9L400.4,362.4L400.4,362.9L400.4,363.4L400.4,363.9L400.4,364.4L400.4,364.9L400.4,365.4L400.4,365.9L400.4,366.4L400.4,366.9L400.4,367.4L400.4,367.9L400.4,368.4L400.4,368.9L400.4,369.4L400.4,369.9L400.4,370.4L400.5,370.9L400.5,371.4L400.5,371.9L400.5,372.4L400.5,372.9L400.5,373.4L400.6,373.9L400.6,374.4L400.6,374.9L400.6,375.4L400.6,375.9L400.6,376.4L400.7,376.9L400.7,377.4L400.7,377.9L400.7,378.4L400.7,378.9L400.8,379.4L400.8,379.9L400.8,380.4L400.8,380.9L400.8,381.4L400.9,381.9L400.9,382.4L400.9,382.9L400.9,383.4L400.9,383.9L401.0,384.4L401.0,384.9L401.0,385.4L401.0,385.9L401.0,386.4L401.1,386.9L401.1,387.4L401.1,387.9L401.1,388.4L401.1,388.9L401.2,389.4L401.2,389.9L401.2,390.4L401.2,390.9L401.3,391.4L401.3,391.9L401.3,392.4L401.3,392.9L401.4,393.4L401.4,393.9L401.4,394.4L401.5,394.9L401.5,395.4L401.5,395.9L401.5,396.4L401.6,396.9L401.6,397.4L401.6,397.9L401.7,398.4L401.7,398.9L401.7,399.4L401.7,399.9L401.8,400.4L401.8,400.9L401.8,401.4L401.9,401.9L401.9,402.4L401.9,402.9L402.0,403.4L402.0,403.9L402.0,404.5L402.1,405.0L402.1,405.5L402.1,406.0L402.2,406.5L402.2,407.0L402.3,407.5L402.4,408.0L402.4,408.5L402.5,409.0L402.6,409.5L402.7,410.0L402.7,410.5L402.8,411.0L402.9,411.5L402.9,412.0L403.0,412.5L403.1,413.0L403.1,413.5L403.2,414.0L403.2,414.5L403.2,415.0L403.1,415.5L403.0,416.0L402.9,416.5L402.8,417.0L402.7,417.5L402.5,418.0L402.4,418.5L402.3,419.0L402.1,419.5L402.0,420.0L401.9,420.5L401.7,421.0L401.6,421.5L401.5,422.0L401.3,422.5L401.2,423.0L401.0,423.5L400.8,424.0L400.7,424.5L400.5,425.0L400.4,425.5L400.2,426.0L400.1,426.5L399.9,427.0L399.8,427.5L399.8,428.0L399.7,428.5L399.6,429.0L399.6,429.5L399.6,430.0L399.6,430.5L399.6,431.0L399.6,431.5L399.6,432.0L399.6,432.5L399.6,433.0L399.6,433.5L399.6,434.0L399.6,434.5L399.6,435.0L399.6,435.5L399.6,436.0L399.6,436.5L399.6,437.0L399.6,437.5L399.6,438.0L399.6,438.5L399.6,439.0L399.6,439.5L399.6,440.0L399.6,440.5L399.6,441.0L399.6,441.5L399.6,442.0L399.6,442.5L399.6,443.0L399.6,443.5L399.6,444.0L399.6,444.5L399.6,445.0L399.6,445.5L399.6,446.0L399.6,446.5L399.6,447.0L399.6,447.5L399.6,448.0L399.6,448.5L399.6,449.0L399.6,449.5L399.6,450.0L399.6,450.5L399.6,451.0L399.6,451.5L399.6,452.0L399.6,452.5L399.6,453.0L399.6,453.5L399.6,454.0L399.6,454.5L399.6,455.0L399.6,455.5L399.6,456.0L399.6,456.5L399.6,457.0L399.6,457.5L399.6,458.0L399.6,458.5L399.6,459.0L399.6,459.5L399.6,460.0L399.6,460.5L399.6,461.0L399.6,461.5L399.6,462.0L399.6,462.5L399.6,463.0L399.6,463.5L399.6,464.0L399.6,464.5L399.6,465.0L399.6,465.5L399.6,466.0L399.6,466.5L399.6,467.0L399.6,467.5L399.6,468.0L399.6,468.5L399.6,469.0L399.6,469.5L399.6,470.0L399.6,470.5L399.6,471.0L399.6,471.5L399.6,472.0L399.5,472.5L399.5,473.0L399.5,473.5L399.5,474.0L399.5,474.5L399.5,474.5L399.5,474.0L399.5,473.5L399.5,473.0L399.5,472.5L399.4,472.0L399.4,471.5L399.4,471.0L399.4,470.5L399.4,470.0L399.4,469.5L399.4,469.0L399.4,468.5L399.4,468.0L399.4,467.5L399.4,467.0L399.4,466.5L399.4,466.0L399.4,465.5L399.4,465.0L399.4,464.5L399.4,464.0L399.4,463.5L399.4,463.0L399.4,462.5L399.4,462.0L399.4,461.5L399.4,461.0L399.4,460.5L399.4,460.0L399.4,459.5L399.4,459.0L399.4,458.5L399.4,458.0L399.4,457.5L399.4,457.0L399.4,456.5L399.4,456.0L399.4,455.5L399.4,455.0L399.4,454.5L399.4,454.0L399.4,453.5L399.4,453.0L399.4,452.5L399.4,452.0L399.4,451.5L399.4,451.0L399.4,450.5L399.4,450.0L399.4,449.5L399.4,449.0L399.4,448.5L399.4,448.0L399.4,447.5L399.4,447.0L399.4,446.5L399.4,446.0L399.4,445.5L399.4,445.0L399.4,444.5L399.4,444.0L399.4,443.5L399.4,443.0L399.4,442.5L399.4,442.0L399.4,441.5L399.4,441.0L399.4,440.5L399.4,440.0L399.4,439.5L399.4,439.0L399.4,438.5L399.4,438.0L399.4,437.5L399.4,437.0L399.4,436.5L399.4,436.0L399.4,435.5L399.4,435.0L399.4,434.5L399.4,434.0L399.4,433.5L399.4,433.0L399.4,432.5L399.4,432.0L399.4,431.5L399.4,431.0L399.4,430.5L399.4,430.0L399.4,429.5L399.4,429.0L399.3,428.5L399.2,428.0L399.2,427.5L399.1,427.0L398.9,426.5L398.8,426.0L398.6,425.5L398.5,425.0L398.3,424.5L398.2,424.0L398.0,423.5L397.8,423.0L397.7,422.5L397.5,422.0L397.4,421.5L397.3,421.0L397.1,420.5L397.0,420.0L396.9,419.5L396.7,419.0L396.6,418.5L396.5,418.0L396.3,417.5L396.2,417.0L396.1,416.5L396.0,416.0L395.9,415.5L395.8,415.0L395.8,414.5L395.8,414.0L395.9,413.5L395.9,413.0L396.0,412.5L396.1,412.0L396.1,411.5L396.2,411.0L396.3,410.5L396.3,410.0L396.4,409.5L396.5,409.0L396.6,408.5L396.6,408.0L396.7,407.5L396.8,407.0L396.8,406.5L396.9,406.0L396.9,405.5L396.9,405.0L397.0,404.5L397.0,403.9L397.0,403.4L397.1,402.9L397.1,402.4L397.1,401.9L397.2,401.4L397.2,400.9L397.2,400.4L397.3,399.9L397.3,399.4L397.3,398.9L397.3,398.4L397.4,397.9L397.4,397.4L397.4,396.9L397.5,396.4L397.5,395.9L397.5,395.4L397.5,394.9L397.6,394.4L397.6,393.9L397.6,393.4L397.7,392.9L397.7,392.4L397.7,391.9L397.7,391.4L397.8,390.9L397.8,390.4L397.8,389.9L397.8,389.4L397.9,388.9L397.9,388.4L397.9,387.9L397.9,387.4L397.9,386.9L398.0,386.4L398.0,385.9L398.0,385.4L398.0,384.9L398.0,384.4L398.1,383.9L398.1,383.4L398.1,382.9L398.1,382.4L398.1,381.9L398.2,381.4L398.2,380.9L398.2,380.4L398.2,379.9L398.2,379.4L398.3,378.9L398.3,378.4L398.3,377.9L398.3,377.4L398.3,376.9L398.4,376.4L398.4,375.9L398.4,375.4L398.4,374.9L398.4,374.4L398.4,373.9L398.5,373.4L398.5,372.9L398.5,372.4L398.5,371.9L398.5,371.4L398.5,370.9L398.6,370.4L398.6,369.9L398.6,369.4L398.6,368.9L398.6,368.4L398.6,367.9L398.6,367.4L398.6,366.9L398.6,366.4L398.6,365.9L398.6,365.4L398.6,364.9L398.6,364.4L398.6,363.9L398.6,363.4L398.6,362.9L398.6,362.4L398.6,361.9L398.6,361.4L398.6,360.9L398.6,360.4L398.6,359.9L398.6,359.4L398.7,358.9L398.7,358.4L398.7,357.9L398.7,357.4L398.7,356.9L398.7,356.4L398.7,355.9L398.7,355.4L398.7,354.9L398.7,354.4L398.7,353.9L398.7,353.4L398.7,352.9L398.7,352.4L398.7,351.9L398.7,351.4L398.7,350.9L398.7,350.4L398.7,349.9L398.7,349.4L398.7,348.9L398.7,348.4L398.7,347.9L398.7,347.4L398.8,346.9L398.8,346.4L398.8,345.9L398.8,345.4L398.8,344.9L398.8,344.4L398.8,343.9L398.8,343.4L398.8,342.9L398.8,342.4L398.8,341.9L398.8,341.4L398.8,340.9L398.8,340.4L398.8,339.9L398.9,339.4L398.9,338.9L398.9,338.4L398.9,337.9L398.9,337.4L398.9,336.9L398.9,336.4L399.0,335.9L399.1,335.4L399.2,334.9L399.3,334.4L399.4,333.9L399.5,333.4Z" fill="url(#vgCD85)" stroke="none"/>
<line x1="397.50" y1="406.40" x2="401.50" y2="406.40" stroke="#8c564b" stroke-width="1.0" stroke-opacity="0.9"/>
<linearGradient id="vgCD86" gradientUnits="userSpaceOnUse" x1="0" y1="333.4" x2="0" y2="474.5"><stop offset="0" stop-color="#e377c2" stop-opacity="0.2"/><stop offset="0.141" stop-color="#e377c2" stop-opacity="0.26"/><stop offset="0.354" stop-color="#e377c2" stop-opacity="0.34"/><stop offset="0.636" stop-color="#e377c2" stop-opacity="0.34"/><stop offset="0.656" stop-color="#e377c2" stop-opacity="0.12"/><stop offset="1" stop-color="#e377c2" stop-opacity="0.08"/></linearGradient>
<path d="M418.3,333.4L418.4,333.9L418.4,334.4L418.5,334.9L418.6,335.4L418.7,335.9L418.7,336.4L418.7,336.9L418.7,337.4L418.7,337.9L418.7,338.4L418.7,338.9L418.7,339.4L418.7,339.9L418.7,340.4L418.7,340.9L418.7,341.4L418.7,341.9L418.7,342.4L418.7,342.9L418.7,343.4L418.7,343.9L418.7,344.4L418.7,344.9L418.7,345.4L418.7,345.9L418.7,346.4L418.7,346.9L418.7,347.4L418.7,347.9L418.7,348.4L418.7,348.9L418.7,349.4L418.7,349.9L418.7,350.4L418.7,350.9L418.7,351.4L418.7,351.9L418.7,352.4L418.7,352.9L418.7,353.4L418.8,353.9L418.8,354.4L418.8,354.9L418.8,355.4L418.8,355.9L418.8,356.4L418.8,356.9L418.8,357.4L418.8,357.9L418.8,358.4L418.8,358.9L418.8,359.4L418.8,359.9L418.8,360.4L418.8,360.9L418.8,361.4L418.8,361.9L418.8,362.4L418.8,362.9L418.8,363.4L418.8,363.9L418.8,364.4L418.8,364.9L418.8,365.4L418.8,365.9L418.8,366.4L418.8,366.9L418.8,367.4L418.8,367.9L418.8,368.4L418.8,368.9L418.8,369.4L418.8,369.9L418.8,370.4L418.8,370.9L418.9,371.4L418.9,371.9L419.0,372.4L419.0,372.9L419.1,373.4L419.1,373.9L419.2,374.4L419.3,374.9L419.3,375.4L419.4,375.9L419.4,376.4L419.5,376.9L419.6,377.4L419.6,377.9L419.7,378.4L419.7,378.9L419.8,379.4L419.9,379.9L419.9,380.4L420.0,380.9L420.0,381.4L420.1,381.9L420.2,382.4L420.2,382.9L420.3,383.4L420.4,383.9L420.4,384.4L420.5,384.9L420.6,385.4L420.6,385.9L420.7,386.4L420.8,386.9L420.9,387.4L420.9,387.9L421.0,388.4L421.1,388.9L421.2,389.4L421.2,389.9L421.3,390.4L421.4,390.9L421.5,391.4L421.5,391.9L421.6,392.4L421.6,392.9L421.7,393.4L421.7,393.9L421.7,394.4L421.8,394.9L421.8,395.4L421.8,395.9L421.8,396.4L421.8,396.9L421.8,397.4L421.8,397.9L421.8,398.4L421.9,398.9L421.9,399.4L421.8,399.9L421.8,400.4L421.8,400.9L421.7,401.4L421.6,401.9L421.6,402.4L421.5,402.9L421.4,403.4L421.3,403.9L421.3,404.5L421.2,405.0L421.1,405.5L421.0,406.0L421.0,406.5L420.9,407.0L420.8,407.5L420.8,408.0L420.7,408.5L420.6,409.0L420.5,409.5L420.5,410.0L420.4,410.5L420.3,411.0L420.2,411.5L420.2,412.0L420.1,412.5L420.0,413.0L419.9,413.5L419.9,414.0L419.8,414.5L419.7,415.0L419.7,415.5L419.6,416.0L419.5,416.5L419.4,417.0L419.4,417.5L419.3,418.0L419.2,418.5L419.1,419.0L419.1,419.5L419.0,420.0L418.9,420.5L418.9,421.0L418.8,421.5L418.7,422.0L418.7,422.5L418.6,423.0L418.5,423.5L418.5,424.0L418.4,424.5L418.4,425.0L418.4,425.5L418.4,426.0L418.4,426.5L418.4,427.0L418.4,427.5L418.4,428.0L418.4,428.5L418.4,429.0L418.4,429.5L418.4,430.0L418.4,430.5L418.4,431.0L418.4,431.5L418.4,432.0L418.4,432.5L418.4,433.0L418.4,433.5L418.4,434.0L418.4,434.5L418.4,435.0L418.4,435.5L418.4,436.0L418.4,436.5L418.4,437.0L418.4,437.5L418.4,438.0L418.4,438.5L418.4,439.0L418.4,439.5L418.4,440.0L418.4,440.5L418.4,441.0L418.4,441.5L418.4,442.0L418.4,442.5L418.4,443.0L418.4,443.5L418.4,444.0L418.4,444.5L418.4,445.0L418.4,445.5L418.4,446.0L418.4,446.5L418.4,447.0L418.4,447.5L418.4,448.0L418.4,448.5L418.4,449.0L418.4,449.5L418.4,450.0L418.4,450.5L418.4,451.0L418.4,451.5L418.4,452.0L418.4,452.5L418.4,453.0L418.4,453.5L418.4,454.0L418.4,454.5L418.4,455.0L418.4,455.5L418.4,456.0L418.4,456.5L418.4,457.0L418.4,457.5L418.4,458.0L418.4,458.5L418.4,459.0L418.4,459.5L418.4,460.0L418.4,460.5L418.4,461.0L418.4,461.5L418.4,462.0L418.4,462.5L418.4,463.0L418.4,463.5L418.4,464.0L418.4,464.5L418.4,465.0L418.4,465.5L418.4,466.0L418.4,466.5L418.4,467.0L418.4,467.5L418.4,468.0L418.4,468.5L418.4,469.0L418.4,469.5L418.4,470.0L418.4,470.5L418.4,471.0L418.4,471.5L418.4,472.0L418.3,472.5L418.3,473.0L418.3,473.5L418.3,474.0L418.3,474.5L418.3,474.5L418.3,474.0L418.3,473.5L418.3,473.0L418.3,472.5L418.2,472.0L418.2,471.5L418.2,471.0L418.2,470.5L418.2,470.0L418.2,469.5L418.2,469.0L418.2,468.5L418.2,468.0L418.2,467.5L418.2,467.0L418.2,466.5L418.2,466.0L418.2,465.5L418.2,465.0L418.2,464.5L418.2,464.0L418.2,463.5L418.2,463.0L418.2,462.5L418.2,462.0L418.2,461.5L418.2,461.0L418.2,460.5L418.2,460.0L418.2,459.5L418.2,459.0L418.2,458.5L418.2,458.0L418.2,457.5L418.2,457.0L418.2,456.5L418.2,456.0L418.2,455.5L418.2,455.0L418.2,454.5L418.2,454.0L418.2,453.5L418.2,453.0L418.2,452.5L418.2,452.0L418.2,451.5L418.2,451.0L418.2,450.5L418.2,450.0L418.2,449.5L418.2,449.0L418.2,448.5L418.2,448.0L418.2,447.5L418.2,447.0L418.2,446.5L418.2,446.0L418.2,445.5L418.2,445.0L418.2,444.5L418.2,444.0L418.2,443.5L418.2,443.0L418.2,442.5L418.2,442.0L418.2,441.5L418.2,441.0L418.2,440.5L418.2,440.0L418.2,439.5L418.2,439.0L418.2,438.5L418.2,438.0L418.2,437.5L418.2,437.0L418.2,436.5L418.2,436.0L418.2,435.5L418.2,435.0L418.2,434.5L418.2,434.0L418.2,433.5L418.2,433.0L418.2,432.5L418.2,432.0L418.2,431.5L418.2,431.0L418.2,430.5L418.2,430.0L418.2,429.5L418.2,429.0L418.2,428.5L418.2,428.0L418.2,427.5L418.2,427.0L418.2,426.5L418.2,426.0L418.2,425.5L418.2,425.0L418.2,424.5L418.1,424.0L418.1,423.5L418.0,423.0L417.9,422.5L417.9,422.0L417.8,421.5L417.7,421.0L417.7,420.5L417.6,420.0L417.5,419.5L417.5,419.0L417.4,418.5L417.3,418.0L417.2,417.5L417.2,417.0L417.1,416.5L417.0,416.0L416.9,415.5L416.9,415.0L416.8,414.5L416.7,414.0L416.7,413.5L416.6,413.0L416.5,412.5L416.4,412.0L416.4,411.5L416.3,411.0L416.2,410.5L416.1,410.0L416.1,409.5L416.0,409.0L415.9,408.5L415.8,408.0L415.8,407.5L415.7,407.0L415.6,406.5L415.6,406.0L415.5,405.5L415.4,405.0L415.3,404.5L415.3,403.9L415.2,403.4L415.1,402.9L415.0,402.4L415.0,401.9L414.9,401.4L414.8,400.9L414.8,400.4L414.8,399.9L414.7,399.4L414.7,398.9L414.8,398.4L414.8,397.9L414.8,397.4L414.8,396.9L414.8,396.4L414.8,395.9L414.8,395.4L414.8,394.9L414.9,394.4L414.9,393.9L414.9,393.4L415.0,392.9L415.0,392.4L415.1,391.9L415.1,391.4L415.2,390.9L415.3,390.4L415.4,389.9L415.4,389.4L415.5,388.9L415.6,388.4L415.7,387.9L415.7,387.4L415.8,386.9L415.9,386.4L416.0,385.9L416.0,385.4L416.1,384.9L416.2,384.4L416.2,383.9L416.3,383.4L416.4,382.9L416.4,382.4L416.5,381.9L416.6,381.4L416.6,380.9L416.7,380.4L416.7,379.9L416.8,379.4L416.9,378.9L416.9,378.4L417.0,377.9L417.0,377.4L417.1,376.9L417.2,376.4L417.2,375.9L417.3,375.4L417.3,374.9L417.4,374.4L417.5,373.9L417.5,373.4L417.6,372.9L417.6,372.4L417.7,371.9L417.7,371.4L417.8,370.9L417.8,370.4L417.8,369.9L417.8,369.4L417.8,368.9L417.8,368.4L417.8,367.9L417.8,367.4L417.8,366.9L417.8,366.4L417.8,365.9L417.8,365.4L417.8,364.9L417.8,364.4L417.8,363.9L417.8,363.4L417.8,362.9L417.8,362.4L417.8,361.9L417.8,361.4L417.8,360.9L417.8,360.4L417.8,359.9L417.8,359.4L417.8,358.9L417.8,358.4L417.8,357.9L417.8,357.4L417.8,356.9L417.8,356.4L417.8,355.9L417.8,355.4L417.8,354.9L417.8,354.4L417.8,353.9L417.9,353.4L417.9,352.9L417.9,352.4L417.9,351.9L417.9,351.4L417.9,350.9L417.9,350.4L417.9,349.9L417.9,349.4L417.9,348.9L417.9,348.4L417.9,347.9L417.9,347.4L417.9,346.9L417.9,346.4L417.9,345.9L417.9,345.4L417.9,344.9L417.9,344.4L417.9,343.9L417.9,343.4L417.9,342.9L417.9,342.4L417.9,341.9L417.9,341.4L417.9,340.9L417.9,340.4L417.9,339.9L417.9,339.4L417.9,338.9L417.9,338.4L417.9,337.9L417.9,337.4L417.9,336.9L417.9,336.4L417.9,335.9L418.0,335.4L418.1,334.9L418.2,334.4L418.2,333.9L418.3,333.4Z" fill="url(#vgCD86)" stroke="none"/>
<line x1="416.30" y1="400.50" x2="420.30" y2="400.50" stroke="#e377c2" stroke-width="1.0" stroke-opacity="0.9"/>
<linearGradient id="vgCD87" gradientUnits="userSpaceOnUse" x1="0" y1="333.4" x2="0" y2="474.5"><stop offset="0" stop-color="#7f7f7f" stop-opacity="0.2"/><stop offset="0.089" stop-color="#7f7f7f" stop-opacity="0.26"/><stop offset="0.302" stop-color="#7f7f7f" stop-opacity="0.34"/><stop offset="0.739" stop-color="#7f7f7f" stop-opacity="0.34"/><stop offset="0.759" stop-color="#7f7f7f" stop-opacity="0.12"/><stop offset="1" stop-color="#7f7f7f" stop-opacity="0.08"/></linearGradient>
<path d="M437.2,333.4L437.3,333.9L437.3,334.4L437.4,334.9L437.5,335.4L437.6,335.9L437.6,336.4L437.6,336.9L437.6,337.4L437.6,337.9L437.6,338.4L437.6,338.9L437.6,339.4L437.6,339.9L437.6,340.4L437.6,340.9L437.6,341.4L437.6,341.9L437.6,342.4L437.6,342.9L437.6,343.4L437.6,343.9L437.6,344.4L437.6,344.9L437.6,345.4L437.6,345.9L437.6,346.4L437.6,346.9L437.6,347.4L437.6,347.9L437.6,348.4L437.6,348.9L437.6,349.4L437.6,349.9L437.6,350.4L437.6,350.9L437.7,351.4L437.7,351.9L437.7,352.4L437.7,352.9L437.7,353.4L437.7,353.9L437.7,354.4L437.7,354.9L437.7,355.4L437.7,355.9L437.7,356.4L437.7,356.9L437.7,357.4L437.7,357.9L437.7,358.4L437.7,358.9L437.7,359.4L437.7,359.9L437.7,360.4L437.7,360.9L437.7,361.4L437.7,361.9L437.7,362.4L437.7,362.9L437.7,363.4L437.7,363.9L437.7,364.4L437.7,364.9L437.7,365.4L437.7,365.9L437.7,366.4L437.8,366.9L437.8,367.4L437.8,367.9L437.8,368.4L437.9,368.9L437.9,369.4L438.0,369.9L438.0,370.4L438.0,370.9L438.1,371.4L438.1,371.9L438.1,372.4L438.2,372.9L438.2,373.4L438.2,373.9L438.3,374.4L438.3,374.9L438.4,375.4L438.4,375.9L438.4,376.4L438.5,376.9L438.5,377.4L438.6,377.9L438.6,378.4L438.7,378.9L438.7,379.4L438.8,379.9L438.8,380.4L438.9,380.9L438.9,381.4L439.0,381.9L439.0,382.4L439.1,382.9L439.1,383.4L439.2,383.9L439.2,384.4L439.3,384.9L439.3,385.4L439.4,385.9L439.4,386.4L439.5,386.9L439.5,387.4L439.6,387.9L439.6,388.4L439.6,388.9L439.6,389.4L439.6,389.9L439.6,390.4L439.7,390.9L439.7,391.4L439.7,391.9L439.7,392.4L439.7,392.9L439.7,393.4L439.7,393.9L439.7,394.4L439.7,394.9L439.8,395.4L439.8,395.9L439.8,396.4L439.8,396.9L439.8,397.4L439.8,397.9L439.8,398.4L439.8,398.9L439.8,399.4L439.8,399.9L439.8,400.4L439.8,400.9L439.8,401.4L439.8,401.9L439.8,402.4L439.8,402.9L439.8,403.4L439.8,403.9L439.7,404.5L439.7,405.0L439.7,405.5L439.7,406.0L439.7,406.5L439.7,407.0L439.7,407.5L439.7,408.0L439.6,408.5L439.6,409.0L439.6,409.5L439.6,410.0L439.6,410.5L439.7,411.0L439.7,411.5L439.7,412.0L439.8,412.5L439.8,413.0L439.8,413.5L439.9,414.0L439.9,414.5L440.0,415.0L440.0,415.5L440.1,416.0L440.1,416.5L440.1,417.0L440.2,417.5L440.2,418.0L440.3,418.5L440.3,419.0L440.4,419.5L440.4,420.0L440.5,420.5L440.5,421.0L440.6,421.5L440.7,422.0L440.7,422.5L440.8,423.0L440.9,423.5L440.9,424.0L441.0,424.5L441.1,425.0L441.1,425.5L441.1,426.0L441.1,426.5L441.1,427.0L441.0,427.5L440.9,428.0L440.8,428.5L440.6,429.0L440.4,429.5L440.3,430.0L440.1,430.5L440.0,431.0L439.8,431.5L439.6,432.0L439.5,432.5L439.3,433.0L439.1,433.5L439.0,434.0L438.8,434.5L438.6,435.0L438.5,435.5L438.3,436.0L438.1,436.5L438.0,437.0L437.8,437.5L437.7,438.0L437.6,438.5L437.5,439.0L437.4,439.5L437.4,440.0L437.3,440.5L437.3,441.0L437.3,441.5L437.3,442.0L437.3,442.5L437.3,443.0L437.3,443.5L437.3,444.0L437.3,444.5L437.3,445.0L437.3,445.5L437.3,446.0L437.3,446.5L437.3,447.0L437.3,447.5L437.3,448.0L437.3,448.5L437.3,449.0L437.3,449.5L437.3,450.0L437.3,450.5L437.3,451.0L437.3,451.5L437.3,452.0L437.3,452.5L437.3,453.0L437.3,453.5L437.3,454.0L437.3,454.5L437.3,455.0L437.3,455.5L437.3,456.0L437.3,456.5L437.3,457.0L437.3,457.5L437.3,458.0L437.3,458.5L437.3,459.0L437.3,459.5L437.3,460.0L437.3,460.5L437.3,461.0L437.3,461.5L437.3,462.0L437.3,462.5L437.3,463.0L437.3,463.5L437.3,464.0L437.3,464.5L437.3,465.0L437.3,465.5L437.3,466.0L437.3,466.5L437.3,467.0L437.3,467.5L437.3,468.0L437.3,468.5L437.3,469.0L437.3,469.5L437.3,470.0L437.3,470.5L437.3,471.0L437.3,471.5L437.3,472.0L437.2,472.5L437.2,473.0L437.2,473.5L437.2,474.0L437.2,474.5L437.2,474.5L437.2,474.0L437.2,473.5L437.2,473.0L437.2,472.5L437.1,472.0L437.1,471.5L437.1,471.0L437.1,470.5L437.1,470.0L437.1,469.5L437.1,469.0L437.1,468.5L437.1,468.0L437.1,467.5L437.1,467.0L437.1,466.5L437.1,466.0L437.1,465.5L437.1,465.0L437.1,464.5L437.1,464.0L437.1,463.5L437.1,463.0L437.1,462.5L437.1,462.0L437.1,461.5L437.1,461.0L437.1,460.5L437.1,460.0L437.1,459.5L437.1,459.0L437.1,458.5L437.1,458.0L437.1,457.5L437.1,457.0L437.1,456.5L437.1,456.0L437.1,455.5L437.1,455.0L437.1,454.5L437.1,454.0L437.1,453.5L437.1,453.0L437.1,452.5L437.1,452.0L437.1,451.5L437.1,451.0L437.1,450.5L437.1,450.0L437.1,449.5L437.1,449.0L437.1,448.5L437.1,448.0L437.1,447.5L437.1,447.0L437.1,446.5L437.1,446.0L437.1,445.5L437.1,445.0L437.1,444.5L437.1,444.0L437.1,443.5L437.1,443.0L437.1,442.5L437.1,442.0L437.1,441.5L437.1,441.0L437.1,440.5L437.0,440.0L437.0,439.5L436.9,439.0L436.8,438.5L436.7,438.0L436.6,437.5L436.4,437.0L436.3,436.5L436.1,436.0L435.9,435.5L435.8,435.0L435.6,434.5L435.4,434.0L435.3,433.5L435.1,433.0L434.9,432.5L434.8,432.0L434.6,431.5L434.4,431.0L434.3,430.5L434.1,430.0L434.0,429.5L433.8,429.0L433.6,428.5L433.5,428.0L433.4,427.5L433.3,427.0L433.3,426.5L433.3,426.0L433.3,425.5L433.3,425.0L433.4,424.5L433.5,424.0L433.5,423.5L433.6,423.0L433.7,422.5L433.7,422.0L433.8,421.5L433.9,421.0L433.9,420.5L434.0,420.0L434.0,419.5L434.1,419.0L434.1,418.5L434.2,418.0L434.2,417.5L434.3,417.0L434.3,416.5L434.3,416.0L434.4,415.5L434.4,415.0L434.5,414.5L434.5,414.0L434.6,413.5L434.6,413.0L434.6,412.5L434.7,412.0L434.7,411.5L434.7,411.0L434.8,410.5L434.8,410.0L434.8,409.5L434.8,409.0L434.8,408.5L434.7,408.0L434.7,407.5L434.7,407.0L434.7,406.5L434.7,406.0L434.7,405.5L434.7,405.0L434.7,404.5L434.6,403.9L434.6,403.4L434.6,402.9L434.6,402.4L434.6,401.9L434.6,401.4L434.6,400.9L434.6,400.4L434.6,399.9L434.6,399.4L434.6,398.9L434.6,398.4L434.6,397.9L434.6,397.4L434.6,396.9L434.6,396.4L434.6,395.9L434.6,395.4L434.7,394.9L434.7,394.4L434.7,393.9L434.7,393.4L434.7,392.9L434.7,392.4L434.7,391.9L434.7,391.4L434.7,390.9L434.8,390.4L434.8,389.9L434.8,389.4L434.8,388.9L434.8,388.4L434.8,387.9L434.9,387.4L434.9,386.9L435.0,386.4L435.0,385.9L435.1,385.4L435.1,384.9L435.2,384.4L435.2,383.9L435.3,383.4L435.3,382.9L435.4,382.4L435.4,381.9L435.5,381.4L435.5,380.9L435.6,380.4L435.6,379.9L435.7,379.4L435.7,378.9L435.8,378.4L435.8,377.9L435.9,377.4L435.9,376.9L436.0,376.4L436.0,375.9L436.0,375.4L436.1,374.9L436.1,374.4L436.2,373.9L436.2,373.4L436.2,372.9L436.3,372.4L436.3,371.9L436.3,371.4L436.4,370.9L436.4,370.4L436.4,369.9L436.5,369.4L436.5,368.9L436.6,368.4L436.6,367.9L436.6,367.4L436.6,366.9L436.7,366.4L436.7,365.9L436.7,365.4L436.7,364.9L436.7,364.4L436.7,363.9L436.7,363.4L436.7,362.9L436.7,362.4L436.7,361.9L436.7,361.4L436.7,360.9L436.7,360.4L436.7,359.9L436.7,359.4L436.7,358.9L436.7,358.4L436.7,357.9L436.7,357.4L436.7,356.9L436.7,356.4L436.7,355.9L436.7,355.4L436.7,354.9L436.7,354.4L436.7,353.9L436.7,353.4L436.7,352.9L436.7,352.4L436.7,351.9L436.7,351.4L436.8,350.9L436.8,350.4L436.8,349.9L436.8,349.4L436.8,348.9L436.8,348.4L436.8,347.9L436.8,347.4L436.8,346.9L436.8,346.4L436.8,345.9L436.8,345.4L436.8,344.9L436.8,344.4L436.8,343.9L436.8,343.4L436.8,342.9L436.8,342.4L436.8,341.9L436.8,341.4L436.8,340.9L436.8,340.4L436.8,339.9L436.8,339.4L436.8,338.9L436.8,338.4L436.8,337.9L436.8,337.4L436.8,336.9L436.8,336.4L436.8,335.9L436.9,335.4L437.0,334.9L437.1,334.4L437.1,333.9L437.2,333.4Z" fill="url(#vgCD87)" stroke="none"/>
<line x1="435.20" y1="410.00" x2="439.20" y2="410.00" stroke="#7f7f7f" stroke-width="1.0" stroke-opacity="0.9"/>
<linearGradient id="vgCD88" gradientUnits="userSpaceOnUse" x1="0" y1="333.4" x2="0" y2="474.5"><stop offset="0" stop-color="#bcbd22" stop-opacity="0.2"/><stop offset="0.107" stop-color="#bcbd22" stop-opacity="0.26"/><stop offset="0.320" stop-color="#bcbd22" stop-opacity="0.34"/><stop offset="0.731" stop-color="#bcbd22" stop-opacity="0.34"/><stop offset="0.751" stop-color="#bcbd22" stop-opacity="0.12"/><stop offset="1" stop-color="#bcbd22" stop-opacity="0.08"/></linearGradient>
<path d="M456.0,333.4L456.1,333.9L456.2,334.4L456.3,334.9L456.5,335.4L456.6,335.9L456.7,336.4L456.7,336.9L456.7,337.4L456.7,337.9L456.7,338.4L456.7,338.9L456.7,339.4L456.7,339.9L456.7,340.4L456.7,340.9L456.7,341.4L456.7,341.9L456.7,342.4L456.7,342.9L456.7,343.4L456.7,343.9L456.7,344.4L456.7,344.9L456.7,345.4L456.7,345.9L456.7,346.4L456.7,346.9L456.7,347.4L456.7,347.9L456.7,348.4L456.7,348.9L456.7,349.4L456.7,349.9L456.7,350.4L456.7,350.9L456.7,351.4L456.7,351.9L456.7,352.4L456.7,352.9L456.7,353.4L456.7,353.9L456.7,354.4L456.7,354.9L456.7,355.4L456.7,355.9L456.7,356.4L456.7,356.9L456.7,357.4L456.7,357.9L456.7,358.4L456.7,358.9L456.7,359.4L456.7,359.9L456.7,360.4L456.7,360.9L456.7,361.4L456.7,361.9L456.7,362.4L456.7,362.9L456.8,363.4L456.8,363.9L456.8,364.4L456.8,364.9L456.8,365.4L456.8,365.9L456.8,366.4L456.8,366.9L456.9,367.4L456.9,367.9L456.9,368.4L456.9,368.9L456.9,369.4L456.9,369.9L456.9,370.4L457.0,370.9L457.0,371.4L457.0,371.9L457.0,372.4L457.0,372.9L457.0,373.4L457.1,373.9L457.1,374.4L457.1,374.9L457.1,375.4L457.1,375.9L457.1,376.4L457.2,376.9L457.2,377.4L457.2,377.9L457.2,378.4L457.3,378.9L457.3,379.4L457.4,379.9L457.5,380.4L457.5,380.9L457.6,381.4L457.7,381.9L457.8,382.4L457.8,382.9L457.9,383.4L458.0,383.9L458.0,384.4L458.1,384.9L458.2,385.4L458.2,385.9L458.3,386.4L458.4,386.9L458.5,387.4L458.5,387.9L458.6,388.4L458.7,388.9L458.7,389.4L458.8,389.9L458.9,390.4L458.9,390.9L459.0,391.4L459.1,391.9L459.1,392.4L459.2,392.9L459.3,393.4L459.3,393.9L459.4,394.4L459.4,394.9L459.5,395.4L459.6,395.9L459.6,396.4L459.7,396.9L459.8,397.4L459.8,397.9L459.9,398.4L459.9,398.9L460.0,399.4L460.0,399.9L460.1,400.4L460.1,400.9L460.1,401.4L460.2,401.9L460.2,402.4L460.2,402.9L460.2,403.4L460.3,403.9L460.3,404.5L460.3,405.0L460.3,405.5L460.3,406.0L460.3,406.5L460.3,407.0L460.3,407.5L460.2,408.0L460.2,408.5L460.2,409.0L460.1,409.5L460.1,410.0L460.1,410.5L460.0,411.0L460.0,411.5L460.0,412.0L459.9,412.5L459.9,413.0L459.9,413.5L459.8,414.0L459.8,414.5L459.8,415.0L459.7,415.5L459.7,416.0L459.6,416.5L459.6,417.0L459.5,417.5L459.5,418.0L459.4,418.5L459.3,419.0L459.2,419.5L459.1,420.0L459.0,420.5L459.0,421.0L458.9,421.5L458.8,422.0L458.7,422.5L458.6,423.0L458.5,423.5L458.4,424.0L458.4,424.5L458.3,425.0L458.2,425.5L458.1,426.0L458.0,426.5L457.9,427.0L457.9,427.5L457.8,428.0L457.7,428.5L457.6,429.0L457.6,429.5L457.5,430.0L457.4,430.5L457.3,431.0L457.3,431.5L457.2,432.0L457.1,432.5L457.0,433.0L457.0,433.5L456.9,434.0L456.8,434.5L456.7,435.0L456.6,435.5L456.6,436.0L456.5,436.5L456.4,437.0L456.3,437.5L456.3,438.0L456.2,438.5L456.2,439.0L456.1,439.5L456.1,440.0L456.1,440.5L456.1,441.0L456.1,441.5L456.1,442.0L456.1,442.5L456.1,443.0L456.1,443.5L456.1,444.0L456.1,444.5L456.1,445.0L456.1,445.5L456.1,446.0L456.1,446.5L456.1,447.0L456.1,447.5L456.1,448.0L456.1,448.5L456.1,449.0L456.1,449.5L456.1,450.0L456.1,450.5L456.1,451.0L456.1,451.5L456.1,452.0L456.1,452.5L456.1,453.0L456.1,453.5L456.1,454.0L456.1,454.5L456.1,455.0L456.1,455.5L456.1,456.0L456.1,456.5L456.1,457.0L456.1,457.5L456.1,458.0L456.1,458.5L456.1,459.0L456.1,459.5L456.1,460.0L456.1,460.5L456.1,461.0L456.1,461.5L456.1,462.0L456.1,462.5L456.1,463.0L456.1,463.5L456.1,464.0L456.1,464.5L456.1,465.0L456.1,465.5L456.1,466.0L456.1,466.5L456.1,467.0L456.1,467.5L456.1,468.0L456.1,468.5L456.1,469.0L456.1,469.5L456.1,470.0L456.1,470.5L456.1,471.0L456.1,471.5L456.1,472.0L456.0,472.5L456.0,473.0L456.0,473.5L456.0,474.0L456.0,474.5L456.0,474.5L456.0,474.0L456.0,473.5L456.0,473.0L456.0,472.5L455.9,472.0L455.9,471.5L455.9,471.0L455.9,470.5L455.9,470.0L455.9,469.5L455.9,469.0L455.9,468.5L455.9,468.0L455.9,467.5L455.9,467.0L455.9,466.5L455.9,466.0L455.9,465.5L455.9,465.0L455.9,464.5L455.9,464.0L455.9,463.5L455.9,463.0L455.9,462.5L455.9,462.0L455.9,461.5L455.9,461.0L455.9,460.5L455.9,460.0L455.9,459.5L455.9,459.0L455.9,458.5L455.9,458.0L455.9,457.5L455.9,457.0L455.9,456.5L455.9,456.0L455.9,455.5L455.9,455.0L455.9,454.5L455.9,454.0L455.9,453.5L455.9,453.0L455.9,452.5L455.9,452.0L455.9,451.5L455.9,451.0L455.9,450.5L455.9,450.0L455.9,449.5L455.9,449.0L455.9,448.5L455.9,448.0L455.9,447.5L455.9,447.0L455.9,446.5L455.9,446.0L455.9,445.5L455.9,445.0L455.9,444.5L455.9,444.0L455.9,443.5L455.9,443.0L455.9,442.5L455.9,442.0L455.9,441.5L455.9,441.0L455.9,440.5L455.9,440.0L455.9,439.5L455.8,439.0L455.8,438.5L455.7,438.0L455.7,437.5L455.6,437.0L455.5,436.5L455.4,436.0L455.4,435.5L455.3,435.0L455.2,434.5L455.1,434.0L455.0,433.5L455.0,433.0L454.9,432.5L454.8,432.0L454.7,431.5L454.7,431.0L454.6,430.5L454.5,430.0L454.4,429.5L454.4,429.0L454.3,428.5L454.2,428.0L454.1,427.5L454.1,427.0L454.0,426.5L453.9,426.0L453.8,425.5L453.7,425.0L453.6,424.5L453.6,424.0L453.5,423.5L453.4,423.0L453.3,422.5L453.2,422.0L453.1,421.5L453.0,421.0L453.0,420.5L452.9,420.0L452.8,419.5L452.7,419.0L452.6,418.5L452.5,418.0L452.5,417.5L452.4,417.0L452.4,416.5L452.3,416.0L452.3,415.5L452.2,415.0L452.2,414.5L452.2,414.0L452.1,413.5L452.1,413.0L452.1,412.5L452.0,412.0L452.0,411.5L452.0,411.0L451.9,410.5L451.9,410.0L451.9,409.5L451.8,409.0L451.8,408.5L451.8,408.0L451.7,407.5L451.7,407.0L451.7,406.5L451.7,406.0L451.7,405.5L451.7,405.0L451.7,404.5L451.7,403.9L451.8,403.4L451.8,402.9L451.8,402.4L451.8,401.9L451.9,401.4L451.9,400.9L451.9,400.4L452.0,399.9L452.0,399.4L452.1,398.9L452.1,398.4L452.2,397.9L452.2,397.4L452.3,396.9L452.4,396.4L452.4,395.9L452.5,395.4L452.6,394.9L452.6,394.4L452.7,393.9L452.7,393.4L452.8,392.9L452.9,392.4L452.9,391.9L453.0,391.4L453.1,390.9L453.1,390.4L453.2,389.9L453.3,389.4L453.3,388.9L453.4,388.4L453.5,387.9L453.5,387.4L453.6,386.9L453.7,386.4L453.8,385.9L453.8,385.4L453.9,384.9L454.0,384.4L454.0,383.9L454.1,383.4L454.2,382.9L454.2,382.4L454.3,381.9L454.4,381.4L454.5,380.9L454.5,380.4L454.6,379.9L454.7,379.4L454.7,378.9L454.8,378.4L454.8,377.9L454.8,377.4L454.8,376.9L454.9,376.4L454.9,375.9L454.9,375.4L454.9,374.9L454.9,374.4L454.9,373.9L455.0,373.4L455.0,372.9L455.0,372.4L455.0,371.9L455.0,371.4L455.0,370.9L455.1,370.4L455.1,369.9L455.1,369.4L455.1,368.9L455.1,368.4L455.1,367.9L455.1,367.4L455.2,366.9L455.2,366.4L455.2,365.9L455.2,365.4L455.2,364.9L455.2,364.4L455.2,363.9L455.2,363.4L455.3,362.9L455.3,362.4L455.3,361.9L455.3,361.4L455.3,360.9L455.3,360.4L455.3,359.9L455.3,359.4L455.3,358.9L455.3,358.4L455.3,357.9L455.3,357.4L455.3,356.9L455.3,356.4L455.3,355.9L455.3,355.4L455.3,354.9L455.3,354.4L455.3,353.9L455.3,353.4L455.3,352.9L455.3,352.4L455.3,351.9L455.3,351.4L455.3,350.9L455.3,350.4L455.3,349.9L455.3,349.4L455.3,348.9L455.3,348.4L455.3,347.9L455.3,347.4L455.3,346.9L455.3,346.4L455.3,345.9L455.3,345.4L455.3,344.9L455.3,344.4L455.3,343.9L455.3,343.4L455.3,342.9L455.3,342.4L455.3,341.9L455.3,341.4L455.3,340.9L455.3,340.4L455.3,339.9L455.3,339.4L455.3,338.9L455.3,338.4L455.3,337.9L455.3,337.4L455.3,336.9L455.3,336.4L455.4,335.9L455.5,335.4L455.7,334.9L455.8,334.4L455.9,333.9L456.0,333.4Z" fill="url(#vgCD88)" stroke="none"/>
<line x1="454.00" y1="406.30" x2="458.00" y2="406.30" stroke="#bcbd22" stroke-width="1.0" stroke-opacity="0.9"/>
<linearGradient id="vgCD89" gradientUnits="userSpaceOnUse" x1="0" y1="333.4" x2="0" y2="474.5"><stop offset="0" stop-color="#17becf" stop-opacity="0.2"/><stop offset="0.090" stop-color="#17becf" stop-opacity="0.26"/><stop offset="0.303" stop-color="#17becf" stop-opacity="0.34"/><stop offset="0.723" stop-color="#17becf" stop-opacity="0.34"/><stop offset="0.743" stop-color="#17becf" stop-opacity="0.12"/><stop offset="1" stop-color="#17becf" stop-opacity="0.08"/></linearGradient>
<path d="M474.5,333.4L474.6,333.9L474.7,334.4L474.8,334.9L475.0,335.4L475.1,335.9L475.2,336.4L475.2,336.9L475.2,337.4L475.2,337.9L475.2,338.4L475.2,338.9L475.2,339.4L475.2,339.9L475.2,340.4L475.2,340.9L475.2,341.4L475.2,341.9L475.2,342.4L475.2,342.9L475.2,343.4L475.2,343.9L475.2,344.4L475.2,344.9L475.2,345.4L475.2,345.9L475.2,346.4L475.2,346.9L475.2,347.4L475.2,347.9L475.2,348.4L475.2,348.9L475.2,349.4L475.2,349.9L475.2,350.4L475.2,350.9L475.2,351.4L475.2,351.9L475.2,352.4L475.2,352.9L475.2,353.4L475.2,353.9L475.2,354.4L475.2,354.9L475.2,355.4L475.2,355.9L475.2,356.4L475.2,356.9L475.2,357.4L475.2,357.9L475.2,358.4L475.2,358.9L475.2,359.4L475.2,359.9L475.2,360.4L475.2,360.9L475.2,361.4L475.2,361.9L475.2,362.4L475.2,362.9L475.2,363.4L475.2,363.9L475.2,364.4L475.2,364.9L475.3,365.4L475.3,365.9L475.3,366.4L475.3,366.9L475.4,367.4L475.4,367.9L475.4,368.4L475.5,368.9L475.5,369.4L475.6,369.9L475.6,370.4L475.7,370.9L475.7,371.4L475.8,371.9L475.8,372.4L475.9,372.9L475.9,373.4L476.0,373.9L476.0,374.4L476.1,374.9L476.1,375.4L476.2,375.9L476.3,376.4L476.4,376.9L476.5,377.4L476.6,377.9L476.7,378.4L476.8,378.9L476.9,379.4L477.0,379.9L477.1,380.4L477.2,380.9L477.3,381.4L477.4,381.9L477.5,382.4L477.6,382.9L477.7,383.4L477.8,383.9L477.9,384.4L478.0,384.9L478.1,385.4L478.1,385.9L478.2,386.4L478.3,386.9L478.3,387.4L478.4,387.9L478.4,388.4L478.5,388.9L478.5,389.4L478.6,389.9L478.6,390.4L478.7,390.9L478.7,391.4L478.8,391.9L478.8,392.4L478.8,392.9L478.9,393.4L478.9,393.9L479.0,394.4L479.0,394.9L479.1,395.4L479.1,395.9L479.1,396.4L479.1,396.9L479.1,397.4L479.1,397.9L479.1,398.4L479.1,398.9L479.1,399.4L479.1,399.9L479.1,400.4L479.1,400.9L479.1,401.4L479.1,401.9L479.1,402.4L479.1,402.9L479.0,403.4L479.0,403.9L479.0,404.5L478.9,405.0L478.9,405.5L478.8,406.0L478.8,406.5L478.8,407.0L478.7,407.5L478.7,408.0L478.7,408.5L478.6,409.0L478.6,409.5L478.5,410.0L478.5,410.5L478.5,411.0L478.4,411.5L478.4,412.0L478.3,412.5L478.3,413.0L478.2,413.5L478.2,414.0L478.1,414.5L478.1,415.0L478.0,415.5L478.0,416.0L477.9,416.5L477.9,417.0L477.8,417.5L477.8,418.0L477.8,418.5L477.7,419.0L477.7,419.5L477.6,420.0L477.5,420.5L477.5,421.0L477.4,421.5L477.4,422.0L477.3,422.5L477.2,423.0L477.1,423.5L477.0,424.0L476.9,424.5L476.8,425.0L476.7,425.5L476.6,426.0L476.5,426.5L476.4,427.0L476.3,427.5L476.2,428.0L476.1,428.5L476.0,429.0L475.9,429.5L475.8,430.0L475.7,430.5L475.6,431.0L475.5,431.5L475.4,432.0L475.4,432.5L475.3,433.0L475.2,433.5L475.1,434.0L475.0,434.5L474.9,435.0L474.9,435.5L474.8,436.0L474.7,436.5L474.7,437.0L474.6,437.5L474.6,438.0L474.6,438.5L474.6,439.0L474.6,439.5L474.6,440.0L474.6,440.5L474.6,441.0L474.6,441.5L474.6,442.0L474.6,442.5L474.6,443.0L474.6,443.5L474.6,444.0L474.6,444.5L474.6,445.0L474.6,445.5L474.6,446.0L474.6,446.5L474.6,447.0L474.6,447.5L474.6,448.0L474.6,448.5L474.6,449.0L474.6,449.5L474.6,450.0L474.6,450.5L474.6,451.0L474.6,451.5L474.6,452.0L474.6,452.5L474.6,453.0L474.6,453.5L474.6,454.0L474.6,454.5L474.6,455.0L474.6,455.5L474.6,456.0L474.6,456.5L474.6,457.0L474.6,457.5L474.6,458.0L474.6,458.5L474.6,459.0L474.6,459.5L474.6,460.0L474.6,460.5L474.6,461.0L474.6,461.5L474.6,462.0L474.6,462.5L474.6,463.0L474.6,463.5L474.6,464.0L474.6,464.5L474.6,465.0L474.6,465.5L474.6,466.0L474.6,466.5L474.6,467.0L474.6,467.5L474.6,468.0L474.6,468.5L474.6,469.0L474.6,469.5L474.6,470.0L474.6,470.5L474.6,471.0L474.6,471.5L474.6,472.0L474.5,472.5L474.5,473.0L474.5,473.5L474.5,474.0L474.5,474.5L474.5,474.5L474.5,474.0L474.5,473.5L474.5,473.0L474.5,472.5L474.4,472.0L474.4,471.5L474.4,471.0L474.4,470.5L474.4,470.0L474.4,469.5L474.4,469.0L474.4,468.5L474.4,468.0L474.4,467.5L474.4,467.0L474.4,466.5L474.4,466.0L474.4,465.5L474.4,465.0L474.4,464.5L474.4,464.0L474.4,463.5L474.4,463.0L474.4,462.5L474.4,462.0L474.4,461.5L474.4,461.0L474.4,460.5L474.4,460.0L474.4,459.5L474.4,459.0L474.4,458.5L474.4,458.0L474.4,457.5L474.4,457.0L474.4,456.5L474.4,456.0L474.4,455.5L474.4,455.0L474.4,454.5L474.4,454.0L474.4,453.5L474.4,453.0L474.4,452.5L474.4,452.0L474.4,451.5L474.4,451.0L474.4,450.5L474.4,450.0L474.4,449.5L474.4,449.0L474.4,448.5L474.4,448.0L474.4,447.5L474.4,447.0L474.4,446.5L474.4,446.0L474.4,445.5L474.4,445.0L474.4,444.5L474.4,444.0L474.4,443.5L474.4,443.0L474.4,442.5L474.4,442.0L474.4,441.5L474.4,441.0L474.4,440.5L474.4,440.0L474.4,439.5L474.4,439.0L474.4,438.5L474.4,438.0L474.4,437.5L474.3,437.0L474.3,436.5L474.2,436.0L474.1,435.5L474.1,435.0L474.0,434.5L473.9,434.0L473.8,433.5L473.7,433.0L473.6,432.5L473.6,432.0L473.5,431.5L473.4,431.0L473.3,430.5L473.2,430.0L473.1,429.5L473.0,429.0L472.9,428.5L472.8,428.0L472.7,427.5L472.6,427.0L472.5,426.5L472.4,426.0L472.3,425.5L472.2,425.0L472.1,424.5L472.0,424.0L471.9,423.5L471.8,423.0L471.7,422.5L471.6,422.0L471.6,421.5L471.5,421.0L471.5,420.5L471.4,420.0L471.3,419.5L471.3,419.0L471.2,418.5L471.2,418.0L471.2,417.5L471.1,417.0L471.1,416.5L471.0,416.0L471.0,415.5L470.9,415.0L470.9,414.5L470.8,414.0L470.8,413.5L470.7,413.0L470.7,412.5L470.6,412.0L470.6,411.5L470.5,411.0L470.5,410.5L470.5,410.0L470.4,409.5L470.4,409.0L470.3,408.5L470.3,408.0L470.3,407.5L470.2,407.0L470.2,406.5L470.2,406.0L470.1,405.5L470.1,405.0L470.0,404.5L470.0,403.9L470.0,403.4L469.9,402.9L469.9,402.4L469.9,401.9L469.9,401.4L469.9,400.9L469.9,400.4L469.9,399.9L469.9,399.4L469.9,398.9L469.9,398.4L469.9,397.9L469.9,397.4L469.9,396.9L469.9,396.4L469.9,395.9L469.9,395.4L470.0,394.9L470.0,394.4L470.1,393.9L470.1,393.4L470.2,392.9L470.2,392.4L470.2,391.9L470.3,391.4L470.3,390.9L470.4,390.4L470.4,389.9L470.5,389.4L470.5,388.9L470.6,388.4L470.6,387.9L470.7,387.4L470.7,386.9L470.8,386.4L470.9,385.9L470.9,385.4L471.0,384.9L471.1,384.4L471.2,383.9L471.3,383.4L471.4,382.9L471.5,382.4L471.6,381.9L471.7,381.4L471.8,380.9L471.9,380.4L472.0,379.9L472.1,379.4L472.2,378.9L472.3,378.4L472.4,377.9L472.5,377.4L472.6,376.9L472.7,376.4L472.8,375.9L472.9,375.4L472.9,374.9L473.0,374.4L473.0,373.9L473.1,373.4L473.1,372.9L473.2,372.4L473.2,371.9L473.3,371.4L473.3,370.9L473.4,370.4L473.4,369.9L473.5,369.4L473.5,368.9L473.6,368.4L473.6,367.9L473.6,367.4L473.7,366.9L473.7,366.4L473.7,365.9L473.7,365.4L473.8,364.9L473.8,364.4L473.8,363.9L473.8,363.4L473.8,362.9L473.8,362.4L473.8,361.9L473.8,361.4L473.8,360.9L473.8,360.4L473.8,359.9L473.8,359.4L473.8,358.9L473.8,358.4L473.8,357.9L473.8,357.4L473.8,356.9L473.8,356.4L473.8,355.9L473.8,355.4L473.8,354.9L473.8,354.4L473.8,353.9L473.8,353.4L473.8,352.9L473.8,352.4L473.8,351.9L473.8,351.4L473.8,350.9L473.8,350.4L473.8,349.9L473.8,349.4L473.8,348.9L473.8,348.4L473.8,347.9L473.8,347.4L473.8,346.9L473.8,346.4L473.8,345.9L473.8,345.4L473.8,344.9L473.8,344.4L473.8,343.9L473.8,343.4L473.8,342.9L473.8,342.4L473.8,341.9L473.8,341.4L473.8,340.9L473.8,340.4L473.8,339.9L473.8,339.4L473.8,338.9L473.8,338.4L473.8,337.9L473.8,337.4L473.8,336.9L473.8,336.4L473.9,335.9L474.0,335.4L474.2,334.9L474.3,334.4L474.4,333.9L474.5,333.4Z" fill="url(#vgCD89)" stroke="none"/>
<line x1="472.50" y1="402.00" x2="476.50" y2="402.00" stroke="#17becf" stroke-width="1.0" stroke-opacity="0.9"/>
<linearGradient id="vgCD810" gradientUnits="userSpaceOnUse" x1="0" y1="333.4" x2="0" y2="474.5"><stop offset="0" stop-color="#1f77b4" stop-opacity="0.2"/><stop offset="0.210" stop-color="#1f77b4" stop-opacity="0.26"/><stop offset="0.422" stop-color="#1f77b4" stop-opacity="0.34"/><stop offset="0.731" stop-color="#1f77b4" stop-opacity="0.34"/><stop offset="0.751" stop-color="#1f77b4" stop-opacity="0.12"/><stop offset="1" stop-color="#1f77b4" stop-opacity="0.08"/></linearGradient>
<path d="M494.0,333.4L494.1,333.9L494.1,334.4L494.2,334.9L494.3,335.4L494.4,335.9L494.4,336.4L494.4,336.9L494.4,337.4L494.4,337.9L494.4,338.4L494.4,338.9L494.4,339.4L494.4,339.9L494.4,340.4L494.4,340.9L494.4,341.4L494.4,341.9L494.4,342.4L494.4,342.9L494.4,343.4L494.4,343.9L494.4,344.4L494.4,344.9L494.4,345.4L494.4,345.9L494.4,346.4L494.4,346.9L494.4,347.4L494.4,347.9L494.4,348.4L494.4,348.9L494.4,349.4L494.4,349.9L494.4,350.4L494.4,350.9L494.4,351.4L494.4,351.9L494.4,352.4L494.4,352.9L494.4,353.4L494.4,353.9L494.4,354.4L494.4,354.9L494.4,355.4L494.4,355.9L494.4,356.4L494.4,356.9L494.4,357.4L494.4,357.9L494.4,358.4L494.4,358.9L494.4,359.4L494.5,359.9L494.5,360.4L494.5,360.9L494.5,361.4L494.5,361.9L494.5,362.4L494.5,362.9L494.5,363.4L494.5,363.9L494.5,364.4L494.5,364.9L494.5,365.4L494.5,365.9L494.5,366.4L494.5,366.9L494.5,367.4L494.5,367.9L494.5,368.4L494.5,368.9L494.5,369.4L494.5,369.9L494.5,370.4L494.5,370.9L494.5,371.4L494.5,371.9L494.5,372.4L494.5,372.9L494.5,373.4L494.5,373.9L494.5,374.4L494.5,374.9L494.5,375.4L494.5,375.9L494.5,376.4L494.5,376.9L494.5,377.4L494.5,377.9L494.5,378.4L494.5,378.9L494.5,379.4L494.5,379.9L494.5,380.4L494.5,380.9L494.5,381.4L494.5,381.9L494.5,382.4L494.5,382.9L494.6,383.4L494.6,383.9L494.6,384.4L494.7,384.9L494.8,385.4L494.8,385.9L494.9,386.4L494.9,386.9L495.0,387.4L495.1,387.9L495.1,388.4L495.2,388.9L495.3,389.4L495.3,389.9L495.4,390.4L495.4,390.9L495.5,391.4L495.6,391.9L495.6,392.4L495.7,392.9L495.8,393.4L495.8,393.9L495.9,394.4L496.0,394.9L496.1,395.4L496.1,395.9L496.2,396.4L496.3,396.9L496.4,397.4L496.4,397.9L496.5,398.4L496.6,398.9L496.7,399.4L496.7,399.9L496.8,400.4L496.9,400.9L497.0,401.4L497.0,401.9L497.1,402.4L497.2,402.9L497.2,403.4L497.3,403.9L497.3,404.5L497.4,405.0L497.4,405.5L497.5,406.0L497.5,406.5L497.6,407.0L497.6,407.5L497.7,408.0L497.7,408.5L497.8,409.0L497.8,409.5L497.9,410.0L497.9,410.5L498.0,411.0L498.0,411.5L498.0,412.0L498.0,412.5L498.0,413.0L497.9,413.5L497.9,414.0L497.8,414.5L497.7,415.0L497.6,415.5L497.6,416.0L497.5,416.5L497.4,417.0L497.3,417.5L497.3,418.0L497.2,418.5L497.1,419.0L497.0,419.5L497.0,420.0L496.9,420.5L496.8,421.0L496.7,421.5L496.6,422.0L496.6,422.5L496.5,423.0L496.4,423.5L496.3,424.0L496.2,424.5L496.1,425.0L496.0,425.5L495.9,426.0L495.8,426.5L495.7,427.0L495.6,427.5L495.5,428.0L495.4,428.5L495.3,429.0L495.2,429.5L495.1,430.0L495.0,430.5L494.9,431.0L494.8,431.5L494.7,432.0L494.7,432.5L494.6,433.0L494.6,433.5L494.5,434.0L494.5,434.5L494.4,435.0L494.4,435.5L494.3,436.0L494.3,436.5L494.2,437.0L494.2,437.5L494.1,438.0L494.1,438.5L494.1,439.0L494.1,439.5L494.1,440.0L494.1,440.5L494.1,441.0L494.1,441.5L494.1,442.0L494.1,442.5L494.1,443.0L494.1,443.5L494.1,444.0L494.1,444.5L494.1,445.0L494.1,445.5L494.1,446.0L494.1,446.5L494.1,447.0L494.1,447.5L494.1,448.0L494.1,448.5L494.1,449.0L494.1,449.5L494.1,450.0L494.1,450.5L494.1,451.0L494.1,451.5L494.1,452.0L494.1,452.5L494.1,453.0L494.1,453.5L494.1,454.0L494.1,454.5L494.1,455.0L494.1,455.5L494.1,456.0L494.1,456.5L494.1,457.0L494.1,457.5L494.1,458.0L494.1,458.5L494.1,459.0L494.1,459.5L494.1,460.0L494.1,460.5L494.1,461.0L494.1,461.5L494.1,462.0L494.1,462.5L494.1,463.0L494.1,463.5L494.1,464.0L494.1,464.5L494.1,465.0L494.1,465.5L494.1,466.0L494.1,466.5L494.1,467.0L494.1,467.5L494.1,468.0L494.1,468.5L494.1,469.0L494.1,469.5L494.1,470.0L494.1,470.5L494.1,471.0L494.1,471.5L494.1,472.0L494.0,472.5L494.0,473.0L494.0,473.5L494.0,474.0L494.0,474.5L494.0,474.5L494.0,474.0L494.0,473.5L494.0,473.0L494.0,472.5L493.9,472.0L493.9,471.5L493.9,471.0L493.9,470.5L493.9,470.0L493.9,469.5L493.9,469.0L493.9,468.5L493.9,468.0L493.9,467.5L493.9,467.0L493.9,466.5L493.9,466.0L493.9,465.5L493.9,465.0L493.9,464.5L493.9,464.0L493.9,463.5L493.9,463.0L493.9,462.5L493.9,462.0L493.9,461.5L493.9,461.0L493.9,460.5L493.9,460.0L493.9,459.5L493.9,459.0L493.9,458.5L493.9,458.0L493.9,457.5L493.9,457.0L493.9,456.5L493.9,456.0L493.9,455.5L493.9,455.0L493.9,454.5L493.9,454.0L493.9,453.5L493.9,453.0L493.9,452.5L493.9,452.0L493.9,451.5L493.9,451.0L493.9,450.5L493.9,450.0L493.9,449.5L493.9,449.0L493.9,448.5L493.9,448.0L493.9,447.5L493.9,447.0L493.9,446.5L493.9,446.0L493.9,445.5L493.9,445.0L493.9,444.5L493.9,444.0L493.9,443.5L493.9,443.0L493.9,442.5L493.9,442.0L493.9,441.5L493.9,441.0L493.9,440.5L493.9,440.0L493.9,439.5L493.9,439.0L493.9,438.5L493.9,438.0L493.8,437.5L493.8,437.0L493.7,436.5L493.7,436.0L493.6,435.5L493.6,435.0L493.5,434.5L493.5,434.0L493.4,433.5L493.4,433.0L493.3,432.5L493.3,432.0L493.2,431.5L493.1,431.0L493.0,430.5L492.9,430.0L492.8,429.5L492.7,429.0L492.6,428.5L492.5,428.0L492.4,427.5L492.3,427.0L492.2,426.5L492.1,426.0L492.0,425.5L491.9,425.0L491.8,424.5L491.7,424.0L491.6,423.5L491.5,423.0L491.4,422.5L491.4,422.0L491.3,421.5L491.2,421.0L491.1,420.5L491.0,420.0L491.0,419.5L490.9,419.0L490.8,418.5L490.7,418.0L490.7,417.5L490.6,417.0L490.5,416.5L490.4,416.0L490.4,415.5L490.3,415.0L490.2,414.5L490.1,414.0L490.1,413.5L490.0,413.0L490.0,412.5L490.0,412.0L490.0,411.5L490.0,411.0L490.1,410.5L490.1,410.0L490.2,409.5L490.2,409.0L490.3,408.5L490.3,408.0L490.4,407.5L490.4,407.0L490.5,406.5L490.5,406.0L490.6,405.5L490.6,405.0L490.7,404.5L490.7,403.9L490.8,403.4L490.8,402.9L490.9,402.4L491.0,401.9L491.0,401.4L491.1,400.9L491.2,400.4L491.3,399.9L491.3,399.4L491.4,398.9L491.5,398.4L491.6,397.9L491.6,397.4L491.7,396.9L491.8,396.4L491.9,395.9L491.9,395.4L492.0,394.9L492.1,394.4L492.2,393.9L492.2,393.4L492.3,392.9L492.4,392.4L492.4,391.9L492.5,391.4L492.6,390.9L492.6,390.4L492.7,389.9L492.7,389.4L492.8,388.9L492.9,388.4L492.9,387.9L493.0,387.4L493.1,386.9L493.1,386.4L493.2,385.9L493.2,385.4L493.3,384.9L493.4,384.4L493.4,383.9L493.4,383.4L493.5,382.9L493.5,382.4L493.5,381.9L493.5,381.4L493.5,380.9L493.5,380.4L493.5,379.9L493.5,379.4L493.5,378.9L493.5,378.4L493.5,377.9L493.5,377.4L493.5,376.9L493.5,376.4L493.5,375.9L493.5,375.4L493.5,374.9L493.5,374.4L493.5,373.9L493.5,373.4L493.5,372.9L493.5,372.4L493.5,371.9L493.5,371.4L493.5,370.9L493.5,370.4L493.5,369.9L493.5,369.4L493.5,368.9L493.5,368.4L493.5,367.9L493.5,367.4L493.5,366.9L493.5,366.4L493.5,365.9L493.5,365.4L493.5,364.9L493.5,364.4L493.5,363.9L493.5,363.4L493.5,362.9L493.5,362.4L493.5,361.9L493.5,361.4L493.5,360.9L493.5,360.4L493.5,359.9L493.6,359.4L493.6,358.9L493.6,358.4L493.6,357.9L493.6,357.4L493.6,356.9L493.6,356.4L493.6,355.9L493.6,355.4L493.6,354.9L493.6,354.4L493.6,353.9L493.6,353.4L493.6,352.9L493.6,352.4L493.6,351.9L493.6,351.4L493.6,350.9L493.6,350.4L493.6,349.9L493.6,349.4L493.6,348.9L493.6,348.4L493.6,347.9L493.6,347.4L493.6,346.9L493.6,346.4L493.6,345.9L493.6,345.4L493.6,344.9L493.6,344.4L493.6,343.9L493.6,343.4L493.6,342.9L493.6,342.4L493.6,341.9L493.6,341.4L493.6,340.9L493.6,340.4L493.6,339.9L493.6,339.4L493.6,338.9L493.6,338.4L493.6,337.9L493.6,337.4L493.6,336.9L493.6,336.4L493.6,335.9L493.7,335.4L493.8,334.9L493.9,334.4L493.9,333.9L494.0,333.4Z" fill="url(#vgCD810)" stroke="none"/>
<line x1="492.00" y1="412.40" x2="496.00" y2="412.40" stroke="#1f77b4" stroke-width="1.0" stroke-opacity="0.9"/>
<line x1="304.50" y1="476.8" x2="304.50" y2="479.8" stroke="#444" stroke-width="0.8"/>
<line x1="323.40" y1="476.8" x2="323.40" y2="479.8" stroke="#444" stroke-width="0.8"/>
<line x1="341.80" y1="476.8" x2="341.80" y2="479.8" stroke="#444" stroke-width="0.8"/>
<line x1="361.40" y1="476.8" x2="361.40" y2="479.8" stroke="#444" stroke-width="0.8"/>
<line x1="380.20" y1="476.8" x2="380.20" y2="479.8" stroke="#444" stroke-width="0.8"/>
<line x1="399.40" y1="476.8" x2="399.40" y2="479.8" stroke="#444" stroke-width="0.8"/>
<line x1="418.50" y1="476.8" x2="418.50" y2="479.8" stroke="#444" stroke-width="0.8"/>
<line x1="437.30" y1="476.8" x2="437.30" y2="479.8" stroke="#444" stroke-width="0.8"/>
<line x1="456.10" y1="476.8" x2="456.10" y2="479.8" stroke="#444" stroke-width="0.8"/>
<line x1="474.50" y1="476.8" x2="474.50" y2="479.8" stroke="#444" stroke-width="0.8"/>
<line x1="494.00" y1="476.8" x2="494.00" y2="479.8" stroke="#444" stroke-width="0.8"/>
<line x1="408.60" y1="333" x2="408.60" y2="476" stroke="#c4c4c4" stroke-width="0.9"/>
<line x1="408.60" y1="333" x2="408.60" y2="476" stroke="#707070" stroke-width="0.9" stroke-dasharray="0.9 1.1"/>
<line x1="291.20" y1="409.04" x2="408.60" y2="409.04" stroke="#d4283a" stroke-width="1.4" stroke-dasharray="2.3 1.8"/>
<line x1="408.60" y1="403.39" x2="508.20" y2="403.39" stroke="#d4283a" stroke-width="1.4" stroke-dasharray="2.3 1.8"/>
<line x1="290.20" y1="332.4" x2="508.80" y2="332.4" stroke="#2a2a2a" stroke-width="1"/>
<line x1="508.20" y1="332.4" x2="508.20" y2="476.4" stroke="#2a2a2a" stroke-width="1.2"/>
<line x1="290.20" y1="476.4" x2="508.80" y2="476.4" stroke="#222" stroke-width="1.1"/>
<line x1="291.10" y1="332" x2="291.10" y2="477" stroke="#444" stroke-width="1.9"/>
<text x="350.20" y="489.60" font-size="9.0" text-anchor="middle" fill="#1a1a1a" stroke="#1a1a1a" stroke-width="0.2" textLength="20.30" lengthAdjust="spacingAndGlyphs" >Control</text>
<text x="458.50" y="489.60" font-size="9.0" text-anchor="middle" fill="#1a1a1a" stroke="#1a1a1a" stroke-width="0.2" textLength="21.30" lengthAdjust="spacingAndGlyphs" >Vaccine</text>
<text x="17.30" y="404.00" font-size="8.4" text-anchor="middle" fill="#1a1a1a" stroke="#1a1a1a" stroke-width="0.12" textLength="90.50" lengthAdjust="spacingAndGlyphs" transform="rotate(-90 17.30 404.00)" >Mean log fold-change from D12</text>
<rect x="0.5" y="0.5" width="519" height="495" fill="none" stroke="#151515" stroke-width="1.2"/></svg></body></html>
